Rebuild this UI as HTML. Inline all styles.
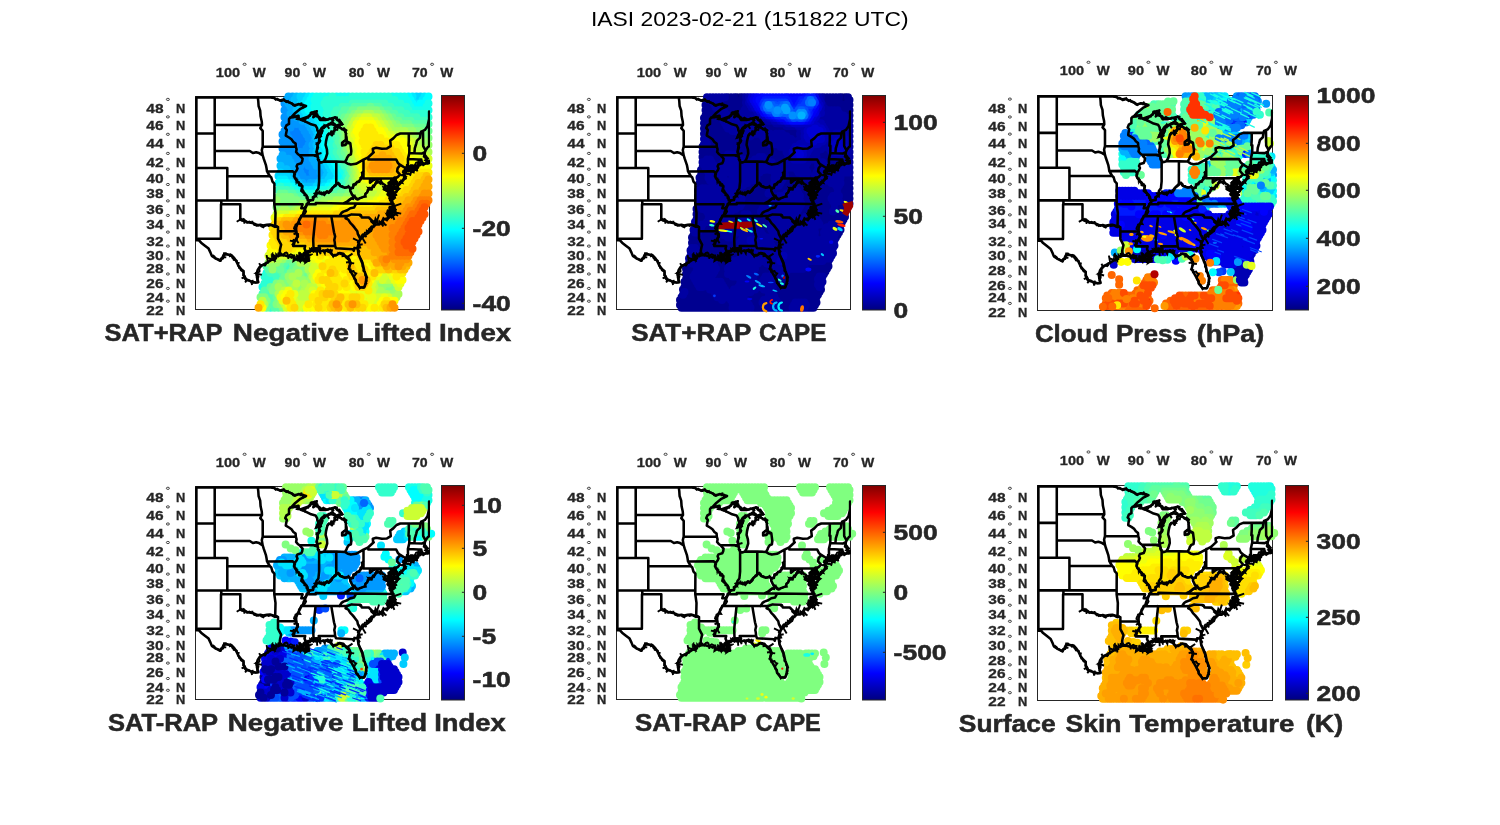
<!DOCTYPE html>
<html><head><meta charset="utf-8"><title>IASI 2023-02-21 (151822 UTC)</title>
<style>html,body{margin:0;padding:0;background:#fff;}body{width:1500px;height:825px;overflow:hidden;font-family:"Liberation Sans",sans-serif;}svg{display:block;}text{font-family:"Liberation Sans",sans-serif;filter:url(#ga);}.b{font-weight:bold;fill:#262626;stroke:#262626;stroke-width:0.3px;}.s6{stroke-width:0.55px;}.s5{stroke-width:0.5px;}</style></head><body>
<svg width="1500" height="825" viewBox="0 0 1500 825">
<defs>
<linearGradient id="jet" x1="0" y1="1" x2="0" y2="0">
<stop offset="0" stop-color="#000080"/>
<stop offset="0.125" stop-color="#0000ff"/>
<stop offset="0.375" stop-color="#00ffff"/>
<stop offset="0.625" stop-color="#ffff00"/>
<stop offset="0.875" stop-color="#ff0000"/>
<stop offset="1" stop-color="#800000"/>
</linearGradient>
<g id="states"><path d="M0.9 143.8L0.9 0.9L75.4 0.9M0.9 143.8L3.5 143.8M3.5 143.8L5.6 146.2L9.4 149.2L13.1 152.1L15.0 156.1L16.3 159.4L20.1 161.9L24.8 164.3L26.7 161.6L28.0 158.7L30.2 157.8L35.9 158.5L38.8 161.6L40.7 164.5L42.9 169.1L45.7 172.7L47.9 174.5L48.2 178.4L50.5 182.6L56.2 185.1L59.9 186.1L62.8 185.7M62.8 185.7L61.5 181.2L61.2 176.9L62.2 173.4L64.1 170.5L67.5 168.4L72.0 165.9L75.8 163.4L78.3 161.2L78.0 158.7L78.9 160.5L83.7 159.0M2.9 142.9L2.9 142.2L25.4 142.2L25.5 107.8M3.5 143.8L2.9 142.9M0.9 103.9L78.8 103.9M25.8 103.9L25.8 107.8L44.8 107.8L44.8 122.9M44.8 122.9L46.7 124.1L49.8 124.8L51.7 125.6L53.6 126.0L56.8 126.4L59.3 127.5L62.5 129.0L65.0 128.3L67.5 129.0L71.3 128.3L74.5 128.0L77.7 129.0L79.7 129.9L82.5 130.5M82.5 130.5L82.5 142.2L84.0 145.1L85.6 148.2L84.6 152.5L84.3 154.7L84.6 156.5L83.7 159.0M0.9 71.5L31.8 71.5L31.8 103.9M31.8 79.7L74.4 79.7M0.9 37.0L19.2 37.0M19.2 0.9L19.2 71.5M19.2 28.5L66.5 28.5M19.2 54.5L54.3 54.5L57.4 56.5L60.6 55.8L63.7 56.6L65.6 57.9L67.2 58.9M67.2 58.9L68.2 62.2L69.4 65.6L70.5 68.9L71.0 71.5L71.5 74.9L72.9 77.3L74.4 79.7L75.8 81.0L77.0 85.1L78.9 87.1L78.8 103.9L78.8 107.8M67.2 58.9L66.3 53.6L67.2 50.2L67.2 34.3L64.8 31.6L66.5 28.5M66.5 28.5L66.3 25.3L65.1 19.8L64.7 14.2L63.1 9.5L62.8 4.8L62.3 0.9M67.2 50.2L100.3 50.2M71.5 74.9L97.1 74.7L99.0 76.6M75.4 0.9L75.4 0.9M75.4 0.9L78.3 1.4L82.7 3.3L85.9 4.3L87.8 3.6L92.2 5.3L95.4 6.7L99.2 8.8L103.0 7.6L108.0 8.6L110.5 9.5L104.9 12.3L99.8 16.5L95.4 21.1L94.7 21.1M94.7 21.1L100.4 20.2L103.0 19.3L102.3 22.5L105.4 22.8M94.7 21.1L93.5 22.5L93.5 27.4L90.9 28.9L89.8 31.6L91.3 33.4L90.6 37.0L90.3 39.2L93.5 41.0L96.0 42.7L97.9 45.4L100.1 47.1L100.3 50.2M100.3 50.2L101.1 52.8L100.6 55.4L102.3 57.5L104.0 58.7L105.5 60.5L107.1 62.2L106.7 64.7L105.8 66.8L102.0 67.9L101.1 69.8L102.0 71.9L101.1 74.0L99.0 76.6L98.5 79.7L99.5 81.8L101.7 84.7L103.6 87.1L103.9 88.7L106.9 89.5L106.7 91.5L105.8 94.4L108.6 96.8L111.2 99.5L111.2 101.5L113.5 104.1M113.5 104.1L113.1 107.0L111.5 107.8L110.5 110.2L109.9 111.7L108.3 115.2L107.4 118.3L106.1 119.5L104.2 123.3L102.0 127.1L100.7 130.9L100.6 134.7L101.4 138.4L102.3 139.9L100.7 142.2L99.2 145.1L97.9 149.5L109.7 149.5L109.0 152.1L110.5 155.4M78.8 107.8L107.1 107.8L105.8 111.7L109.9 111.7M78.8 107.8L80.0 116.4L79.7 129.9M82.5 134.5L100.6 134.7M104.0 58.7L121.9 58.8M111.5 107.8L120.3 107.8L120.3 106.4L148.0 107.0L160.6 107.1L197.4 107.4M106.1 119.5L143.9 119.6L151.7 119.5M160.6 107.1L158.6 111.0L154.8 111.7L151.7 113.7L147.9 115.1L146.0 116.4L143.9 119.6M119.4 119.5L120.0 120.2L118.4 135.4L117.7 142.9L118.1 154.2M135.8 119.6L138.5 135.7L139.6 139.9L138.8 143.6L139.3 145.9L139.6 149.5M139.6 149.5L123.2 149.5L124.5 152.1L123.7 154.8M139.6 149.5L140.5 151.7L157.3 152.7L158.3 154.2L158.9 151.4L162.1 151.7M165.7 141.9L164.3 141.4L162.4 137.7L161.8 134.7L158.9 130.9L157.0 128.6L154.8 126.4L152.9 123.3L151.7 122.5L150.1 121.8L151.7 119.5M151.7 119.5L156.1 117.9L164.6 118.3L164.6 119.1L165.4 118.7L166.3 120.9L173.3 121.0L180.4 128.1M148.0 107.0L151.7 105.1L154.2 103.1L156.7 101.5L158.8 99.6L156.7 98.4L154.8 94.4L154.8 92.6M158.8 99.6L161.1 102.3L163.7 101.9L165.9 101.1L169.4 99.9L170.0 97.2L171.6 96.0L173.5 91.5L175.7 92.6L177.6 89.5L178.4 89.8L181.7 84.7L185.0 86.9L185.7 85.3M168.0 74.5L167.1 76.4L166.8 79.7L165.9 82.2L163.7 84.7L161.5 85.5L160.2 87.9L158.6 88.3L157.3 91.1L154.8 92.6L153.2 90.3L150.4 91.1L147.9 90.7L144.7 89.5L142.8 87.1L140.8 87.1L140.6 88.7L138.4 90.3L136.8 91.5L135.2 93.6L133.3 96.0L131.4 94.8L130.1 96.5L128.3 96.1L126.4 97.6L123.2 96.4L120.7 97.6L120.0 99.9L117.8 100.7L117.5 103.3L113.5 104.1M120.3 97.6L121.0 94.4L122.9 91.9L123.6 85.1L123.6 65.1M140.8 87.1L140.8 65.6M128.3 65.1L140.8 65.1L149.4 65.4M105.4 22.8L113.7 26.8L115.6 27.8L120.0 28.9L121.6 31.6L121.9 33.9L123.2 36.1M168.0 63.0L168.0 82.0L197.9 82.0M172.8 60.8L172.8 63.0L200.7 63.0L202.4 66.4L204.8 68.4L202.1 71.7L201.6 74.8L204.5 78.1L202.2 80.6L200.3 81.4M174.5 82.0L174.5 86.3L176.9 84.2L179.2 83.0L181.4 82.9L182.6 82.4L184.9 83.0L185.7 85.3L187.1 87.1L189.5 88.5L190.0 89.5L188.3 92.8L190.2 93.6L194.7 96.4M197.9 82.0L199.1 81.1L200.3 81.4M197.9 82.0L198.5 92.4L202.6 92.4M204.8 68.4L209.8 71.5L209.2 74.0M212.4 62.6L212.5 68.9L210.9 70.6L211.4 71.5M212.4 62.6L213.8 56.6L213.9 49.3L213.0 49.3L213.3 44.1L213.3 37.0M225.0 37.0L204.8 37.0L201.0 38.5L197.8 41.9L194.7 44.1L195.3 49.7L191.5 51.9L186.4 52.3L180.7 51.3L177.3 52.3L177.6 55.4L178.2 55.8L172.8 60.8L168.0 63.2L160.5 67.3L155.4 68.1L152.3 67.3L149.4 65.4M212.4 62.6L223.1 62.9L225.8 62.9L225.8 63.9L227.4 67.3M223.1 62.9L223.1 68.1L222.8 68.8M213.8 56.6L218.9 56.8L226.3 57.1L229.3 55.6M218.9 56.8L219.3 51.9L220.6 47.6L221.5 44.1L224.4 41.4L225.0 37.0L225.6 35.2L227.5 34.3L227.7 49.6L230.1 53.9M227.5 34.3L229.4 33.4L232.0 29.8L233.6 22.5M83.7 159.0L87.8 158.5L93.5 160.1L96.6 160.5L99.8 161.9L102.3 163.7L106.7 163.4L111.8 164.1L113.7 164.1L111.8 160.5L110.5 157.6L111.8 156.5L110.5 155.4L114.3 154.1L118.1 154.2L120.0 154.7L120.7 151.7L121.3 153.9L123.7 154.8L130.1 153.9L134.6 155.8L137.7 159.0L140.3 159.0L144.1 156.5L147.9 157.2L150.4 160.5L153.5 163.4L154.5 167.7L153.5 172.0L155.1 174.8L158.0 179.8L159.9 183.3L160.5 186.1L164.3 191.0L168.7 191.0L170.3 186.8L170.9 179.8L168.7 174.1L167.5 168.4L165.6 164.1L163.0 157.6L162.1 151.7L163.0 147.3L164.3 143.6L165.7 141.9L168.4 139.5L171.9 136.9L175.7 133.9L176.9 130.9L180.4 128.1L183.9 127.9L184.5 127.1L188.3 122.9L192.1 121.8L194.7 119.9L199.4 117.6L199.7 113.3L197.4 107.4L196.6 104.7L194.7 103.9L194.7 99.1L194.7 96.4L194.0 93.6L193.4 89.5L194.0 86.3L195.9 83.8L195.3 87.9L194.7 91.9L197.2 94.4L197.8 96.4L196.9 102.7L198.8 96.4L200.3 96.0L202.6 92.4L202.2 89.5L200.3 85.5L199.4 83.0L200.3 81.4M194.7 119.9L192.8 118.7L193.4 116.4L196.6 116.4L197.8 112.5L194.0 111.7L197.2 110.2L197.4 107.4M199.4 83.0L201.6 85.9L203.5 88.3L206.7 84.7L208.6 81.8L209.2 76.4L207.6 75.6L209.2 74.0M209.2 74.8L213.6 74.5L218.7 73.0L222.5 71.0L220.0 70.6L218.1 71.7L214.3 72.0L210.8 72.7L209.2 74.8M211.4 71.5L216.2 69.4L221.9 68.9L222.8 68.8L225.0 68.4L225.6 65.6L226.9 67.3L227.4 67.3L230.1 66.8M123.2 36.1L120.7 41.0L123.8 38.3L127.0 34.3L123.8 41.4L123.5 44.9L122.2 48.4L121.3 54.1L121.9 58.8L122.9 63.9L123.6 65.1L125.7 66.0L128.3 65.1L130.1 62.2L131.7 57.1L131.4 52.8L130.1 48.4L130.5 44.9L131.7 39.6L133.3 37.4L135.8 37.0L135.8 35.2L136.5 38.8L137.4 35.2L139.6 33.4L139.0 31.2L141.2 30.0L144.7 31.2L149.4 34.3L150.4 37.0L150.4 43.2L146.6 46.2L146.6 48.9L149.4 48.4L152.3 45.4L154.8 46.7L155.8 54.5L155.4 57.9L153.2 58.8L151.7 60.9L151.0 63.0L149.4 65.4M123.2 36.1L126.4 31.2L128.9 29.3L131.4 28.9L135.8 27.5L141.2 29.2L144.1 28.0L146.6 28.0L145.3 25.7L143.7 23.4L142.2 23.9L139.6 21.0L136.5 21.8L130.1 23.4L124.5 23.4L122.6 20.2L119.4 19.3L117.8 20.7L121.3 14.7L116.9 16.5L112.4 20.2L105.4 22.8M233.6 15.1L233.6 49.7L232.3 50.6L230.1 53.9M230.1 53.9L229.4 55.6L229.1 57.9L228.5 60.1L230.1 61.3L230.7 63.5L233.6 64.7M233.6 64.7L233.6 66.4L230.1 66.8" fill="none" stroke="#000" stroke-width="2.55" stroke-linejoin="round" stroke-linecap="round"/><path d="M62.6 185.7L62.5 184.6L61.6 183.6L62.2 182.2L62.7 181.1L63.0 179.7L60.9 178.4L60.6 176.8L66.3 178.3L60.6 176.8L62.5 176.0L64.0 175.2L64.1 174.7L63.9 173.2L64.0 171.9L64.2 170.7L65.3 170.0L63.7 166.7L65.3 170.0L66.0 168.5L67.4 168.2L69.4 169.1L70.3 168.1L70.7 166.2L72.2 166.2L72.1 164.0L71.6 161.2L71.1 158.6L71.6 161.2L73.4 161.9L75.1 162.6L77.4 163.5L79.2 163.9L77.0 158.3L79.2 163.9L80.3 161.0L77.7 160.0L76.8 159.3L79.6 162.8L80.7 162.0L80.7 157.9L82.7 160.0L83.7 159.0M83.6 158.4L82.4 156.0L83.6 158.4L84.7 156.5L84.4 153.4L84.7 156.5L86.3 157.6L87.9 158.0L89.6 156.3L87.3 159.6L89.6 156.3L90.9 156.1L91.9 156.9L92.5 159.1L92.9 162.4L92.5 159.1L93.6 158.9L95.3 157.9L97.4 158.9L95.3 162.1L97.4 158.9L98.6 158.9L98.2 162.6L97.9 164.6L101.6 162.1L102.2 162.7L103.4 163.0L104.7 165.0L105.5 162.1L103.5 159.3L105.5 162.1L107.0 161.6L108.2 162.0L109.6 161.4L110.7 162.6L111.8 161.5L112.5 158.2L111.8 161.5L110.1 166.0L113.7 163.5L110.1 166.0L108.8 165.1L108.4 163.8L112.4 160.2L112.6 158.4L111.5 158.7L112.4 161.3L111.5 158.7L112.4 155.8L110.3 157.0L112.4 155.8L111.3 157.5L112.1 155.8L112.7 158.3L112.1 155.8L113.4 155.4L114.3 155.9L115.6 154.8L116.4 150.8L115.6 154.8L116.9 152.8L118.0 154.6L120.4 151.1L118.0 154.6L121.1 154.9L116.5 154.7L121.1 154.9L122.3 153.6L119.8 152.0L120.8 152.9L123.2 150.7L120.8 152.9L121.4 153.5L121.7 159.3L121.4 153.5L122.7 154.0L123.7 154.8M123.7 154.6L125.2 157.7L123.7 154.6L125.1 155.2L126.3 154.7L127.5 153.8L129.3 157.0L129.6 155.2L131.9 152.9L133.0 153.4L133.9 154.4L135.5 152.5L133.9 154.4L136.4 154.0L135.9 156.1L136.0 157.6L136.8 158.4L137.7 160.2L139.0 158.2L139.7 158.2L141.0 158.1L142.2 157.8L142.7 156.5L144.0 156.9L145.2 157.5L146.4 157.9L146.9 158.0L147.0 159.6L149.8 159.2L150.9 159.9L152.8 159.9L157.0 157.1L152.8 159.9L153.3 161.5L154.3 163.2L154.3 164.3L155.0 165.3L150.5 166.0L155.0 165.3L155.1 166.4L158.7 166.9L155.1 166.4L155.1 167.8L154.0 169.1L153.9 170.6L153.0 172.3L155.1 173.0L154.8 175.0L158.0 174.5L158.6 175.5L159.3 176.4L160.7 176.9L159.1 179.2L158.4 181.1L158.8 182.4L160.3 183.2L160.8 184.6L160.5 186.1L161.3 187.1L162.6 187.6L163.0 188.9L163.5 190.0L164.3 191.9L165.4 190.9L166.5 190.8L167.6 191.2L168.7 191.0M168.3 190.8L169.0 189.9L169.5 188.9L169.4 187.7L170.8 186.9L170.1 185.6L171.2 184.5L171.0 183.3L171.0 182.1L171.6 181.0L170.5 180.0L169.7 179.0L169.7 177.6L169.6 176.4L169.2 175.2L167.8 174.3L168.0 173.1L168.0 171.9L167.4 170.8L166.9 169.7L166.9 168.6L168.4 168.3L166.9 168.6L167.1 167.3L167.2 166.0L166.8 164.8L166.2 163.9L165.7 162.8L165.1 161.8L164.4 160.8L164.0 159.7L163.2 158.8L163.0 157.6L162.9 156.4L164.0 155.0L163.3 153.9L162.5 152.8L162.1 151.7M162.1 151.7L164.7 151.1L164.1 149.8L163.1 148.5L167.2 147.7L163.1 148.5L163.9 147.6L162.3 145.7L164.1 147.6L162.3 145.7L162.8 144.5L157.5 141.9L162.8 144.5L164.6 143.9L164.8 142.6L165.0 141.1L163.4 138.6L165.0 141.1L166.9 141.5L170.2 147.1L166.9 141.5L166.3 139.0L167.1 137.8L168.7 137.6L170.9 140.7L168.7 137.6L169.4 136.1L171.2 136.0L171.3 134.2L173.4 135.0L173.4 132.9L175.1 133.7L174.4 131.6L176.0 129.8L178.0 130.5L178.1 128.8L178.6 127.7L175.0 124.5L178.6 127.7L180.0 122.2L181.4 124.8L183.6 118.0L181.4 124.8L182.7 126.7L179.7 121.8L182.7 126.7L182.7 126.9L176.1 124.0L182.7 126.9L184.4 127.0L184.5 125.5L187.9 129.9L184.5 125.5L187.1 126.4L191.0 129.0L187.1 126.4L187.6 125.3L190.0 128.6L187.6 125.3L187.1 123.4L187.9 121.5L189.7 123.0L191.4 124.0L192.6 122.4L193.7 121.2L194.7 119.9M193.1 116.7L195.3 118.2L197.2 119.2L198.9 123.3L197.2 119.2L198.6 118.9L199.9 117.6L202.6 119.2L199.9 117.6L201.2 116.3L205.7 117.1L201.2 116.3L199.0 114.7L200.2 113.1L198.5 112.4L199.0 110.9L199.8 109.2L205.8 107.1L199.8 109.2L197.7 108.7L198.1 107.2L195.3 106.6L197.4 104.8L195.3 106.6L197.1 103.4L200.0 100.5L197.1 103.4L194.7 103.9M194.2 120.6L192.7 120.9L191.4 118.4L196.9 121.7L191.4 118.4L191.7 117.2L193.4 115.3L195.0 116.2L194.9 115.8L195.3 114.6L194.5 112.9L198.1 111.1L197.2 109.3L195.5 110.8L193.2 110.1L194.7 110.5L196.7 111.9L198.7 110.3L194.4 110.3L198.7 110.3L197.8 108.8L197.4 107.4M198.8 103.3L197.8 101.8L193.4 102.2L197.8 101.8L199.7 101.3L199.3 100.0L199.7 98.9L201.7 98.4L199.4 98.9L199.6 95.5L201.5 95.0L202.1 93.7L204.0 92.2L201.3 91.1L200.9 90.1L198.0 90.3L194.2 91.5L198.0 90.3L199.2 88.5L197.2 90.0L199.2 88.5L200.3 86.7L201.2 85.1L200.1 84.2L200.2 82.4L199.8 84.3L201.7 80.1L199.8 84.3L197.6 87.5L200.5 86.8L201.7 87.7L202.7 87.6L203.9 87.1L204.1 85.6L206.9 86.5L205.7 84.0L207.9 84.1L208.4 83.1L210.5 82.0L210.4 80.7L209.5 79.2L204.9 78.5L209.5 79.2L207.9 77.6L209.4 76.1L208.3 76.2L207.9 74.3L209.2 74.0M209.3 77.1L210.4 76.5L211.8 73.1L210.4 76.5L211.6 77.6L212.7 77.1L214.8 78.4L216.3 73.0L214.8 78.4L215.3 75.5L216.6 75.1L218.2 75.9L218.8 73.3L220.6 73.6L220.3 69.8L221.8 75.0L221.2 71.0L219.4 69.6L218.0 71.1L216.3 68.3L218.0 71.1L216.8 71.6L215.3 69.1L214.0 70.5L213.0 71.5L213.8 68.9L213.0 71.5L211.8 71.7L210.8 72.7M211.2 71.1L211.4 67.6L211.2 71.1L213.1 72.0L214.5 72.0L215.8 71.7L216.1 69.0L217.3 69.3L218.5 69.6L219.5 68.4L220.5 66.2L221.3 66.0L222.3 66.1L223.9 68.6L222.8 67.9L225.3 67.0L225.2 65.9L226.9 67.9L227.7 68.8L228.9 68.0L230.1 67.3L231.3 66.9L230.0 65.0L231.3 66.9L232.4 66.5L233.4 66.4L233.8 64.3L231.8 64.9L232.4 68.1L231.8 64.9L229.7 63.8L232.5 61.8L231.0 60.2L230.6 60.7L230.7 59.6L229.1 57.9M44.6 123.2L41.2 125.2L44.6 123.2L46.4 122.4L46.9 123.2L48.6 123.1L48.9 127.2L48.6 123.1L50.1 124.1L51.6 126.3L53.7 125.1L55.3 125.7L56.9 126.1L56.8 124.3L56.9 126.1L58.0 127.0L58.8 128.6L60.1 128.5L61.3 128.8L60.0 129.8L61.3 128.8L62.2 128.2L63.6 128.2L64.8 128.8L65.9 130.0L67.9 130.9L68.9 129.5L70.2 129.4L71.4 128.7L73.0 129.5L74.2 129.0L75.4 128.8L76.5 128.9L77.4 129.7L79.5 130.6L81.2 129.5L82.5 130.5M113.5 104.1L113.0 105.5L112.5 106.0L110.8 107.6L111.2 109.1L109.7 109.9L108.8 111.2L109.9 113.1L110.6 114.9L110.2 115.8L109.3 117.2L108.3 119.3L105.6 119.2L105.0 120.5L104.3 121.8L103.4 122.9L103.3 124.1L103.5 125.5L104.6 127.4L102.3 127.2L100.1 127.9L99.6 129.1L98.8 130.8L98.5 132.1L100.3 133.4L100.5 134.7L101.0 135.9L98.1 138.1L101.0 135.9L100.9 137.2L102.6 137.6L102.6 140.1L101.2 140.8L101.5 142.6L101.2 143.7L103.1 146.7L101.2 143.7L99.8 144.2L97.2 143.1L99.8 144.2L97.8 144.7L94.4 144.1L97.8 144.7L97.8 145.9L97.7 147.1L96.9 148.1L97.9 149.5M99.9 76.8L99.5 78.3L99.0 79.5L99.4 80.6L99.4 81.8L101.0 82.1L100.9 83.7L101.0 85.2L102.3 82.7L101.0 85.2L103.3 85.4L104.5 86.9L104.1 88.1L105.8 87.7L106.5 89.5L106.2 91.4L106.3 93.0L106.9 93.0L107.8 93.9L108.3 95.3L109.1 96.3L109.8 97.4L108.4 99.6L109.8 97.4L110.8 98.2L111.2 99.5L112.3 100.5L112.5 101.8L112.0 103.9L113.5 104.1M140.4 87.1L140.2 88.2L139.0 88.8L138.1 90.0L137.0 91.7L136.6 93.0L135.9 94.1L134.3 93.8L135.9 94.1L134.9 95.3L133.0 96.5L132.1 95.9L132.0 95.2L130.1 96.7L128.4 99.6L130.1 96.7L128.5 96.5L128.3 98.1L126.3 97.6L125.8 96.0L124.3 96.6L123.7 94.0L124.3 96.6L123.4 96.7L121.6 96.2L120.2 97.4L120.5 98.8L118.2 96.3L120.5 98.8L119.7 99.1L118.7 99.6L117.1 100.7L118.0 102.1L117.6 103.7L116.2 103.5L114.9 104.3L113.5 104.1M168.4 74.6L166.2 76.3L166.9 77.5L166.6 78.6L166.5 79.6L165.5 80.6L164.8 81.2L164.8 82.7L164.1 83.6L163.9 85.4L163.7 83.9L163.9 85.4L162.8 85.7L161.9 85.7L160.2 86.4L160.0 87.0L157.6 87.9L157.5 89.5L157.6 91.5L155.6 91.1L154.7 92.7L154.2 91.3L153.0 89.5L151.9 90.9L150.4 91.0L149.1 91.4L148.0 90.5L147.0 89.7L145.8 89.7L144.9 89.4L144.5 87.7L142.8 86.1L140.8 87.1M147.9 106.8L149.2 106.5L150.4 105.7L151.6 105.0L153.2 104.4L154.3 103.3L155.2 102.0L157.6 102.5L157.5 100.3L159.0 99.4L159.0 101.0L159.8 101.9L161.2 103.0L162.5 103.0L162.1 101.7L162.5 103.0L163.8 102.2L164.8 101.6L166.0 101.4L167.0 100.5L168.2 100.2L170.3 100.1L169.7 98.6L170.0 97.2L171.4 95.9L172.1 94.9L172.1 93.6L174.0 93.1L173.2 92.0L174.4 92.5L176.3 93.0L176.6 91.7L174.5 91.3L176.6 91.7L177.3 90.8L177.7 89.3L178.6 89.9L177.0 88.6L178.6 89.9L178.8 88.6L179.7 87.7L180.0 86.4L182.5 86.4L180.0 86.4L180.5 85.3L181.8 84.4L182.7 85.5L184.2 85.6L185.2 86.9L185.7 85.3M17.0 158.3L17.7 159.3L18.8 159.8L19.4 160.9L20.0 162.1L21.5 162.2L22.6 162.8L24.0 163.1L24.2 163.9L26.0 164.6L24.2 163.9L25.1 163.1L25.5 162.0L27.6 162.0L28.4 160.6L30.8 160.9L28.4 160.6L28.1 158.8L28.5 156.6L30.4 156.6L31.4 157.4L32.5 158.3L33.6 158.8L34.8 158.1L35.4 159.0L33.6 160.2L35.4 159.0L36.3 160.1L36.9 161.4L37.8 162.2L38.2 163.3L39.9 163.6L41.3 164.2L41.3 165.6L42.5 166.4L44.1 166.4L42.5 166.4L42.6 167.8L42.7 169.2L43.3 170.3L43.6 171.5L44.7 172.0L45.2 173.4L46.1 174.4L47.1 174.5L48.9 175.0L47.1 174.5L48.2 175.7L48.0 177.1L47.6 178.7L48.3 179.7L49.2 180.5L46.1 181.9L49.2 180.5L49.0 182.0L50.2 183.3L51.4 183.6L49.6 185.9L51.4 183.6L52.7 183.6L52.1 185.0L52.7 183.6L53.9 184.1L54.9 184.9L55.9 185.9L56.6 188.4L55.9 185.9L57.2 186.1L56.9 183.4L57.2 186.1L58.6 185.9L59.9 186.1L61.4 186.1L62.8 185.7M122.5 35.7L122.3 36.9L122.2 38.1L121.3 38.8L121.4 40.1L120.7 41.1L122.1 40.6L123.3 39.9L123.5 38.1L124.6 37.3L126.1 36.8L126.0 35.2L125.7 33.7L126.4 35.3L126.2 36.4L124.4 36.8L124.9 38.2L125.7 39.8L124.6 40.6L123.1 41.3L123.7 42.6L124.9 43.9L124.5 45.3L123.7 46.3L121.1 46.7L121.7 48.3L120.2 47.1L121.7 48.3L122.3 49.6L122.7 50.8L122.3 51.9L121.9 53.0L121.3 54.1L120.7 55.4L121.0 56.5L121.9 57.6L126.0 56.5L121.9 57.6L121.0 59.0L121.7 60.1L118.4 59.3L121.7 60.1L122.8 61.3L122.2 62.7L123.7 63.4L123.6 65.1M131.4 39.4L132.0 38.2L133.2 36.8L134.6 37.1L135.9 37.0L136.1 35.1L137.6 36.1L138.2 37.2L134.7 38.3L136.5 37.5L137.3 36.4L137.8 35.7L138.5 34.3L139.0 36.2L138.5 34.3L140.5 33.2L139.3 32.3L139.2 31.6L139.8 33.0L139.2 31.6L140.1 30.6L141.1 30.2L142.4 30.3L141.6 34.3L142.4 30.3L143.9 29.7L144.8 31.0L145.7 31.7L146.3 32.8L148.5 31.7L149.3 32.5L151.0 33.8L149.9 35.6L150.9 37.0L150.3 38.2L150.9 39.5L151.3 40.7L151.4 41.9L151.6 44.7L150.2 44.9L148.5 44.7L147.6 45.5L146.9 46.2L147.3 47.6L146.4 47.7L148.0 48.3L149.8 48.7L150.9 47.9L151.1 46.2L152.2 45.5L153.1 46.9L154.8 46.7M123.7 36.4L123.8 35.1L126.2 36.8L123.8 35.1L126.1 35.1L126.1 33.8L126.0 32.3L127.2 32.3L128.6 31.7L128.9 29.3L130.4 31.3L128.9 29.3L130.1 28.9L131.4 28.9L133.8 32.3L131.4 28.9L132.3 27.9L133.3 27.1L134.4 26.9L136.5 25.5L138.5 23.1L136.5 25.5L137.5 26.0L138.4 26.8L139.4 27.3L140.0 29.2L141.3 29.3L142.5 28.3L144.1 27.9L145.3 28.2L147.1 27.7L146.3 26.7L145.3 25.7L143.5 25.3L143.8 23.5L143.1 23.1L141.3 22.9L141.5 21.0L139.6 20.6L138.2 21.7L137.0 23.8L135.4 22.7L133.8 21.9L132.8 23.1L131.5 23.3L130.1 22.4L129.0 21.8L127.9 21.2L126.7 22.1L125.6 21.8L125.4 22.9L125.1 21.6L124.4 20.6L122.8 19.5L121.3 18.6L122.6 17.1L121.3 18.6L118.9 18.8L117.8 20.6L118.6 19.8L119.2 18.8L119.7 17.7L121.4 17.4L120.9 15.8L121.7 15.6L120.4 15.6L118.9 15.1L117.8 15.5L116.2 15.7L118.2 19.0L116.2 15.7L115.1 16.2L114.9 17.8L114.7 19.3L113.6 19.8L112.8 21.2L111.4 21.2L110.5 22.2L109.1 22.1L109.9 26.0L109.1 22.1L108.0 22.7L107.2 24.1L105.3 23.7L103.9 22.0L102.9 22.6L100.1 22.6L102.9 22.6L103.5 21.1L103.0 19.5L101.5 19.3L100.4 19.8L99.2 19.6L98.2 20.8L97.0 20.9L95.9 20.9L94.7 21.1M75.4 1.2L77.0 0.7L78.5 0.9L79.3 2.2L80.1 3.3L81.9 2.2L82.8 3.0L83.7 3.7L84.7 4.5L85.6 3.4L88.1 2.7L89.1 1.9L88.1 2.7L89.0 3.6L89.8 4.9L90.8 5.6L92.5 4.6L93.2 5.9L94.4 5.9L95.6 6.3L96.9 6.9L97.6 8.7L99.4 9.5L100.6 8.9L101.8 8.3L102.9 7.8L104.2 7.9L105.4 8.5L106.0 5.9L105.4 8.5L106.8 8.3L107.7 9.4L106.9 12.0L107.7 9.4L109.0 9.8L110.5 9.5" fill="none" stroke="#000" stroke-width="1.9" stroke-linejoin="miter" stroke-linecap="butt"/><path d="M193.1 85.2L195.2 85.1L197.3 83.3L195.6 85.2L197.8 86.3L198.1 88.0L196.1 89.1L201.7 91.3L197.5 91.8L197.6 93.2L197.2 94.8L198.7 96.0L199.3 97.8L196.8 99.0L198.5 100.9L197.4 102.4L196.2 104.4L195.9 103.7L193.2 102.6L193.3 101.3L193.4 100.0L191.7 99.2L191.1 97.7L193.0 94.3L190.0 94.5L188.5 93.0L186.6 89.4L191.2 91.5L190.5 89.1L192.9 88.2L192.0 86.3ZM191.2 115.2L191.7 113.2L194.0 113.2L194.8 112.9L196.5 111.7L196.9 111.3L199.1 112.4L199.7 113.9L200.3 116.4L197.7 116.5L197.2 118.3L195.8 118.3L194.5 118.5L192.1 120.6L192.6 117.3L190.9 116.4ZM100.5 160.0L101.0 158.0L103.2 159.1L103.1 155.8L104.8 155.7L106.6 157.8L107.8 155.8L109.8 154.7L110.8 156.5L111.9 157.7L117.4 157.6L113.6 160.2L114.6 161.4L113.9 162.5L112.7 165.3L110.5 163.0L109.1 159.8L107.6 162.8L105.8 164.9L104.7 163.2L102.9 164.2L102.3 162.3L101.2 161.3L99.8 160.3ZM113.8 151.2L116.1 152.7L118.6 154.6L118.6 150.3L120.3 152.4L121.8 151.2L122.7 152.2L124.0 152.7L123.6 153.6L125.1 154.9L123.5 152.5L122.3 155.5L120.8 154.9L119.6 154.3L117.7 156.3L116.9 152.3L114.9 154.7ZM210.9 71.0L212.5 70.9L214.0 70.7L214.7 68.4L216.3 68.5L218.0 68.9L219.4 68.7L221.3 71.1L222.1 67.4L223.4 66.6L225.2 67.7L224.3 68.3L223.5 70.6L221.9 71.8L220.3 70.7L219.0 71.8L217.4 71.1L216.6 76.6L214.7 73.0L213.2 72.0L211.0 73.1ZM75.8 157.7L77.3 155.9L77.7 158.3L80.3 159.9L79.0 161.8L76.9 159.4L74.6 162.6L76.2 161.0L75.8 159.7Z" fill="#000" stroke="#000" stroke-width="0.8" stroke-linejoin="miter"/></g>
<clipPath id="mapclip"><rect x="-0.4" y="-0.6" width="234.8" height="214"/></clipPath>
<filter id="ga" x="-5%" y="-20%" width="110%" height="140%"><feOffset dx="0" dy="0"/></filter>
</defs>
<rect width="1500" height="825" fill="#fff"/>
<text x="591" y="26.4" font-size="20.6" fill="#000" textLength="317.5" lengthAdjust="spacingAndGlyphs">IASI 2023-02-21 (151822 UTC)</text>
<rect x="195.5" y="96.5" width="234.0" height="213.0" fill="#fff" stroke="#262626" stroke-width="1"/>
<g transform="translate(195.5 96.5) scale(1.00000 1.00000)">
<g fill="none" stroke-width="8" stroke-linecap="round"><path d="M99 31.1h0M103 31.1h0M93 34.6h0M97 34.6h0M101 34.6h0M105 34.6h0M95 38h0M99 38h0M103 38h0M107 38h0M97 41.5h0M101 41.5h0M105 41.5h0M109 41.5h0M99 45h0M103 45h0M107 45h0M111 45h0M101 48.4h0M105 48.4h0M109 48.4h0M103 51.9h0M107 51.9h0M109 69.2h0M107 72.7h0M111 72.7h0M115 72.7h0M109 76.1h0M113 76.1h0M111 79.6h0M115 79.6h0" stroke="#0080ff"/><path d="M89 6.9h0M91 10.3h0M89 13.8h0M93 13.8h0M91 17.2h0M89 20.7h0M93 20.7h0M97 20.7h0M91 24.2h0M95 24.2h0M99 24.2h0M103 24.2h0M89 27.6h0M93 27.6h0M97 27.6h0M101 27.6h0M105 27.6h0M109 27.6h0M91 31.1h0M95 31.1h0M107 31.1h0M111 31.1h0M89 34.6h0M109 34.6h0M113 34.6h0M87 38h0M91 38h0M111 38h0M115 38h0M89 41.5h0M93 41.5h0M113 41.5h0M117 41.5h0M87 45h0M91 45h0M95 45h0M115 45h0M89 48.4h0M93 48.4h0M97 48.4h0M113 48.4h0M87 51.9h0M91 51.9h0M95 51.9h0M99 51.9h0M111 51.9h0M115 51.9h0M89 55.4h0M93 55.4h0M97 55.4h0M101 55.4h0M105 55.4h0M109 55.4h0M113 55.4h0M91 58.8h0M95 58.8h0M99 58.8h0M103 58.8h0M107 58.8h0M111 58.8h0M115 58.8h0M97 62.3h0M101 62.3h0M105 62.3h0M109 62.3h0M113 62.3h0M99 65.7h0M103 65.7h0M107 65.7h0M111 65.7h0M115 65.7h0M101 69.2h0M105 69.2h0M113 69.2h0M117 69.2h0M99 72.7h0M103 72.7h0M119 72.7h0M123 72.7h0M101 76.1h0M105 76.1h0M117 76.1h0M121 76.1h0M103 79.6h0M107 79.6h0M119 79.6h0M123 79.6h0M105 83.1h0M109 83.1h0M113 83.1h0M117 83.1h0M121 83.1h0M111 86.5h0" stroke="#0095ff"/><path d="M93 -0.1h0M97 -0.1h0M91 3.4h0M95 3.4h0M93 6.9h0M97 6.9h0M95 10.3h0M99 10.3h0M97 13.8h0M95 17.2h0M99 17.2h0M101 20.7h0M105 20.7h0M107 24.2h0M111 24.2h0M113 27.6h0M115 31.1h0M117 34.6h0M119 38h0M119 45h0M117 48.4h0M119 51.9h0M117 55.4h0M87 58.8h0M119 58.8h0M85 62.3h0M89 62.3h0M93 62.3h0M117 62.3h0M121 62.3h0M87 65.7h0M91 65.7h0M95 65.7h0M119 65.7h0M123 65.7h0M89 69.2h0M93 69.2h0M97 69.2h0M121 69.2h0M125 69.2h0M95 72.7h0M127 72.7h0M97 76.1h0M125 76.1h0M129 76.1h0M99 79.6h0M127 79.6h0M101 83.1h0M125 83.1h0M107 86.5h0M115 86.5h0M119 86.5h0" stroke="#00aaff"/><path d="M101 -0.1h0M99 3.4h0M103 3.4h0M101 6.9h0M103 10.3h0M101 13.8h0M103 17.2h0M109 20.7h0M115 24.2h0M117 27.6h0M119 31.1h0M121 34.6h0M121 41.5h0M123 45h0M121 48.4h0M121 55.4h0M123 58.8h0M125 62.3h0M127 65.7h0M85 69.2h0M129 69.2h0M87 72.7h0M91 72.7h0M131 72.7h0M89 76.1h0M93 76.1h0M133 76.1h0M95 79.6h0M131 79.6h0M97 83.1h0M129 83.1h0M103 86.5h0M123 86.5h0M109 90h0M113 90h0M117 90h0" stroke="#00bfff"/><path d="M105 -0.1h0M109 -0.1h0M221 -0.1h0M225 -0.1h0M107 3.4h0M219 3.4h0M223 3.4h0M105 6.9h0M107 10.3h0M105 13.8h0M107 17.2h0M113 20.7h0M117 20.7h0M119 24.2h0M121 27.6h0M123 31.1h0M123 38h0M125 41.5h0M125 48.4h0M123 51.9h0M125 55.4h0M127 58.8h0M131 65.7h0M133 69.2h0M135 72.7h0M85 76.1h0M137 76.1h0M83 79.6h0M87 79.6h0M91 79.6h0M135 79.6h0M139 79.6h0M93 83.1h0M133 83.1h0M137 83.1h0M99 86.5h0M127 86.5h0M131 86.5h0M105 90h0M121 90h0M125 90h0" stroke="#00d4ff"/><path d="M113 -0.1h0M217 -0.1h0M229 -0.1h0M111 3.4h0M227 3.4h0M109 6.9h0M221 6.9h0M111 10.3h0M109 13.8h0M111 17.2h0M115 17.2h0M121 20.7h0M123 24.2h0M125 27.6h0M125 34.6h0M127 38h0M127 45h0M127 51.9h0M129 55.4h0M129 62.3h0M135 65.7h0M137 69.2h0M139 72.7h0M141 76.1h0M143 79.6h0M85 83.1h0M89 83.1h0M141 83.1h0M95 86.5h0M135 86.5h0M101 90h0M129 90h0M107 93.5h0M111 93.5h0M115 93.5h0M119 93.5h0" stroke="#00eaff"/><path d="M117 -0.1h0M213 -0.1h0M233 -0.1h0M115 3.4h0M215 3.4h0M231 3.4h0M113 6.9h0M117 6.9h0M217 6.9h0M225 6.9h0M229 6.9h0M115 10.3h0M219 10.3h0M223 10.3h0M227 10.3h0M113 13.8h0M117 13.8h0M121 13.8h0M119 17.2h0M123 17.2h0M125 20.7h0M127 24.2h0M129 27.6h0M127 31.1h0M129 34.6h0M131 38h0M129 41.5h0M131 45h0M129 48.4h0M131 51.9h0M133 55.4h0M131 58.8h0M133 62.3h0M139 65.7h0M141 69.2h0M143 72.7h0M145 76.1h0M147 79.6h0M145 83.1h0M83 86.5h0M87 86.5h0M91 86.5h0M139 86.5h0M97 90h0M133 90h0M103 93.5h0M123 93.5h0" stroke="#00ffff"/><path d="M121 -0.1h0M125 -0.1h0M129 -0.1h0M133 -0.1h0M141 -0.1h0M145 -0.1h0M149 -0.1h0M153 -0.1h0M197 -0.1h0M201 -0.1h0M205 -0.1h0M209 -0.1h0M119 3.4h0M123 3.4h0M127 3.4h0M203 3.4h0M207 3.4h0M211 3.4h0M121 6.9h0M125 6.9h0M209 6.9h0M213 6.9h0M233 6.9h0M119 10.3h0M123 10.3h0M127 10.3h0M215 10.3h0M231 10.3h0M125 13.8h0M129 13.8h0M217 13.8h0M221 13.8h0M225 13.8h0M229 13.8h0M233 13.8h0M127 17.2h0M129 20.7h0M131 24.2h0M133 27.6h0M131 31.1h0M133 34.6h0M135 38h0M133 41.5h0M135 45h0M133 48.4h0M135 51.9h0M135 58.8h0M137 62.3h0M143 65.7h0M145 69.2h0M147 72.7h0M149 76.1h0M149 83.1h0M143 86.5h0M89 90h0M93 90h0M137 90h0M141 90h0M99 93.5h0M127 93.5h0M131 93.5h0M113 96.9h0M117 96.9h0M71 176.6h0M71 183.5h0M75 183.5h0M79 183.5h0M67 190.4h0" stroke="#15ffea"/><path d="M137 -0.1h0M157 -0.1h0M161 -0.1h0M165 -0.1h0M169 -0.1h0M173 -0.1h0M177 -0.1h0M181 -0.1h0M185 -0.1h0M189 -0.1h0M193 -0.1h0M131 3.4h0M135 3.4h0M139 3.4h0M143 3.4h0M147 3.4h0M151 3.4h0M155 3.4h0M159 3.4h0M163 3.4h0M167 3.4h0M171 3.4h0M175 3.4h0M179 3.4h0M183 3.4h0M187 3.4h0M191 3.4h0M195 3.4h0M199 3.4h0M129 6.9h0M133 6.9h0M137 6.9h0M141 6.9h0M145 6.9h0M149 6.9h0M153 6.9h0M193 6.9h0M197 6.9h0M201 6.9h0M205 6.9h0M131 10.3h0M135 10.3h0M139 10.3h0M143 10.3h0M199 10.3h0M203 10.3h0M207 10.3h0M211 10.3h0M133 13.8h0M137 13.8h0M209 13.8h0M213 13.8h0M131 17.2h0M135 17.2h0M215 17.2h0M219 17.2h0M223 17.2h0M227 17.2h0M231 17.2h0M133 20.7h0M137 20.7h0M225 20.7h0M229 20.7h0M233 20.7h0M135 24.2h0M137 27.6h0M135 31.1h0M137 34.6h0M137 41.5h0M139 45h0M137 48.4h0M139 51.9h0M137 55.4h0M139 58.8h0M141 62.3h0M151 72.7h0M151 79.6h0M147 86.5h0M85 90h0M145 90h0M95 93.5h0M135 93.5h0M139 93.5h0M105 96.9h0M109 96.9h0M121 96.9h0M95 169.7h0M93 173.1h0M69 180.1h0M73 180.1h0M77 180.1h0M69 187h0M73 187h0M77 187h0M71 190.4h0M75 211.2h0" stroke="#2bffd4"/><path d="M157 6.9h0M161 6.9h0M165 6.9h0M169 6.9h0M173 6.9h0M177 6.9h0M181 6.9h0M185 6.9h0M189 6.9h0M147 10.3h0M151 10.3h0M155 10.3h0M187 10.3h0M191 10.3h0M195 10.3h0M141 13.8h0M145 13.8h0M197 13.8h0M201 13.8h0M205 13.8h0M139 17.2h0M143 17.2h0M203 17.2h0M207 17.2h0M211 17.2h0M141 20.7h0M209 20.7h0M213 20.7h0M217 20.7h0M221 20.7h0M139 24.2h0M219 24.2h0M223 24.2h0M227 24.2h0M231 24.2h0M141 27.6h0M139 31.1h0M141 34.6h0M139 38h0M141 41.5h0M141 48.4h0M143 51.9h0M141 55.4h0M143 58.8h0M145 62.3h0M147 65.7h0M149 69.2h0M153 76.1h0M151 86.5h0M149 90h0M83 93.5h0M87 93.5h0M91 93.5h0M143 93.5h0M101 96.9h0M125 96.9h0M129 96.9h0M107 100.4h0M111 100.4h0M115 100.4h0M119 100.4h0M93 166.2h0M91 169.7h0M89 173.1h0M75 176.6h0M79 176.6h0M83 176.6h0M81 180.1h0M85 180.1h0M83 183.5h0M73 193.9h0M67 197.4h0M71 197.4h0M75 197.4h0M79 197.4h0M75 204.3h0M77 207.8h0" stroke="#40ffbf"/><path d="M159 10.3h0M163 10.3h0M167 10.3h0M171 10.3h0M179 10.3h0M183 10.3h0M149 13.8h0M153 13.8h0M189 13.8h0M193 13.8h0M147 17.2h0M151 17.2h0M195 17.2h0M199 17.2h0M145 20.7h0M201 20.7h0M205 20.7h0M143 24.2h0M207 24.2h0M211 24.2h0M215 24.2h0M145 27.6h0M217 27.6h0M221 27.6h0M225 27.6h0M229 27.6h0M233 27.6h0M143 31.1h0M231 31.1h0M143 38h0M145 41.5h0M143 45h0M145 48.4h0M147 51.9h0M145 55.4h0M147 58.8h0M149 62.3h0M151 65.7h0M153 69.2h0M155 79.6h0M153 83.1h0M147 93.5h0M93 96.9h0M97 96.9h0M133 96.9h0M137 96.9h0M141 96.9h0M103 100.4h0M123 100.4h0M89 166.2h0M71 169.7h0M79 169.7h0M87 169.7h0M73 173.1h0M81 173.1h0M87 176.6h0M91 176.6h0M107 176.6h0M109 180.1h0M195 190.4h0M69 193.9h0M199 197.4h0M73 200.8h0M77 200.8h0M79 204.3h0M73 207.8h0M79 211.2h0M83 211.2h0" stroke="#55ffaa"/><path d="M175 10.3h0M157 13.8h0M161 13.8h0M185 13.8h0M155 17.2h0M191 17.2h0M149 20.7h0M197 20.7h0M147 24.2h0M199 24.2h0M203 24.2h0M205 27.6h0M209 27.6h0M213 27.6h0M147 31.1h0M219 31.1h0M223 31.1h0M227 31.1h0M145 34.6h0M229 34.6h0M233 34.6h0M147 38h0M147 45h0M149 48.4h0M149 55.4h0M151 58.8h0M155 72.7h0M155 86.5h0M153 90h0M151 93.5h0M85 96.9h0M89 96.9h0M145 96.9h0M149 96.9h0M99 100.4h0M127 100.4h0M131 100.4h0M105 103.8h0M109 103.8h0M113 103.8h0M117 103.8h0M91 162.7h0M95 162.7h0M85 166.2h0M97 166.2h0M101 166.2h0M75 169.7h0M83 169.7h0M99 169.7h0M85 173.1h0M97 173.1h0M99 176.6h0M111 176.6h0M89 180.1h0M113 180.1h0M87 183.5h0M91 183.5h0M75 190.4h0M91 190.4h0M107 190.4h0M191 190.4h0M101 193.9h0M105 193.9h0M81 200.8h0M71 211.2h0" stroke="#6aff95"/><path d="M165 13.8h0M169 13.8h0M173 13.8h0M177 13.8h0M181 13.8h0M159 17.2h0M187 17.2h0M153 20.7h0M193 20.7h0M151 24.2h0M195 24.2h0M149 27.6h0M201 27.6h0M207 31.1h0M211 31.1h0M215 31.1h0M149 34.6h0M221 34.6h0M225 34.6h0M223 38h0M227 38h0M231 38h0M149 41.5h0M229 41.5h0M233 41.5h0M151 51.9h0M153 55.4h0M153 62.3h0M155 65.7h0M157 69.2h0M157 76.1h0M157 83.1h0M157 90h0M155 93.5h0M153 96.9h0M83 100.4h0M87 100.4h0M91 100.4h0M95 100.4h0M135 100.4h0M139 100.4h0M143 100.4h0M147 100.4h0M85 103.8h0M89 103.8h0M93 103.8h0M97 103.8h0M101 103.8h0M121 103.8h0M125 103.8h0M83 107.3h0M87 107.3h0M91 107.3h0M95 107.3h0M99 107.3h0M103 107.3h0M81 110.8h0M85 110.8h0M93 110.8h0M97 110.8h0M99 162.7h0M103 162.7h0M103 169.7h0M107 169.7h0M111 169.7h0M101 173.1h0M105 173.1h0M109 173.1h0M95 176.6h0M105 180.1h0M111 183.5h0M81 187h0M89 187h0M93 187h0M181 187h0M189 187h0M197 187h0M79 190.4h0M95 190.4h0M183 190.4h0M199 190.4h0M77 193.9h0M81 193.9h0M189 193.9h0M193 193.9h0M197 193.9h0M183 197.4h0M65 200.8h0M69 200.8h0M71 204.3h0M83 204.3h0M81 207.8h0M87 211.2h0" stroke="#80ff80"/><path d="M163 17.2h0M167 17.2h0M179 17.2h0M183 17.2h0M157 20.7h0M189 20.7h0M155 24.2h0M191 24.2h0M153 27.6h0M197 27.6h0M151 31.1h0M199 31.1h0M203 31.1h0M213 34.6h0M217 34.6h0M151 38h0M219 38h0M221 41.5h0M225 41.5h0M151 45h0M227 45h0M231 45h0M153 48.4h0M229 48.4h0M233 48.4h0M155 58.8h0M159 72.7h0M159 79.6h0M159 86.5h0M159 93.5h0M157 96.9h0M161 96.9h0M151 100.4h0M155 100.4h0M81 103.8h0M129 103.8h0M133 103.8h0M137 103.8h0M107 107.3h0M111 107.3h0M115 107.3h0M119 107.3h0M123 107.3h0M89 110.8h0M101 110.8h0M83 114.2h0M95 114.2h0M87 162.7h0M73 166.2h0M77 166.2h0M81 166.2h0M115 169.7h0M77 173.1h0M115 176.6h0M93 180.1h0M101 180.1h0M95 183.5h0M99 183.5h0M103 183.5h0M107 183.5h0M115 183.5h0M85 187h0M97 187h0M105 187h0M113 187h0M117 187h0M185 187h0M193 187h0M87 190.4h0M103 190.4h0M187 190.4h0M181 193.9h0M201 193.9h0M187 197.4h0M195 197.4h0M85 207.8h0" stroke="#95ff6a"/><path d="M171 17.2h0M175 17.2h0M161 20.7h0M185 20.7h0M187 24.2h0M193 27.6h0M195 31.1h0M153 34.6h0M197 34.6h0M201 34.6h0M205 34.6h0M209 34.6h0M215 38h0M153 41.5h0M217 41.5h0M155 45h0M223 45h0M221 48.4h0M225 48.4h0M155 51.9h0M227 51.9h0M231 51.9h0M157 55.4h0M229 55.4h0M233 55.4h0M157 62.3h0M159 65.7h0M161 76.1h0M161 83.1h0M161 90h0M163 93.5h0M165 96.9h0M169 96.9h0M159 100.4h0M163 100.4h0M167 100.4h0M141 103.8h0M145 103.8h0M127 107.3h0M131 107.3h0M105 110.8h0M109 110.8h0M87 114.2h0M91 114.2h0M99 114.2h0M101 159.3h0M79 162.7h0M83 162.7h0M107 162.7h0M105 166.2h0M109 166.2h0M113 166.2h0M113 173.1h0M103 176.6h0M97 180.1h0M183 183.5h0M109 187h0M83 190.4h0M99 190.4h0M111 190.4h0M85 193.9h0M97 193.9h0M109 193.9h0M185 193.9h0M83 197.4h0M103 197.4h0M111 197.4h0M179 197.4h0M191 197.4h0M203 197.4h0M101 200.8h0M197 200.8h0M201 200.8h0M69 207.8h0M107 211.2h0" stroke="#aaff55"/><path d="M165 20.7h0M177 20.7h0M181 20.7h0M159 24.2h0M183 24.2h0M157 27.6h0M189 27.6h0M155 31.1h0M191 31.1h0M193 34.6h0M155 38h0M199 38h0M203 38h0M207 38h0M211 38h0M213 41.5h0M219 45h0M157 48.4h0M217 48.4h0M219 51.9h0M223 51.9h0M221 55.4h0M225 55.4h0M159 58.8h0M227 58.8h0M231 58.8h0M161 62.3h0M161 69.2h0M163 72.7h0M163 79.6h0M163 86.5h0M191 86.5h0M165 90h0M167 93.5h0M171 93.5h0M175 93.5h0M179 93.5h0M183 93.5h0M173 96.9h0M177 96.9h0M181 96.9h0M171 100.4h0M175 100.4h0M179 100.4h0M149 103.8h0M153 103.8h0M157 103.8h0M161 103.8h0M165 103.8h0M135 107.3h0M139 107.3h0M143 107.3h0M113 110.8h0M117 110.8h0M121 110.8h0M103 114.2h0M81 117.7h0M93 159.3h0M97 159.3h0M105 159.3h0M109 159.3h0M75 162.7h0M111 162.7h0M117 166.2h0M117 180.1h0M185 180.1h0M193 180.1h0M179 183.5h0M191 183.5h0M195 183.5h0M101 187h0M121 187h0M115 190.4h0M119 190.4h0M123 190.4h0M179 190.4h0M89 193.9h0M113 193.9h0M121 193.9h0M107 197.4h0M115 197.4h0M167 197.4h0M105 200.8h0M109 200.8h0M113 200.8h0M173 200.8h0M67 204.3h0M103 204.3h0M107 204.3h0M111 204.3h0M115 204.3h0M179 204.3h0M89 207.8h0" stroke="#bfff40"/><path d="M169 20.7h0M173 20.7h0M163 24.2h0M179 24.2h0M185 27.6h0M159 31.1h0M187 31.1h0M157 34.6h0M195 38h0M157 41.5h0M209 41.5h0M159 45h0M215 45h0M159 51.9h0M215 51.9h0M161 55.4h0M217 55.4h0M219 58.8h0M223 58.8h0M225 62.3h0M229 62.3h0M233 62.3h0M163 65.7h0M231 65.7h0M165 76.1h0M165 83.1h0M167 86.5h0M171 86.5h0M183 86.5h0M187 86.5h0M169 90h0M173 90h0M177 90h0M181 90h0M185 90h0M189 90h0M193 90h0M187 93.5h0M191 93.5h0M185 96.9h0M183 100.4h0M169 103.8h0M173 103.8h0M177 103.8h0M147 107.3h0M151 107.3h0M155 107.3h0M159 107.3h0M125 110.8h0M129 110.8h0M133 110.8h0M137 110.8h0M107 114.2h0M111 114.2h0M115 114.2h0M85 117.7h0M89 117.7h0M93 117.7h0M107 155.8h0M73 159.3h0M77 159.3h0M81 159.3h0M85 159.3h0M89 159.3h0M115 162.7h0M121 166.2h0M119 169.7h0M123 169.7h0M135 169.7h0M117 173.1h0M121 173.1h0M125 173.1h0M119 176.6h0M127 176.6h0M143 176.6h0M187 176.6h0M191 176.6h0M203 176.6h0M189 180.1h0M119 183.5h0M187 183.5h0M177 187h0M201 187h0M127 190.4h0M175 190.4h0M203 190.4h0M117 193.9h0M149 193.9h0M161 193.9h0M177 193.9h0M159 197.4h0M163 197.4h0M175 197.4h0M169 200.8h0M181 200.8h0M185 200.8h0M193 200.8h0M99 204.3h0M171 204.3h0M183 204.3h0M101 207.8h0M105 207.8h0M109 207.8h0M177 207.8h0M181 207.8h0M91 211.2h0M103 211.2h0" stroke="#d5ff2a"/><path d="M167 24.2h0M171 24.2h0M175 24.2h0M161 27.6h0M181 27.6h0M183 31.1h0M189 34.6h0M159 38h0M191 38h0M161 41.5h0M193 41.5h0M197 41.5h0M201 41.5h0M205 41.5h0M211 45h0M161 48.4h0M213 48.4h0M163 51.9h0M211 51.9h0M213 55.4h0M163 58.8h0M215 58.8h0M165 62.3h0M217 62.3h0M221 62.3h0M219 65.7h0M223 65.7h0M227 65.7h0M165 69.2h0M225 69.2h0M229 69.2h0M233 69.2h0M167 79.6h0M169 83.1h0M185 83.1h0M189 83.1h0M193 83.1h0M175 86.5h0M179 86.5h0M195 86.5h0M197 90h0M195 93.5h0M189 96.9h0M193 96.9h0M187 100.4h0M191 100.4h0M181 103.8h0M163 107.3h0M167 107.3h0M171 107.3h0M141 110.8h0M119 114.2h0M123 114.2h0M127 114.2h0M131 114.2h0M135 114.2h0M97 117.7h0M101 117.7h0M79 121.2h0M83 121.2h0M75 155.8h0M79 155.8h0M83 155.8h0M87 155.8h0M95 155.8h0M99 155.8h0M103 155.8h0M111 155.8h0M113 159.3h0M119 162.7h0M127 162.7h0M131 162.7h0M125 166.2h0M129 166.2h0M153 166.2h0M169 166.2h0M173 166.2h0M131 169.7h0M195 176.6h0M145 180.1h0M149 180.1h0M153 180.1h0M181 180.1h0M197 180.1h0M155 183.5h0M199 183.5h0M125 187h0M205 187h0M131 190.4h0M155 190.4h0M93 193.9h0M129 193.9h0M141 193.9h0M145 193.9h0M153 193.9h0M157 193.9h0M165 193.9h0M169 193.9h0M87 197.4h0M99 197.4h0M155 197.4h0M171 197.4h0M85 200.8h0M97 200.8h0M137 200.8h0M177 200.8h0M189 200.8h0M87 204.3h0M167 204.3h0M175 204.3h0M117 207.8h0M149 207.8h0M173 207.8h0M115 211.2h0M171 211.2h0M183 211.2h0" stroke="#eaff15"/><path d="M165 27.6h0M169 27.6h0M173 27.6h0M177 27.6h0M163 31.1h0M167 31.1h0M179 31.1h0M161 34.6h0M165 34.6h0M181 34.6h0M185 34.6h0M163 38h0M183 38h0M187 38h0M165 41.5h0M189 41.5h0M163 45h0M195 45h0M199 45h0M203 45h0M207 45h0M165 48.4h0M205 48.4h0M209 48.4h0M167 51.9h0M207 51.9h0M165 55.4h0M209 55.4h0M167 58.8h0M211 58.8h0M213 62.3h0M167 65.7h0M211 65.7h0M215 65.7h0M213 69.2h0M217 69.2h0M221 69.2h0M167 72.7h0M215 72.7h0M219 72.7h0M223 72.7h0M227 72.7h0M231 72.7h0M169 76.1h0M171 79.6h0M173 83.1h0M177 83.1h0M181 83.1h0M197 83.1h0M199 86.5h0M203 86.5h0M201 90h0M199 93.5h0M197 96.9h0M195 100.4h0M185 103.8h0M189 103.8h0M175 107.3h0M179 107.3h0M183 107.3h0M145 110.8h0M149 110.8h0M153 110.8h0M157 110.8h0M161 110.8h0M139 114.2h0M143 114.2h0M105 117.7h0M87 121.2h0M75 148.9h0M77 152.3h0M81 152.3h0M101 152.3h0M105 152.3h0M109 152.3h0M91 155.8h0M115 155.8h0M117 159.3h0M121 159.3h0M129 159.3h0M133 159.3h0M157 159.3h0M161 159.3h0M123 162.7h0M135 162.7h0M143 162.7h0M151 162.7h0M155 162.7h0M159 162.7h0M163 162.7h0M167 162.7h0M145 166.2h0M149 166.2h0M157 166.2h0M165 166.2h0M163 169.7h0M171 169.7h0M175 169.7h0M145 173.1h0M153 173.1h0M173 173.1h0M177 173.1h0M123 176.6h0M131 176.6h0M147 176.6h0M151 176.6h0M183 176.6h0M199 176.6h0M121 180.1h0M129 180.1h0M133 180.1h0M205 180.1h0M139 183.5h0M147 183.5h0M159 183.5h0M175 183.5h0M203 183.5h0M207 183.5h0M129 187h0M153 187h0M157 187h0M147 190.4h0M159 190.4h0M91 197.4h0M119 197.4h0M143 197.4h0M147 197.4h0M151 197.4h0M89 200.8h0M119 204.3h0M127 204.3h0M151 204.3h0M155 204.3h0M163 204.3h0M187 204.3h0M195 204.3h0M199 204.3h0M93 207.8h0M129 207.8h0M185 207.8h0M67 211.2h0M111 211.2h0M119 211.2h0M131 211.2h0M147 211.2h0M175 211.2h0" stroke="#ffff00"/><path d="M171 31.1h0M175 31.1h0M169 34.6h0M173 34.6h0M177 34.6h0M167 38h0M171 38h0M175 38h0M179 38h0M169 41.5h0M173 41.5h0M177 41.5h0M181 41.5h0M185 41.5h0M167 45h0M171 45h0M175 45h0M179 45h0M183 45h0M187 45h0M191 45h0M169 48.4h0M173 48.4h0M177 48.4h0M189 48.4h0M193 48.4h0M197 48.4h0M201 48.4h0M171 51.9h0M175 51.9h0M199 51.9h0M203 51.9h0M169 55.4h0M173 55.4h0M205 55.4h0M171 58.8h0M207 58.8h0M169 62.3h0M209 62.3h0M207 65.7h0M169 69.2h0M209 69.2h0M207 72.7h0M211 72.7h0M209 76.1h0M213 76.1h0M217 76.1h0M221 76.1h0M225 76.1h0M229 76.1h0M233 76.1h0M175 79.6h0M179 79.6h0M183 79.6h0M187 79.6h0M191 79.6h0M195 79.6h0M203 79.6h0M207 79.6h0M211 79.6h0M215 79.6h0M219 79.6h0M201 83.1h0M205 83.1h0M209 83.1h0M213 83.1h0M217 83.1h0M207 86.5h0M211 86.5h0M215 86.5h0M205 90h0M209 90h0M213 90h0M203 93.5h0M207 93.5h0M201 96.9h0M205 96.9h0M199 100.4h0M193 103.8h0M197 103.8h0M187 107.3h0M191 107.3h0M165 110.8h0M169 110.8h0M173 110.8h0M177 110.8h0M147 114.2h0M151 114.2h0M155 114.2h0M159 114.2h0M109 117.7h0M113 117.7h0M117 117.7h0M121 117.7h0M125 117.7h0M129 117.7h0M133 117.7h0M137 117.7h0M91 121.2h0M95 121.2h0M99 121.2h0M81 124.6h0M77 131.6h0M77 138.5h0M79 142h0M77 145.4h0M81 145.4h0M79 148.9h0M83 148.9h0M99 148.9h0M103 148.9h0M107 148.9h0M111 148.9h0M85 152.3h0M97 152.3h0M113 152.3h0M119 155.8h0M123 155.8h0M147 155.8h0M151 155.8h0M155 155.8h0M125 159.3h0M137 159.3h0M141 159.3h0M145 159.3h0M149 159.3h0M153 159.3h0M139 162.7h0M147 162.7h0M171 162.7h0M175 162.7h0M133 166.2h0M137 166.2h0M141 166.2h0M161 166.2h0M177 166.2h0M139 169.7h0M143 169.7h0M147 169.7h0M151 169.7h0M159 169.7h0M167 169.7h0M179 169.7h0M129 173.1h0M133 173.1h0M141 173.1h0M149 173.1h0M161 173.1h0M165 173.1h0M181 173.1h0M163 176.6h0M167 176.6h0M171 176.6h0M175 176.6h0M207 176.6h0M125 180.1h0M137 180.1h0M141 180.1h0M169 180.1h0M173 180.1h0M177 180.1h0M201 180.1h0M123 183.5h0M135 183.5h0M143 183.5h0M151 183.5h0M137 187h0M141 187h0M145 187h0M161 187h0M173 187h0M135 190.4h0M143 190.4h0M151 190.4h0M171 190.4h0M125 193.9h0M173 193.9h0M95 197.4h0M123 197.4h0M93 200.8h0M117 200.8h0M121 200.8h0M125 200.8h0M133 200.8h0M141 200.8h0M149 200.8h0M153 200.8h0M165 200.8h0M95 204.3h0M131 204.3h0M135 204.3h0M147 204.3h0M159 204.3h0M191 204.3h0M65 207.8h0M97 207.8h0M113 207.8h0M121 207.8h0M125 207.8h0M133 207.8h0M145 207.8h0M165 207.8h0M169 207.8h0M95 211.2h0M127 211.2h0M151 211.2h0M159 211.2h0M179 211.2h0M187 211.2h0" stroke="#ffea00"/><path d="M181 48.4h0M185 48.4h0M179 51.9h0M183 51.9h0M187 51.9h0M191 51.9h0M195 51.9h0M177 55.4h0M181 55.4h0M197 55.4h0M201 55.4h0M175 58.8h0M199 58.8h0M203 58.8h0M173 62.3h0M201 62.3h0M205 62.3h0M171 65.7h0M203 65.7h0M205 69.2h0M171 72.7h0M203 72.7h0M173 76.1h0M205 76.1h0M199 79.6h0M223 79.6h0M227 79.6h0M221 83.1h0M225 83.1h0M219 86.5h0M217 90h0M211 93.5h0M215 93.5h0M209 96.9h0M213 96.9h0M203 100.4h0M207 100.4h0M201 103.8h0M195 107.3h0M199 107.3h0M181 110.8h0M185 110.8h0M189 110.8h0M193 110.8h0M163 114.2h0M167 114.2h0M171 114.2h0M175 114.2h0M179 114.2h0M141 117.7h0M145 117.7h0M103 121.2h0M85 124.6h0M79 128.1h0M81 131.6h0M79 135h0M83 135h0M81 138.5h0M85 138.5h0M83 142h0M87 142h0M91 142h0M85 145.4h0M89 145.4h0M93 145.4h0M97 145.4h0M101 145.4h0M105 145.4h0M109 145.4h0M87 148.9h0M91 148.9h0M95 148.9h0M115 148.9h0M89 152.3h0M93 152.3h0M117 152.3h0M121 152.3h0M125 152.3h0M153 152.3h0M161 152.3h0M127 155.8h0M131 155.8h0M135 155.8h0M139 155.8h0M159 155.8h0M163 155.8h0M171 155.8h0M165 159.3h0M183 162.7h0M197 166.2h0M127 169.7h0M183 169.7h0M187 169.7h0M137 173.1h0M157 173.1h0M169 173.1h0M185 173.1h0M189 173.1h0M197 173.1h0M201 173.1h0M139 176.6h0M155 176.6h0M159 176.6h0M157 180.1h0M127 183.5h0M131 183.5h0M133 187h0M149 187h0M139 190.4h0M163 190.4h0M167 190.4h0M133 193.9h0M137 193.9h0M127 197.4h0M139 197.4h0M129 200.8h0M157 200.8h0M161 200.8h0M123 204.3h0M139 204.3h0M189 207.8h0M193 207.8h0M99 211.2h0M123 211.2h0M135 211.2h0M163 211.2h0M167 211.2h0" stroke="#ffd500"/><path d="M185 55.4h0M189 55.4h0M193 55.4h0M179 58.8h0M183 58.8h0M191 58.8h0M195 58.8h0M177 62.3h0M197 62.3h0M175 65.7h0M199 65.7h0M173 69.2h0M201 69.2h0M199 72.7h0M177 76.1h0M181 76.1h0M185 76.1h0M189 76.1h0M193 76.1h0M197 76.1h0M201 76.1h0M231 79.6h0M229 83.1h0M223 86.5h0M227 86.5h0M221 90h0M225 90h0M219 93.5h0M223 93.5h0M217 96.9h0M211 100.4h0M215 100.4h0M205 103.8h0M209 103.8h0M203 107.3h0M207 107.3h0M197 110.8h0M201 110.8h0M183 114.2h0M187 114.2h0M191 114.2h0M195 114.2h0M149 117.7h0M153 117.7h0M157 117.7h0M161 117.7h0M165 117.7h0M169 117.7h0M173 117.7h0M177 117.7h0M181 117.7h0M107 121.2h0M111 121.2h0M115 121.2h0M119 121.2h0M123 121.2h0M127 121.2h0M131 121.2h0M135 121.2h0M139 121.2h0M143 121.2h0M147 121.2h0M155 121.2h0M159 121.2h0M163 121.2h0M167 121.2h0M89 124.6h0M93 124.6h0M97 124.6h0M83 128.1h0M85 131.6h0M87 135h0M89 138.5h0M93 138.5h0M95 142h0M99 142h0M103 142h0M107 142h0M111 142h0M113 145.4h0M117 145.4h0M165 145.4h0M119 148.9h0M123 148.9h0M127 148.9h0M131 148.9h0M135 148.9h0M139 148.9h0M143 148.9h0M147 148.9h0M151 148.9h0M155 148.9h0M159 148.9h0M163 148.9h0M167 148.9h0M171 148.9h0M129 152.3h0M133 152.3h0M137 152.3h0M141 152.3h0M145 152.3h0M149 152.3h0M157 152.3h0M165 152.3h0M169 152.3h0M173 152.3h0M177 152.3h0M143 155.8h0M167 155.8h0M175 155.8h0M169 159.3h0M173 159.3h0M177 159.3h0M181 159.3h0M179 162.7h0M185 166.2h0M155 169.7h0M195 169.7h0M211 169.7h0M193 173.1h0M205 173.1h0M209 173.1h0M135 176.6h0M179 176.6h0M161 180.1h0M165 180.1h0M163 183.5h0M171 183.5h0M165 187h0M131 197.4h0M135 197.4h0M145 200.8h0M91 204.3h0M143 204.3h0M137 207.8h0M153 207.8h0M161 207.8h0M139 211.2h0M155 211.2h0M191 211.2h0" stroke="#ffbf00"/><path d="M187 58.8h0M181 62.3h0M185 62.3h0M189 62.3h0M193 62.3h0M179 65.7h0M195 65.7h0M197 69.2h0M175 72.7h0M195 72.7h0M233 83.1h0M231 86.5h0M229 90h0M233 90h0M227 93.5h0M231 93.5h0M221 96.9h0M225 96.9h0M219 100.4h0M223 100.4h0M213 103.8h0M217 103.8h0M211 107.3h0M215 107.3h0M205 110.8h0M209 110.8h0M199 114.2h0M203 114.2h0M207 114.2h0M185 117.7h0M189 117.7h0M193 117.7h0M197 117.7h0M201 117.7h0M151 121.2h0M171 121.2h0M175 121.2h0M179 121.2h0M183 121.2h0M187 121.2h0M191 121.2h0M195 121.2h0M101 124.6h0M133 124.6h0M137 124.6h0M141 124.6h0M145 124.6h0M153 124.6h0M157 124.6h0M161 124.6h0M165 124.6h0M169 124.6h0M173 124.6h0M177 124.6h0M181 124.6h0M185 124.6h0M87 128.1h0M95 128.1h0M159 128.1h0M163 128.1h0M167 128.1h0M171 128.1h0M175 128.1h0M179 128.1h0M89 131.6h0M161 131.6h0M165 131.6h0M169 131.6h0M173 131.6h0M177 131.6h0M91 135h0M95 135h0M99 135h0M163 135h0M167 135h0M171 135h0M175 135h0M179 135h0M97 138.5h0M101 138.5h0M105 138.5h0M109 138.5h0M161 138.5h0M165 138.5h0M169 138.5h0M173 138.5h0M177 138.5h0M115 142h0M119 142h0M155 142h0M159 142h0M163 142h0M167 142h0M171 142h0M175 142h0M179 142h0M121 145.4h0M125 145.4h0M129 145.4h0M133 145.4h0M137 145.4h0M141 145.4h0M145 145.4h0M149 145.4h0M153 145.4h0M157 145.4h0M161 145.4h0M169 145.4h0M173 145.4h0M177 145.4h0M181 145.4h0M175 148.9h0M179 148.9h0M183 148.9h0M181 152.3h0M185 152.3h0M179 155.8h0M183 155.8h0M187 155.8h0M191 155.8h0M185 159.3h0M189 159.3h0M193 159.3h0M195 162.7h0M203 162.7h0M207 162.7h0M181 166.2h0M193 166.2h0M201 166.2h0M209 166.2h0M213 166.2h0M191 169.7h0M199 169.7h0M207 169.7h0M169 187h0M63 211.2h0M143 211.2h0M195 211.2h0" stroke="#ffaa00"/><path d="M183 65.7h0M187 65.7h0M191 65.7h0M177 69.2h0M181 69.2h0M185 69.2h0M189 69.2h0M193 69.2h0M179 72.7h0M183 72.7h0M187 72.7h0M191 72.7h0M229 96.9h0M233 96.9h0M227 100.4h0M231 100.4h0M221 103.8h0M219 107.3h0M213 110.8h0M217 110.8h0M211 114.2h0M205 117.7h0M209 117.7h0M199 121.2h0M203 121.2h0M207 121.2h0M105 124.6h0M109 124.6h0M113 124.6h0M117 124.6h0M121 124.6h0M125 124.6h0M129 124.6h0M149 124.6h0M189 124.6h0M193 124.6h0M197 124.6h0M201 124.6h0M91 128.1h0M99 128.1h0M103 128.1h0M131 128.1h0M135 128.1h0M139 128.1h0M143 128.1h0M147 128.1h0M151 128.1h0M155 128.1h0M183 128.1h0M187 128.1h0M191 128.1h0M195 128.1h0M199 128.1h0M93 131.6h0M97 131.6h0M101 131.6h0M137 131.6h0M141 131.6h0M145 131.6h0M149 131.6h0M153 131.6h0M157 131.6h0M181 131.6h0M185 131.6h0M189 131.6h0M193 131.6h0M103 135h0M107 135h0M139 135h0M143 135h0M147 135h0M151 135h0M155 135h0M159 135h0M183 135h0M187 135h0M191 135h0M195 135h0M113 138.5h0M117 138.5h0M121 138.5h0M133 138.5h0M137 138.5h0M141 138.5h0M145 138.5h0M149 138.5h0M153 138.5h0M157 138.5h0M181 138.5h0M185 138.5h0M189 138.5h0M193 138.5h0M123 142h0M127 142h0M131 142h0M135 142h0M139 142h0M143 142h0M147 142h0M151 142h0M183 142h0M187 142h0M191 142h0M195 142h0M185 145.4h0M189 145.4h0M193 145.4h0M187 148.9h0M191 148.9h0M195 148.9h0M189 152.3h0M193 152.3h0M195 155.8h0M187 162.7h0M199 162.7h0M211 162.7h0M189 166.2h0M205 166.2h0M203 169.7h0M167 183.5h0M141 207.8h0M157 207.8h0M197 207.8h0M199 211.2h0" stroke="#ff9500"/><path d="M225 103.8h0M229 103.8h0M233 103.8h0M223 107.3h0M221 110.8h0M215 114.2h0M219 114.2h0M213 117.7h0M211 121.2h0M205 124.6h0M209 124.6h0M107 128.1h0M115 128.1h0M119 128.1h0M123 128.1h0M127 128.1h0M203 128.1h0M207 128.1h0M105 131.6h0M109 131.6h0M113 131.6h0M117 131.6h0M121 131.6h0M125 131.6h0M129 131.6h0M133 131.6h0M197 131.6h0M201 131.6h0M205 131.6h0M111 135h0M115 135h0M119 135h0M123 135h0M127 135h0M131 135h0M135 135h0M199 135h0M203 135h0M125 138.5h0M129 138.5h0M197 138.5h0M201 138.5h0M199 142h0M197 145.4h0M201 145.4h0M199 148.9h0M197 152.3h0M201 152.3h0M199 155.8h0M197 159.3h0M201 159.3h0M205 159.3h0M209 159.3h0M213 159.3h0M191 162.7h0" stroke="#ff8000"/><path d="M227 107.3h0M231 107.3h0M225 110.8h0M223 114.2h0M217 117.7h0M221 117.7h0M215 121.2h0M219 121.2h0M213 124.6h0M111 128.1h0M211 128.1h0M209 131.6h0M207 135h0M211 135h0M205 138.5h0M209 138.5h0M203 142h0M207 142h0M205 145.4h0M203 148.9h0M207 148.9h0M205 152.3h0M209 152.3h0M213 152.3h0M203 155.8h0M207 155.8h0M211 155.8h0M215 155.8h0" stroke="#ff6a00"/><path d="M229 110.8h0M227 114.2h0M225 117.7h0M229 117.7h0M223 121.2h0M227 121.2h0M217 124.6h0M221 124.6h0M225 124.6h0M215 128.1h0M219 128.1h0M223 128.1h0M213 131.6h0M217 131.6h0M221 131.6h0M215 135h0M219 135h0M223 135h0M213 138.5h0M217 138.5h0M221 138.5h0M211 142h0M215 142h0M219 142h0M209 145.4h0M213 145.4h0M217 145.4h0M211 148.9h0M215 148.9h0M217 152.3h0" stroke="#ff5500"/></g>
<g clip-path="url(#mapclip)"><use href="#states"/></g>
</g>
<rect x="441.5" y="95.5" width="23.0" height="214.5" fill="url(#jet)" stroke="#262626" stroke-width="1"/>
<path d="M464.5 153.3h-2.6" stroke="#262626" stroke-width="1" fill="none"/>
<text class="b s6" x="472.6" y="160.9" font-size="22.2" textLength="14.7" lengthAdjust="spacingAndGlyphs">0</text>
<path d="M464.5 228.3h-2.6" stroke="#262626" stroke-width="1" fill="none"/>
<text class="b s6" x="472.6" y="235.9" font-size="22.2" textLength="38.2" lengthAdjust="spacingAndGlyphs">-20</text>
<path d="M464.5 303.3h-2.6" stroke="#262626" stroke-width="1" fill="none"/>
<text class="b s6" x="472.6" y="310.9" font-size="22.2" textLength="38.2" lengthAdjust="spacingAndGlyphs">-40</text>
<text class="b" x="146.3" y="112.9" font-size="12.2" textLength="17.2" lengthAdjust="spacingAndGlyphs">48</text>
<ellipse cx="167.9" cy="99.4" rx="1.55" ry="1.1" fill="none" stroke="#262626" stroke-width="0.85"/>
<text class="b" x="176.0" y="112.9" font-size="12.2" textLength="9.3" lengthAdjust="spacingAndGlyphs">N</text>
<text class="b" x="146.3" y="130.4" font-size="12.2" textLength="17.2" lengthAdjust="spacingAndGlyphs">46</text>
<ellipse cx="167.9" cy="116.9" rx="1.55" ry="1.1" fill="none" stroke="#262626" stroke-width="0.85"/>
<text class="b" x="176.0" y="130.4" font-size="12.2" textLength="9.3" lengthAdjust="spacingAndGlyphs">N</text>
<text class="b" x="146.3" y="147.8" font-size="12.2" textLength="17.2" lengthAdjust="spacingAndGlyphs">44</text>
<ellipse cx="167.9" cy="134.3" rx="1.55" ry="1.1" fill="none" stroke="#262626" stroke-width="0.85"/>
<text class="b" x="176.0" y="147.8" font-size="12.2" textLength="9.3" lengthAdjust="spacingAndGlyphs">N</text>
<text class="b" x="146.3" y="166.9" font-size="12.2" textLength="17.2" lengthAdjust="spacingAndGlyphs">42</text>
<ellipse cx="167.9" cy="153.4" rx="1.55" ry="1.1" fill="none" stroke="#262626" stroke-width="0.85"/>
<text class="b" x="176.0" y="166.9" font-size="12.2" textLength="9.3" lengthAdjust="spacingAndGlyphs">N</text>
<text class="b" x="146.3" y="182.7" font-size="12.2" textLength="17.2" lengthAdjust="spacingAndGlyphs">40</text>
<ellipse cx="167.9" cy="169.2" rx="1.55" ry="1.1" fill="none" stroke="#262626" stroke-width="0.85"/>
<text class="b" x="176.0" y="182.7" font-size="12.2" textLength="9.3" lengthAdjust="spacingAndGlyphs">N</text>
<text class="b" x="146.3" y="198.0" font-size="12.2" textLength="17.2" lengthAdjust="spacingAndGlyphs">38</text>
<ellipse cx="167.9" cy="184.5" rx="1.55" ry="1.1" fill="none" stroke="#262626" stroke-width="0.85"/>
<text class="b" x="176.0" y="198.0" font-size="12.2" textLength="9.3" lengthAdjust="spacingAndGlyphs">N</text>
<text class="b" x="146.3" y="214.4" font-size="12.2" textLength="17.2" lengthAdjust="spacingAndGlyphs">36</text>
<ellipse cx="167.9" cy="200.9" rx="1.55" ry="1.1" fill="none" stroke="#262626" stroke-width="0.85"/>
<text class="b" x="176.0" y="214.4" font-size="12.2" textLength="9.3" lengthAdjust="spacingAndGlyphs">N</text>
<text class="b" x="146.3" y="228.9" font-size="12.2" textLength="17.2" lengthAdjust="spacingAndGlyphs">34</text>
<ellipse cx="167.9" cy="215.4" rx="1.55" ry="1.1" fill="none" stroke="#262626" stroke-width="0.85"/>
<text class="b" x="176.0" y="228.9" font-size="12.2" textLength="9.3" lengthAdjust="spacingAndGlyphs">N</text>
<text class="b" x="146.3" y="245.6" font-size="12.2" textLength="17.2" lengthAdjust="spacingAndGlyphs">32</text>
<ellipse cx="167.9" cy="232.1" rx="1.55" ry="1.1" fill="none" stroke="#262626" stroke-width="0.85"/>
<text class="b" x="176.0" y="245.6" font-size="12.2" textLength="9.3" lengthAdjust="spacingAndGlyphs">N</text>
<text class="b" x="146.3" y="259.6" font-size="12.2" textLength="17.2" lengthAdjust="spacingAndGlyphs">30</text>
<ellipse cx="167.9" cy="246.1" rx="1.55" ry="1.1" fill="none" stroke="#262626" stroke-width="0.85"/>
<text class="b" x="176.0" y="259.6" font-size="12.2" textLength="9.3" lengthAdjust="spacingAndGlyphs">N</text>
<text class="b" x="146.3" y="272.6" font-size="12.2" textLength="17.2" lengthAdjust="spacingAndGlyphs">28</text>
<ellipse cx="167.9" cy="259.1" rx="1.55" ry="1.1" fill="none" stroke="#262626" stroke-width="0.85"/>
<text class="b" x="176.0" y="272.6" font-size="12.2" textLength="9.3" lengthAdjust="spacingAndGlyphs">N</text>
<text class="b" x="146.3" y="287.5" font-size="12.2" textLength="17.2" lengthAdjust="spacingAndGlyphs">26</text>
<ellipse cx="167.9" cy="274.0" rx="1.55" ry="1.1" fill="none" stroke="#262626" stroke-width="0.85"/>
<text class="b" x="176.0" y="287.5" font-size="12.2" textLength="9.3" lengthAdjust="spacingAndGlyphs">N</text>
<text class="b" x="146.3" y="301.9" font-size="12.2" textLength="17.2" lengthAdjust="spacingAndGlyphs">24</text>
<ellipse cx="167.9" cy="288.4" rx="1.55" ry="1.1" fill="none" stroke="#262626" stroke-width="0.85"/>
<text class="b" x="176.0" y="301.9" font-size="12.2" textLength="9.3" lengthAdjust="spacingAndGlyphs">N</text>
<text class="b" x="146.3" y="314.7" font-size="12.2" textLength="17.2" lengthAdjust="spacingAndGlyphs">22</text>
<ellipse cx="167.9" cy="301.2" rx="1.55" ry="1.1" fill="none" stroke="#262626" stroke-width="0.85"/>
<text class="b" x="176.0" y="314.7" font-size="12.2" textLength="9.3" lengthAdjust="spacingAndGlyphs">N</text>
<text class="b" x="215.8" y="76.9" font-size="12.2" textLength="24.4" lengthAdjust="spacingAndGlyphs">100</text>
<ellipse cx="244.6" cy="64.3" rx="1.55" ry="1.1" fill="none" stroke="#262626" stroke-width="0.85"/>
<text class="b" x="252.8" y="76.9" font-size="12.2" textLength="13" lengthAdjust="spacingAndGlyphs">W</text>
<text class="b" x="284.6" y="76.9" font-size="12.2" textLength="15.7" lengthAdjust="spacingAndGlyphs">90</text>
<ellipse cx="304.7" cy="64.3" rx="1.55" ry="1.1" fill="none" stroke="#262626" stroke-width="0.85"/>
<text class="b" x="312.9" y="76.9" font-size="12.2" textLength="13" lengthAdjust="spacingAndGlyphs">W</text>
<text class="b" x="348.7" y="76.9" font-size="12.2" textLength="15.7" lengthAdjust="spacingAndGlyphs">80</text>
<ellipse cx="368.8" cy="64.3" rx="1.55" ry="1.1" fill="none" stroke="#262626" stroke-width="0.85"/>
<text class="b" x="377.0" y="76.9" font-size="12.2" textLength="13" lengthAdjust="spacingAndGlyphs">W</text>
<text class="b" x="412.0" y="76.9" font-size="12.2" textLength="15.7" lengthAdjust="spacingAndGlyphs">70</text>
<ellipse cx="432.1" cy="64.3" rx="1.55" ry="1.1" fill="none" stroke="#262626" stroke-width="0.85"/>
<text class="b" x="440.3" y="76.9" font-size="12.2" textLength="13" lengthAdjust="spacingAndGlyphs">W</text>
<rect x="616.5" y="96.5" width="234.0" height="213.0" fill="#fff" stroke="#262626" stroke-width="1"/>
<g transform="translate(616.5 96.5) scale(1.00000 1.00000)">
<g fill="none" stroke-width="8" stroke-linecap="round"><path d="M120.5 0.8h0M123.5 0.8h0M225.5 0.8h0M228.5 0.8h0M119 3.4h0M122 3.4h0M224 3.4h0M227 3.4h0M230 3.4h0M117.5 6h0M120.5 6h0M225.5 6h0M228.5 6h0" stroke="#000080"/><path d="M111.5 0.8h0M114.5 0.8h0M117.5 0.8h0M126.5 0.8h0M207.5 0.8h0M210.5 0.8h0M213.5 0.8h0M216.5 0.8h0M219.5 0.8h0M222.5 0.8h0M231.5 0.8h0M107 3.4h0M110 3.4h0M113 3.4h0M116 3.4h0M125 3.4h0M128 3.4h0M206 3.4h0M209 3.4h0M212 3.4h0M215 3.4h0M218 3.4h0M221 3.4h0M233 3.4h0M90.5 6h0M93.5 6h0M105.5 6h0M108.5 6h0M111.5 6h0M114.5 6h0M123.5 6h0M126.5 6h0M207.5 6h0M210.5 6h0M213.5 6h0M216.5 6h0M219.5 6h0M222.5 6h0M231.5 6h0M89 8.6h0M92 8.6h0M95 8.6h0M107 8.6h0M110 8.6h0M113 8.6h0M116 8.6h0M119 8.6h0M122 8.6h0M125 8.6h0M128 8.6h0M209 8.6h0M212 8.6h0M215 8.6h0M218 8.6h0M221 8.6h0M224 8.6h0M227 8.6h0M230 8.6h0M233 8.6h0M90.5 11.2h0M93.5 11.2h0M96.5 11.2h0M105.5 11.2h0M108.5 11.2h0M111.5 11.2h0M114.5 11.2h0M117.5 11.2h0M120.5 11.2h0M123.5 11.2h0M126.5 11.2h0M210.5 11.2h0M213.5 11.2h0M216.5 11.2h0M219.5 11.2h0M222.5 11.2h0M225.5 11.2h0M228.5 11.2h0M231.5 11.2h0M89 13.8h0M92 13.8h0M95 13.8h0M98 13.8h0M101 13.8h0M107 13.8h0M110 13.8h0M113 13.8h0M116 13.8h0M119 13.8h0M122 13.8h0M125 13.8h0M224 13.8h0M227 13.8h0M230 13.8h0M233 13.8h0M90.5 16.4h0M93.5 16.4h0M96.5 16.4h0M99.5 16.4h0M102.5 16.4h0M111.5 16.4h0M114.5 16.4h0M117.5 16.4h0M120.5 16.4h0M123.5 16.4h0M225.5 16.4h0M228.5 16.4h0M231.5 16.4h0M89 19h0M92 19h0M95 19h0M98 19h0M101 19h0M104 19h0M230 19h0M233 19h0M87.5 21.6h0M90.5 21.6h0M93.5 21.6h0M96.5 21.6h0M99.5 21.6h0M102.5 21.6h0M89 24.2h0M92 24.2h0M95 24.2h0M98 24.2h0M101 24.2h0M104 24.2h0M146 24.2h0M149 24.2h0M87.5 26.8h0M90.5 26.8h0M93.5 26.8h0M96.5 26.8h0M99.5 26.8h0M102.5 26.8h0M105.5 26.8h0M144.5 26.8h0M147.5 26.8h0M150.5 26.8h0M153.5 26.8h0M156.5 26.8h0M89 29.4h0M92 29.4h0M95 29.4h0M98 29.4h0M101 29.4h0M104 29.4h0M107 29.4h0M146 29.4h0M149 29.4h0M152 29.4h0M155 29.4h0M158 29.4h0M161 29.4h0M164 29.4h0M167 29.4h0M87.5 32h0M90.5 32h0M93.5 32h0M96.5 32h0M99.5 32h0M102.5 32h0M105.5 32h0M108.5 32h0M147.5 32h0M150.5 32h0M153.5 32h0M156.5 32h0M159.5 32h0M162.5 32h0M165.5 32h0M168.5 32h0M171.5 32h0M174.5 32h0M177.5 32h0M180.5 32h0M89 34.6h0M92 34.6h0M95 34.6h0M98 34.6h0M101 34.6h0M104 34.6h0M107 34.6h0M110 34.6h0M113 34.6h0M152 34.6h0M155 34.6h0M158 34.6h0M161 34.6h0M164 34.6h0M167 34.6h0M170 34.6h0M173 34.6h0M176 34.6h0M179 34.6h0M182 34.6h0M87.5 37.2h0M90.5 37.2h0M93.5 37.2h0M96.5 37.2h0M99.5 37.2h0M102.5 37.2h0M105.5 37.2h0M108.5 37.2h0M111.5 37.2h0M114.5 37.2h0M117.5 37.2h0M120.5 37.2h0M156.5 37.2h0M168.5 37.2h0M171.5 37.2h0M174.5 37.2h0M177.5 37.2h0M180.5 37.2h0M89 39.8h0M92 39.8h0M95 39.8h0M98 39.8h0M101 39.8h0M104 39.8h0M107 39.8h0M110 39.8h0M113 39.8h0M116 39.8h0M119 39.8h0M122 39.8h0M125 39.8h0M137 39.8h0M140 39.8h0M143 39.8h0M173 39.8h0M176 39.8h0M179 39.8h0M182 39.8h0M90.5 42.4h0M93.5 42.4h0M96.5 42.4h0M99.5 42.4h0M102.5 42.4h0M105.5 42.4h0M108.5 42.4h0M111.5 42.4h0M114.5 42.4h0M117.5 42.4h0M120.5 42.4h0M123.5 42.4h0M126.5 42.4h0M129.5 42.4h0M132.5 42.4h0M135.5 42.4h0M138.5 42.4h0M141.5 42.4h0M144.5 42.4h0M177.5 42.4h0M180.5 42.4h0M92 45h0M95 45h0M98 45h0M101 45h0M104 45h0M107 45h0M110 45h0M113 45h0M116 45h0M119 45h0M122 45h0M125 45h0M128 45h0M131 45h0M134 45h0M137 45h0M140 45h0M143 45h0M146 45h0M93.5 47.6h0M96.5 47.6h0M99.5 47.6h0M102.5 47.6h0M105.5 47.6h0M108.5 47.6h0M111.5 47.6h0M114.5 47.6h0M117.5 47.6h0M120.5 47.6h0M123.5 47.6h0M126.5 47.6h0M129.5 47.6h0M132.5 47.6h0M135.5 47.6h0M138.5 47.6h0M141.5 47.6h0M144.5 47.6h0M147.5 47.6h0M150.5 47.6h0M86 50.2h0M89 50.2h0M92 50.2h0M95 50.2h0M98 50.2h0M101 50.2h0M104 50.2h0M107 50.2h0M110 50.2h0M113 50.2h0M116 50.2h0M119 50.2h0M122 50.2h0M125 50.2h0M128 50.2h0M131 50.2h0M134 50.2h0M137 50.2h0M140 50.2h0M143 50.2h0M146 50.2h0M149 50.2h0M152 50.2h0M155 50.2h0M158 50.2h0M161 50.2h0M87.5 52.8h0M90.5 52.8h0M93.5 52.8h0M96.5 52.8h0M99.5 52.8h0M102.5 52.8h0M105.5 52.8h0M108.5 52.8h0M111.5 52.8h0M114.5 52.8h0M117.5 52.8h0M120.5 52.8h0M123.5 52.8h0M126.5 52.8h0M129.5 52.8h0M132.5 52.8h0M135.5 52.8h0M138.5 52.8h0M141.5 52.8h0M144.5 52.8h0M147.5 52.8h0M150.5 52.8h0M153.5 52.8h0M156.5 52.8h0M159.5 52.8h0M162.5 52.8h0M165.5 52.8h0M168.5 52.8h0M207.5 52.8h0M210.5 52.8h0M86 55.4h0M89 55.4h0M92 55.4h0M95 55.4h0M98 55.4h0M101 55.4h0M104 55.4h0M107 55.4h0M110 55.4h0M113 55.4h0M116 55.4h0M119 55.4h0M122 55.4h0M125 55.4h0M128 55.4h0M131 55.4h0M134 55.4h0M137 55.4h0M140 55.4h0M143 55.4h0M146 55.4h0M149 55.4h0M152 55.4h0M155 55.4h0M158 55.4h0M161 55.4h0M164 55.4h0M167 55.4h0M203 55.4h0M206 55.4h0M209 55.4h0M212 55.4h0M87.5 57.9h0M90.5 57.9h0M93.5 57.9h0M96.5 57.9h0M99.5 57.9h0M102.5 57.9h0M105.5 57.9h0M108.5 57.9h0M123.5 57.9h0M126.5 57.9h0M129.5 57.9h0M132.5 57.9h0M135.5 57.9h0M138.5 57.9h0M141.5 57.9h0M144.5 57.9h0M147.5 57.9h0M150.5 57.9h0M153.5 57.9h0M156.5 57.9h0M159.5 57.9h0M162.5 57.9h0M165.5 57.9h0M168.5 57.9h0M201.5 57.9h0M204.5 57.9h0M207.5 57.9h0M210.5 57.9h0M213.5 57.9h0M86 60.5h0M89 60.5h0M92 60.5h0M95 60.5h0M98 60.5h0M101 60.5h0M104 60.5h0M107 60.5h0M125 60.5h0M128 60.5h0M131 60.5h0M134 60.5h0M137 60.5h0M140 60.5h0M149 60.5h0M152 60.5h0M155 60.5h0M158 60.5h0M161 60.5h0M164 60.5h0M167 60.5h0M170 60.5h0M203 60.5h0M206 60.5h0M209 60.5h0M212 60.5h0M215 60.5h0M218 60.5h0M221 60.5h0M87.5 63.1h0M96.5 63.1h0M99.5 63.1h0M102.5 63.1h0M105.5 63.1h0M129.5 63.1h0M132.5 63.1h0M135.5 63.1h0M153.5 63.1h0M156.5 63.1h0M159.5 63.1h0M162.5 63.1h0M165.5 63.1h0M168.5 63.1h0M201.5 63.1h0M204.5 63.1h0M207.5 63.1h0M210.5 63.1h0M213.5 63.1h0M216.5 63.1h0M219.5 63.1h0M222.5 63.1h0M225.5 63.1h0M98 65.7h0M101 65.7h0M104 65.7h0M158 65.7h0M161 65.7h0M164 65.7h0M167 65.7h0M194 65.7h0M197 65.7h0M200 65.7h0M209 65.7h0M212 65.7h0M215 65.7h0M218 65.7h0M221 65.7h0M224 65.7h0M227 65.7h0M99.5 68.3h0M102.5 68.3h0M159.5 68.3h0M162.5 68.3h0M165.5 68.3h0M168.5 68.3h0M192.5 68.3h0M195.5 68.3h0M198.5 68.3h0M210.5 68.3h0M213.5 68.3h0M216.5 68.3h0M219.5 68.3h0M222.5 68.3h0M225.5 68.3h0M228.5 68.3h0M86 70.9h0M161 70.9h0M164 70.9h0M191 70.9h0M194 70.9h0M197 70.9h0M200 70.9h0M212 70.9h0M215 70.9h0M218 70.9h0M221 70.9h0M224 70.9h0M227 70.9h0M84.5 73.5h0M87.5 73.5h0M150.5 73.5h0M171.5 73.5h0M174.5 73.5h0M177.5 73.5h0M192.5 73.5h0M195.5 73.5h0M198.5 73.5h0M213.5 73.5h0M216.5 73.5h0M219.5 73.5h0M222.5 73.5h0M86 76.1h0M89 76.1h0M110 76.1h0M146 76.1h0M149 76.1h0M152 76.1h0M155 76.1h0M170 76.1h0M173 76.1h0M176 76.1h0M179 76.1h0M194 76.1h0M197 76.1h0M212 76.1h0M215 76.1h0M218 76.1h0M221 76.1h0M224 76.1h0M84.5 78.7h0M87.5 78.7h0M90.5 78.7h0M108.5 78.7h0M111.5 78.7h0M114.5 78.7h0M141.5 78.7h0M144.5 78.7h0M147.5 78.7h0M150.5 78.7h0M153.5 78.7h0M156.5 78.7h0M171.5 78.7h0M174.5 78.7h0M177.5 78.7h0M180.5 78.7h0M183.5 78.7h0M192.5 78.7h0M195.5 78.7h0M225.5 78.7h0M228.5 78.7h0M231.5 78.7h0M83 81.3h0M86 81.3h0M89 81.3h0M110 81.3h0M113 81.3h0M143 81.3h0M146 81.3h0M149 81.3h0M152 81.3h0M155 81.3h0M170 81.3h0M173 81.3h0M176 81.3h0M179 81.3h0M182 81.3h0M185 81.3h0M188 81.3h0M191 81.3h0M194 81.3h0M197 81.3h0M200 81.3h0M203 81.3h0M227 81.3h0M230 81.3h0M233 81.3h0M84.5 83.9h0M87.5 83.9h0M90.5 83.9h0M111.5 83.9h0M138.5 83.9h0M141.5 83.9h0M144.5 83.9h0M147.5 83.9h0M150.5 83.9h0M153.5 83.9h0M156.5 83.9h0M168.5 83.9h0M171.5 83.9h0M174.5 83.9h0M177.5 83.9h0M180.5 83.9h0M183.5 83.9h0M186.5 83.9h0M189.5 83.9h0M192.5 83.9h0M195.5 83.9h0M198.5 83.9h0M201.5 83.9h0M204.5 83.9h0M207.5 83.9h0M225.5 83.9h0M228.5 83.9h0M231.5 83.9h0M83 86.5h0M86 86.5h0M89 86.5h0M92 86.5h0M95 86.5h0M134 86.5h0M137 86.5h0M140 86.5h0M143 86.5h0M146 86.5h0M149 86.5h0M152 86.5h0M155 86.5h0M167 86.5h0M170 86.5h0M173 86.5h0M176 86.5h0M179 86.5h0M182 86.5h0M185 86.5h0M188 86.5h0M191 86.5h0M194 86.5h0M197 86.5h0M200 86.5h0M203 86.5h0M206 86.5h0M209 86.5h0M212 86.5h0M227 86.5h0M230 86.5h0M233 86.5h0M84.5 89.1h0M87.5 89.1h0M90.5 89.1h0M93.5 89.1h0M96.5 89.1h0M129.5 89.1h0M132.5 89.1h0M135.5 89.1h0M138.5 89.1h0M141.5 89.1h0M144.5 89.1h0M147.5 89.1h0M150.5 89.1h0M153.5 89.1h0M156.5 89.1h0M165.5 89.1h0M168.5 89.1h0M171.5 89.1h0M174.5 89.1h0M177.5 89.1h0M180.5 89.1h0M183.5 89.1h0M186.5 89.1h0M189.5 89.1h0M192.5 89.1h0M195.5 89.1h0M198.5 89.1h0M201.5 89.1h0M204.5 89.1h0M207.5 89.1h0M210.5 89.1h0M213.5 89.1h0M216.5 89.1h0M225.5 89.1h0M228.5 89.1h0M231.5 89.1h0M83 91.7h0M95 91.7h0M98 91.7h0M125 91.7h0M128 91.7h0M131 91.7h0M134 91.7h0M137 91.7h0M140 91.7h0M143 91.7h0M146 91.7h0M149 91.7h0M152 91.7h0M155 91.7h0M158 91.7h0M161 91.7h0M164 91.7h0M167 91.7h0M170 91.7h0M173 91.7h0M176 91.7h0M179 91.7h0M182 91.7h0M185 91.7h0M188 91.7h0M191 91.7h0M194 91.7h0M197 91.7h0M200 91.7h0M203 91.7h0M206 91.7h0M209 91.7h0M212 91.7h0M215 91.7h0M218 91.7h0M224 91.7h0M227 91.7h0M230 91.7h0M233 91.7h0M123.5 94.3h0M126.5 94.3h0M129.5 94.3h0M132.5 94.3h0M135.5 94.3h0M138.5 94.3h0M141.5 94.3h0M144.5 94.3h0M147.5 94.3h0M150.5 94.3h0M156.5 94.3h0M159.5 94.3h0M162.5 94.3h0M165.5 94.3h0M168.5 94.3h0M171.5 94.3h0M174.5 94.3h0M183.5 94.3h0M186.5 94.3h0M189.5 94.3h0M192.5 94.3h0M195.5 94.3h0M198.5 94.3h0M201.5 94.3h0M204.5 94.3h0M207.5 94.3h0M210.5 94.3h0M213.5 94.3h0M216.5 94.3h0M219.5 94.3h0M222.5 94.3h0M225.5 94.3h0M228.5 94.3h0M231.5 94.3h0M125 96.9h0M128 96.9h0M131 96.9h0M134 96.9h0M137 96.9h0M140 96.9h0M143 96.9h0M146 96.9h0M149 96.9h0M155 96.9h0M158 96.9h0M161 96.9h0M164 96.9h0M167 96.9h0M185 96.9h0M188 96.9h0M191 96.9h0M194 96.9h0M197 96.9h0M200 96.9h0M203 96.9h0M206 96.9h0M209 96.9h0M212 96.9h0M215 96.9h0M218 96.9h0M224 96.9h0M227 96.9h0M230 96.9h0M233 96.9h0M126.5 99.5h0M129.5 99.5h0M132.5 99.5h0M135.5 99.5h0M138.5 99.5h0M141.5 99.5h0M144.5 99.5h0M147.5 99.5h0M150.5 99.5h0M153.5 99.5h0M156.5 99.5h0M159.5 99.5h0M186.5 99.5h0M189.5 99.5h0M192.5 99.5h0M195.5 99.5h0M198.5 99.5h0M201.5 99.5h0M204.5 99.5h0M207.5 99.5h0M210.5 99.5h0M213.5 99.5h0M225.5 99.5h0M228.5 99.5h0M231.5 99.5h0M128 102.1h0M131 102.1h0M134 102.1h0M137 102.1h0M140 102.1h0M143 102.1h0M146 102.1h0M149 102.1h0M152 102.1h0M155 102.1h0M158 102.1h0M185 102.1h0M188 102.1h0M191 102.1h0M194 102.1h0M197 102.1h0M200 102.1h0M203 102.1h0M206 102.1h0M209 102.1h0M212 102.1h0M224 102.1h0M227 102.1h0M230 102.1h0M233 102.1h0M126.5 104.7h0M129.5 104.7h0M132.5 104.7h0M135.5 104.7h0M138.5 104.7h0M141.5 104.7h0M144.5 104.7h0M147.5 104.7h0M150.5 104.7h0M153.5 104.7h0M186.5 104.7h0M189.5 104.7h0M192.5 104.7h0M195.5 104.7h0M198.5 104.7h0M201.5 104.7h0M204.5 104.7h0M207.5 104.7h0M210.5 104.7h0M213.5 104.7h0M225.5 104.7h0M228.5 104.7h0M231.5 104.7h0M128 107.3h0M131 107.3h0M134 107.3h0M137 107.3h0M140 107.3h0M143 107.3h0M146 107.3h0M149 107.3h0M152 107.3h0M188 107.3h0M191 107.3h0M194 107.3h0M197 107.3h0M200 107.3h0M203 107.3h0M206 107.3h0M209 107.3h0M212 107.3h0M215 107.3h0M221 107.3h0M224 107.3h0M227 107.3h0M230 107.3h0M233 107.3h0M126.5 109.9h0M129.5 109.9h0M132.5 109.9h0M135.5 109.9h0M138.5 109.9h0M141.5 109.9h0M144.5 109.9h0M186.5 109.9h0M189.5 109.9h0M192.5 109.9h0M195.5 109.9h0M198.5 109.9h0M201.5 109.9h0M204.5 109.9h0M207.5 109.9h0M210.5 109.9h0M213.5 109.9h0M216.5 109.9h0M219.5 109.9h0M222.5 109.9h0M225.5 109.9h0M228.5 109.9h0M231.5 109.9h0M80 112.5h0M83 112.5h0M122 112.5h0M125 112.5h0M128 112.5h0M131 112.5h0M134 112.5h0M137 112.5h0M140 112.5h0M143 112.5h0M185 112.5h0M188 112.5h0M191 112.5h0M194 112.5h0M197 112.5h0M200 112.5h0M203 112.5h0M206 112.5h0M209 112.5h0M212 112.5h0M215 112.5h0M221 112.5h0M224 112.5h0M227 112.5h0M230 112.5h0M81.5 115.1h0M84.5 115.1h0M87.5 115.1h0M117.5 115.1h0M120.5 115.1h0M123.5 115.1h0M126.5 115.1h0M129.5 115.1h0M132.5 115.1h0M135.5 115.1h0M138.5 115.1h0M141.5 115.1h0M183.5 115.1h0M186.5 115.1h0M189.5 115.1h0M192.5 115.1h0M195.5 115.1h0M198.5 115.1h0M201.5 115.1h0M204.5 115.1h0M207.5 115.1h0M210.5 115.1h0M213.5 115.1h0M219.5 115.1h0M222.5 115.1h0M225.5 115.1h0M228.5 115.1h0M80 117.7h0M83 117.7h0M86 117.7h0M89 117.7h0M113 117.7h0M116 117.7h0M119 117.7h0M122 117.7h0M125 117.7h0M134 117.7h0M137 117.7h0M140 117.7h0M143 117.7h0M146 117.7h0M152 117.7h0M179 117.7h0M182 117.7h0M185 117.7h0M188 117.7h0M191 117.7h0M197 117.7h0M200 117.7h0M203 117.7h0M206 117.7h0M209 117.7h0M212 117.7h0M215 117.7h0M218 117.7h0M221 117.7h0M224 117.7h0M227 117.7h0M81.5 120.3h0M84.5 120.3h0M87.5 120.3h0M90.5 120.3h0M111.5 120.3h0M114.5 120.3h0M117.5 120.3h0M120.5 120.3h0M123.5 120.3h0M126.5 120.3h0M135.5 120.3h0M138.5 120.3h0M141.5 120.3h0M144.5 120.3h0M147.5 120.3h0M150.5 120.3h0M153.5 120.3h0M180.5 120.3h0M183.5 120.3h0M186.5 120.3h0M201.5 120.3h0M204.5 120.3h0M207.5 120.3h0M210.5 120.3h0M213.5 120.3h0M216.5 120.3h0M219.5 120.3h0M222.5 120.3h0M225.5 120.3h0M228.5 120.3h0M80 122.9h0M83 122.9h0M86 122.9h0M89 122.9h0M113 122.9h0M116 122.9h0M119 122.9h0M122 122.9h0M125 122.9h0M134 122.9h0M137 122.9h0M140 122.9h0M143 122.9h0M146 122.9h0M149 122.9h0M152 122.9h0M155 122.9h0M185 122.9h0M203 122.9h0M206 122.9h0M209 122.9h0M212 122.9h0M215 122.9h0M218 122.9h0M221 122.9h0M224 122.9h0M227 122.9h0M81.5 125.5h0M84.5 125.5h0M87.5 125.5h0M111.5 125.5h0M114.5 125.5h0M117.5 125.5h0M120.5 125.5h0M123.5 125.5h0M126.5 125.5h0M132.5 125.5h0M135.5 125.5h0M138.5 125.5h0M141.5 125.5h0M144.5 125.5h0M147.5 125.5h0M150.5 125.5h0M153.5 125.5h0M204.5 125.5h0M207.5 125.5h0M210.5 125.5h0M213.5 125.5h0M216.5 125.5h0M219.5 125.5h0M222.5 125.5h0M225.5 125.5h0M89 128.1h0M92 128.1h0M95 128.1h0M98 128.1h0M101 128.1h0M131 128.1h0M134 128.1h0M137 128.1h0M140 128.1h0M143 128.1h0M146 128.1h0M149 128.1h0M152 128.1h0M206 128.1h0M209 128.1h0M212 128.1h0M224 128.1h0M87.5 130.7h0M90.5 130.7h0M93.5 130.7h0M96.5 130.7h0M99.5 130.7h0M102.5 130.7h0M135.5 130.7h0M138.5 130.7h0M141.5 130.7h0M144.5 130.7h0M147.5 130.7h0M150.5 130.7h0M201.5 130.7h0M204.5 130.7h0M207.5 130.7h0M86 133.3h0M89 133.3h0M92 133.3h0M95 133.3h0M98 133.3h0M101 133.3h0M104 133.3h0M140 133.3h0M143 133.3h0M146 133.3h0M149 133.3h0M152 133.3h0M200 133.3h0M203 133.3h0M206 133.3h0M224 133.3h0M84.5 135.9h0M87.5 135.9h0M90.5 135.9h0M93.5 135.9h0M96.5 135.9h0M99.5 135.9h0M102.5 135.9h0M105.5 135.9h0M123.5 135.9h0M147.5 135.9h0M150.5 135.9h0M153.5 135.9h0M201.5 135.9h0M204.5 135.9h0M222.5 135.9h0M77 138.5h0M80 138.5h0M83 138.5h0M86 138.5h0M89 138.5h0M92 138.5h0M95 138.5h0M98 138.5h0M101 138.5h0M104 138.5h0M119 138.5h0M122 138.5h0M125 138.5h0M149 138.5h0M152 138.5h0M155 138.5h0M179 138.5h0M200 138.5h0M203 138.5h0M206 138.5h0M221 138.5h0M75.5 141.1h0M78.5 141.1h0M81.5 141.1h0M84.5 141.1h0M87.5 141.1h0M90.5 141.1h0M93.5 141.1h0M96.5 141.1h0M99.5 141.1h0M102.5 141.1h0M105.5 141.1h0M108.5 141.1h0M117.5 141.1h0M120.5 141.1h0M123.5 141.1h0M153.5 141.1h0M156.5 141.1h0M201.5 141.1h0M204.5 141.1h0M219.5 141.1h0M77 143.7h0M80 143.7h0M83 143.7h0M86 143.7h0M89 143.7h0M92 143.7h0M95 143.7h0M98 143.7h0M101 143.7h0M104 143.7h0M107 143.7h0M110 143.7h0M113 143.7h0M116 143.7h0M119 143.7h0M122 143.7h0M155 143.7h0M158 143.7h0M161 143.7h0M75.5 146.3h0M78.5 146.3h0M81.5 146.3h0M84.5 146.3h0M87.5 146.3h0M90.5 146.3h0M93.5 146.3h0M96.5 146.3h0M99.5 146.3h0M102.5 146.3h0M105.5 146.3h0M108.5 146.3h0M111.5 146.3h0M114.5 146.3h0M117.5 146.3h0M120.5 146.3h0M156.5 146.3h0M159.5 146.3h0M162.5 146.3h0M77 148.9h0M80 148.9h0M83 148.9h0M86 148.9h0M89 148.9h0M92 148.9h0M95 148.9h0M98 148.9h0M101 148.9h0M104 148.9h0M107 148.9h0M110 148.9h0M113 148.9h0M116 148.9h0M119 148.9h0M122 148.9h0M158 148.9h0M161 148.9h0M164 148.9h0M81.5 151.5h0M84.5 151.5h0M87.5 151.5h0M90.5 151.5h0M93.5 151.5h0M96.5 151.5h0M99.5 151.5h0M102.5 151.5h0M105.5 151.5h0M108.5 151.5h0M111.5 151.5h0M114.5 151.5h0M117.5 151.5h0M120.5 151.5h0M123.5 151.5h0M159.5 151.5h0M162.5 151.5h0M83 154.1h0M86 154.1h0M89 154.1h0M92 154.1h0M95 154.1h0M98 154.1h0M101 154.1h0M104 154.1h0M107 154.1h0M110 154.1h0M113 154.1h0M116 154.1h0M119 154.1h0M122 154.1h0M125 154.1h0M140 154.1h0M143 154.1h0M146 154.1h0M84.5 156.7h0M87.5 156.7h0M90.5 156.7h0M93.5 156.7h0M96.5 156.7h0M99.5 156.7h0M102.5 156.7h0M105.5 156.7h0M108.5 156.7h0M111.5 156.7h0M114.5 156.7h0M117.5 156.7h0M120.5 156.7h0M123.5 156.7h0M126.5 156.7h0M138.5 156.7h0M141.5 156.7h0M144.5 156.7h0M86 159.3h0M89 159.3h0M92 159.3h0M95 159.3h0M98 159.3h0M101 159.3h0M104 159.3h0M107 159.3h0M110 159.3h0M113 159.3h0M116 159.3h0M119 159.3h0M122 159.3h0M125 159.3h0M140 159.3h0M143 159.3h0M146 159.3h0M87.5 161.9h0M90.5 161.9h0M93.5 161.9h0M96.5 161.9h0M99.5 161.9h0M102.5 161.9h0M105.5 161.9h0M108.5 161.9h0M111.5 161.9h0M114.5 161.9h0M117.5 161.9h0M120.5 161.9h0M141.5 161.9h0M144.5 161.9h0M98 164.5h0M101 164.5h0M104 164.5h0M107 164.5h0M110 164.5h0M113 164.5h0M209 164.5h0M212 164.5h0M72.5 167.1h0M99.5 167.1h0M102.5 167.1h0M105.5 167.1h0M108.5 167.1h0M111.5 167.1h0M144.5 167.1h0M147.5 167.1h0M189.5 167.1h0M192.5 167.1h0M195.5 167.1h0M198.5 167.1h0M201.5 167.1h0M204.5 167.1h0M207.5 167.1h0M210.5 167.1h0M71 169.7h0M74 169.7h0M77 169.7h0M101 169.7h0M104 169.7h0M107 169.7h0M110 169.7h0M140 169.7h0M143 169.7h0M146 169.7h0M149 169.7h0M152 169.7h0M191 169.7h0M194 169.7h0M197 169.7h0M200 169.7h0M203 169.7h0M206 169.7h0M209 169.7h0M212 169.7h0M69.5 172.3h0M72.5 172.3h0M75.5 172.3h0M78.5 172.3h0M102.5 172.3h0M105.5 172.3h0M108.5 172.3h0M141.5 172.3h0M144.5 172.3h0M147.5 172.3h0M150.5 172.3h0M153.5 172.3h0M189.5 172.3h0M192.5 172.3h0M195.5 172.3h0M198.5 172.3h0M201.5 172.3h0M204.5 172.3h0M207.5 172.3h0M210.5 172.3h0M71 174.9h0M74 174.9h0M77 174.9h0M101 174.9h0M104 174.9h0M107 174.9h0M110 174.9h0M140 174.9h0M143 174.9h0M146 174.9h0M149 174.9h0M152 174.9h0M155 174.9h0M173 174.9h0M176 174.9h0M179 174.9h0M182 174.9h0M185 174.9h0M188 174.9h0M191 174.9h0M194 174.9h0M197 174.9h0M200 174.9h0M203 174.9h0M206 174.9h0M209 174.9h0M69.5 177.5h0M72.5 177.5h0M75.5 177.5h0M99.5 177.5h0M102.5 177.5h0M105.5 177.5h0M108.5 177.5h0M138.5 177.5h0M141.5 177.5h0M144.5 177.5h0M147.5 177.5h0M150.5 177.5h0M153.5 177.5h0M168.5 177.5h0M171.5 177.5h0M174.5 177.5h0M177.5 177.5h0M180.5 177.5h0M183.5 177.5h0M186.5 177.5h0M189.5 177.5h0M192.5 177.5h0M195.5 177.5h0M198.5 177.5h0M201.5 177.5h0M204.5 177.5h0M207.5 177.5h0M71 180.1h0M74 180.1h0M98 180.1h0M101 180.1h0M104 180.1h0M107 180.1h0M110 180.1h0M113 180.1h0M140 180.1h0M143 180.1h0M146 180.1h0M164 180.1h0M167 180.1h0M170 180.1h0M173 180.1h0M176 180.1h0M179 180.1h0M182 180.1h0M185 180.1h0M188 180.1h0M191 180.1h0M194 180.1h0M197 180.1h0M200 180.1h0M69.5 182.7h0M72.5 182.7h0M75.5 182.7h0M93.5 182.7h0M96.5 182.7h0M99.5 182.7h0M102.5 182.7h0M105.5 182.7h0M108.5 182.7h0M111.5 182.7h0M114.5 182.7h0M117.5 182.7h0M120.5 182.7h0M138.5 182.7h0M141.5 182.7h0M144.5 182.7h0M162.5 182.7h0M165.5 182.7h0M168.5 182.7h0M171.5 182.7h0M174.5 182.7h0M177.5 182.7h0M180.5 182.7h0M183.5 182.7h0M186.5 182.7h0M189.5 182.7h0M192.5 182.7h0M195.5 182.7h0M198.5 182.7h0M68 185.3h0M71 185.3h0M74 185.3h0M77 185.3h0M92 185.3h0M107 185.3h0M110 185.3h0M113 185.3h0M116 185.3h0M119 185.3h0M122 185.3h0M140 185.3h0M143 185.3h0M161 185.3h0M164 185.3h0M167 185.3h0M170 185.3h0M173 185.3h0M176 185.3h0M179 185.3h0M182 185.3h0M185 185.3h0M188 185.3h0M191 185.3h0M194 185.3h0M197 185.3h0M200 185.3h0M69.5 187.9h0M72.5 187.9h0M75.5 187.9h0M78.5 187.9h0M90.5 187.9h0M108.5 187.9h0M111.5 187.9h0M114.5 187.9h0M117.5 187.9h0M120.5 187.9h0M159.5 187.9h0M162.5 187.9h0M165.5 187.9h0M168.5 187.9h0M171.5 187.9h0M174.5 187.9h0M177.5 187.9h0M180.5 187.9h0M183.5 187.9h0M186.5 187.9h0M189.5 187.9h0M192.5 187.9h0M195.5 187.9h0M198.5 187.9h0M68 190.4h0M71 190.4h0M74 190.4h0M77 190.4h0M80 190.4h0M89 190.4h0M110 190.4h0M113 190.4h0M116 190.4h0M119 190.4h0M158 190.4h0M161 190.4h0M164 190.4h0M167 190.4h0M170 190.4h0M173 190.4h0M176 190.4h0M179 190.4h0M182 190.4h0M185 190.4h0M188 190.4h0M191 190.4h0M194 190.4h0M197 190.4h0M200 190.4h0M66.5 193h0M69.5 193h0M72.5 193h0M75.5 193h0M78.5 193h0M81.5 193h0M84.5 193h0M87.5 193h0M90.5 193h0M111.5 193h0M114.5 193h0M141.5 193h0M144.5 193h0M159.5 193h0M162.5 193h0M165.5 193h0M168.5 193h0M171.5 193h0M174.5 193h0M177.5 193h0M180.5 193h0M183.5 193h0M186.5 193h0M189.5 193h0M192.5 193h0M195.5 193h0M198.5 193h0M201.5 193h0M204.5 193h0M71 195.6h0M74 195.6h0M77 195.6h0M80 195.6h0M83 195.6h0M86 195.6h0M89 195.6h0M92 195.6h0M95 195.6h0M113 195.6h0M137 195.6h0M140 195.6h0M143 195.6h0M146 195.6h0M149 195.6h0M158 195.6h0M161 195.6h0M164 195.6h0M167 195.6h0M170 195.6h0M173 195.6h0M176 195.6h0M179 195.6h0M182 195.6h0M185 195.6h0M188 195.6h0M191 195.6h0M194 195.6h0M197 195.6h0M200 195.6h0M203 195.6h0M69.5 198.2h0M72.5 198.2h0M75.5 198.2h0M78.5 198.2h0M81.5 198.2h0M84.5 198.2h0M87.5 198.2h0M90.5 198.2h0M93.5 198.2h0M96.5 198.2h0M129.5 198.2h0M132.5 198.2h0M135.5 198.2h0M138.5 198.2h0M141.5 198.2h0M144.5 198.2h0M147.5 198.2h0M150.5 198.2h0M159.5 198.2h0M162.5 198.2h0M165.5 198.2h0M168.5 198.2h0M171.5 198.2h0M174.5 198.2h0M177.5 198.2h0M180.5 198.2h0M183.5 198.2h0M186.5 198.2h0M189.5 198.2h0M192.5 198.2h0M195.5 198.2h0M198.5 198.2h0M201.5 198.2h0M65 200.8h0M68 200.8h0M71 200.8h0M74 200.8h0M77 200.8h0M80 200.8h0M83 200.8h0M86 200.8h0M89 200.8h0M92 200.8h0M95 200.8h0M98 200.8h0M125 200.8h0M128 200.8h0M131 200.8h0M134 200.8h0M137 200.8h0M140 200.8h0M143 200.8h0M146 200.8h0M149 200.8h0M161 200.8h0M164 200.8h0M167 200.8h0M170 200.8h0M173 200.8h0M176 200.8h0M179 200.8h0M182 200.8h0M185 200.8h0M188 200.8h0M191 200.8h0M194 200.8h0M197 200.8h0M200 200.8h0M63.5 203.4h0M66.5 203.4h0M69.5 203.4h0M72.5 203.4h0M75.5 203.4h0M78.5 203.4h0M81.5 203.4h0M84.5 203.4h0M87.5 203.4h0M90.5 203.4h0M93.5 203.4h0M96.5 203.4h0M99.5 203.4h0M102.5 203.4h0M108.5 203.4h0M111.5 203.4h0M132.5 203.4h0M135.5 203.4h0M138.5 203.4h0M141.5 203.4h0M144.5 203.4h0M162.5 203.4h0M165.5 203.4h0M168.5 203.4h0M171.5 203.4h0M174.5 203.4h0M177.5 203.4h0M180.5 203.4h0M183.5 203.4h0M186.5 203.4h0M189.5 203.4h0M192.5 203.4h0M195.5 203.4h0M198.5 203.4h0M65 206h0M68 206h0M71 206h0M74 206h0M77 206h0M80 206h0M83 206h0M86 206h0M89 206h0M92 206h0M95 206h0M98 206h0M101 206h0M104 206h0M107 206h0M110 206h0M113 206h0M134 206h0M137 206h0M140 206h0M143 206h0M164 206h0M167 206h0M170 206h0M173 206h0M176 206h0M191 206h0M194 206h0M197 206h0M200 206h0M63.5 208.6h0M66.5 208.6h0M69.5 208.6h0M72.5 208.6h0M75.5 208.6h0M78.5 208.6h0M81.5 208.6h0M84.5 208.6h0M87.5 208.6h0M90.5 208.6h0M93.5 208.6h0M96.5 208.6h0M99.5 208.6h0M102.5 208.6h0M105.5 208.6h0M108.5 208.6h0M111.5 208.6h0M114.5 208.6h0M135.5 208.6h0M138.5 208.6h0M141.5 208.6h0M144.5 208.6h0M162.5 208.6h0M165.5 208.6h0M168.5 208.6h0M171.5 208.6h0M174.5 208.6h0M192.5 208.6h0M195.5 208.6h0M198.5 208.6h0M65 211.2h0M68 211.2h0M71 211.2h0M74 211.2h0M77 211.2h0M80 211.2h0M83 211.2h0M86 211.2h0M89 211.2h0M92 211.2h0M95 211.2h0M98 211.2h0M101 211.2h0M104 211.2h0M107 211.2h0M110 211.2h0M113 211.2h0M137 211.2h0M140 211.2h0M143 211.2h0M146 211.2h0M149 211.2h0M164 211.2h0M167 211.2h0M170 211.2h0M173 211.2h0M191 211.2h0M194 211.2h0M197 211.2h0" stroke="#000090"/><path d="M90.5 0.8h0M93.5 0.8h0M96.5 0.8h0M99.5 0.8h0M102.5 0.8h0M105.5 0.8h0M108.5 0.8h0M129.5 0.8h0M204.5 0.8h0M92 3.4h0M95 3.4h0M98 3.4h0M101 3.4h0M104 3.4h0M131 3.4h0M96.5 6h0M99.5 6h0M102.5 6h0M129.5 6h0M98 8.6h0M101 8.6h0M104 8.6h0M131 8.6h0M206 8.6h0M99.5 11.2h0M102.5 11.2h0M129.5 11.2h0M132.5 11.2h0M207.5 11.2h0M104 13.8h0M128 13.8h0M131 13.8h0M134 13.8h0M137 13.8h0M206 13.8h0M209 13.8h0M212 13.8h0M215 13.8h0M218 13.8h0M221 13.8h0M105.5 16.4h0M108.5 16.4h0M126.5 16.4h0M129.5 16.4h0M132.5 16.4h0M135.5 16.4h0M138.5 16.4h0M207.5 16.4h0M210.5 16.4h0M213.5 16.4h0M216.5 16.4h0M219.5 16.4h0M222.5 16.4h0M107 19h0M110 19h0M113 19h0M116 19h0M119 19h0M122 19h0M125 19h0M128 19h0M131 19h0M134 19h0M137 19h0M140 19h0M203 19h0M206 19h0M209 19h0M212 19h0M215 19h0M218 19h0M221 19h0M224 19h0M227 19h0M105.5 21.6h0M108.5 21.6h0M111.5 21.6h0M114.5 21.6h0M117.5 21.6h0M120.5 21.6h0M123.5 21.6h0M126.5 21.6h0M129.5 21.6h0M132.5 21.6h0M135.5 21.6h0M138.5 21.6h0M141.5 21.6h0M144.5 21.6h0M147.5 21.6h0M150.5 21.6h0M201.5 21.6h0M204.5 21.6h0M207.5 21.6h0M210.5 21.6h0M213.5 21.6h0M216.5 21.6h0M219.5 21.6h0M222.5 21.6h0M225.5 21.6h0M228.5 21.6h0M231.5 21.6h0M107 24.2h0M110 24.2h0M113 24.2h0M116 24.2h0M119 24.2h0M122 24.2h0M125 24.2h0M128 24.2h0M131 24.2h0M134 24.2h0M137 24.2h0M140 24.2h0M143 24.2h0M152 24.2h0M155 24.2h0M203 24.2h0M206 24.2h0M209 24.2h0M212 24.2h0M215 24.2h0M218 24.2h0M221 24.2h0M224 24.2h0M227 24.2h0M230 24.2h0M233 24.2h0M108.5 26.8h0M111.5 26.8h0M114.5 26.8h0M117.5 26.8h0M120.5 26.8h0M123.5 26.8h0M126.5 26.8h0M129.5 26.8h0M132.5 26.8h0M135.5 26.8h0M138.5 26.8h0M141.5 26.8h0M159.5 26.8h0M162.5 26.8h0M165.5 26.8h0M168.5 26.8h0M207.5 26.8h0M210.5 26.8h0M213.5 26.8h0M216.5 26.8h0M219.5 26.8h0M222.5 26.8h0M225.5 26.8h0M228.5 26.8h0M231.5 26.8h0M110 29.4h0M113 29.4h0M116 29.4h0M119 29.4h0M122 29.4h0M125 29.4h0M128 29.4h0M131 29.4h0M134 29.4h0M137 29.4h0M140 29.4h0M143 29.4h0M170 29.4h0M173 29.4h0M176 29.4h0M179 29.4h0M209 29.4h0M212 29.4h0M215 29.4h0M218 29.4h0M221 29.4h0M224 29.4h0M227 29.4h0M230 29.4h0M233 29.4h0M111.5 32h0M114.5 32h0M117.5 32h0M120.5 32h0M123.5 32h0M126.5 32h0M129.5 32h0M132.5 32h0M135.5 32h0M138.5 32h0M141.5 32h0M144.5 32h0M183.5 32h0M186.5 32h0M210.5 32h0M213.5 32h0M216.5 32h0M219.5 32h0M222.5 32h0M225.5 32h0M228.5 32h0M231.5 32h0M116 34.6h0M119 34.6h0M122 34.6h0M125 34.6h0M128 34.6h0M131 34.6h0M134 34.6h0M137 34.6h0M140 34.6h0M143 34.6h0M146 34.6h0M149 34.6h0M185 34.6h0M212 34.6h0M215 34.6h0M218 34.6h0M221 34.6h0M224 34.6h0M227 34.6h0M230 34.6h0M233 34.6h0M123.5 37.2h0M126.5 37.2h0M129.5 37.2h0M132.5 37.2h0M135.5 37.2h0M138.5 37.2h0M141.5 37.2h0M144.5 37.2h0M147.5 37.2h0M150.5 37.2h0M153.5 37.2h0M159.5 37.2h0M162.5 37.2h0M165.5 37.2h0M183.5 37.2h0M186.5 37.2h0M213.5 37.2h0M216.5 37.2h0M228.5 37.2h0M231.5 37.2h0M128 39.8h0M131 39.8h0M134 39.8h0M146 39.8h0M149 39.8h0M152 39.8h0M155 39.8h0M158 39.8h0M161 39.8h0M164 39.8h0M167 39.8h0M170 39.8h0M185 39.8h0M212 39.8h0M215 39.8h0M230 39.8h0M233 39.8h0M87.5 42.4h0M147.5 42.4h0M150.5 42.4h0M153.5 42.4h0M156.5 42.4h0M159.5 42.4h0M162.5 42.4h0M165.5 42.4h0M168.5 42.4h0M171.5 42.4h0M174.5 42.4h0M183.5 42.4h0M186.5 42.4h0M210.5 42.4h0M213.5 42.4h0M231.5 42.4h0M89 45h0M149 45h0M152 45h0M155 45h0M158 45h0M161 45h0M164 45h0M167 45h0M170 45h0M173 45h0M176 45h0M179 45h0M182 45h0M185 45h0M209 45h0M212 45h0M233 45h0M87.5 47.6h0M90.5 47.6h0M153.5 47.6h0M156.5 47.6h0M159.5 47.6h0M162.5 47.6h0M165.5 47.6h0M168.5 47.6h0M171.5 47.6h0M174.5 47.6h0M177.5 47.6h0M180.5 47.6h0M204.5 47.6h0M207.5 47.6h0M210.5 47.6h0M213.5 47.6h0M231.5 47.6h0M164 50.2h0M167 50.2h0M170 50.2h0M173 50.2h0M176 50.2h0M197 50.2h0M200 50.2h0M203 50.2h0M206 50.2h0M209 50.2h0M212 50.2h0M233 50.2h0M171.5 52.8h0M174.5 52.8h0M195.5 52.8h0M198.5 52.8h0M201.5 52.8h0M204.5 52.8h0M213.5 52.8h0M216.5 52.8h0M231.5 52.8h0M170 55.4h0M173 55.4h0M194 55.4h0M197 55.4h0M200 55.4h0M215 55.4h0M230 55.4h0M233 55.4h0M111.5 57.9h0M114.5 57.9h0M117.5 57.9h0M120.5 57.9h0M171.5 57.9h0M174.5 57.9h0M192.5 57.9h0M195.5 57.9h0M198.5 57.9h0M216.5 57.9h0M219.5 57.9h0M222.5 57.9h0M225.5 57.9h0M228.5 57.9h0M231.5 57.9h0M110 60.5h0M113 60.5h0M116 60.5h0M119 60.5h0M122 60.5h0M143 60.5h0M146 60.5h0M173 60.5h0M191 60.5h0M194 60.5h0M197 60.5h0M200 60.5h0M224 60.5h0M227 60.5h0M230 60.5h0M233 60.5h0M90.5 63.1h0M93.5 63.1h0M108.5 63.1h0M111.5 63.1h0M114.5 63.1h0M117.5 63.1h0M120.5 63.1h0M123.5 63.1h0M126.5 63.1h0M138.5 63.1h0M141.5 63.1h0M144.5 63.1h0M147.5 63.1h0M150.5 63.1h0M171.5 63.1h0M174.5 63.1h0M189.5 63.1h0M192.5 63.1h0M195.5 63.1h0M198.5 63.1h0M228.5 63.1h0M231.5 63.1h0M86 65.7h0M89 65.7h0M92 65.7h0M95 65.7h0M107 65.7h0M110 65.7h0M113 65.7h0M116 65.7h0M119 65.7h0M122 65.7h0M125 65.7h0M128 65.7h0M131 65.7h0M134 65.7h0M137 65.7h0M140 65.7h0M143 65.7h0M146 65.7h0M149 65.7h0M152 65.7h0M155 65.7h0M170 65.7h0M173 65.7h0M176 65.7h0M179 65.7h0M182 65.7h0M185 65.7h0M188 65.7h0M191 65.7h0M203 65.7h0M206 65.7h0M230 65.7h0M233 65.7h0M87.5 68.3h0M90.5 68.3h0M93.5 68.3h0M96.5 68.3h0M105.5 68.3h0M108.5 68.3h0M111.5 68.3h0M114.5 68.3h0M117.5 68.3h0M120.5 68.3h0M123.5 68.3h0M126.5 68.3h0M129.5 68.3h0M132.5 68.3h0M135.5 68.3h0M138.5 68.3h0M141.5 68.3h0M144.5 68.3h0M147.5 68.3h0M150.5 68.3h0M153.5 68.3h0M156.5 68.3h0M171.5 68.3h0M174.5 68.3h0M177.5 68.3h0M180.5 68.3h0M183.5 68.3h0M186.5 68.3h0M189.5 68.3h0M201.5 68.3h0M204.5 68.3h0M207.5 68.3h0M231.5 68.3h0M89 70.9h0M92 70.9h0M95 70.9h0M98 70.9h0M101 70.9h0M104 70.9h0M107 70.9h0M110 70.9h0M113 70.9h0M116 70.9h0M119 70.9h0M122 70.9h0M125 70.9h0M128 70.9h0M131 70.9h0M134 70.9h0M137 70.9h0M140 70.9h0M143 70.9h0M146 70.9h0M149 70.9h0M152 70.9h0M155 70.9h0M158 70.9h0M167 70.9h0M170 70.9h0M173 70.9h0M176 70.9h0M179 70.9h0M182 70.9h0M185 70.9h0M188 70.9h0M203 70.9h0M206 70.9h0M209 70.9h0M230 70.9h0M233 70.9h0M90.5 73.5h0M93.5 73.5h0M96.5 73.5h0M99.5 73.5h0M102.5 73.5h0M105.5 73.5h0M108.5 73.5h0M111.5 73.5h0M114.5 73.5h0M117.5 73.5h0M120.5 73.5h0M123.5 73.5h0M126.5 73.5h0M129.5 73.5h0M132.5 73.5h0M135.5 73.5h0M138.5 73.5h0M141.5 73.5h0M144.5 73.5h0M147.5 73.5h0M153.5 73.5h0M156.5 73.5h0M159.5 73.5h0M162.5 73.5h0M165.5 73.5h0M168.5 73.5h0M180.5 73.5h0M183.5 73.5h0M186.5 73.5h0M189.5 73.5h0M201.5 73.5h0M204.5 73.5h0M207.5 73.5h0M210.5 73.5h0M225.5 73.5h0M228.5 73.5h0M231.5 73.5h0M92 76.1h0M95 76.1h0M98 76.1h0M101 76.1h0M104 76.1h0M107 76.1h0M113 76.1h0M116 76.1h0M119 76.1h0M122 76.1h0M125 76.1h0M128 76.1h0M131 76.1h0M134 76.1h0M137 76.1h0M140 76.1h0M143 76.1h0M158 76.1h0M161 76.1h0M164 76.1h0M167 76.1h0M182 76.1h0M185 76.1h0M188 76.1h0M191 76.1h0M200 76.1h0M203 76.1h0M206 76.1h0M209 76.1h0M227 76.1h0M230 76.1h0M233 76.1h0M93.5 78.7h0M96.5 78.7h0M99.5 78.7h0M102.5 78.7h0M105.5 78.7h0M117.5 78.7h0M120.5 78.7h0M123.5 78.7h0M126.5 78.7h0M129.5 78.7h0M132.5 78.7h0M135.5 78.7h0M138.5 78.7h0M159.5 78.7h0M162.5 78.7h0M165.5 78.7h0M168.5 78.7h0M186.5 78.7h0M189.5 78.7h0M198.5 78.7h0M201.5 78.7h0M204.5 78.7h0M207.5 78.7h0M210.5 78.7h0M213.5 78.7h0M216.5 78.7h0M219.5 78.7h0M222.5 78.7h0M92 81.3h0M95 81.3h0M98 81.3h0M101 81.3h0M104 81.3h0M107 81.3h0M116 81.3h0M119 81.3h0M122 81.3h0M125 81.3h0M128 81.3h0M131 81.3h0M134 81.3h0M137 81.3h0M140 81.3h0M158 81.3h0M161 81.3h0M164 81.3h0M167 81.3h0M206 81.3h0M209 81.3h0M212 81.3h0M215 81.3h0M218 81.3h0M221 81.3h0M224 81.3h0M93.5 83.9h0M96.5 83.9h0M99.5 83.9h0M102.5 83.9h0M105.5 83.9h0M108.5 83.9h0M114.5 83.9h0M117.5 83.9h0M120.5 83.9h0M123.5 83.9h0M126.5 83.9h0M129.5 83.9h0M132.5 83.9h0M135.5 83.9h0M159.5 83.9h0M162.5 83.9h0M165.5 83.9h0M210.5 83.9h0M213.5 83.9h0M216.5 83.9h0M219.5 83.9h0M222.5 83.9h0M98 86.5h0M101 86.5h0M104 86.5h0M107 86.5h0M110 86.5h0M113 86.5h0M116 86.5h0M119 86.5h0M122 86.5h0M125 86.5h0M128 86.5h0M131 86.5h0M158 86.5h0M161 86.5h0M164 86.5h0M215 86.5h0M218 86.5h0M221 86.5h0M224 86.5h0M99.5 89.1h0M102.5 89.1h0M105.5 89.1h0M108.5 89.1h0M111.5 89.1h0M114.5 89.1h0M117.5 89.1h0M120.5 89.1h0M123.5 89.1h0M126.5 89.1h0M159.5 89.1h0M162.5 89.1h0M219.5 89.1h0M222.5 89.1h0M86 91.7h0M89 91.7h0M92 91.7h0M101 91.7h0M104 91.7h0M107 91.7h0M110 91.7h0M113 91.7h0M116 91.7h0M119 91.7h0M122 91.7h0M221 91.7h0M81.5 94.3h0M84.5 94.3h0M87.5 94.3h0M90.5 94.3h0M93.5 94.3h0M96.5 94.3h0M99.5 94.3h0M102.5 94.3h0M105.5 94.3h0M108.5 94.3h0M111.5 94.3h0M114.5 94.3h0M117.5 94.3h0M120.5 94.3h0M153.5 94.3h0M177.5 94.3h0M180.5 94.3h0M83 96.9h0M86 96.9h0M89 96.9h0M92 96.9h0M95 96.9h0M98 96.9h0M101 96.9h0M104 96.9h0M107 96.9h0M110 96.9h0M113 96.9h0M116 96.9h0M119 96.9h0M122 96.9h0M152 96.9h0M170 96.9h0M173 96.9h0M176 96.9h0M179 96.9h0M182 96.9h0M221 96.9h0M81.5 99.5h0M84.5 99.5h0M87.5 99.5h0M90.5 99.5h0M93.5 99.5h0M96.5 99.5h0M99.5 99.5h0M102.5 99.5h0M105.5 99.5h0M108.5 99.5h0M111.5 99.5h0M114.5 99.5h0M117.5 99.5h0M120.5 99.5h0M123.5 99.5h0M162.5 99.5h0M165.5 99.5h0M168.5 99.5h0M171.5 99.5h0M174.5 99.5h0M177.5 99.5h0M180.5 99.5h0M183.5 99.5h0M216.5 99.5h0M219.5 99.5h0M222.5 99.5h0M83 102.1h0M86 102.1h0M89 102.1h0M92 102.1h0M95 102.1h0M98 102.1h0M101 102.1h0M104 102.1h0M107 102.1h0M110 102.1h0M113 102.1h0M116 102.1h0M119 102.1h0M122 102.1h0M125 102.1h0M161 102.1h0M164 102.1h0M167 102.1h0M170 102.1h0M173 102.1h0M176 102.1h0M179 102.1h0M182 102.1h0M215 102.1h0M218 102.1h0M221 102.1h0M81.5 104.7h0M84.5 104.7h0M87.5 104.7h0M90.5 104.7h0M93.5 104.7h0M96.5 104.7h0M99.5 104.7h0M102.5 104.7h0M105.5 104.7h0M108.5 104.7h0M111.5 104.7h0M114.5 104.7h0M117.5 104.7h0M120.5 104.7h0M123.5 104.7h0M156.5 104.7h0M159.5 104.7h0M162.5 104.7h0M165.5 104.7h0M168.5 104.7h0M171.5 104.7h0M174.5 104.7h0M177.5 104.7h0M180.5 104.7h0M183.5 104.7h0M216.5 104.7h0M219.5 104.7h0M222.5 104.7h0M83 107.3h0M86 107.3h0M89 107.3h0M92 107.3h0M95 107.3h0M98 107.3h0M101 107.3h0M104 107.3h0M107 107.3h0M110 107.3h0M113 107.3h0M116 107.3h0M119 107.3h0M122 107.3h0M125 107.3h0M155 107.3h0M158 107.3h0M161 107.3h0M164 107.3h0M167 107.3h0M170 107.3h0M173 107.3h0M176 107.3h0M179 107.3h0M182 107.3h0M185 107.3h0M218 107.3h0M81.5 109.9h0M84.5 109.9h0M87.5 109.9h0M90.5 109.9h0M93.5 109.9h0M96.5 109.9h0M99.5 109.9h0M102.5 109.9h0M105.5 109.9h0M108.5 109.9h0M111.5 109.9h0M114.5 109.9h0M117.5 109.9h0M120.5 109.9h0M123.5 109.9h0M147.5 109.9h0M150.5 109.9h0M153.5 109.9h0M156.5 109.9h0M159.5 109.9h0M162.5 109.9h0M165.5 109.9h0M168.5 109.9h0M171.5 109.9h0M174.5 109.9h0M177.5 109.9h0M180.5 109.9h0M183.5 109.9h0M86 112.5h0M89 112.5h0M92 112.5h0M95 112.5h0M98 112.5h0M101 112.5h0M104 112.5h0M107 112.5h0M110 112.5h0M113 112.5h0M116 112.5h0M119 112.5h0M146 112.5h0M149 112.5h0M152 112.5h0M155 112.5h0M158 112.5h0M161 112.5h0M164 112.5h0M167 112.5h0M170 112.5h0M173 112.5h0M176 112.5h0M179 112.5h0M182 112.5h0M218 112.5h0M90.5 115.1h0M93.5 115.1h0M96.5 115.1h0M99.5 115.1h0M102.5 115.1h0M105.5 115.1h0M108.5 115.1h0M111.5 115.1h0M114.5 115.1h0M144.5 115.1h0M147.5 115.1h0M150.5 115.1h0M153.5 115.1h0M156.5 115.1h0M159.5 115.1h0M162.5 115.1h0M165.5 115.1h0M168.5 115.1h0M171.5 115.1h0M174.5 115.1h0M177.5 115.1h0M180.5 115.1h0M216.5 115.1h0M92 117.7h0M95 117.7h0M98 117.7h0M101 117.7h0M104 117.7h0M107 117.7h0M110 117.7h0M128 117.7h0M131 117.7h0M149 117.7h0M155 117.7h0M158 117.7h0M161 117.7h0M164 117.7h0M167 117.7h0M170 117.7h0M173 117.7h0M176 117.7h0M194 117.7h0M93.5 120.3h0M96.5 120.3h0M99.5 120.3h0M102.5 120.3h0M105.5 120.3h0M108.5 120.3h0M129.5 120.3h0M132.5 120.3h0M156.5 120.3h0M159.5 120.3h0M162.5 120.3h0M165.5 120.3h0M168.5 120.3h0M171.5 120.3h0M174.5 120.3h0M177.5 120.3h0M189.5 120.3h0M192.5 120.3h0M195.5 120.3h0M198.5 120.3h0M92 122.9h0M95 122.9h0M98 122.9h0M101 122.9h0M104 122.9h0M107 122.9h0M110 122.9h0M128 122.9h0M131 122.9h0M158 122.9h0M161 122.9h0M164 122.9h0M167 122.9h0M170 122.9h0M173 122.9h0M176 122.9h0M179 122.9h0M182 122.9h0M188 122.9h0M191 122.9h0M194 122.9h0M197 122.9h0M200 122.9h0M78.5 125.5h0M90.5 125.5h0M93.5 125.5h0M96.5 125.5h0M99.5 125.5h0M102.5 125.5h0M105.5 125.5h0M108.5 125.5h0M129.5 125.5h0M156.5 125.5h0M159.5 125.5h0M162.5 125.5h0M165.5 125.5h0M168.5 125.5h0M171.5 125.5h0M174.5 125.5h0M177.5 125.5h0M180.5 125.5h0M183.5 125.5h0M186.5 125.5h0M189.5 125.5h0M192.5 125.5h0M195.5 125.5h0M198.5 125.5h0M201.5 125.5h0M80 128.1h0M83 128.1h0M86 128.1h0M104 128.1h0M107 128.1h0M110 128.1h0M113 128.1h0M116 128.1h0M119 128.1h0M122 128.1h0M125 128.1h0M128 128.1h0M155 128.1h0M158 128.1h0M161 128.1h0M164 128.1h0M167 128.1h0M170 128.1h0M173 128.1h0M176 128.1h0M179 128.1h0M182 128.1h0M185 128.1h0M188 128.1h0M191 128.1h0M194 128.1h0M197 128.1h0M200 128.1h0M203 128.1h0M215 128.1h0M218 128.1h0M221 128.1h0M78.5 130.7h0M81.5 130.7h0M84.5 130.7h0M105.5 130.7h0M108.5 130.7h0M111.5 130.7h0M114.5 130.7h0M117.5 130.7h0M120.5 130.7h0M123.5 130.7h0M126.5 130.7h0M129.5 130.7h0M132.5 130.7h0M153.5 130.7h0M156.5 130.7h0M159.5 130.7h0M162.5 130.7h0M165.5 130.7h0M168.5 130.7h0M171.5 130.7h0M174.5 130.7h0M177.5 130.7h0M180.5 130.7h0M183.5 130.7h0M186.5 130.7h0M189.5 130.7h0M192.5 130.7h0M195.5 130.7h0M198.5 130.7h0M210.5 130.7h0M213.5 130.7h0M216.5 130.7h0M219.5 130.7h0M222.5 130.7h0M77 133.3h0M80 133.3h0M83 133.3h0M107 133.3h0M110 133.3h0M113 133.3h0M116 133.3h0M119 133.3h0M122 133.3h0M125 133.3h0M128 133.3h0M131 133.3h0M134 133.3h0M137 133.3h0M155 133.3h0M158 133.3h0M161 133.3h0M164 133.3h0M167 133.3h0M170 133.3h0M173 133.3h0M176 133.3h0M179 133.3h0M182 133.3h0M185 133.3h0M188 133.3h0M191 133.3h0M194 133.3h0M197 133.3h0M209 133.3h0M212 133.3h0M215 133.3h0M218 133.3h0M221 133.3h0M78.5 135.9h0M81.5 135.9h0M108.5 135.9h0M111.5 135.9h0M114.5 135.9h0M117.5 135.9h0M120.5 135.9h0M126.5 135.9h0M129.5 135.9h0M132.5 135.9h0M135.5 135.9h0M138.5 135.9h0M141.5 135.9h0M144.5 135.9h0M156.5 135.9h0M159.5 135.9h0M162.5 135.9h0M165.5 135.9h0M168.5 135.9h0M171.5 135.9h0M174.5 135.9h0M177.5 135.9h0M180.5 135.9h0M183.5 135.9h0M186.5 135.9h0M189.5 135.9h0M192.5 135.9h0M195.5 135.9h0M198.5 135.9h0M207.5 135.9h0M210.5 135.9h0M213.5 135.9h0M216.5 135.9h0M219.5 135.9h0M107 138.5h0M110 138.5h0M113 138.5h0M116 138.5h0M128 138.5h0M131 138.5h0M134 138.5h0M137 138.5h0M140 138.5h0M143 138.5h0M146 138.5h0M158 138.5h0M161 138.5h0M164 138.5h0M167 138.5h0M170 138.5h0M173 138.5h0M176 138.5h0M182 138.5h0M185 138.5h0M188 138.5h0M191 138.5h0M194 138.5h0M197 138.5h0M209 138.5h0M212 138.5h0M215 138.5h0M218 138.5h0M111.5 141.1h0M114.5 141.1h0M126.5 141.1h0M129.5 141.1h0M132.5 141.1h0M135.5 141.1h0M138.5 141.1h0M141.5 141.1h0M144.5 141.1h0M147.5 141.1h0M150.5 141.1h0M159.5 141.1h0M162.5 141.1h0M165.5 141.1h0M168.5 141.1h0M171.5 141.1h0M174.5 141.1h0M177.5 141.1h0M180.5 141.1h0M183.5 141.1h0M186.5 141.1h0M189.5 141.1h0M192.5 141.1h0M195.5 141.1h0M198.5 141.1h0M207.5 141.1h0M210.5 141.1h0M213.5 141.1h0M216.5 141.1h0M125 143.7h0M128 143.7h0M131 143.7h0M140 143.7h0M143 143.7h0M146 143.7h0M149 143.7h0M152 143.7h0M164 143.7h0M167 143.7h0M170 143.7h0M173 143.7h0M176 143.7h0M179 143.7h0M182 143.7h0M185 143.7h0M188 143.7h0M191 143.7h0M194 143.7h0M197 143.7h0M200 143.7h0M203 143.7h0M206 143.7h0M209 143.7h0M212 143.7h0M215 143.7h0M218 143.7h0M123.5 146.3h0M126.5 146.3h0M129.5 146.3h0M132.5 146.3h0M138.5 146.3h0M141.5 146.3h0M144.5 146.3h0M147.5 146.3h0M150.5 146.3h0M153.5 146.3h0M165.5 146.3h0M168.5 146.3h0M171.5 146.3h0M174.5 146.3h0M177.5 146.3h0M180.5 146.3h0M183.5 146.3h0M186.5 146.3h0M189.5 146.3h0M192.5 146.3h0M195.5 146.3h0M198.5 146.3h0M201.5 146.3h0M204.5 146.3h0M207.5 146.3h0M210.5 146.3h0M213.5 146.3h0M216.5 146.3h0M125 148.9h0M128 148.9h0M131 148.9h0M134 148.9h0M137 148.9h0M140 148.9h0M143 148.9h0M146 148.9h0M149 148.9h0M152 148.9h0M155 148.9h0M167 148.9h0M170 148.9h0M173 148.9h0M176 148.9h0M179 148.9h0M182 148.9h0M185 148.9h0M188 148.9h0M191 148.9h0M194 148.9h0M197 148.9h0M200 148.9h0M203 148.9h0M206 148.9h0M209 148.9h0M212 148.9h0M215 148.9h0M218 148.9h0M75.5 151.5h0M78.5 151.5h0M126.5 151.5h0M129.5 151.5h0M132.5 151.5h0M135.5 151.5h0M138.5 151.5h0M141.5 151.5h0M144.5 151.5h0M147.5 151.5h0M150.5 151.5h0M153.5 151.5h0M156.5 151.5h0M165.5 151.5h0M168.5 151.5h0M171.5 151.5h0M174.5 151.5h0M177.5 151.5h0M180.5 151.5h0M183.5 151.5h0M186.5 151.5h0M189.5 151.5h0M192.5 151.5h0M195.5 151.5h0M198.5 151.5h0M201.5 151.5h0M204.5 151.5h0M207.5 151.5h0M210.5 151.5h0M213.5 151.5h0M216.5 151.5h0M74 154.1h0M77 154.1h0M80 154.1h0M128 154.1h0M131 154.1h0M134 154.1h0M137 154.1h0M149 154.1h0M152 154.1h0M155 154.1h0M158 154.1h0M161 154.1h0M164 154.1h0M167 154.1h0M170 154.1h0M173 154.1h0M176 154.1h0M179 154.1h0M182 154.1h0M185 154.1h0M188 154.1h0M191 154.1h0M194 154.1h0M197 154.1h0M200 154.1h0M203 154.1h0M206 154.1h0M209 154.1h0M212 154.1h0M215 154.1h0M75.5 156.7h0M78.5 156.7h0M81.5 156.7h0M129.5 156.7h0M132.5 156.7h0M135.5 156.7h0M147.5 156.7h0M150.5 156.7h0M153.5 156.7h0M156.5 156.7h0M159.5 156.7h0M162.5 156.7h0M165.5 156.7h0M168.5 156.7h0M171.5 156.7h0M174.5 156.7h0M177.5 156.7h0M180.5 156.7h0M183.5 156.7h0M186.5 156.7h0M189.5 156.7h0M192.5 156.7h0M195.5 156.7h0M198.5 156.7h0M201.5 156.7h0M204.5 156.7h0M207.5 156.7h0M210.5 156.7h0M213.5 156.7h0M216.5 156.7h0M74 159.3h0M77 159.3h0M80 159.3h0M83 159.3h0M128 159.3h0M131 159.3h0M134 159.3h0M137 159.3h0M149 159.3h0M152 159.3h0M155 159.3h0M158 159.3h0M161 159.3h0M164 159.3h0M170 159.3h0M173 159.3h0M176 159.3h0M179 159.3h0M182 159.3h0M185 159.3h0M188 159.3h0M191 159.3h0M194 159.3h0M197 159.3h0M200 159.3h0M203 159.3h0M206 159.3h0M209 159.3h0M212 159.3h0M215 159.3h0M72.5 161.9h0M75.5 161.9h0M78.5 161.9h0M81.5 161.9h0M84.5 161.9h0M123.5 161.9h0M126.5 161.9h0M129.5 161.9h0M132.5 161.9h0M135.5 161.9h0M138.5 161.9h0M147.5 161.9h0M150.5 161.9h0M153.5 161.9h0M156.5 161.9h0M159.5 161.9h0M162.5 161.9h0M165.5 161.9h0M168.5 161.9h0M171.5 161.9h0M174.5 161.9h0M177.5 161.9h0M180.5 161.9h0M183.5 161.9h0M186.5 161.9h0M189.5 161.9h0M192.5 161.9h0M195.5 161.9h0M198.5 161.9h0M201.5 161.9h0M204.5 161.9h0M207.5 161.9h0M210.5 161.9h0M213.5 161.9h0M74 164.5h0M77 164.5h0M80 164.5h0M83 164.5h0M86 164.5h0M89 164.5h0M92 164.5h0M95 164.5h0M116 164.5h0M119 164.5h0M122 164.5h0M125 164.5h0M128 164.5h0M131 164.5h0M134 164.5h0M137 164.5h0M140 164.5h0M143 164.5h0M146 164.5h0M149 164.5h0M152 164.5h0M155 164.5h0M158 164.5h0M161 164.5h0M167 164.5h0M170 164.5h0M173 164.5h0M176 164.5h0M179 164.5h0M182 164.5h0M185 164.5h0M188 164.5h0M191 164.5h0M194 164.5h0M197 164.5h0M200 164.5h0M203 164.5h0M206 164.5h0M75.5 167.1h0M78.5 167.1h0M81.5 167.1h0M84.5 167.1h0M87.5 167.1h0M90.5 167.1h0M93.5 167.1h0M96.5 167.1h0M114.5 167.1h0M117.5 167.1h0M120.5 167.1h0M123.5 167.1h0M126.5 167.1h0M129.5 167.1h0M132.5 167.1h0M135.5 167.1h0M138.5 167.1h0M141.5 167.1h0M150.5 167.1h0M153.5 167.1h0M156.5 167.1h0M159.5 167.1h0M162.5 167.1h0M165.5 167.1h0M168.5 167.1h0M171.5 167.1h0M174.5 167.1h0M177.5 167.1h0M180.5 167.1h0M183.5 167.1h0M186.5 167.1h0M80 169.7h0M83 169.7h0M86 169.7h0M89 169.7h0M92 169.7h0M95 169.7h0M98 169.7h0M113 169.7h0M116 169.7h0M119 169.7h0M122 169.7h0M125 169.7h0M128 169.7h0M131 169.7h0M134 169.7h0M137 169.7h0M155 169.7h0M158 169.7h0M161 169.7h0M164 169.7h0M167 169.7h0M170 169.7h0M173 169.7h0M176 169.7h0M179 169.7h0M182 169.7h0M185 169.7h0M188 169.7h0M81.5 172.3h0M84.5 172.3h0M87.5 172.3h0M90.5 172.3h0M93.5 172.3h0M96.5 172.3h0M99.5 172.3h0M111.5 172.3h0M114.5 172.3h0M117.5 172.3h0M120.5 172.3h0M123.5 172.3h0M126.5 172.3h0M129.5 172.3h0M132.5 172.3h0M135.5 172.3h0M138.5 172.3h0M156.5 172.3h0M159.5 172.3h0M162.5 172.3h0M165.5 172.3h0M168.5 172.3h0M171.5 172.3h0M174.5 172.3h0M177.5 172.3h0M180.5 172.3h0M183.5 172.3h0M186.5 172.3h0M80 174.9h0M83 174.9h0M86 174.9h0M89 174.9h0M92 174.9h0M95 174.9h0M98 174.9h0M113 174.9h0M116 174.9h0M119 174.9h0M122 174.9h0M125 174.9h0M128 174.9h0M131 174.9h0M134 174.9h0M137 174.9h0M158 174.9h0M161 174.9h0M164 174.9h0M167 174.9h0M170 174.9h0M78.5 177.5h0M81.5 177.5h0M84.5 177.5h0M87.5 177.5h0M90.5 177.5h0M93.5 177.5h0M96.5 177.5h0M111.5 177.5h0M114.5 177.5h0M117.5 177.5h0M120.5 177.5h0M123.5 177.5h0M126.5 177.5h0M129.5 177.5h0M132.5 177.5h0M135.5 177.5h0M156.5 177.5h0M159.5 177.5h0M162.5 177.5h0M165.5 177.5h0M77 180.1h0M80 180.1h0M83 180.1h0M86 180.1h0M89 180.1h0M92 180.1h0M95 180.1h0M116 180.1h0M119 180.1h0M122 180.1h0M125 180.1h0M128 180.1h0M131 180.1h0M134 180.1h0M137 180.1h0M149 180.1h0M152 180.1h0M155 180.1h0M158 180.1h0M161 180.1h0M203 180.1h0M206 180.1h0M78.5 182.7h0M81.5 182.7h0M84.5 182.7h0M87.5 182.7h0M90.5 182.7h0M123.5 182.7h0M126.5 182.7h0M129.5 182.7h0M132.5 182.7h0M135.5 182.7h0M147.5 182.7h0M150.5 182.7h0M153.5 182.7h0M156.5 182.7h0M159.5 182.7h0M201.5 182.7h0M204.5 182.7h0M80 185.3h0M83 185.3h0M86 185.3h0M89 185.3h0M95 185.3h0M98 185.3h0M101 185.3h0M104 185.3h0M125 185.3h0M128 185.3h0M131 185.3h0M134 185.3h0M137 185.3h0M146 185.3h0M149 185.3h0M152 185.3h0M155 185.3h0M158 185.3h0M203 185.3h0M206 185.3h0M81.5 187.9h0M84.5 187.9h0M87.5 187.9h0M93.5 187.9h0M96.5 187.9h0M99.5 187.9h0M102.5 187.9h0M105.5 187.9h0M123.5 187.9h0M126.5 187.9h0M129.5 187.9h0M132.5 187.9h0M135.5 187.9h0M138.5 187.9h0M141.5 187.9h0M144.5 187.9h0M147.5 187.9h0M150.5 187.9h0M153.5 187.9h0M156.5 187.9h0M201.5 187.9h0M204.5 187.9h0M83 190.4h0M86 190.4h0M92 190.4h0M95 190.4h0M98 190.4h0M101 190.4h0M104 190.4h0M107 190.4h0M122 190.4h0M125 190.4h0M128 190.4h0M131 190.4h0M134 190.4h0M137 190.4h0M140 190.4h0M143 190.4h0M146 190.4h0M149 190.4h0M152 190.4h0M155 190.4h0M203 190.4h0M93.5 193h0M96.5 193h0M99.5 193h0M102.5 193h0M105.5 193h0M108.5 193h0M117.5 193h0M120.5 193h0M123.5 193h0M126.5 193h0M129.5 193h0M132.5 193h0M135.5 193h0M138.5 193h0M147.5 193h0M150.5 193h0M153.5 193h0M156.5 193h0M68 195.6h0M98 195.6h0M101 195.6h0M104 195.6h0M107 195.6h0M110 195.6h0M116 195.6h0M119 195.6h0M122 195.6h0M125 195.6h0M128 195.6h0M131 195.6h0M134 195.6h0M152 195.6h0M155 195.6h0M66.5 198.2h0M99.5 198.2h0M102.5 198.2h0M105.5 198.2h0M108.5 198.2h0M111.5 198.2h0M114.5 198.2h0M117.5 198.2h0M120.5 198.2h0M123.5 198.2h0M126.5 198.2h0M153.5 198.2h0M156.5 198.2h0M101 200.8h0M104 200.8h0M107 200.8h0M110 200.8h0M113 200.8h0M116 200.8h0M119 200.8h0M122 200.8h0M152 200.8h0M155 200.8h0M158 200.8h0M105.5 203.4h0M114.5 203.4h0M117.5 203.4h0M120.5 203.4h0M123.5 203.4h0M126.5 203.4h0M129.5 203.4h0M147.5 203.4h0M150.5 203.4h0M153.5 203.4h0M156.5 203.4h0M159.5 203.4h0M116 206h0M119 206h0M122 206h0M125 206h0M128 206h0M131 206h0M146 206h0M149 206h0M152 206h0M155 206h0M158 206h0M161 206h0M179 206h0M182 206h0M185 206h0M188 206h0M117.5 208.6h0M120.5 208.6h0M123.5 208.6h0M126.5 208.6h0M129.5 208.6h0M132.5 208.6h0M147.5 208.6h0M150.5 208.6h0M153.5 208.6h0M156.5 208.6h0M159.5 208.6h0M177.5 208.6h0M180.5 208.6h0M183.5 208.6h0M186.5 208.6h0M189.5 208.6h0M116 211.2h0M119 211.2h0M122 211.2h0M125 211.2h0M128 211.2h0M131 211.2h0M134 211.2h0M152 211.2h0M155 211.2h0M158 211.2h0M161 211.2h0M176 211.2h0M179 211.2h0M182 211.2h0M185 211.2h0M188 211.2h0" stroke="#0000a2"/><path d="M132.5 0.8h0M201.5 0.8h0M203 3.4h0M132.5 6h0M204.5 6h0M134 8.6h0M135.5 11.2h0M204.5 11.2h0M140 13.8h0M203 13.8h0M141.5 16.4h0M201.5 16.4h0M204.5 16.4h0M143 19h0M146 19h0M153.5 21.6h0M158 24.2h0M161 24.2h0M200 24.2h0M171.5 26.8h0M174.5 26.8h0M198.5 26.8h0M201.5 26.8h0M204.5 26.8h0M182 29.4h0M185 29.4h0M188 29.4h0M191 29.4h0M203 29.4h0M206 29.4h0M189.5 32h0M207.5 32h0M188 34.6h0M209 34.6h0M189.5 37.2h0M207.5 37.2h0M210.5 37.2h0M219.5 37.2h0M222.5 37.2h0M225.5 37.2h0M188 39.8h0M206 39.8h0M209 39.8h0M218 39.8h0M221 39.8h0M224 39.8h0M227 39.8h0M189.5 42.4h0M207.5 42.4h0M216.5 42.4h0M219.5 42.4h0M222.5 42.4h0M225.5 42.4h0M228.5 42.4h0M188 45h0M191 45h0M194 45h0M200 45h0M203 45h0M206 45h0M215 45h0M218 45h0M227 45h0M230 45h0M183.5 47.6h0M186.5 47.6h0M189.5 47.6h0M192.5 47.6h0M195.5 47.6h0M198.5 47.6h0M201.5 47.6h0M216.5 47.6h0M228.5 47.6h0M179 50.2h0M182 50.2h0M185 50.2h0M188 50.2h0M191 50.2h0M194 50.2h0M215 50.2h0M218 50.2h0M230 50.2h0M177.5 52.8h0M189.5 52.8h0M192.5 52.8h0M228.5 52.8h0M176 55.4h0M188 55.4h0M191 55.4h0M218 55.4h0M221 55.4h0M224 55.4h0M227 55.4h0M189.5 57.9h0M176 60.5h0M179 60.5h0M188 60.5h0M177.5 63.1h0M180.5 63.1h0M183.5 63.1h0M186.5 63.1h0M134 143.7h0M137 143.7h0M135.5 146.3h0M167 159.3h0M164 164.5h0" stroke="#0000b2"/><path d="M134 3.4h0M135.5 6h0M201.5 6h0M137 8.6h0M203 8.6h0M138.5 11.2h0M144.5 16.4h0M149 19h0M200 19h0M156.5 21.6h0M198.5 21.6h0M164 24.2h0M197 24.2h0M177.5 26.8h0M180.5 26.8h0M183.5 26.8h0M186.5 26.8h0M189.5 26.8h0M192.5 26.8h0M195.5 26.8h0M194 29.4h0M197 29.4h0M200 29.4h0M192.5 32h0M195.5 32h0M201.5 32h0M204.5 32h0M191 34.6h0M206 34.6h0M192.5 37.2h0M204.5 37.2h0M191 39.8h0M194 39.8h0M203 39.8h0M192.5 42.4h0M195.5 42.4h0M198.5 42.4h0M201.5 42.4h0M204.5 42.4h0M197 45h0M221 45h0M224 45h0M219.5 47.6h0M222.5 47.6h0M225.5 47.6h0M221 50.2h0M224 50.2h0M227 50.2h0M180.5 52.8h0M183.5 52.8h0M186.5 52.8h0M219.5 52.8h0M222.5 52.8h0M225.5 52.8h0M179 55.4h0M185 55.4h0M177.5 57.9h0M180.5 57.9h0M186.5 57.9h0M182 60.5h0M185 60.5h0" stroke="#0000c3"/><path d="M135.5 0.8h0M200 3.4h0M201.5 11.2h0M143 13.8h0M200 13.8h0M197 19h0M159.5 21.6h0M195.5 21.6h0M167 24.2h0M194 24.2h0M198.5 32h0M194 34.6h0M197 34.6h0M200 34.6h0M203 34.6h0M195.5 37.2h0M198.5 37.2h0M201.5 37.2h0M197 39.8h0M200 39.8h0M182 55.4h0M183.5 57.9h0" stroke="#0000d4"/><path d="M138.5 0.8h0M198.5 0.8h0M137 3.4h0M138.5 6h0M140 8.6h0M176 8.6h0M200 8.6h0M141.5 11.2h0M198.5 16.4h0M152 19h0M162.5 21.6h0M170 24.2h0M191 24.2h0" stroke="#0000e6"/><path d="M141.5 0.8h0M144.5 0.8h0M171.5 0.8h0M174.5 0.8h0M177.5 0.8h0M180.5 0.8h0M183.5 0.8h0M186.5 0.8h0M140 3.4h0M176 3.4h0M141.5 6h0M174.5 6h0M177.5 6h0M143 8.6h0M179 8.6h0M144.5 11.2h0M198.5 11.2h0M146 13.8h0M197 13.8h0M147.5 16.4h0M195.5 16.4h0M155 19h0M194 19h0M165.5 21.6h0M168.5 21.6h0M192.5 21.6h0M173 24.2h0M188 24.2h0" stroke="#0000f6"/><path d="M147.5 0.8h0M150.5 0.8h0M153.5 0.8h0M156.5 0.8h0M159.5 0.8h0M162.5 0.8h0M165.5 0.8h0M168.5 0.8h0M189.5 0.8h0M143 3.4h0M146 3.4h0M173 3.4h0M179 3.4h0M182 3.4h0M144.5 6h0M180.5 6h0M177.5 11.2h0M195.5 11.2h0M194 13.8h0M150.5 16.4h0M158 19h0M176 24.2h0M179 24.2h0M182 24.2h0M185 24.2h0" stroke="#0008ff"/><path d="M192.5 0.8h0M195.5 0.8h0M149 3.4h0M152 3.4h0M155 3.4h0M158 3.4h0M161 3.4h0M164 3.4h0M167 3.4h0M170 3.4h0M185 3.4h0M188 3.4h0M171.5 6h0M183.5 6h0M146 8.6h0M173 8.6h0M182 8.6h0M197 8.6h0M174.5 11.2h0M180.5 11.2h0M149 13.8h0M153.5 16.4h0M192.5 16.4h0M161 19h0M164 19h0M171.5 21.6h0M189.5 21.6h0" stroke="#0019ff"/><path d="M147.5 6h0M186.5 6h0M198.5 6h0M185 8.6h0M189.5 11.2h0M192.5 11.2h0M176 13.8h0M179 13.8h0M191 13.8h0M156.5 16.4h0M167 19h0M170 19h0M191 19h0M174.5 21.6h0M180.5 21.6h0" stroke="#002aff"/><path d="M191 3.4h0M197 3.4h0M150.5 6h0M153.5 6h0M156.5 6h0M159.5 6h0M162.5 6h0M165.5 6h0M168.5 6h0M189.5 6h0M161 8.6h0M188 8.6h0M191 8.6h0M194 8.6h0M147.5 11.2h0M183.5 11.2h0M186.5 11.2h0M189.5 16.4h0M186.5 21.6h0" stroke="#003bff"/><path d="M149 8.6h0M158 8.6h0M164 8.6h0M162.5 11.2h0M152 13.8h0M155 13.8h0M182 13.8h0M188 13.8h0M165.5 16.4h0M174.5 16.4h0M177.5 16.4h0M180.5 16.4h0M173 19h0M177.5 21.6h0M183.5 21.6h0" stroke="#004dff"/><path d="M155 8.6h0M167 8.6h0M156.5 11.2h0M159.5 11.2h0M171.5 11.2h0M164 13.8h0M173 13.8h0M185 13.8h0M168.5 16.4h0M171.5 16.4h0" stroke="#005eff"/><path d="M194 3.4h0M192.5 6h0M170 8.6h0M150.5 11.2h0M165.5 11.2h0M158 13.8h0M162.5 16.4h0M179 19h0M188 19h0" stroke="#006eff"/><path d="M195.5 6h0M153.5 11.2h0M167 13.8h0M159.5 16.4h0M182 19h0" stroke="#0080ff"/><path d="M152 8.6h0M161 13.8h0M183.5 16.4h0M186.5 16.4h0M176 19h0" stroke="#0090ff"/><path d="M168.5 11.2h0M170 13.8h0" stroke="#00a2ff"/><path d="M185 19h0" stroke="#00b2ff"/></g><g><polygon points="101.3,126.3 118.3,125.2 136.0,124.9 136.5,130.4 125.1,132.6 114.2,132.3 101.7,132.6" fill="#9e0000"/><polygon points="118.3,125.2 122.4,124.9 122.4,131.3 119.0,132.3" fill="#c70000"/><ellipse cx="95.9" cy="124.9" rx="3.0" ry="1.2" transform="rotate(10 95.9 124.9)" fill="#faff05"/><ellipse cx="95.2" cy="128.8" rx="2.7" ry="1.2" transform="rotate(10 95.2 128.8)" fill="#2effd1"/><ellipse cx="114.2" cy="125.2" rx="2.7" ry="0.8" transform="rotate(15 114.2 125.2)" fill="#faff05"/><ellipse cx="123.1" cy="124.1" rx="2.4" ry="1.0" transform="rotate(30 123.1 124.1)" fill="#05fffa"/><ellipse cx="132.2" cy="123.3" rx="2.2" ry="1.0" transform="rotate(30 132.2 123.3)" fill="#00f0ff"/><ellipse cx="139.3" cy="124.1" rx="2.4" ry="1.0" transform="rotate(35 139.3 124.1)" fill="#1affe5"/><ellipse cx="142.7" cy="128.6" rx="3.5" ry="1.1" transform="rotate(30 142.7 128.6)" fill="#faff05"/><ellipse cx="148.2" cy="129.3" rx="2.7" ry="1.0" transform="rotate(35 148.2 129.3)" fill="#4dffb2"/><ellipse cx="106.8" cy="134.2" rx="5.4" ry="1.1" transform="rotate(8 106.8 134.2)" fill="#faff05"/><ellipse cx="112.9" cy="135.0" rx="3.0" ry="0.8" transform="rotate(8 112.9 135.0)" fill="#1affe5"/><ellipse cx="127.8" cy="133.6" rx="4.1" ry="1.1" transform="rotate(25 127.8 133.6)" fill="#ffb300"/><ellipse cx="133.9" cy="134.5" rx="2.7" ry="1.1" transform="rotate(25 133.9 134.5)" fill="#1affe5"/><ellipse cx="130.5" cy="132.7" rx="1.9" ry="0.8" transform="rotate(25 130.5 132.7)" fill="#faff05"/><ellipse cx="125.1" cy="131.7" rx="1.9" ry="0.8" transform="rotate(30 125.1 131.7)" fill="#b3ff4c"/><ellipse cx="153.6" cy="109.2" rx="1.6" ry="0.8" transform="rotate(0 153.6 109.2)" fill="#00b2ff"/><ellipse cx="144.8" cy="142.2" rx="1.9" ry="0.8" transform="rotate(0 144.8 142.2)" fill="#000fff"/><ellipse cx="229.6" cy="105.9" rx="2.7" ry="1.2" transform="rotate(25 229.6 105.9)" fill="#faff05"/><ellipse cx="220.8" cy="114.6" rx="2.2" ry="1.4" transform="rotate(40 220.8 114.6)" fill="#4dffb2"/><ellipse cx="225.8" cy="114.1" rx="3.0" ry="1.1" transform="rotate(15 225.8 114.1)" fill="#ffdb00"/><ellipse cx="222.8" cy="125.2" rx="4.1" ry="1.4" transform="rotate(10 222.8 125.2)" fill="#ff6100"/><ellipse cx="224.9" cy="128.6" rx="4.3" ry="1.4" transform="rotate(15 224.9 128.6)" fill="#ff1a00"/><ellipse cx="218.5" cy="132.3" rx="2.7" ry="1.6" transform="rotate(30 218.5 132.3)" fill="#e5ff1a"/><ellipse cx="223.5" cy="132.7" rx="3.0" ry="1.6" transform="rotate(30 223.5 132.7)" fill="#00d1ff"/><ellipse cx="214.7" cy="145.6" rx="2.2" ry="1.9" transform="rotate(0 214.7 145.6)" fill="#0000e6"/><ellipse cx="193.2" cy="162.8" rx="2.4" ry="1.0" transform="rotate(25 193.2 162.8)" fill="#ffc700"/><ellipse cx="201.4" cy="159.8" rx="2.2" ry="1.4" transform="rotate(0 201.4 159.8)" fill="#0024ff"/><ellipse cx="205.9" cy="158.1" rx="1.9" ry="1.1" transform="rotate(40 205.9 158.1)" fill="#00c7ff"/><ellipse cx="191.9" cy="173.0" rx="3.0" ry="1.9" transform="rotate(0 191.9 173.0)" fill="#0005ff"/><ellipse cx="166.2" cy="179.5" rx="1.4" ry="1.6" transform="rotate(0 166.2 179.5)" fill="#0080ff"/><ellipse cx="163.1" cy="183.6" rx="2.4" ry="1.1" transform="rotate(30 163.1 183.6)" fill="#2effd1"/><ellipse cx="167.5" cy="181.2" rx="1.1" ry="1.4" transform="rotate(0 167.5 181.2)" fill="#b30000"/><ellipse cx="165.4" cy="187.1" rx="2.2" ry="1.1" transform="rotate(20 165.4 187.1)" fill="#1affe5"/><ellipse cx="154.3" cy="186.0" rx="3.0" ry="0.7" transform="rotate(0 154.3 186.0)" fill="#004dff"/><ellipse cx="132.2" cy="180.3" rx="3.0" ry="1.1" transform="rotate(30 132.2 180.3)" fill="#0080ff"/><ellipse cx="139.8" cy="177.6" rx="2.7" ry="1.1" transform="rotate(20 139.8 177.6)" fill="#0061ff"/><ellipse cx="141.4" cy="185.6" rx="3.5" ry="1.1" transform="rotate(30 141.4 185.6)" fill="#009eff"/><ellipse cx="145.2" cy="189.3" rx="3.5" ry="1.2" transform="rotate(15 145.2 189.3)" fill="#00b2ff"/><ellipse cx="138.0" cy="191.7" rx="2.2" ry="1.1" transform="rotate(-40 138.0 191.7)" fill="#1affe5"/><ellipse cx="158.4" cy="194.2" rx="2.7" ry="0.8" transform="rotate(15 158.4 194.2)" fill="#00c7ff"/><ellipse cx="97.9" cy="199.3" rx="1.4" ry="1.4" transform="rotate(0 97.9 199.3)" fill="#0038ff"/><ellipse cx="133.2" cy="202.6" rx="2.7" ry="1.1" transform="rotate(0 133.2 202.6)" fill="#0000e6"/><ellipse cx="130.5" cy="185.0" rx="2.4" ry="1.1" transform="rotate(0 130.5 185.0)" fill="#0000fa"/><polygon points="225.8,107.3 236.1,104.6 236.7,110.3 231.0,120.1 225.8,117.1 227.6,111.6" fill="#9e0000"/><path d="M149.8 206.7A4.1 4.1 0 0 0 149.8 214.8" fill="none" stroke="#ff9e00" stroke-width="2.2" stroke-linecap="round"/><path d="M160.0 206.0A4.1 4.1 0 0 0 160.0 214.1" fill="none" stroke="#00b2ff" stroke-width="2.2" stroke-linecap="round"/><path d="M165.4 206.0A4.1 4.1 0 0 0 165.4 214.1" fill="none" stroke="#00f0ff" stroke-width="2.2" stroke-linecap="round"/><path d="M155.7 203.4A1.9 1.9 0 0 0 155.7 207.2" fill="none" stroke="#ff1a00" stroke-width="1.6" stroke-linecap="round"/><ellipse cx="185.5" cy="212.1" rx="1.9" ry="3.3" transform="rotate(10 185.5 212.1)" fill="#ff7500"/></g>
<g clip-path="url(#mapclip)"><use href="#states"/></g>
</g>
<rect x="862.5" y="95.5" width="23.0" height="214.5" fill="url(#jet)" stroke="#262626" stroke-width="1"/>
<path d="M885.5 122.3h-2.6" stroke="#262626" stroke-width="1" fill="none"/>
<text class="b s6" x="893.6" y="129.9" font-size="22.2" textLength="44.1" lengthAdjust="spacingAndGlyphs">100</text>
<path d="M885.5 216.3h-2.6" stroke="#262626" stroke-width="1" fill="none"/>
<text class="b s6" x="893.6" y="223.9" font-size="22.2" textLength="29.4" lengthAdjust="spacingAndGlyphs">50</text>
<text class="b s6" x="893.6" y="317.9" font-size="22.2" textLength="14.7" lengthAdjust="spacingAndGlyphs">0</text>
<text class="b" x="567.3" y="112.9" font-size="12.2" textLength="17.2" lengthAdjust="spacingAndGlyphs">48</text>
<ellipse cx="588.9" cy="99.4" rx="1.55" ry="1.1" fill="none" stroke="#262626" stroke-width="0.85"/>
<text class="b" x="597.0" y="112.9" font-size="12.2" textLength="9.3" lengthAdjust="spacingAndGlyphs">N</text>
<text class="b" x="567.3" y="130.4" font-size="12.2" textLength="17.2" lengthAdjust="spacingAndGlyphs">46</text>
<ellipse cx="588.9" cy="116.9" rx="1.55" ry="1.1" fill="none" stroke="#262626" stroke-width="0.85"/>
<text class="b" x="597.0" y="130.4" font-size="12.2" textLength="9.3" lengthAdjust="spacingAndGlyphs">N</text>
<text class="b" x="567.3" y="147.8" font-size="12.2" textLength="17.2" lengthAdjust="spacingAndGlyphs">44</text>
<ellipse cx="588.9" cy="134.3" rx="1.55" ry="1.1" fill="none" stroke="#262626" stroke-width="0.85"/>
<text class="b" x="597.0" y="147.8" font-size="12.2" textLength="9.3" lengthAdjust="spacingAndGlyphs">N</text>
<text class="b" x="567.3" y="166.9" font-size="12.2" textLength="17.2" lengthAdjust="spacingAndGlyphs">42</text>
<ellipse cx="588.9" cy="153.4" rx="1.55" ry="1.1" fill="none" stroke="#262626" stroke-width="0.85"/>
<text class="b" x="597.0" y="166.9" font-size="12.2" textLength="9.3" lengthAdjust="spacingAndGlyphs">N</text>
<text class="b" x="567.3" y="182.7" font-size="12.2" textLength="17.2" lengthAdjust="spacingAndGlyphs">40</text>
<ellipse cx="588.9" cy="169.2" rx="1.55" ry="1.1" fill="none" stroke="#262626" stroke-width="0.85"/>
<text class="b" x="597.0" y="182.7" font-size="12.2" textLength="9.3" lengthAdjust="spacingAndGlyphs">N</text>
<text class="b" x="567.3" y="198.0" font-size="12.2" textLength="17.2" lengthAdjust="spacingAndGlyphs">38</text>
<ellipse cx="588.9" cy="184.5" rx="1.55" ry="1.1" fill="none" stroke="#262626" stroke-width="0.85"/>
<text class="b" x="597.0" y="198.0" font-size="12.2" textLength="9.3" lengthAdjust="spacingAndGlyphs">N</text>
<text class="b" x="567.3" y="214.4" font-size="12.2" textLength="17.2" lengthAdjust="spacingAndGlyphs">36</text>
<ellipse cx="588.9" cy="200.9" rx="1.55" ry="1.1" fill="none" stroke="#262626" stroke-width="0.85"/>
<text class="b" x="597.0" y="214.4" font-size="12.2" textLength="9.3" lengthAdjust="spacingAndGlyphs">N</text>
<text class="b" x="567.3" y="228.9" font-size="12.2" textLength="17.2" lengthAdjust="spacingAndGlyphs">34</text>
<ellipse cx="588.9" cy="215.4" rx="1.55" ry="1.1" fill="none" stroke="#262626" stroke-width="0.85"/>
<text class="b" x="597.0" y="228.9" font-size="12.2" textLength="9.3" lengthAdjust="spacingAndGlyphs">N</text>
<text class="b" x="567.3" y="245.6" font-size="12.2" textLength="17.2" lengthAdjust="spacingAndGlyphs">32</text>
<ellipse cx="588.9" cy="232.1" rx="1.55" ry="1.1" fill="none" stroke="#262626" stroke-width="0.85"/>
<text class="b" x="597.0" y="245.6" font-size="12.2" textLength="9.3" lengthAdjust="spacingAndGlyphs">N</text>
<text class="b" x="567.3" y="259.6" font-size="12.2" textLength="17.2" lengthAdjust="spacingAndGlyphs">30</text>
<ellipse cx="588.9" cy="246.1" rx="1.55" ry="1.1" fill="none" stroke="#262626" stroke-width="0.85"/>
<text class="b" x="597.0" y="259.6" font-size="12.2" textLength="9.3" lengthAdjust="spacingAndGlyphs">N</text>
<text class="b" x="567.3" y="272.6" font-size="12.2" textLength="17.2" lengthAdjust="spacingAndGlyphs">28</text>
<ellipse cx="588.9" cy="259.1" rx="1.55" ry="1.1" fill="none" stroke="#262626" stroke-width="0.85"/>
<text class="b" x="597.0" y="272.6" font-size="12.2" textLength="9.3" lengthAdjust="spacingAndGlyphs">N</text>
<text class="b" x="567.3" y="287.5" font-size="12.2" textLength="17.2" lengthAdjust="spacingAndGlyphs">26</text>
<ellipse cx="588.9" cy="274.0" rx="1.55" ry="1.1" fill="none" stroke="#262626" stroke-width="0.85"/>
<text class="b" x="597.0" y="287.5" font-size="12.2" textLength="9.3" lengthAdjust="spacingAndGlyphs">N</text>
<text class="b" x="567.3" y="301.9" font-size="12.2" textLength="17.2" lengthAdjust="spacingAndGlyphs">24</text>
<ellipse cx="588.9" cy="288.4" rx="1.55" ry="1.1" fill="none" stroke="#262626" stroke-width="0.85"/>
<text class="b" x="597.0" y="301.9" font-size="12.2" textLength="9.3" lengthAdjust="spacingAndGlyphs">N</text>
<text class="b" x="567.3" y="314.7" font-size="12.2" textLength="17.2" lengthAdjust="spacingAndGlyphs">22</text>
<ellipse cx="588.9" cy="301.2" rx="1.55" ry="1.1" fill="none" stroke="#262626" stroke-width="0.85"/>
<text class="b" x="597.0" y="314.7" font-size="12.2" textLength="9.3" lengthAdjust="spacingAndGlyphs">N</text>
<text class="b" x="636.8" y="76.9" font-size="12.2" textLength="24.4" lengthAdjust="spacingAndGlyphs">100</text>
<ellipse cx="665.6" cy="64.3" rx="1.55" ry="1.1" fill="none" stroke="#262626" stroke-width="0.85"/>
<text class="b" x="673.8" y="76.9" font-size="12.2" textLength="13" lengthAdjust="spacingAndGlyphs">W</text>
<text class="b" x="705.6" y="76.9" font-size="12.2" textLength="15.7" lengthAdjust="spacingAndGlyphs">90</text>
<ellipse cx="725.7" cy="64.3" rx="1.55" ry="1.1" fill="none" stroke="#262626" stroke-width="0.85"/>
<text class="b" x="733.9" y="76.9" font-size="12.2" textLength="13" lengthAdjust="spacingAndGlyphs">W</text>
<text class="b" x="769.7" y="76.9" font-size="12.2" textLength="15.7" lengthAdjust="spacingAndGlyphs">80</text>
<ellipse cx="789.8" cy="64.3" rx="1.55" ry="1.1" fill="none" stroke="#262626" stroke-width="0.85"/>
<text class="b" x="798.0" y="76.9" font-size="12.2" textLength="13" lengthAdjust="spacingAndGlyphs">W</text>
<text class="b" x="833.0" y="76.9" font-size="12.2" textLength="15.7" lengthAdjust="spacingAndGlyphs">70</text>
<ellipse cx="853.1" cy="64.3" rx="1.55" ry="1.1" fill="none" stroke="#262626" stroke-width="0.85"/>
<text class="b" x="861.3" y="76.9" font-size="12.2" textLength="13" lengthAdjust="spacingAndGlyphs">W</text>
<rect x="1037.5" y="95.5" width="235.0" height="215.0" fill="#fff" stroke="#262626" stroke-width="1"/>
<g transform="translate(1037.5 95.5) scale(1.00427 1.00939)">
<g fill="none" stroke-width="8" stroke-linecap="round"><path d="M159.5 26.8h0M171.5 26.8h0M129.5 32h0M144.5 32h0M168.5 32h0M129.5 42.4h0M132.5 42.4h0M150.5 42.4h0M129.5 47.6h0M153.5 57.9h0" stroke="#ffff00"/><path d="M150.5 26.8h0M107 29.4h0M170 29.4h0M165.5 32h0M129.5 37.2h0M132.5 37.2h0M113 39.8h0M126.5 42.4h0M159.5 42.4h0M155 45h0M176 45h0M230 45h0M156.5 47.6h0M171.5 47.6h0M174.5 47.6h0M231.5 47.6h0M152 50.2h0M131 55.4h0M189.5 57.9h0M161 60.5h0M191 60.5h0M215 76.1h0M174.5 89.1h0M177.5 89.1h0M161 96.9h0M162.5 104.7h0" stroke="#ccff33"/><path d="M147.5 0.8h0M150.5 0.8h0M153.5 0.8h0M177.5 0.8h0M198.5 0.8h0M149 3.4h0M200 3.4h0M203 3.4h0M207.5 6h0M219.5 6h0M215 8.6h0M201.5 11.2h0M204.5 11.2h0M216.5 11.2h0M182 13.8h0M185 13.8h0M197 13.8h0M203 13.8h0M206 13.8h0M212 13.8h0M174.5 16.4h0M192.5 16.4h0M210.5 16.4h0M207.5 21.6h0M210.5 21.6h0M179 24.2h0M206 24.2h0M207.5 26.8h0M93.5 37.2h0M195.5 37.2h0M191 39.8h0M90.5 42.4h0M192.5 42.4h0M104 45h0M185 45h0M209 45h0M84.5 52.8h0M87.5 52.8h0M90.5 52.8h0M99.5 52.8h0M192.5 52.8h0M89 55.4h0M92 55.4h0M93.5 57.9h0M95 60.5h0M98 60.5h0M206 70.9h0M234.5 78.7h0M227 91.7h0M225.5 94.3h0M228.5 94.3h0M158 107.3h0" stroke="#0099ff"/><path d="M141.5 32h0M134 34.6h0M137 34.6h0M155 34.6h0M140 39.8h0M135.5 42.4h0M138.5 42.4h0M132.5 47.6h0M141.5 47.6h0M131 50.2h0M134 50.2h0M140 50.2h0M167 50.2h0" stroke="#ffb300"/><path d="M150.5 37.2h0M147.5 52.8h0M113 180.1h0M108.5 182.7h0M114.5 182.7h0M183.5 182.7h0M189.5 182.7h0M107 185.3h0M110 185.3h0M185 185.3h0M188 185.3h0M191 185.3h0M194 185.3h0M197 185.3h0M189.5 187.9h0M192.5 187.9h0M195.5 187.9h0M107 190.4h0M182 190.4h0M185 190.4h0M188 190.4h0M191 190.4h0M194 190.4h0M99.5 193h0M102.5 193h0M105.5 193h0M108.5 193h0M174.5 193h0M180.5 193h0M183.5 193h0M74 195.6h0M83 195.6h0M98 195.6h0M107 195.6h0M176 195.6h0M179 195.6h0M185 195.6h0M188 195.6h0M194 195.6h0M197 195.6h0M69.5 198.2h0M72.5 198.2h0M84.5 198.2h0M87.5 198.2h0M90.5 198.2h0M93.5 198.2h0M96.5 198.2h0M99.5 198.2h0M144.5 198.2h0M147.5 198.2h0M150.5 198.2h0M162.5 198.2h0M168.5 198.2h0M171.5 198.2h0M174.5 198.2h0M177.5 198.2h0M180.5 198.2h0M189.5 198.2h0M192.5 198.2h0M68 200.8h0M86 200.8h0M89 200.8h0M92 200.8h0M101 200.8h0M110 200.8h0M146 200.8h0M149 200.8h0M155 200.8h0M167 200.8h0M176 200.8h0M182 200.8h0M185 200.8h0M197 200.8h0M69.5 203.4h0M72.5 203.4h0M81.5 203.4h0M84.5 203.4h0M87.5 203.4h0M90.5 203.4h0M93.5 203.4h0M99.5 203.4h0M102.5 203.4h0M111.5 203.4h0M132.5 203.4h0M150.5 203.4h0M153.5 203.4h0M156.5 203.4h0M159.5 203.4h0M162.5 203.4h0M165.5 203.4h0M168.5 203.4h0M174.5 203.4h0M189.5 203.4h0M192.5 203.4h0M195.5 203.4h0M68 206h0M77 206h0M89 206h0M92 206h0M101 206h0M107 206h0M128 206h0M131 206h0M134 206h0M143 206h0M155 206h0M158 206h0M170 206h0M197 206h0M200 206h0M72.5 208.6h0M75.5 208.6h0M87.5 208.6h0M90.5 208.6h0M93.5 208.6h0M96.5 208.6h0M99.5 208.6h0M102.5 208.6h0M105.5 208.6h0M129.5 208.6h0M132.5 208.6h0M135.5 208.6h0M141.5 208.6h0M144.5 208.6h0M147.5 208.6h0M150.5 208.6h0M159.5 208.6h0M162.5 208.6h0M165.5 208.6h0M168.5 208.6h0M174.5 208.6h0M183.5 208.6h0" stroke="#ff6600"/><path d="M167 8.6h0M111.5 11.2h0M123.5 11.2h0M128 13.8h0M113 19h0M99.5 21.6h0M102.5 21.6h0M165.5 21.6h0M171.5 21.6h0M98 24.2h0M101 24.2h0M104 24.2h0M122 24.2h0M158 24.2h0M167 24.2h0M170 24.2h0M173 24.2h0M105.5 26.8h0M108.5 26.8h0M117.5 26.8h0M120.5 26.8h0M98 29.4h0M101 29.4h0M104 29.4h0M137 29.4h0M149 29.4h0M155 29.4h0M158 29.4h0M96.5 32h0M99.5 32h0M102.5 32h0M105.5 32h0M153.5 32h0M98 34.6h0M170 34.6h0M168.5 37.2h0M189.5 37.2h0M101 39.8h0M155 39.8h0M161 39.8h0M164 39.8h0M114.5 42.4h0M120.5 42.4h0M123.5 42.4h0M165.5 42.4h0M168.5 42.4h0M171.5 42.4h0M204.5 42.4h0M128 45h0M170 45h0M125 50.2h0M128 50.2h0M155 50.2h0M159.5 52.8h0M171.5 52.8h0M164 55.4h0M167 55.4h0M173 55.4h0M206 55.4h0M177.5 68.3h0M186.5 68.3h0M189.5 68.3h0M170 70.9h0M194 70.9h0M197 70.9h0M168.5 73.5h0M171.5 73.5h0M186.5 73.5h0M192.5 73.5h0M219.5 73.5h0M225.5 73.5h0M219.5 78.7h0M173 91.7h0M162.5 94.3h0M167 96.9h0M162.5 99.5h0M164 107.3h0M168.5 109.9h0" stroke="#80ff80"/><path d="M110 13.8h0M113 13.8h0M99.5 26.8h0M147.5 26.8h0M153.5 26.8h0M156.5 26.8h0M165.5 26.8h0M168.5 26.8h0M122 29.4h0M156.5 32h0M113 34.6h0M173 34.6h0M116 39.8h0M125 39.8h0M152 39.8h0M167 39.8h0M173 45h0M153.5 47.6h0M161 55.4h0M159.5 57.9h0M180.5 68.3h0M183.5 68.3h0M192.5 68.3h0M180.5 73.5h0M201.5 73.5h0M182 76.1h0M194 76.1h0M212 76.1h0M171.5 89.1h0M206 96.9h0M159.5 104.7h0" stroke="#b3ff4c"/><path d="M165.5 0.8h0M183.5 0.8h0M186.5 0.8h0M179 3.4h0M182 3.4h0M185 3.4h0M168.5 6h0M174.5 6h0M177.5 6h0M179 13.8h0M161 24.2h0M176 24.2h0M138.5 26.8h0M182 34.6h0M185 34.6h0M200 39.8h0M203 39.8h0M99.5 42.4h0M177.5 42.4h0M206 45h0M111.5 47.6h0M189.5 47.6h0M195.5 47.6h0M198.5 47.6h0M182 50.2h0M185 50.2h0M188 50.2h0M191 50.2h0M194 50.2h0M203 50.2h0M186.5 52.8h0M179 55.4h0M191 55.4h0M209 55.4h0M87.5 57.9h0M177.5 57.9h0M201.5 57.9h0M204.5 57.9h0M197 60.5h0M233 60.5h0M219.5 68.3h0M222.5 68.3h0M173 70.9h0M233 70.9h0M231.5 73.5h0M230 81.3h0M231.5 83.9h0M215 86.5h0M218 86.5h0M210.5 89.1h0M213.5 89.1h0M216.5 89.1h0M209 91.7h0M221 91.7h0M221 96.9h0M234.5 99.5h0M185 107.3h0M165.5 109.9h0M167 112.5h0" stroke="#00e5ff"/><path d="M159.5 6h0M162.5 6h0M165.5 6h0M173 8.6h0M159.5 11.2h0M180.5 11.2h0M125 13.8h0M152 13.8h0M167 13.8h0M176 13.8h0M123.5 16.4h0M104 19h0M152 19h0M176 19h0M108.5 21.6h0M141.5 26.8h0M128 29.4h0M179 29.4h0M95 34.6h0M122 34.6h0M96.5 37.2h0M192.5 37.2h0M170 39.8h0M173 39.8h0M182 39.8h0M194 39.8h0M207.5 42.4h0M107 45h0M194 45h0M206 50.2h0M185 55.4h0M194 55.4h0M84.5 57.9h0M183.5 57.9h0M182 60.5h0M200 60.5h0M230 60.5h0M84.5 63.1h0M87.5 63.1h0M90.5 63.1h0M177.5 63.1h0M183.5 63.1h0M186.5 63.1h0M231.5 63.1h0M86 65.7h0M89 65.7h0M215 65.7h0M221 65.7h0M227 65.7h0M230 65.7h0M212 70.9h0M189.5 73.5h0M210.5 73.5h0M207.5 78.7h0M210.5 78.7h0M224 81.3h0M227 81.3h0M216.5 83.9h0M222.5 83.9h0M234.5 83.9h0M230 86.5h0M168.5 89.1h0M165.5 94.3h0M168.5 94.3h0M207.5 94.3h0M219.5 94.3h0M222.5 94.3h0M227 96.9h0M210.5 99.5h0M219.5 99.5h0M222.5 99.5h0M231.5 99.5h0M212 102.1h0M201.5 104.7h0M215 107.3h0M221 107.3h0M227 107.3h0M230 107.3h0" stroke="#1affe5"/><path d="M158 34.6h0M149 50.2h0M147.5 57.9h0M195.5 193h0M74 200.8h0M77 200.8h0M75.5 203.4h0M179 206h0M188 206h0M126.5 208.6h0M195.5 208.6h0M198.5 208.6h0" stroke="#ff9900"/><path d="M213.5 0.8h0M206 3.4h0M215 3.4h0M201.5 6h0M191 8.6h0M194 8.6h0M209 8.6h0M213.5 16.4h0M191 19h0M200 19h0M203 19h0M206 19h0M183.5 21.6h0M189.5 21.6h0M192.5 21.6h0M195.5 21.6h0M197 24.2h0M200 24.2h0M203 24.2h0M186.5 26.8h0M192.5 26.8h0M195.5 26.8h0M198.5 26.8h0M188 29.4h0M95 39.8h0M93.5 42.4h0M92 45h0M96.5 47.6h0M95 50.2h0M107 50.2h0M189.5 52.8h0M173 107.3h0M179 107.3h0M162.5 109.9h0" stroke="#004dff"/><path d="M198.5 198.2h0M104 200.8h0M108.5 203.4h0M144.5 203.4h0" stroke="#ff3300"/><path d="M147.5 47.6h0M153.5 52.8h0M110 180.1h0M111.5 182.7h0M186.5 182.7h0M192.5 182.7h0M113 185.3h0M116 185.3h0M104 190.4h0M177.5 193h0M186.5 193h0M189.5 193h0M192.5 193h0M77 195.6h0M80 195.6h0M101 195.6h0M104 195.6h0M173 195.6h0M182 195.6h0M75.5 198.2h0M78.5 198.2h0M81.5 198.2h0M105.5 198.2h0M108.5 198.2h0M159.5 198.2h0M183.5 198.2h0M186.5 198.2h0M71 200.8h0M80 200.8h0M83 200.8h0M95 200.8h0M98 200.8h0M158 200.8h0M161 200.8h0M164 200.8h0M179 200.8h0M78.5 203.4h0M171.5 203.4h0M177.5 203.4h0M180.5 203.4h0M183.5 203.4h0M186.5 203.4h0M104 206h0M173 206h0M176 206h0M182 206h0M185 206h0M191 206h0M194 206h0M81.5 208.6h0M84.5 208.6h0M177.5 208.6h0M180.5 208.6h0M186.5 208.6h0M189.5 208.6h0M192.5 208.6h0" stroke="#ff8000"/><path d="M158 3.4h0M167 3.4h0M153.5 6h0M156.5 6h0M171.5 6h0M180.5 6h0M183.5 6h0M186.5 6h0M155 8.6h0M158 8.6h0M170 8.6h0M179 8.6h0M182 8.6h0M153.5 11.2h0M156.5 11.2h0M171.5 11.2h0M155 13.8h0M158 13.8h0M153.5 16.4h0M156.5 16.4h0M159.5 16.4h0M162.5 16.4h0M171.5 16.4h0M155 19h0M158 19h0M170 19h0M153.5 21.6h0M156.5 21.6h0M177.5 21.6h0M188 34.6h0M191 34.6h0M186.5 37.2h0M176 39.8h0M179 39.8h0M201.5 42.4h0M182 45h0M188 45h0M191 45h0M192.5 47.6h0M179 50.2h0M197 50.2h0M200 50.2h0M176 55.4h0M182 55.4h0M188 55.4h0M195.5 57.9h0M198.5 57.9h0M86 60.5h0M89 60.5h0M185 60.5h0M93.5 63.1h0M96.5 63.1h0M218 65.7h0M216.5 68.3h0M207.5 73.5h0M188 76.1h0M209 76.1h0M230 76.1h0M225.5 78.7h0M231.5 78.7h0M233 81.3h0M213.5 83.9h0M212 86.5h0M224 86.5h0M233 86.5h0M165.5 89.1h0M207.5 89.1h0M225.5 89.1h0M228.5 89.1h0M164 91.7h0M210.5 94.3h0M234.5 94.3h0M224 96.9h0M230 96.9h0M233 96.9h0M164 102.1h0" stroke="#00ffff"/><path d="M149 55.4h0M105.5 187.9h0M108.5 187.9h0M111.5 187.9h0M114.5 187.9h0M183.5 187.9h0M186.5 187.9h0M110 190.4h0M113 190.4h0M86 195.6h0M110 195.6h0M191 195.6h0M102.5 198.2h0M141.5 198.2h0M153.5 198.2h0M156.5 198.2h0M165.5 198.2h0M195.5 198.2h0M107 200.8h0M137 200.8h0M140 200.8h0M143 200.8h0M152 200.8h0M170 200.8h0M173 200.8h0M188 200.8h0M191 200.8h0M194 200.8h0M200 200.8h0M96.5 203.4h0M105.5 203.4h0M135.5 203.4h0M138.5 203.4h0M141.5 203.4h0M147.5 203.4h0M198.5 203.4h0M71 206h0M74 206h0M80 206h0M83 206h0M86 206h0M95 206h0M98 206h0M110 206h0M137 206h0M140 206h0M146 206h0M149 206h0M152 206h0M161 206h0M164 206h0M167 206h0M66.5 208.6h0M69.5 208.6h0M78.5 208.6h0M108.5 208.6h0M138.5 208.6h0M153.5 208.6h0M156.5 208.6h0M171.5 208.6h0" stroke="#ff4c00"/><path d="M156.5 0.8h0M174.5 0.8h0M180.5 0.8h0M155 3.4h0M170 3.4h0M173 3.4h0M176 3.4h0M173 13.8h0M165.5 16.4h0M168.5 16.4h0M204.5 16.4h0M159.5 21.6h0M209 24.2h0M177.5 26.8h0M183.5 32h0M186.5 32h0M194 34.6h0M183.5 37.2h0M185 39.8h0M188 39.8h0M197 39.8h0M209 39.8h0M183.5 47.6h0M201.5 47.6h0M204.5 47.6h0M207.5 47.6h0M195.5 52.8h0M198.5 52.8h0M180.5 57.9h0M92 60.5h0M171.5 68.3h0M233 76.1h0M219.5 89.1h0M230 91.7h0M233 91.7h0M231.5 94.3h0M182 107.3h0" stroke="#00ccff"/><path d="M198.5 177.5h0" stroke="#000099"/><path d="M83 102.1h0M86 102.1h0M89 102.1h0M104 102.1h0M107 102.1h0M110 102.1h0M152 102.1h0M147.5 104.7h0M150.5 104.7h0M192.5 104.7h0M152 107.3h0M194 107.3h0M197 107.3h0M152 112.5h0M155 112.5h0M197 112.5h0M200 112.5h0M203 112.5h0M215 112.5h0M218 112.5h0M153.5 115.1h0M156.5 115.1h0M159.5 115.1h0M162.5 115.1h0M201.5 115.1h0M204.5 115.1h0M216.5 115.1h0M219.5 115.1h0M222.5 115.1h0M77 117.7h0M149 117.7h0M161 117.7h0M200 117.7h0M203 117.7h0M215 117.7h0M218 117.7h0M221 117.7h0M111.5 120.3h0M114.5 120.3h0M135.5 120.3h0M159.5 120.3h0M162.5 120.3h0M183.5 120.3h0M186.5 120.3h0M189.5 120.3h0M201.5 120.3h0M204.5 120.3h0M216.5 120.3h0M219.5 120.3h0M222.5 120.3h0M95 122.9h0M98 122.9h0M110 122.9h0M134 122.9h0M137 122.9h0M194 122.9h0M203 122.9h0M206 122.9h0M209 122.9h0M212 122.9h0M93.5 125.5h0M96.5 125.5h0M111.5 125.5h0M114.5 125.5h0M135.5 125.5h0M138.5 125.5h0M183.5 125.5h0M195.5 125.5h0M198.5 125.5h0M207.5 125.5h0M210.5 125.5h0M104 128.1h0M107 128.1h0M110 128.1h0M122 128.1h0M125 128.1h0M131 128.1h0M182 128.1h0M185 128.1h0M188 128.1h0M191 128.1h0M78.5 130.7h0M84.5 130.7h0M99.5 130.7h0M102.5 130.7h0M114.5 130.7h0M123.5 130.7h0M126.5 130.7h0M135.5 130.7h0M141.5 130.7h0M162.5 130.7h0M165.5 130.7h0M183.5 130.7h0M186.5 130.7h0M189.5 130.7h0M201.5 130.7h0M204.5 130.7h0M110 133.3h0M119 133.3h0M140 133.3h0M143 133.3h0M158 133.3h0M167 133.3h0M170 133.3h0M176 133.3h0M179 133.3h0M185 133.3h0M188 133.3h0M191 133.3h0M203 133.3h0M209 133.3h0M218 133.3h0M221 133.3h0M87.5 135.9h0M90.5 135.9h0M114.5 135.9h0M171.5 135.9h0M174.5 135.9h0M177.5 135.9h0M180.5 135.9h0M189.5 135.9h0M198.5 135.9h0M204.5 135.9h0M219.5 135.9h0M86 138.5h0M116 138.5h0M158 138.5h0M161 138.5h0M179 138.5h0M197 138.5h0M200 138.5h0M120.5 141.1h0M135.5 141.1h0M138.5 141.1h0M141.5 141.1h0M144.5 141.1h0M147.5 141.1h0M156.5 141.1h0M171.5 141.1h0M204.5 141.1h0M207.5 141.1h0M210.5 141.1h0M213.5 141.1h0M216.5 141.1h0M104 143.7h0M137 143.7h0M140 143.7h0M143 143.7h0M188 143.7h0M203 143.7h0M206 143.7h0M114.5 146.3h0M138.5 146.3h0M171.5 146.3h0M174.5 146.3h0M192.5 146.3h0M201.5 146.3h0M204.5 146.3h0M116 148.9h0M119 148.9h0M122 148.9h0M140 148.9h0M143 148.9h0M146 148.9h0M167 148.9h0M203 148.9h0M206 148.9h0M218 148.9h0M108.5 151.5h0M111.5 151.5h0M117.5 151.5h0M120.5 151.5h0M123.5 151.5h0M141.5 151.5h0M201.5 151.5h0M204.5 151.5h0M207.5 151.5h0M95 154.1h0M98 154.1h0M101 154.1h0M104 154.1h0M107 154.1h0M113 154.1h0M116 154.1h0M119 154.1h0M122 154.1h0M125 154.1h0M128 154.1h0M137 154.1h0M179 154.1h0M215 154.1h0M96.5 156.7h0M111.5 156.7h0M114.5 156.7h0M165.5 156.7h0M168.5 156.7h0M189.5 156.7h0M213.5 156.7h0M98 159.3h0M101 159.3h0M104 159.3h0M107 159.3h0M110 159.3h0M113 159.3h0M128 159.3h0M170 159.3h0M194 159.3h0M209 159.3h0M212 159.3h0M96.5 161.9h0M99.5 161.9h0M102.5 161.9h0M105.5 161.9h0M108.5 161.9h0M111.5 161.9h0M114.5 161.9h0M183.5 161.9h0M192.5 161.9h0M210.5 161.9h0M182 164.5h0M185 164.5h0M212 164.5h0M201.5 167.1h0M207.5 167.1h0M210.5 167.1h0M194 169.7h0M197 169.7h0M200 169.7h0M203 169.7h0M209 169.7h0M195.5 172.3h0M198.5 172.3h0M207.5 172.3h0M210.5 172.3h0M200 174.9h0M200 180.1h0M204.5 182.7h0" stroke="#0000cc"/><path d="M168.5 0.8h0M171.5 0.8h0M152 3.4h0M210.5 6h0M185 8.6h0M183.5 11.2h0M170 13.8h0M200 13.8h0M209 13.8h0M177.5 16.4h0M201.5 16.4h0M162.5 21.6h0M183.5 42.4h0M101 45h0M203 45h0M207.5 52.8h0M86 55.4h0M200 55.4h0M90.5 57.9h0M174.5 68.3h0M234.5 73.5h0M225.5 83.9h0M228.5 83.9h0M221 86.5h0M167 91.7h0M224 91.7h0M158 102.1h0M168.5 104.7h0M188 107.3h0" stroke="#00b2ff"/><path d="M206 8.6h0M185 19h0M188 19h0M209 19h0M212 19h0M194 24.2h0M189.5 26.8h0M194 29.4h0M197 29.4h0M92 39.8h0M198.5 42.4h0M197 45h0M99.5 47.6h0M137 96.9h0M156.5 104.7h0M183.5 104.7h0M84.5 109.9h0M99.5 109.9h0M144.5 109.9h0M159.5 109.9h0M104 112.5h0M113 112.5h0M102.5 115.1h0M105.5 115.1h0M108.5 115.1h0M111.5 115.1h0M114.5 115.1h0M117.5 115.1h0M165.5 115.1h0" stroke="#0033ff"/><path d="M159.5 0.8h0M162.5 0.8h0M161 3.4h0M164 3.4h0M131 8.6h0M152 8.6h0M176 8.6h0M162.5 11.2h0M165.5 11.2h0M174.5 11.2h0M161 13.8h0M126.5 16.4h0M129.5 16.4h0M132.5 16.4h0M101 19h0M107 19h0M164 19h0M167 19h0M173 19h0M105.5 21.6h0M111.5 21.6h0M135.5 21.6h0M140 24.2h0M164 24.2h0M125 29.4h0M143 29.4h0M174.5 32h0M177.5 32h0M180.5 32h0M119 34.6h0M99.5 37.2h0M117.5 37.2h0M120.5 37.2h0M98 39.8h0M107 39.8h0M116 45h0M179 45h0M114.5 47.6h0M180.5 47.6h0M162.5 52.8h0M183.5 52.8h0M197 55.4h0M194 60.5h0M215 60.5h0M218 60.5h0M221 60.5h0M224 60.5h0M227 60.5h0M216.5 63.1h0M219.5 63.1h0M222.5 63.1h0M225.5 63.1h0M228.5 63.1h0M92 65.7h0M95 65.7h0M98 65.7h0M224 65.7h0M84.5 68.3h0M87.5 68.3h0M90.5 68.3h0M93.5 68.3h0M96.5 68.3h0M228.5 68.3h0M231.5 68.3h0M86 70.9h0M89 70.9h0M92 70.9h0M95 70.9h0M158 70.9h0M161 70.9h0M164 70.9h0M176 70.9h0M185 70.9h0M188 70.9h0M209 70.9h0M215 70.9h0M87.5 73.5h0M90.5 73.5h0M93.5 73.5h0M96.5 73.5h0M153.5 73.5h0M156.5 73.5h0M159.5 73.5h0M162.5 73.5h0M165.5 73.5h0M204.5 73.5h0M216.5 73.5h0M228.5 73.5h0M86 76.1h0M89 76.1h0M92 76.1h0M95 76.1h0M155 76.1h0M158 76.1h0M161 76.1h0M164 76.1h0M221 76.1h0M224 76.1h0M153.5 78.7h0M156.5 78.7h0M159.5 78.7h0M162.5 78.7h0M222.5 78.7h0M228.5 78.7h0M155 81.3h0M158 81.3h0M161 81.3h0M209 81.3h0M212 81.3h0M153.5 83.9h0M156.5 83.9h0M159.5 83.9h0M207.5 83.9h0M210.5 83.9h0M219.5 83.9h0M158 86.5h0M167 86.5h0M209 86.5h0M234.5 89.1h0M170 91.7h0M213.5 94.3h0M218 96.9h0M165.5 99.5h0M207.5 99.5h0M213.5 99.5h0M206 102.1h0M209 102.1h0M215 102.1h0M218 102.1h0M227 102.1h0M230 102.1h0M233 102.1h0M204.5 104.7h0M207.5 104.7h0M210.5 104.7h0M213.5 104.7h0M216.5 104.7h0M219.5 104.7h0M222.5 104.7h0M225.5 104.7h0M231.5 104.7h0M234.5 104.7h0M167 107.3h0M203 107.3h0M206 107.3h0M209 107.3h0M212 107.3h0M218 107.3h0M224 107.3h0M233 107.3h0" stroke="#33ffcc"/><path d="M162.5 26.8h0M159.5 32h0M143 34.6h0M138.5 37.2h0M147.5 37.2h0M159.5 37.2h0M141.5 42.4h0M134 45h0M137 45h0M152 45h0M135.5 47.6h0M138.5 47.6h0M159.5 47.6h0M143 50.2h0M146 50.2h0M173 50.2h0M176 50.2h0M156.5 52.8h0M146 55.4h0M158 55.4h0M150.5 57.9h0M156.5 57.9h0" stroke="#ffcc00"/><path d="M147.5 6h0M150.5 6h0M116 8.6h0M119 8.6h0M128 8.6h0M134 8.6h0M146 8.6h0M149 8.6h0M161 8.6h0M117.5 11.2h0M129.5 11.2h0M132.5 11.2h0M147.5 11.2h0M150.5 11.2h0M168.5 11.2h0M177.5 11.2h0M119 13.8h0M122 13.8h0M146 13.8h0M149 13.8h0M117.5 16.4h0M147.5 16.4h0M150.5 16.4h0M110 19h0M125 19h0M128 19h0M131 19h0M134 19h0M146 19h0M149 19h0M161 19h0M114.5 21.6h0M120.5 21.6h0M144.5 21.6h0M150.5 21.6h0M174.5 21.6h0M113 24.2h0M116 24.2h0M143 24.2h0M146 24.2h0M149 24.2h0M152 24.2h0M96.5 26.8h0M144.5 26.8h0M95 29.4h0M146 29.4h0M147.5 32h0M104 34.6h0M116 34.6h0M125 34.6h0M152 34.6h0M179 34.6h0M102.5 37.2h0M105.5 37.2h0M123.5 37.2h0M153.5 37.2h0M171.5 37.2h0M122 39.8h0M102.5 42.4h0M108.5 42.4h0M111.5 42.4h0M156.5 42.4h0M113 45h0M119 45h0M122 45h0M125 45h0M186.5 47.6h0M158 50.2h0M126.5 52.8h0M180.5 52.8h0M125 55.4h0M128 55.4h0M126.5 57.9h0M129.5 57.9h0M165.5 57.9h0M168.5 57.9h0M186.5 57.9h0M192.5 57.9h0M180.5 63.1h0M189.5 63.1h0M192.5 63.1h0M195.5 63.1h0M198.5 63.1h0M213.5 68.3h0M225.5 68.3h0M167 70.9h0M218 70.9h0M221 70.9h0M224 70.9h0M230 70.9h0M167 76.1h0M176 76.1h0M218 76.1h0M227 76.1h0M215 81.3h0M218 81.3h0M221 81.3h0M161 86.5h0M164 86.5h0M159.5 89.1h0M162.5 89.1h0M231.5 89.1h0M161 91.7h0M218 91.7h0M212 96.9h0M215 96.9h0M216.5 99.5h0M161 102.1h0M221 102.1h0M224 102.1h0M228.5 104.7h0M161 107.3h0" stroke="#4dffb2"/><path d="M132.5 32h0M135.5 32h0M138.5 32h0M162.5 32h0M131 34.6h0M140 34.6h0M146 34.6h0M135.5 37.2h0M141.5 37.2h0M144.5 37.2h0M134 39.8h0M137 39.8h0M143 39.8h0M146 39.8h0M144.5 42.4h0M147.5 42.4h0M131 45h0M140 45h0M143 45h0M146 45h0M149 45h0M144.5 47.6h0M150.5 47.6h0M162.5 47.6h0M137 50.2h0M170 50.2h0M132.5 52.8h0M135.5 52.8h0M138.5 52.8h0M141.5 52.8h0M144.5 52.8h0M168.5 52.8h0M134 55.4h0M137 55.4h0M140 55.4h0M143 55.4h0M135.5 57.9h0M138.5 57.9h0M141.5 57.9h0M144.5 57.9h0M213.5 78.7h0" stroke="#ffe500"/><path d="M81.5 94.3h0M84.5 94.3h0M87.5 94.3h0M90.5 94.3h0M93.5 94.3h0M96.5 94.3h0M83 96.9h0M86 96.9h0M89 96.9h0M92 96.9h0M95 96.9h0M98 96.9h0M101 96.9h0M104 96.9h0M107 96.9h0M81.5 99.5h0M84.5 99.5h0M87.5 99.5h0M90.5 99.5h0M93.5 99.5h0M96.5 99.5h0M99.5 99.5h0M102.5 99.5h0M105.5 99.5h0M108.5 99.5h0M92 102.1h0M95 102.1h0M98 102.1h0M101 102.1h0M113 102.1h0M116 102.1h0M119 102.1h0M122 102.1h0M125 102.1h0M128 102.1h0M131 102.1h0M134 102.1h0M137 102.1h0M140 102.1h0M143 102.1h0M146 102.1h0M149 102.1h0M81.5 104.7h0M84.5 104.7h0M87.5 104.7h0M90.5 104.7h0M93.5 104.7h0M96.5 104.7h0M99.5 104.7h0M102.5 104.7h0M105.5 104.7h0M108.5 104.7h0M117.5 104.7h0M126.5 104.7h0M129.5 104.7h0M132.5 104.7h0M135.5 104.7h0M138.5 104.7h0M141.5 104.7h0M144.5 104.7h0M153.5 104.7h0M189.5 104.7h0M195.5 104.7h0M198.5 104.7h0M149 107.3h0M150.5 109.9h0M153.5 109.9h0M195.5 109.9h0M198.5 109.9h0M222.5 109.9h0M231.5 109.9h0M149 112.5h0M158 112.5h0M161 112.5h0M194 112.5h0M206 112.5h0M209 112.5h0M212 112.5h0M221 112.5h0M224 112.5h0M227 112.5h0M230 112.5h0M78.5 115.1h0M150.5 115.1h0M195.5 115.1h0M198.5 115.1h0M207.5 115.1h0M210.5 115.1h0M213.5 115.1h0M228.5 115.1h0M80 117.7h0M83 117.7h0M86 117.7h0M89 117.7h0M92 117.7h0M95 117.7h0M98 117.7h0M107 117.7h0M110 117.7h0M113 117.7h0M122 117.7h0M125 117.7h0M131 117.7h0M134 117.7h0M137 117.7h0M146 117.7h0M152 117.7h0M155 117.7h0M158 117.7h0M164 117.7h0M167 117.7h0M170 117.7h0M191 117.7h0M194 117.7h0M197 117.7h0M206 117.7h0M209 117.7h0M212 117.7h0M224 117.7h0M227 117.7h0M230 117.7h0M78.5 120.3h0M81.5 120.3h0M84.5 120.3h0M87.5 120.3h0M90.5 120.3h0M93.5 120.3h0M96.5 120.3h0M99.5 120.3h0M102.5 120.3h0M105.5 120.3h0M108.5 120.3h0M117.5 120.3h0M120.5 120.3h0M123.5 120.3h0M126.5 120.3h0M129.5 120.3h0M132.5 120.3h0M138.5 120.3h0M141.5 120.3h0M144.5 120.3h0M150.5 120.3h0M153.5 120.3h0M156.5 120.3h0M165.5 120.3h0M168.5 120.3h0M171.5 120.3h0M174.5 120.3h0M177.5 120.3h0M180.5 120.3h0M192.5 120.3h0M195.5 120.3h0M198.5 120.3h0M207.5 120.3h0M210.5 120.3h0M213.5 120.3h0M225.5 120.3h0M228.5 120.3h0M77 122.9h0M80 122.9h0M83 122.9h0M86 122.9h0M89 122.9h0M92 122.9h0M101 122.9h0M104 122.9h0M107 122.9h0M113 122.9h0M116 122.9h0M119 122.9h0M122 122.9h0M125 122.9h0M128 122.9h0M131 122.9h0M140 122.9h0M143 122.9h0M146 122.9h0M149 122.9h0M152 122.9h0M155 122.9h0M158 122.9h0M161 122.9h0M164 122.9h0M167 122.9h0M170 122.9h0M173 122.9h0M176 122.9h0M179 122.9h0M182 122.9h0M185 122.9h0M188 122.9h0M191 122.9h0M197 122.9h0M200 122.9h0M215 122.9h0M218 122.9h0M221 122.9h0M224 122.9h0M227 122.9h0M75.5 125.5h0M78.5 125.5h0M81.5 125.5h0M84.5 125.5h0M87.5 125.5h0M90.5 125.5h0M99.5 125.5h0M102.5 125.5h0M105.5 125.5h0M108.5 125.5h0M117.5 125.5h0M120.5 125.5h0M123.5 125.5h0M126.5 125.5h0M129.5 125.5h0M132.5 125.5h0M141.5 125.5h0M144.5 125.5h0M147.5 125.5h0M150.5 125.5h0M153.5 125.5h0M159.5 125.5h0M162.5 125.5h0M165.5 125.5h0M168.5 125.5h0M171.5 125.5h0M174.5 125.5h0M186.5 125.5h0M189.5 125.5h0M192.5 125.5h0M204.5 125.5h0M213.5 125.5h0M216.5 125.5h0M219.5 125.5h0M222.5 125.5h0M225.5 125.5h0M77 128.1h0M80 128.1h0M86 128.1h0M89 128.1h0M92 128.1h0M95 128.1h0M98 128.1h0M101 128.1h0M113 128.1h0M116 128.1h0M119 128.1h0M128 128.1h0M134 128.1h0M137 128.1h0M140 128.1h0M143 128.1h0M146 128.1h0M149 128.1h0M152 128.1h0M155 128.1h0M158 128.1h0M161 128.1h0M164 128.1h0M167 128.1h0M170 128.1h0M173 128.1h0M176 128.1h0M179 128.1h0M194 128.1h0M197 128.1h0M200 128.1h0M203 128.1h0M212 128.1h0M215 128.1h0M218 128.1h0M221 128.1h0M224 128.1h0M75.5 130.7h0M81.5 130.7h0M87.5 130.7h0M90.5 130.7h0M93.5 130.7h0M96.5 130.7h0M105.5 130.7h0M108.5 130.7h0M111.5 130.7h0M117.5 130.7h0M120.5 130.7h0M129.5 130.7h0M132.5 130.7h0M138.5 130.7h0M144.5 130.7h0M147.5 130.7h0M150.5 130.7h0M153.5 130.7h0M156.5 130.7h0M159.5 130.7h0M168.5 130.7h0M171.5 130.7h0M174.5 130.7h0M177.5 130.7h0M180.5 130.7h0M192.5 130.7h0M195.5 130.7h0M198.5 130.7h0M207.5 130.7h0M213.5 130.7h0M216.5 130.7h0M219.5 130.7h0M222.5 130.7h0M77 133.3h0M80 133.3h0M83 133.3h0M86 133.3h0M89 133.3h0M92 133.3h0M95 133.3h0M98 133.3h0M101 133.3h0M104 133.3h0M107 133.3h0M113 133.3h0M116 133.3h0M122 133.3h0M125 133.3h0M128 133.3h0M131 133.3h0M134 133.3h0M137 133.3h0M146 133.3h0M149 133.3h0M152 133.3h0M155 133.3h0M161 133.3h0M164 133.3h0M173 133.3h0M182 133.3h0M194 133.3h0M197 133.3h0M200 133.3h0M206 133.3h0M212 133.3h0M215 133.3h0M224 133.3h0M75.5 135.9h0M78.5 135.9h0M81.5 135.9h0M84.5 135.9h0M93.5 135.9h0M96.5 135.9h0M99.5 135.9h0M102.5 135.9h0M105.5 135.9h0M108.5 135.9h0M111.5 135.9h0M117.5 135.9h0M120.5 135.9h0M123.5 135.9h0M126.5 135.9h0M129.5 135.9h0M132.5 135.9h0M135.5 135.9h0M138.5 135.9h0M141.5 135.9h0M144.5 135.9h0M147.5 135.9h0M150.5 135.9h0M153.5 135.9h0M156.5 135.9h0M159.5 135.9h0M162.5 135.9h0M165.5 135.9h0M168.5 135.9h0M183.5 135.9h0M186.5 135.9h0M192.5 135.9h0M195.5 135.9h0M201.5 135.9h0M207.5 135.9h0M210.5 135.9h0M213.5 135.9h0M216.5 135.9h0M222.5 135.9h0M89 138.5h0M92 138.5h0M95 138.5h0M98 138.5h0M101 138.5h0M104 138.5h0M107 138.5h0M110 138.5h0M113 138.5h0M119 138.5h0M122 138.5h0M128 138.5h0M131 138.5h0M134 138.5h0M137 138.5h0M140 138.5h0M143 138.5h0M146 138.5h0M149 138.5h0M152 138.5h0M155 138.5h0M164 138.5h0M167 138.5h0M170 138.5h0M173 138.5h0M176 138.5h0M182 138.5h0M185 138.5h0M188 138.5h0M191 138.5h0M194 138.5h0M203 138.5h0M206 138.5h0M209 138.5h0M212 138.5h0M215 138.5h0M218 138.5h0M221 138.5h0M87.5 141.1h0M90.5 141.1h0M93.5 141.1h0M96.5 141.1h0M99.5 141.1h0M102.5 141.1h0M105.5 141.1h0M108.5 141.1h0M111.5 141.1h0M114.5 141.1h0M117.5 141.1h0M123.5 141.1h0M126.5 141.1h0M129.5 141.1h0M132.5 141.1h0M150.5 141.1h0M153.5 141.1h0M159.5 141.1h0M162.5 141.1h0M165.5 141.1h0M168.5 141.1h0M174.5 141.1h0M177.5 141.1h0M180.5 141.1h0M183.5 141.1h0M186.5 141.1h0M189.5 141.1h0M192.5 141.1h0M195.5 141.1h0M198.5 141.1h0M201.5 141.1h0M219.5 141.1h0M92 143.7h0M95 143.7h0M98 143.7h0M101 143.7h0M107 143.7h0M110 143.7h0M113 143.7h0M116 143.7h0M119 143.7h0M122 143.7h0M125 143.7h0M128 143.7h0M131 143.7h0M134 143.7h0M146 143.7h0M149 143.7h0M152 143.7h0M155 143.7h0M158 143.7h0M161 143.7h0M164 143.7h0M167 143.7h0M170 143.7h0M173 143.7h0M176 143.7h0M179 143.7h0M182 143.7h0M185 143.7h0M191 143.7h0M194 143.7h0M197 143.7h0M200 143.7h0M209 143.7h0M212 143.7h0M215 143.7h0M218 143.7h0M90.5 146.3h0M93.5 146.3h0M96.5 146.3h0M99.5 146.3h0M102.5 146.3h0M105.5 146.3h0M108.5 146.3h0M111.5 146.3h0M117.5 146.3h0M120.5 146.3h0M123.5 146.3h0M126.5 146.3h0M129.5 146.3h0M132.5 146.3h0M135.5 146.3h0M141.5 146.3h0M144.5 146.3h0M147.5 146.3h0M150.5 146.3h0M156.5 146.3h0M159.5 146.3h0M162.5 146.3h0M165.5 146.3h0M168.5 146.3h0M177.5 146.3h0M180.5 146.3h0M183.5 146.3h0M186.5 146.3h0M189.5 146.3h0M195.5 146.3h0M198.5 146.3h0M207.5 146.3h0M210.5 146.3h0M213.5 146.3h0M216.5 146.3h0M98 148.9h0M101 148.9h0M104 148.9h0M107 148.9h0M110 148.9h0M113 148.9h0M125 148.9h0M128 148.9h0M131 148.9h0M134 148.9h0M137 148.9h0M149 148.9h0M152 148.9h0M155 148.9h0M164 148.9h0M170 148.9h0M173 148.9h0M176 148.9h0M179 148.9h0M182 148.9h0M185 148.9h0M188 148.9h0M191 148.9h0M194 148.9h0M197 148.9h0M200 148.9h0M209 148.9h0M212 148.9h0M215 148.9h0M93.5 151.5h0M96.5 151.5h0M99.5 151.5h0M102.5 151.5h0M105.5 151.5h0M114.5 151.5h0M126.5 151.5h0M129.5 151.5h0M132.5 151.5h0M135.5 151.5h0M138.5 151.5h0M144.5 151.5h0M147.5 151.5h0M150.5 151.5h0M153.5 151.5h0M156.5 151.5h0M165.5 151.5h0M168.5 151.5h0M171.5 151.5h0M174.5 151.5h0M177.5 151.5h0M180.5 151.5h0M183.5 151.5h0M186.5 151.5h0M189.5 151.5h0M192.5 151.5h0M195.5 151.5h0M198.5 151.5h0M210.5 151.5h0M213.5 151.5h0M216.5 151.5h0M110 154.1h0M131 154.1h0M134 154.1h0M164 154.1h0M167 154.1h0M170 154.1h0M173 154.1h0M176 154.1h0M182 154.1h0M185 154.1h0M188 154.1h0M191 154.1h0M194 154.1h0M197 154.1h0M200 154.1h0M203 154.1h0M206 154.1h0M209 154.1h0M212 154.1h0M117.5 156.7h0M120.5 156.7h0M123.5 156.7h0M126.5 156.7h0M129.5 156.7h0M132.5 156.7h0M177.5 156.7h0M180.5 156.7h0M183.5 156.7h0M186.5 156.7h0M192.5 156.7h0M195.5 156.7h0M198.5 156.7h0M201.5 156.7h0M204.5 156.7h0M207.5 156.7h0M210.5 156.7h0M116 159.3h0M119 159.3h0M122 159.3h0M125 159.3h0M131 159.3h0M134 159.3h0M167 159.3h0M173 159.3h0M182 159.3h0M185 159.3h0M188 159.3h0M191 159.3h0M197 159.3h0M200 159.3h0M203 159.3h0M206 159.3h0M117.5 161.9h0M120.5 161.9h0M123.5 161.9h0M171.5 161.9h0M174.5 161.9h0M177.5 161.9h0M180.5 161.9h0M186.5 161.9h0M189.5 161.9h0M195.5 161.9h0M198.5 161.9h0M201.5 161.9h0M204.5 161.9h0M207.5 161.9h0M176 164.5h0M179 164.5h0M188 164.5h0M191 164.5h0M194 164.5h0M197 164.5h0M200 164.5h0M203 164.5h0M206 164.5h0M209 164.5h0M186.5 167.1h0M189.5 167.1h0M192.5 167.1h0M195.5 167.1h0M198.5 167.1h0M204.5 167.1h0M206 169.7h0" stroke="#0000e6"/><path d="M164 29.4h0M167 29.4h0M173 29.4h0M111.5 37.2h0M162.5 37.2h0M177.5 37.2h0M128 39.8h0M131 39.8h0M149 39.8h0M165.5 47.6h0M168.5 47.6h0M164 50.2h0M165.5 52.8h0M174.5 52.8h0M158 60.5h0M195.5 73.5h0M198.5 73.5h0M197 76.1h0M200 76.1h0M216.5 78.7h0M164 96.9h0" stroke="#e5ff1a"/><path d="M150.5 52.8h0M152 55.4h0M155 55.4h0" stroke="#ff1a00"/><path d="M131 13.8h0M111.5 16.4h0M114.5 16.4h0M168.5 21.6h0M107 24.2h0M174.5 26.8h0M110 29.4h0M119 29.4h0M134 29.4h0M140 29.4h0M176 29.4h0M108.5 32h0M111.5 32h0M126.5 32h0M150.5 32h0M171.5 32h0M110 34.6h0M128 34.6h0M149 34.6h0M161 34.6h0M164 34.6h0M167 34.6h0M176 34.6h0M114.5 37.2h0M156.5 37.2h0M165.5 37.2h0M180.5 37.2h0M119 39.8h0M158 39.8h0M117.5 42.4h0M153.5 42.4h0M162.5 42.4h0M174.5 42.4h0M110 45h0M158 45h0M164 45h0M167 45h0M177.5 47.6h0M161 50.2h0M129.5 52.8h0M204.5 52.8h0M170 55.4h0M203 55.4h0M132.5 57.9h0M162.5 57.9h0M188 60.5h0M176 65.7h0M179 65.7h0M182 65.7h0M185 65.7h0M188 65.7h0M179 70.9h0M182 70.9h0M177.5 73.5h0M183.5 73.5h0M213.5 73.5h0M222.5 73.5h0M185 76.1h0M203 76.1h0M198.5 182.7h0" stroke="#99ff66"/><path d="M201.5 26.8h0M204.5 26.8h0M191 29.4h0M207.5 57.9h0M128 96.9h0M131 96.9h0M134 96.9h0M153.5 99.5h0M171.5 104.7h0M174.5 104.7h0M177.5 104.7h0M180.5 104.7h0M186.5 104.7h0M83 107.3h0M95 107.3h0M98 107.3h0M101 107.3h0M104 107.3h0M107 107.3h0M110 107.3h0M113 107.3h0M116 107.3h0M119 107.3h0M125 107.3h0M128 107.3h0M134 107.3h0M137 107.3h0M140 107.3h0M191 107.3h0M200 107.3h0M81.5 109.9h0M87.5 109.9h0M90.5 109.9h0M96.5 109.9h0M102.5 109.9h0M105.5 109.9h0M108.5 109.9h0M111.5 109.9h0M114.5 109.9h0M117.5 109.9h0M120.5 109.9h0M123.5 109.9h0M126.5 109.9h0M129.5 109.9h0M132.5 109.9h0M138.5 109.9h0M141.5 109.9h0M192.5 109.9h0M201.5 109.9h0M80 112.5h0M83 112.5h0M86 112.5h0M89 112.5h0M92 112.5h0M95 112.5h0M98 112.5h0M101 112.5h0M107 112.5h0M110 112.5h0M116 112.5h0M119 112.5h0M122 112.5h0M125 112.5h0M128 112.5h0M131 112.5h0M134 112.5h0M137 112.5h0M140 112.5h0M143 112.5h0M146 112.5h0M164 112.5h0M81.5 115.1h0M84.5 115.1h0M87.5 115.1h0M90.5 115.1h0M93.5 115.1h0M96.5 115.1h0M99.5 115.1h0M120.5 115.1h0M123.5 115.1h0M126.5 115.1h0M129.5 115.1h0M132.5 115.1h0M135.5 115.1h0M138.5 115.1h0" stroke="#0019ff"/><path d="M110 96.9h0M111.5 99.5h0M114.5 99.5h0M117.5 99.5h0M120.5 99.5h0M123.5 99.5h0M126.5 99.5h0M129.5 99.5h0M132.5 99.5h0M135.5 99.5h0M138.5 99.5h0M141.5 99.5h0M144.5 99.5h0M147.5 99.5h0M150.5 99.5h0M155 102.1h0M111.5 104.7h0M114.5 104.7h0M120.5 104.7h0M123.5 104.7h0M80 107.3h0M86 107.3h0M89 107.3h0M92 107.3h0M122 107.3h0M131 107.3h0M143 107.3h0M146 107.3h0M155 107.3h0M93.5 109.9h0M135.5 109.9h0M147.5 109.9h0M156.5 109.9h0M204.5 109.9h0M207.5 109.9h0M210.5 109.9h0M213.5 109.9h0M216.5 109.9h0M219.5 109.9h0M225.5 109.9h0M228.5 109.9h0M141.5 115.1h0M144.5 115.1h0M147.5 115.1h0M225.5 115.1h0M101 117.7h0M104 117.7h0M116 117.7h0M119 117.7h0M128 117.7h0M140 117.7h0M143 117.7h0M147.5 120.3h0M156.5 125.5h0M177.5 125.5h0M180.5 125.5h0M201.5 125.5h0M83 128.1h0M206 128.1h0M209 128.1h0M210.5 130.7h0M125 138.5h0M153.5 146.3h0M92 148.9h0M95 148.9h0M158 148.9h0M161 148.9h0M159.5 151.5h0M162.5 151.5h0M171.5 156.7h0M174.5 156.7h0M176 159.3h0M179 159.3h0" stroke="#0000ff"/><path d="M122 8.6h0M125 8.6h0M164 8.6h0M114.5 11.2h0M120.5 11.2h0M126.5 11.2h0M116 13.8h0M134 13.8h0M164 13.8h0M105.5 16.4h0M108.5 16.4h0M120.5 16.4h0M116 19h0M119 19h0M122 19h0M117.5 21.6h0M147.5 21.6h0M110 24.2h0M119 24.2h0M155 24.2h0M102.5 26.8h0M111.5 26.8h0M114.5 26.8h0M113 29.4h0M116 29.4h0M131 29.4h0M152 29.4h0M161 29.4h0M114.5 32h0M117.5 32h0M120.5 32h0M123.5 32h0M101 34.6h0M107 34.6h0M108.5 37.2h0M126.5 37.2h0M174.5 37.2h0M104 39.8h0M110 39.8h0M105.5 42.4h0M161 45h0M123.5 47.6h0M126.5 47.6h0M209 50.2h0M177.5 52.8h0M201.5 52.8h0M179 60.5h0M191 65.7h0M194 65.7h0M197 65.7h0M195.5 68.3h0M198.5 68.3h0M210.5 68.3h0M191 70.9h0M227 70.9h0M174.5 73.5h0M170 76.1h0M173 76.1h0M179 76.1h0M191 76.1h0M206 76.1h0M170 86.5h0M227 86.5h0M212 91.7h0M215 91.7h0M159.5 94.3h0M216.5 94.3h0M209 96.9h0M159.5 99.5h0M225.5 99.5h0M228.5 99.5h0M165.5 104.7h0" stroke="#66ff99"/><path d="M201.5 0.8h0M210.5 0.8h0M216.5 0.8h0M209 3.4h0M212 3.4h0M218 3.4h0M192.5 6h0M197 8.6h0M203 8.6h0M192.5 11.2h0M198.5 11.2h0M207.5 11.2h0M210.5 11.2h0M218 13.8h0M180.5 16.4h0M183.5 16.4h0M198.5 16.4h0M216.5 16.4h0M179 19h0M215 19h0M186.5 21.6h0M198.5 21.6h0M201.5 21.6h0M185 24.2h0M188 24.2h0M191 24.2h0M185 29.4h0M200 29.4h0M203 29.4h0M192.5 32h0M96.5 42.4h0M93.5 47.6h0M102.5 47.6h0M108.5 47.6h0M92 50.2h0M104 50.2h0M110 50.2h0M113 50.2h0M156.5 99.5h0M167 102.1h0" stroke="#0066ff"/><path d="M204.5 0.8h0M207.5 0.8h0M197 3.4h0M195.5 6h0M198.5 6h0M204.5 6h0M213.5 6h0M216.5 6h0M188 8.6h0M200 8.6h0M212 8.6h0M218 8.6h0M186.5 11.2h0M189.5 11.2h0M195.5 11.2h0M213.5 11.2h0M188 13.8h0M191 13.8h0M194 13.8h0M215 13.8h0M186.5 16.4h0M189.5 16.4h0M195.5 16.4h0M207.5 16.4h0M182 19h0M194 19h0M197 19h0M180.5 21.6h0M204.5 21.6h0M182 24.2h0M180.5 26.8h0M183.5 26.8h0M182 29.4h0M189.5 32h0M195.5 32h0M198.5 32h0M87.5 37.2h0M86 39.8h0M89 39.8h0M206 39.8h0M87.5 42.4h0M180.5 42.4h0M186.5 42.4h0M189.5 42.4h0M195.5 42.4h0M86 45h0M89 45h0M95 45h0M98 45h0M200 45h0M84.5 47.6h0M87.5 47.6h0M90.5 47.6h0M105.5 47.6h0M86 50.2h0M89 50.2h0M98 50.2h0M101 50.2h0M93.5 52.8h0M96.5 52.8h0M102.5 52.8h0M105.5 52.8h0M108.5 52.8h0M111.5 52.8h0M114.5 52.8h0M95 55.4h0M98 55.4h0M101 55.4h0M104 55.4h0M107 55.4h0M110 55.4h0M113 55.4h0M116 55.4h0M96.5 57.9h0M99.5 57.9h0M210.5 57.9h0M111.5 63.1h0M114.5 63.1h0M117.5 63.1h0M120.5 63.1h0M113 65.7h0M116 65.7h0M119 65.7h0M114.5 68.3h0M117.5 68.3h0M120.5 68.3h0M222.5 89.1h0M147.5 94.3h0M150.5 94.3h0M140 96.9h0M143 96.9h0M146 96.9h0M149 96.9h0M152 96.9h0M170 107.3h0M176 107.3h0" stroke="#0080ff"/><path d="M99.5 156.7h0M102.5 156.7h0M105.5 156.7h0M108.5 156.7h0M201.5 172.3h0M204.5 172.3h0M197 174.9h0M203 174.9h0M206 174.9h0M209 174.9h0M201.5 177.5h0M204.5 177.5h0M207.5 177.5h0M203 180.1h0M206 180.1h0M201.5 182.7h0M203 185.3h0M206 185.3h0" stroke="#0000b2"/></g><g fill="none" stroke-width="8" stroke-linecap="round"><path d="M75.9 167.7h0" stroke="#0000cc"/><path d="M137.7 163.7h0" stroke="#0000ff"/><path d="M184.3 174.2h0" stroke="#0033ff"/><path d="M180.7 175.1h0" stroke="#004dff"/><path d="M227.7 8.1h0M199.6 165.0h0" stroke="#0099ff"/><path d="M77.0 155.6h0" stroke="#00b2ff"/><path d="M192.4 174.8h0" stroke="#00ccff"/><path d="M132.7 159.4h0M178.0 164.1h0" stroke="#00e5ff"/><path d="M99.1 152.4h0M174.6 175.1h0" stroke="#00ffff"/><path d="M151.9 158.0h0" stroke="#1affe5"/><path d="M218.2 16.1h0M221.5 19.1h0M129.3 162.7h0" stroke="#33ffcc"/><path d="M88.1 78.7h0M230.7 16.8h0M119.8 162.3h0M124.6 163.1h0M143.8 161.7h0" stroke="#4dffb2"/><path d="M102.9 78.7h0M130.0 6.1h0M135.4 5.7h0M180.0 192.6h0" stroke="#66ff99"/><path d="M82.9 153.7h0" stroke="#99ff66"/><path d="M147.5 159.4h0M208.4 167.7h0" stroke="#b3ff4c"/><path d="M88.1 148.4h0" stroke="#ccff33"/><path d="M213.1 168.8h0" stroke="#e5ff1a"/><path d="M83.3 164.8h0M89.7 164.8h0" stroke="#ffff00"/><path d="M98.9 183.2h0M79.3 207.8h0" stroke="#ffe500"/><path d="M91.0 154.3h0M157.3 161.7h0" stroke="#ff9900"/><path d="M171.9 165.7h0M161.7 178.9h0M163.8 183.6h0M88.7 201.7h0" stroke="#ff8000"/><path d="M73.9 177.8h0M81.3 182.2h0M81.3 187.4h0M70.5 200.7h0M65.1 209.4h0M74.5 209.1h0M116.7 210.8h0" stroke="#ff6600"/><path d="M116.5 177.1h0" stroke="#b30000"/></g><g><path d="M190.1 4.1l6.3 2.9M202.2 18.2l8.2 3.8M161.2 2.9l5.0 2.3M172.1 -1.5l7.1 3.3M183.9 13.0l8.3 3.9M175.7 -1.1l5.7 2.6M170.7 11.2l5.4 2.5M163.9 20.5l5.8 2.7M178.2 25.6l8.5 4.0M206.5 -3.1l8.0 3.7M185.1 30.0l7.0 3.3M187.6 14.4l6.9 3.2M207.8 10.6l5.9 2.8M187.2 32.8l5.0 2.3M213.2 -2.9l8.7 4.0M195.6 3.0l8.9 4.1M166.5 8.6l5.7 2.7M178.9 7.2l7.1 3.3M188.7 1.2l5.8 2.7M177.3 30.6l7.9 3.7M163.8 14.6l7.3 3.4M180.6 -2.1l9.7 4.5M210.6 17.9l9.7 4.5M218.5 19.1l4.9 2.3M176.4 18.1l9.9 4.6M157.9 22.5l9.6 4.5M188.7 0.4l8.4 3.9M205.6 14.9l5.3 2.5M207.3 1.5l8.5 4.0M178.0 3.5l9.0 4.2M216.3 8.6l6.6 3.1M182.1 5.8l6.9 3.2M163.5 12.8l6.4 3.0M208.7 11.9l5.5 2.6M207.3 27.4l8.5 4.0M186.2 29.0l4.6 2.2M205.3 9.3l7.7 3.6M208.7 -0.8l7.1 3.3M181.5 30.2l5.2 2.4M208.3 2.5l8.4 3.9M181.8 2.4l6.3 3.0M177.6 29.6l8.5 3.9M170.8 13.2l10.0 4.7M170.1 26.5l8.5 4.0M183.7 19.4l8.3 3.9M171.8 4.6l9.0 4.2M184.6 15.1l6.7 3.1M184.4 30.2l5.1 2.4M170.7 28.1l6.6 3.1M163.4 22.0l4.5 2.1M205.9 2.3l6.6 3.1M169.7 4.8l8.3 3.9M193.0 4.8l9.5 4.4M215.5 5.4l9.5 4.4M193.0 12.9l9.5 4.4M184.2 14.6l4.5 2.1M183.3 7.9l8.6 4.0M212.0 4.7l6.2 2.9M209.4 7.4l10.1 4.7M186.7 12.7l7.4 3.4" fill="none" stroke="#1affe5" stroke-width="1.3" stroke-linecap="round"/><path d="M172.8 45.5l8.8 4.1M177.3 44.9l8.6 4.0M200.8 51.2l8.7 4.1M178.8 48.8l8.2 3.8M190.7 37.3l5.6 2.6M178.3 60.0l6.3 2.9M178.1 50.8l8.2 3.8M190.2 46.3l7.4 3.4M173.1 50.8l7.1 3.3M186.0 42.2l4.1 1.9M176.2 44.3l7.8 3.7M183.7 55.4l5.6 2.6M171.3 62.1l7.9 3.7M179.4 61.3l3.9 1.8M182.7 42.2l5.5 2.6M188.3 47.8l5.9 2.8M175.2 61.3l5.0 2.3M204.1 56.9l6.8 3.2M177.8 41.5l7.5 3.5M188.9 58.1l8.7 4.1M196.0 51.6l6.9 3.2M181.4 43.3l4.4 2.0M197.3 41.6l4.3 2.0M188.5 39.2l4.0 1.9M188.8 54.4l7.8 3.6M188.8 46.5l4.3 2.0M193.9 60.8l4.5 2.1M183.0 37.0l6.6 3.1M182.1 61.2l5.4 2.5M189.2 44.9l8.7 4.1" fill="none" stroke="#b3ff4c" stroke-width="1.3" stroke-linecap="round"/><path d="M194.9 138.1l7.6 2.8M209.6 123.1l8.0 2.9M198.9 139.1l9.5 3.4M186.6 135.8l8.6 3.1M179.5 153.1l5.7 2.1M202.7 126.7l10.7 3.9M174.4 142.6l8.8 3.2M211.9 150.8l10.9 4.0M212.3 153.0l7.1 2.6M193.3 133.0l6.2 2.3M203.8 133.4l10.6 3.9M196.3 159.4l11.5 4.2M196.9 113.7l10.7 3.9M204.9 142.6l11.2 4.1M200.7 120.1l5.3 1.9M190.8 118.5l7.1 2.6M176.8 155.3l5.3 1.9M202.7 123.3l9.4 3.4M178.2 136.9l11.0 4.0M185.7 132.1l7.9 2.9M170.7 146.6l9.1 3.3M192.7 115.3l5.2 1.9M204.1 112.9l8.8 3.2M198.5 121.7l7.1 2.6M210.8 140.6l7.4 2.7" fill="none" stroke="#0042ff" stroke-width="1.2" stroke-linecap="round"/><ellipse cx="93.5" cy="137.6" rx="2.2" ry="1.6" transform="rotate(0 93.5 137.6)" fill="#ff9e00"/><ellipse cx="109.0" cy="141.5" rx="6.2" ry="3.3" transform="rotate(5 109.0 141.5)" fill="#ff9400"/><ellipse cx="113.7" cy="139.2" rx="2.7" ry="1.6" transform="rotate(10 113.7 139.2)" fill="#ffb300"/><ellipse cx="106.3" cy="139.9" rx="2.2" ry="1.1" transform="rotate(10 106.3 139.9)" fill="#faff05"/><ellipse cx="92.8" cy="146.9" rx="2.4" ry="1.5" transform="rotate(0 92.8 146.9)" fill="#ff9e00"/><ellipse cx="124.6" cy="136.8" rx="4.6" ry="1.2" transform="rotate(18 124.6 136.8)" fill="#ff9e00"/><ellipse cx="133.3" cy="135.2" rx="4.1" ry="1.2" transform="rotate(18 133.3 135.2)" fill="#ffb300"/><ellipse cx="136.7" cy="134.1" rx="1.6" ry="1.1" transform="rotate(18 136.7 134.1)" fill="#d1ff2e"/><ellipse cx="113.1" cy="129.4" rx="1.9" ry="1.0" transform="rotate(22 113.1 129.4)" fill="#ff9e00"/><ellipse cx="121.9" cy="130.1" rx="1.6" ry="0.8" transform="rotate(22 121.9 130.1)" fill="#ff9e00"/><ellipse cx="144.2" cy="133.2" rx="4.1" ry="1.5" transform="rotate(32 144.2 133.2)" fill="#d1ff2e"/><ellipse cx="148.9" cy="144.3" rx="7.9" ry="1.8" transform="rotate(30 148.9 144.3)" fill="#ff9400"/><ellipse cx="142.1" cy="141.9" rx="2.4" ry="1.2" transform="rotate(30 142.1 141.9)" fill="#ff9e00"/><ellipse cx="151.9" cy="133.3" rx="1.4" ry="0.8" transform="rotate(30 151.9 133.3)" fill="#ff9e00"/><ellipse cx="155.7" cy="147.9" rx="1.9" ry="1.1" transform="rotate(30 155.7 147.9)" fill="#ffb300"/><ellipse cx="165.8" cy="131.9" rx="3.3" ry="1.2" transform="rotate(20 165.8 131.9)" fill="#ff9e00"/><ellipse cx="170.0" cy="133.8" rx="1.4" ry="1.1" transform="rotate(0 170.0 133.8)" fill="#4dffb2"/><ellipse cx="155.0" cy="122.7" rx="1.4" ry="0.8" transform="rotate(30 155.0 122.7)" fill="#2effd1"/><ellipse cx="157.3" cy="126.0" rx="1.4" ry="0.8" transform="rotate(30 157.3 126.0)" fill="#ffb300"/><ellipse cx="132.7" cy="115.7" rx="1.6" ry="0.7" transform="rotate(30 132.7 115.7)" fill="#1affe5"/><ellipse cx="122.5" cy="147.0" rx="2.7" ry="1.1" transform="rotate(10 122.5 147.0)" fill="#ff9e00"/><ellipse cx="104.0" cy="135.2" rx="1.9" ry="1.0" transform="rotate(22 104.0 135.2)" fill="#ffb300"/><ellipse cx="117.8" cy="143.2" rx="1.9" ry="1.0" transform="rotate(20 117.8 143.2)" fill="#05fffa"/><ellipse cx="138.1" cy="138.5" rx="1.9" ry="1.0" transform="rotate(20 138.1 138.5)" fill="#faff05"/><ellipse cx="130.0" cy="115.0" rx="1.4" ry="0.5" transform="rotate(30 130.0 115.0)" fill="#00d1ff"/><ellipse cx="176.6" cy="145.9" rx="2.2" ry="1.1" transform="rotate(0 176.6 145.9)" fill="#0061ff"/><ellipse cx="184.0" cy="137.9" rx="2.4" ry="0.8" transform="rotate(20 184.0 137.9)" fill="#004dff"/><ellipse cx="200.3" cy="128.4" rx="3.0" ry="0.8" transform="rotate(20 200.3 128.4)" fill="#004dff"/></g><g fill="none" stroke-width="8" stroke-linecap="round"><path d="M138.5 52.8h0" stroke="#ccff33"/><path d="M137 50.2h0M146 50.2h0M135.5 52.8h0M137 55.4h0M140 55.4h0" stroke="#e5ff1a"/><path d="M138.5 37.2h0M134 39.8h0M138.5 47.6h0M143 50.2h0M149 55.4h0M138.5 57.9h0M153.5 57.9h0" stroke="#ffff00"/><path d="M140 34.6h0M167 34.6h0M135.5 37.2h0M147.5 42.4h0M149 45h0M135.5 47.6h0M150.5 47.6h0M140 50.2h0M149 50.2h0M141.5 52.8h0M156.5 57.9h0" stroke="#ffe500"/><path d="M141.5 37.2h0M137 39.8h0M140 39.8h0M143 39.8h0M140 45h0M141.5 47.6h0M147.5 47.6h0M152 55.4h0" stroke="#ffcc00"/><path d="M156.5 32h0M137 34.6h0M143 34.6h0M135.5 42.4h0M144.5 47.6h0M144.5 52.8h0M146 55.4h0M144.5 57.9h0M147.5 57.9h0M150.5 57.9h0M158 60.5h0" stroke="#ffb300"/><path d="M144.5 42.4h0M137 45h0M146 45h0M143 55.4h0" stroke="#ff9900"/><path d="M144.5 37.2h0M146 39.8h0M138.5 42.4h0M161 45h0M162.5 47.6h0M171.5 47.6h0M147.5 52.8h0M150.5 52.8h0M141.5 57.9h0M156.5 73.5h0M155 76.1h0M158 76.1h0M156.5 78.7h0" stroke="#ff8000"/><path d="M129.5 16.4h0M143 45h0" stroke="#ff6600"/><path d="M141.5 42.4h0" stroke="#ff4c00"/><path d="M156.5 0.8h0M155 3.4h0M156.5 6h0M155 8.6h0M158 8.6h0M153.5 11.2h0M156.5 11.2h0M152 13.8h0M155 13.8h0M158 13.8h0M161 13.8h0M153.5 16.4h0M156.5 16.4h0M159.5 16.4h0M162.5 16.4h0M155 19h0M158 19h0M161 19h0M164 19h0M167 19h0M171.5 21.6h0" stroke="#ff3300"/></g>
<g clip-path="url(#mapclip)"><use href="#states"/></g>
</g>
<rect x="1285.5" y="95.5" width="23.0" height="214.5" fill="url(#jet)" stroke="#262626" stroke-width="1"/>
<text class="b s6" x="1316.6" y="102.9" font-size="22.2" textLength="58.8" lengthAdjust="spacingAndGlyphs">1000</text>
<path d="M1308.5 143.3h-2.6" stroke="#262626" stroke-width="1" fill="none"/>
<text class="b s6" x="1316.6" y="150.9" font-size="22.2" textLength="44.1" lengthAdjust="spacingAndGlyphs">800</text>
<path d="M1308.5 190.3h-2.6" stroke="#262626" stroke-width="1" fill="none"/>
<text class="b s6" x="1316.6" y="197.9" font-size="22.2" textLength="44.1" lengthAdjust="spacingAndGlyphs">600</text>
<path d="M1308.5 238.3h-2.6" stroke="#262626" stroke-width="1" fill="none"/>
<text class="b s6" x="1316.6" y="245.9" font-size="22.2" textLength="44.1" lengthAdjust="spacingAndGlyphs">400</text>
<path d="M1308.5 286.3h-2.6" stroke="#262626" stroke-width="1" fill="none"/>
<text class="b s6" x="1316.6" y="293.9" font-size="22.2" textLength="44.1" lengthAdjust="spacingAndGlyphs">200</text>
<text class="b" x="988.3" y="112.6" font-size="12.2" textLength="17.2" lengthAdjust="spacingAndGlyphs">48</text>
<ellipse cx="1009.9" cy="99.1" rx="1.55" ry="1.1" fill="none" stroke="#262626" stroke-width="0.85"/>
<text class="b" x="1018.0" y="112.6" font-size="12.2" textLength="9.3" lengthAdjust="spacingAndGlyphs">N</text>
<text class="b" x="988.3" y="130.5" font-size="12.2" textLength="17.2" lengthAdjust="spacingAndGlyphs">46</text>
<ellipse cx="1009.9" cy="117.0" rx="1.55" ry="1.1" fill="none" stroke="#262626" stroke-width="0.85"/>
<text class="b" x="1018.0" y="130.5" font-size="12.2" textLength="9.3" lengthAdjust="spacingAndGlyphs">N</text>
<text class="b" x="988.3" y="147.6" font-size="12.2" textLength="17.2" lengthAdjust="spacingAndGlyphs">44</text>
<ellipse cx="1009.9" cy="134.1" rx="1.55" ry="1.1" fill="none" stroke="#262626" stroke-width="0.85"/>
<text class="b" x="1018.0" y="147.6" font-size="12.2" textLength="9.3" lengthAdjust="spacingAndGlyphs">N</text>
<text class="b" x="988.3" y="166.7" font-size="12.2" textLength="17.2" lengthAdjust="spacingAndGlyphs">42</text>
<ellipse cx="1009.9" cy="153.2" rx="1.55" ry="1.1" fill="none" stroke="#262626" stroke-width="0.85"/>
<text class="b" x="1018.0" y="166.7" font-size="12.2" textLength="9.3" lengthAdjust="spacingAndGlyphs">N</text>
<text class="b" x="988.3" y="182.8" font-size="12.2" textLength="17.2" lengthAdjust="spacingAndGlyphs">40</text>
<ellipse cx="1009.9" cy="169.3" rx="1.55" ry="1.1" fill="none" stroke="#262626" stroke-width="0.85"/>
<text class="b" x="1018.0" y="182.8" font-size="12.2" textLength="9.3" lengthAdjust="spacingAndGlyphs">N</text>
<text class="b" x="988.3" y="197.7" font-size="12.2" textLength="17.2" lengthAdjust="spacingAndGlyphs">38</text>
<ellipse cx="1009.9" cy="184.2" rx="1.55" ry="1.1" fill="none" stroke="#262626" stroke-width="0.85"/>
<text class="b" x="1018.0" y="197.7" font-size="12.2" textLength="9.3" lengthAdjust="spacingAndGlyphs">N</text>
<text class="b" x="988.3" y="214.5" font-size="12.2" textLength="17.2" lengthAdjust="spacingAndGlyphs">36</text>
<ellipse cx="1009.9" cy="201.0" rx="1.55" ry="1.1" fill="none" stroke="#262626" stroke-width="0.85"/>
<text class="b" x="1018.0" y="214.5" font-size="12.2" textLength="9.3" lengthAdjust="spacingAndGlyphs">N</text>
<text class="b" x="988.3" y="228.4" font-size="12.2" textLength="17.2" lengthAdjust="spacingAndGlyphs">34</text>
<ellipse cx="1009.9" cy="214.9" rx="1.55" ry="1.1" fill="none" stroke="#262626" stroke-width="0.85"/>
<text class="b" x="1018.0" y="228.4" font-size="12.2" textLength="9.3" lengthAdjust="spacingAndGlyphs">N</text>
<text class="b" x="988.3" y="245.7" font-size="12.2" textLength="17.2" lengthAdjust="spacingAndGlyphs">32</text>
<ellipse cx="1009.9" cy="232.2" rx="1.55" ry="1.1" fill="none" stroke="#262626" stroke-width="0.85"/>
<text class="b" x="1018.0" y="245.7" font-size="12.2" textLength="9.3" lengthAdjust="spacingAndGlyphs">N</text>
<text class="b" x="988.3" y="259.8" font-size="12.2" textLength="17.2" lengthAdjust="spacingAndGlyphs">30</text>
<ellipse cx="1009.9" cy="246.3" rx="1.55" ry="1.1" fill="none" stroke="#262626" stroke-width="0.85"/>
<text class="b" x="1018.0" y="259.8" font-size="12.2" textLength="9.3" lengthAdjust="spacingAndGlyphs">N</text>
<text class="b" x="988.3" y="274.5" font-size="12.2" textLength="17.2" lengthAdjust="spacingAndGlyphs">28</text>
<ellipse cx="1009.9" cy="261.0" rx="1.55" ry="1.1" fill="none" stroke="#262626" stroke-width="0.85"/>
<text class="b" x="1018.0" y="274.5" font-size="12.2" textLength="9.3" lengthAdjust="spacingAndGlyphs">N</text>
<text class="b" x="988.3" y="289.7" font-size="12.2" textLength="17.2" lengthAdjust="spacingAndGlyphs">26</text>
<ellipse cx="1009.9" cy="276.2" rx="1.55" ry="1.1" fill="none" stroke="#262626" stroke-width="0.85"/>
<text class="b" x="1018.0" y="289.7" font-size="12.2" textLength="9.3" lengthAdjust="spacingAndGlyphs">N</text>
<text class="b" x="988.3" y="302.0" font-size="12.2" textLength="17.2" lengthAdjust="spacingAndGlyphs">24</text>
<ellipse cx="1009.9" cy="288.5" rx="1.55" ry="1.1" fill="none" stroke="#262626" stroke-width="0.85"/>
<text class="b" x="1018.0" y="302.0" font-size="12.2" textLength="9.3" lengthAdjust="spacingAndGlyphs">N</text>
<text class="b" x="988.3" y="316.9" font-size="12.2" textLength="17.2" lengthAdjust="spacingAndGlyphs">22</text>
<ellipse cx="1009.9" cy="303.4" rx="1.55" ry="1.1" fill="none" stroke="#262626" stroke-width="0.85"/>
<text class="b" x="1018.0" y="316.9" font-size="12.2" textLength="9.3" lengthAdjust="spacingAndGlyphs">N</text>
<text class="b" x="1059.8" y="74.9" font-size="12.2" textLength="24.3" lengthAdjust="spacingAndGlyphs">100</text>
<ellipse cx="1088.5" cy="62.3" rx="1.55" ry="1.1" fill="none" stroke="#262626" stroke-width="0.85"/>
<text class="b" x="1096.7" y="74.9" font-size="12.2" textLength="13" lengthAdjust="spacingAndGlyphs">W</text>
<text class="b" x="1127.8" y="74.9" font-size="12.2" textLength="16.2" lengthAdjust="spacingAndGlyphs">90</text>
<ellipse cx="1148.4" cy="62.3" rx="1.55" ry="1.1" fill="none" stroke="#262626" stroke-width="0.85"/>
<text class="b" x="1156.6" y="74.9" font-size="12.2" textLength="13" lengthAdjust="spacingAndGlyphs">W</text>
<text class="b" x="1190.8" y="74.9" font-size="12.2" textLength="16.2" lengthAdjust="spacingAndGlyphs">80</text>
<ellipse cx="1211.4" cy="62.3" rx="1.55" ry="1.1" fill="none" stroke="#262626" stroke-width="0.85"/>
<text class="b" x="1219.6" y="74.9" font-size="12.2" textLength="13" lengthAdjust="spacingAndGlyphs">W</text>
<text class="b" x="1256.0" y="74.9" font-size="12.2" textLength="15.5" lengthAdjust="spacingAndGlyphs">70</text>
<ellipse cx="1275.9" cy="62.3" rx="1.55" ry="1.1" fill="none" stroke="#262626" stroke-width="0.85"/>
<text class="b" x="1284.1" y="74.9" font-size="12.2" textLength="13" lengthAdjust="spacingAndGlyphs">W</text>
<rect x="195.5" y="486.5" width="234.0" height="213.0" fill="#fff" stroke="#262626" stroke-width="1"/>
<g transform="translate(195.5 486.5) scale(1.00000 1.00000)">
<g fill="none" stroke-width="8" stroke-linecap="round"><path d="M90.5 0.8h0M93.5 0.8h0M96.5 0.8h0M99.5 0.8h0M102.5 0.8h0M105.5 0.8h0M108.5 0.8h0M111.5 0.8h0M92 3.4h0M95 3.4h0M98 3.4h0M101 3.4h0M104 3.4h0M107 3.4h0M119 3.4h0M90.5 6h0M93.5 6h0M96.5 6h0M99.5 6h0M102.5 6h0M105.5 6h0M135.5 6h0M138.5 6h0M141.5 6h0M144.5 6h0M92 8.6h0M95 8.6h0M98 8.6h0M101 8.6h0M104 8.6h0M107 8.6h0M146 8.6h0M90.5 11.2h0M93.5 11.2h0M96.5 11.2h0M99.5 11.2h0M102.5 11.2h0M105.5 11.2h0M108.5 11.2h0M135.5 11.2h0M138.5 11.2h0M144.5 11.2h0M89 13.8h0M92 13.8h0M95 13.8h0M98 13.8h0M110 13.8h0M113 13.8h0M87.5 16.4h0M90.5 16.4h0M93.5 16.4h0M96.5 16.4h0M89 19h0M92 19h0M95 19h0M87.5 32h0M90.5 32h0M159.5 42.4h0M162.5 42.4h0M161 45h0M125 55.4h0M209 96.9h0M207.5 99.5h0M177.5 167.1h0M180.5 167.1h0M179 169.7h0M182 169.7h0M158 174.9h0M165.5 177.5h0M147.5 208.6h0" stroke="#99ff66"/><path d="M129.5 11.2h0M159.5 16.4h0M162.5 16.4h0M168.5 21.6h0M155 24.2h0M161 24.2h0M164 24.2h0M167 24.2h0M167 34.6h0M209 45h0M153.5 47.6h0M204.5 47.6h0M207.5 47.6h0M210.5 47.6h0M203 50.2h0M206 50.2h0M209 50.2h0M153.5 52.8h0M201.5 52.8h0M204.5 52.8h0M207.5 52.8h0M152 55.4h0M111.5 68.3h0M123.5 68.3h0M126.5 68.3h0M129.5 68.3h0M132.5 68.3h0M92 70.9h0M104 70.9h0M107 70.9h0M119 70.9h0M122 70.9h0M128 70.9h0M131 70.9h0M102.5 73.5h0M108.5 73.5h0M123.5 73.5h0M129.5 73.5h0M132.5 73.5h0M83 76.1h0M89 76.1h0M95 76.1h0M98 76.1h0M110 76.1h0M122 76.1h0M125 76.1h0M128 76.1h0M131 76.1h0M134 76.1h0M137 76.1h0M87.5 78.7h0M96.5 78.7h0M99.5 78.7h0M83 81.3h0M86 81.3h0M95 81.3h0M101 81.3h0M125 81.3h0M128 81.3h0M143 81.3h0M218 81.3h0M84.5 83.9h0M87.5 83.9h0M90.5 83.9h0M93.5 83.9h0M96.5 83.9h0M99.5 83.9h0M102.5 83.9h0M120.5 83.9h0M129.5 83.9h0M138.5 83.9h0M147.5 83.9h0M83 86.5h0M101 86.5h0M137 86.5h0M143 86.5h0M146 86.5h0M84.5 89.1h0M87.5 89.1h0M90.5 89.1h0M102.5 89.1h0M105.5 89.1h0M111.5 89.1h0M92 91.7h0M95 91.7h0M110 91.7h0M113 91.7h0M119 91.7h0M122 91.7h0M146 91.7h0M149 91.7h0M120.5 94.3h0M129.5 94.3h0M132.5 94.3h0M144.5 94.3h0M147.5 94.3h0M104 96.9h0M107 96.9h0M128 96.9h0M134 96.9h0M140 96.9h0M143 96.9h0M146 96.9h0M149 96.9h0M108.5 99.5h0M120.5 99.5h0M126.5 99.5h0M132.5 99.5h0M135.5 99.5h0M138.5 99.5h0M141.5 99.5h0M147.5 99.5h0M150.5 99.5h0M213.5 99.5h0M216.5 99.5h0M107 102.1h0M110 102.1h0M113 102.1h0M116 102.1h0M122 102.1h0M131 102.1h0M146 102.1h0M152 102.1h0M159.5 104.7h0M162.5 104.7h0M165.5 104.7h0M168.5 104.7h0M171.5 104.7h0M174.5 104.7h0M177.5 104.7h0M180.5 104.7h0M183.5 104.7h0M186.5 104.7h0M207.5 104.7h0M210.5 104.7h0M93.5 146.3h0M96.5 167.1h0M117.5 167.1h0M135.5 167.1h0M128 169.7h0M152 169.7h0M150.5 172.3h0M98 174.9h0M113 174.9h0M122 174.9h0M128 174.9h0M131 174.9h0M140 174.9h0M146 174.9h0M123.5 177.5h0M135.5 177.5h0M150.5 177.5h0M174.5 177.5h0M116 180.1h0M119 180.1h0M122 180.1h0M143 180.1h0M152 180.1h0M176 180.1h0M179 180.1h0M182 180.1h0M126.5 182.7h0M141.5 182.7h0M147.5 182.7h0M131 185.3h0M152 185.3h0M120.5 187.9h0M123.5 187.9h0M141.5 187.9h0M147.5 187.9h0M159.5 187.9h0M183.5 187.9h0M119 190.4h0M146 190.4h0M152 190.4h0M164 190.4h0M138.5 193h0M183.5 193h0M122 195.6h0M125 195.6h0M176 195.6h0M185 195.6h0M119 200.8h0M125 200.8h0M134 200.8h0M170 200.8h0M123.5 203.4h0M126.5 203.4h0M135.5 203.4h0M138.5 203.4h0M144.5 203.4h0M104 206h0M119 206h0M131 206h0M119 211.2h0M164 211.2h0M170 211.2h0" stroke="#00ccff"/><path d="M213.5 0.8h0M216.5 0.8h0M219.5 0.8h0M222.5 0.8h0M131 3.4h0M134 3.4h0M215 3.4h0M224 3.4h0M126.5 6h0M225.5 6h0M228.5 6h0M131 8.6h0M227 8.6h0M230 8.6h0M233 8.6h0M132.5 11.2h0M225.5 11.2h0M228.5 11.2h0M231.5 11.2h0M146 13.8h0M152 13.8h0M221 13.8h0M224 13.8h0M227 13.8h0M230 13.8h0M233 13.8h0M153.5 16.4h0M156.5 16.4h0M219.5 16.4h0M222.5 16.4h0M225.5 16.4h0M228.5 16.4h0M231.5 16.4h0M152 19h0M150.5 21.6h0M153.5 21.6h0M171.5 26.8h0M155 29.4h0M158 29.4h0M161 29.4h0M126.5 32h0M162.5 32h0M168.5 32h0M155 34.6h0M158 34.6h0M164 34.6h0M168.5 37.2h0M218 50.2h0M227 50.2h0M119 65.7h0M197 81.3h0M200 81.3h0M201.5 83.9h0M213.5 83.9h0M216.5 83.9h0M212 86.5h0M221 86.5h0M207.5 89.1h0M210.5 89.1h0M213.5 89.1h0M203 91.7h0M212 91.7h0M215 91.7h0M213.5 94.3h0M161 107.3h0M164 107.3h0M167 107.3h0M170 107.3h0M173 107.3h0M176 107.3h0M179 107.3h0M182 107.3h0M185 107.3h0M188 107.3h0M81.5 141.1h0M83 143.7h0M81.5 146.3h0M83 148.9h0M81.5 151.5h0M75.5 156.7h0M141.5 161.9h0M144.5 161.9h0M146 164.5h0M155 164.5h0M119 169.7h0M158 169.7h0M153.5 172.3h0M152 174.9h0M176 174.9h0M149 180.1h0M161 180.1h0M164 185.3h0M114.5 187.9h0M123.5 193h0M158 195.6h0M162.5 198.2h0M149 200.8h0M155 200.8h0M158 206h0M164 206h0M170 206h0M141.5 208.6h0M159.5 208.6h0M162.5 208.6h0M158 211.2h0" stroke="#1affe5"/><path d="M120.5 0.8h0M147.5 6h0M149 8.6h0M147.5 11.2h0M144.5 16.4h0M224 19h0M227 19h0M210.5 26.8h0M162.5 37.2h0M218 39.8h0M221 39.8h0M224 39.8h0M227 39.8h0M230 39.8h0M216.5 42.4h0M219.5 42.4h0M222.5 42.4h0M225.5 42.4h0M228.5 42.4h0M231.5 42.4h0M158 45h0M230 45h0M123.5 47.6h0M231.5 47.6h0M125 50.2h0M233 50.2h0M126.5 52.8h0M203 96.9h0M204.5 99.5h0M158 164.5h0M162.5 167.1h0M183.5 167.1h0M161 169.7h0M173 169.7h0M176 169.7h0M177.5 172.3h0M180.5 172.3h0M164 174.9h0M162.5 177.5h0M143 206h0" stroke="#80ff80"/><path d="M164 13.8h0M167 13.8h0M173 19h0M168.5 42.4h0M153.5 68.3h0M158 70.9h0M159.5 94.3h0M162.5 94.3h0M165.5 94.3h0M161 96.9h0M87.5 161.9h0M90.5 161.9h0M101 164.5h0M131 164.5h0M93.5 167.1h0M102.5 167.1h0M129.5 167.1h0M141.5 167.1h0M101 169.7h0M116 169.7h0M125 169.7h0M99.5 172.3h0M105.5 172.3h0M114.5 172.3h0M120.5 172.3h0M101 174.9h0M137 174.9h0M99.5 177.5h0M113 180.1h0M131 180.1h0M102.5 182.7h0M114.5 182.7h0M98 185.3h0M101 185.3h0M149 185.3h0M185 185.3h0M135.5 187.9h0M138.5 187.9h0M131 190.4h0M185 190.4h0M96.5 193h0M102.5 193h0M117.5 193h0M120.5 193h0M135.5 193h0M144.5 193h0M153.5 193h0M107 195.6h0M110 195.6h0M134 195.6h0M137 195.6h0M108.5 198.2h0M111.5 198.2h0M114.5 198.2h0M138.5 198.2h0M177.5 198.2h0M180.5 198.2h0M183.5 198.2h0M101 200.8h0M140 200.8h0M129.5 203.4h0M111.5 208.6h0M128 211.2h0M137 211.2h0" stroke="#0080ff"/><path d="M114.5 0.8h0M117.5 0.8h0M110 3.4h0M108.5 6h0M110 8.6h0M116 8.6h0M143 8.6h0M111.5 11.2h0M114.5 11.2h0M141.5 11.2h0M101 13.8h0M107 13.8h0M99.5 16.4h0M87.5 21.6h0M90.5 21.6h0M93.5 21.6h0M216.5 21.6h0M228.5 21.6h0M89 24.2h0M92 24.2h0M87.5 26.8h0M90.5 26.8h0M89 29.4h0M92 29.4h0M158 39.8h0M126.5 47.6h0M206 96.9h0M161 174.9h0M165.5 182.7h0M167 185.3h0M149 211.2h0" stroke="#b3ff4c"/><path d="M158 13.8h0M161 13.8h0M170 13.8h0M165.5 16.4h0M171.5 16.4h0M161 19h0M164 19h0M162.5 21.6h0M165.5 42.4h0M105.5 68.3h0M108.5 68.3h0M159.5 68.3h0M89 70.9h0M95 70.9h0M98 70.9h0M101 70.9h0M137 70.9h0M90.5 73.5h0M93.5 73.5h0M96.5 73.5h0M99.5 73.5h0M111.5 73.5h0M114.5 73.5h0M117.5 73.5h0M120.5 73.5h0M135.5 73.5h0M138.5 73.5h0M141.5 73.5h0M144.5 73.5h0M150.5 73.5h0M153.5 73.5h0M156.5 73.5h0M159.5 73.5h0M92 76.1h0M113 76.1h0M116 76.1h0M119 76.1h0M155 76.1h0M158 76.1h0M81.5 78.7h0M84.5 78.7h0M105.5 78.7h0M108.5 78.7h0M111.5 78.7h0M114.5 78.7h0M117.5 78.7h0M120.5 78.7h0M123.5 78.7h0M126.5 78.7h0M129.5 78.7h0M132.5 78.7h0M135.5 78.7h0M138.5 78.7h0M141.5 78.7h0M144.5 78.7h0M219.5 78.7h0M89 81.3h0M92 81.3h0M98 81.3h0M104 81.3h0M107 81.3h0M131 81.3h0M137 81.3h0M140 81.3h0M146 81.3h0M149 81.3h0M221 81.3h0M105.5 83.9h0M108.5 83.9h0M111.5 83.9h0M114.5 83.9h0M117.5 83.9h0M123.5 83.9h0M126.5 83.9h0M144.5 83.9h0M150.5 83.9h0M86 86.5h0M89 86.5h0M92 86.5h0M98 86.5h0M110 86.5h0M119 86.5h0M122 86.5h0M125 86.5h0M128 86.5h0M131 86.5h0M134 86.5h0M93.5 89.1h0M96.5 89.1h0M99.5 89.1h0M114.5 89.1h0M117.5 89.1h0M120.5 89.1h0M123.5 89.1h0M126.5 89.1h0M132.5 89.1h0M135.5 89.1h0M138.5 89.1h0M147.5 89.1h0M89 91.7h0M98 91.7h0M101 91.7h0M104 91.7h0M107 91.7h0M116 91.7h0M125 91.7h0M128 91.7h0M131 91.7h0M134 91.7h0M137 91.7h0M140 91.7h0M102.5 94.3h0M105.5 94.3h0M108.5 94.3h0M117.5 94.3h0M123.5 94.3h0M135.5 94.3h0M138.5 94.3h0M141.5 94.3h0M110 96.9h0M113 96.9h0M119 96.9h0M122 96.9h0M125 96.9h0M137 96.9h0M105.5 99.5h0M111.5 99.5h0M114.5 99.5h0M117.5 99.5h0M129.5 99.5h0M144.5 99.5h0M159.5 99.5h0M168.5 99.5h0M119 102.1h0M134 102.1h0M137 102.1h0M140 102.1h0M143 102.1h0M149 102.1h0M161 102.1h0M170 102.1h0M173 102.1h0M176 102.1h0M179 102.1h0M182 102.1h0M185 102.1h0M215 102.1h0M114.5 104.7h0M117.5 104.7h0M120.5 104.7h0M123.5 104.7h0M126.5 104.7h0M129.5 104.7h0M132.5 104.7h0M135.5 104.7h0M138.5 104.7h0M141.5 104.7h0M144.5 104.7h0M147.5 104.7h0M150.5 104.7h0M95 143.7h0M80 159.3h0M132.5 161.9h0M92 164.5h0M122 164.5h0M134 164.5h0M99.5 167.1h0M111.5 167.1h0M126.5 167.1h0M132.5 167.1h0M189.5 167.1h0M192.5 167.1h0M195.5 167.1h0M198.5 167.1h0M146 169.7h0M191 169.7h0M194 169.7h0M197 169.7h0M123.5 172.3h0M147.5 172.3h0M189.5 172.3h0M192.5 172.3h0M116 174.9h0M119 174.9h0M125 174.9h0M134 174.9h0M179 174.9h0M138.5 177.5h0M144.5 177.5h0M153.5 177.5h0M128 180.1h0M158 180.1h0M111.5 182.7h0M129.5 182.7h0M132.5 182.7h0M144.5 182.7h0M104 185.3h0M107 185.3h0M113 185.3h0M140 185.3h0M146 185.3h0M158 185.3h0M126.5 187.9h0M129.5 187.9h0M144.5 187.9h0M165.5 187.9h0M174.5 187.9h0M116 190.4h0M128 190.4h0M129.5 193h0M147.5 193h0M150.5 193h0M162.5 193h0M116 195.6h0M140 195.6h0M143 195.6h0M146 195.6h0M161 195.6h0M120.5 198.2h0M132.5 198.2h0M141.5 198.2h0M116 200.8h0M137 200.8h0M143 200.8h0M146 200.8h0M99.5 203.4h0M132.5 203.4h0M171.5 203.4h0M128 206h0M134 206h0M126.5 208.6h0M129.5 208.6h0M132.5 208.6h0M122 211.2h0M134 211.2h0M140 211.2h0M167 211.2h0" stroke="#00b2ff"/><path d="M74 164.5h0M75.5 167.1h0M78.5 167.1h0M81.5 167.1h0M84.5 167.1h0M86 169.7h0M87.5 172.3h0M74 174.9h0M83 174.9h0M78.5 177.5h0M84.5 177.5h0M71 180.1h0M72.5 182.7h0M78.5 182.7h0M84.5 182.7h0M87.5 182.7h0M90.5 182.7h0M92 185.3h0M69.5 187.9h0M86 190.4h0M92 190.4h0M95 190.4h0M90.5 193h0M66.5 198.2h0M68 200.8h0M89 200.8h0M173 200.8h0M84.5 203.4h0M74 206h0M86 206h0" stroke="#0000b2"/><path d="M218 3.4h0M221 3.4h0M132.5 6h0M216.5 6h0M219.5 6h0M222.5 6h0M218 8.6h0M221 8.6h0M224 8.6h0M219.5 11.2h0M222.5 11.2h0M131 13.8h0M155 13.8h0M155 19h0M158 19h0M156.5 21.6h0M152 24.2h0M158 24.2h0M153.5 26.8h0M156.5 26.8h0M159.5 26.8h0M162.5 26.8h0M168.5 26.8h0M164 29.4h0M167 29.4h0M170 29.4h0M171.5 37.2h0M164 39.8h0M170 45h0M156.5 47.6h0M165.5 47.6h0M168.5 47.6h0M219.5 47.6h0M222.5 47.6h0M225.5 47.6h0M152 50.2h0M164 50.2h0M221 50.2h0M224 50.2h0M107 65.7h0M117.5 68.3h0M212 81.3h0M207.5 83.9h0M210.5 83.9h0M219.5 83.9h0M140 86.5h0M206 86.5h0M209 86.5h0M204.5 89.1h0M215 96.9h0M204.5 104.7h0M84.5 141.1h0M86 143.7h0M89 143.7h0M146 143.7h0M149 143.7h0M84.5 146.3h0M78.5 156.7h0M77 159.3h0M137 164.5h0M149 164.5h0M147.5 167.1h0M156.5 167.1h0M134 169.7h0M140 169.7h0M132.5 172.3h0M135.5 172.3h0M138.5 172.3h0M141.5 172.3h0M144.5 172.3h0M156.5 172.3h0M174.5 172.3h0M143 174.9h0M146 180.1h0M135.5 182.7h0M150.5 182.7h0M153.5 182.7h0M155 185.3h0M176 185.3h0M156.5 187.9h0M122 190.4h0M164 195.6h0M144.5 198.2h0M150.5 198.2h0M165.5 198.2h0M168.5 198.2h0M147.5 203.4h0M159.5 203.4h0M125 206h0M155 206h0M165.5 208.6h0M168.5 208.6h0" stroke="#00ffff"/><path d="M123.5 0.8h0M138.5 0.8h0M147.5 0.8h0M140 3.4h0M143 3.4h0M150.5 11.2h0M140 13.8h0M143 13.8h0M147.5 16.4h0M221 19h0M161 39.8h0M215 45h0M170 50.2h0M215 50.2h0M230 50.2h0M110 65.7h0M207.5 94.3h0M161 164.5h0M185 169.7h0M162.5 172.3h0M183.5 172.3h0M159.5 177.5h0M162.5 182.7h0M153.5 203.4h0M146 206h0M144.5 208.6h0M153.5 208.6h0M156.5 208.6h0M152 211.2h0" stroke="#66ff99"/><path d="M77 169.7h0M92 169.7h0M78.5 172.3h0M71 174.9h0M92 174.9h0M107 174.9h0M191 174.9h0M92 180.1h0M110 180.1h0M185 180.1h0M105.5 182.7h0M108.5 182.7h0M96.5 187.9h0M105.5 193h0M74 195.6h0M77 195.6h0M98 195.6h0M75.5 198.2h0M81.5 198.2h0M99.5 198.2h0M171.5 198.2h0M83 200.8h0M107 200.8h0M66.5 203.4h0M96.5 203.4h0M77 206h0M98 206h0M113 206h0M90.5 208.6h0M93.5 208.6h0M108.5 208.6h0M98 211.2h0M173 211.2h0" stroke="#0019ff"/><path d="M167 19h0M170 19h0M165.5 21.6h0M174.5 21.6h0M135.5 68.3h0M138.5 68.3h0M141.5 68.3h0M144.5 68.3h0M147.5 68.3h0M150.5 68.3h0M156.5 68.3h0M110 70.9h0M113 70.9h0M116 70.9h0M140 70.9h0M143 70.9h0M146 70.9h0M149 70.9h0M152 70.9h0M155 70.9h0M161 70.9h0M84.5 73.5h0M87.5 73.5h0M147.5 73.5h0M140 76.1h0M143 76.1h0M146 76.1h0M149 76.1h0M152 76.1h0M161 76.1h0M147.5 78.7h0M150.5 78.7h0M153.5 78.7h0M156.5 78.7h0M159.5 78.7h0M110 81.3h0M113 81.3h0M116 81.3h0M119 81.3h0M122 81.3h0M134 81.3h0M152 81.3h0M155 81.3h0M158 81.3h0M141.5 83.9h0M153.5 83.9h0M95 86.5h0M113 86.5h0M116 86.5h0M149 86.5h0M152 86.5h0M129.5 89.1h0M150.5 89.1h0M165.5 89.1h0M168.5 89.1h0M171.5 89.1h0M174.5 89.1h0M177.5 89.1h0M180.5 89.1h0M183.5 89.1h0M186.5 89.1h0M143 91.7h0M161 91.7h0M167 91.7h0M170 91.7h0M173 91.7h0M176 91.7h0M179 91.7h0M182 91.7h0M185 91.7h0M111.5 94.3h0M114.5 94.3h0M126.5 94.3h0M168.5 94.3h0M171.5 94.3h0M174.5 94.3h0M177.5 94.3h0M180.5 94.3h0M183.5 94.3h0M186.5 94.3h0M116 96.9h0M164 96.9h0M167 96.9h0M170 96.9h0M173 96.9h0M176 96.9h0M179 96.9h0M182 96.9h0M185 96.9h0M162.5 99.5h0M165.5 99.5h0M171.5 99.5h0M174.5 99.5h0M177.5 99.5h0M180.5 99.5h0M183.5 99.5h0M186.5 99.5h0M164 102.1h0M167 102.1h0M98 143.7h0M101 143.7h0M104 143.7h0M107 143.7h0M110 143.7h0M113 143.7h0M116 143.7h0M96.5 146.3h0M129.5 161.9h0M89 164.5h0M125 164.5h0M128 164.5h0M120.5 167.1h0M123.5 167.1h0M144.5 167.1h0M98 169.7h0M149 169.7h0M117.5 172.3h0M126.5 172.3h0M93.5 177.5h0M96.5 177.5h0M102.5 177.5h0M117.5 177.5h0M120.5 177.5h0M137 180.1h0M140 180.1h0M155 180.1h0M183.5 182.7h0M95 185.3h0M128 185.3h0M134 185.3h0M161 185.3h0M111.5 187.9h0M162.5 187.9h0M134 190.4h0M137 190.4h0M132.5 193h0M159.5 193h0M174.5 193h0M128 195.6h0M149 195.6h0M152 195.6h0M117.5 198.2h0M123.5 198.2h0M126.5 198.2h0M129.5 198.2h0M135.5 198.2h0M113 200.8h0M128 200.8h0M102.5 203.4h0M117.5 203.4h0M141.5 203.4h0M107 206h0M137 206h0M114.5 208.6h0M117.5 208.6h0M120.5 208.6h0M123.5 208.6h0M138.5 208.6h0M171.5 208.6h0" stroke="#0099ff"/><path d="M83 164.5h0M83 169.7h0M86 180.1h0M77 185.3h0M89 185.3h0M68 190.4h0M71 190.4h0M74 190.4h0M77 190.4h0M81.5 193h0M84.5 193h0M87.5 193h0M68 195.6h0M71 195.6h0M89 195.6h0M69.5 198.2h0M72.5 198.2h0M71 200.8h0M74 200.8h0M77 200.8h0M83 206h0M92 206h0M66.5 208.6h0" stroke="#000080"/><path d="M129.5 6h0M128 8.6h0M134 13.8h0M159.5 21.6h0M171.5 21.6h0M170 24.2h0M173 24.2h0M165.5 26.8h0M165.5 32h0M170 34.6h0M167 39.8h0M170 39.8h0M167 45h0M212 45h0M155 50.2h0M212 50.2h0M114.5 68.3h0M120.5 68.3h0M125 70.9h0M134 70.9h0M105.5 73.5h0M126.5 73.5h0M86 76.1h0M101 76.1h0M104 76.1h0M107 76.1h0M90.5 78.7h0M93.5 78.7h0M102.5 78.7h0M215 81.3h0M132.5 83.9h0M135.5 83.9h0M222.5 83.9h0M104 86.5h0M107 86.5h0M108.5 89.1h0M141.5 89.1h0M144.5 89.1h0M131 96.9h0M123.5 99.5h0M125 102.1h0M128 102.1h0M212 102.1h0M92 143.7h0M138.5 167.1h0M153.5 167.1h0M122 169.7h0M137 169.7h0M143 169.7h0M155 169.7h0M188 169.7h0M129.5 172.3h0M149 174.9h0M173 174.9h0M126.5 177.5h0M147.5 177.5h0M156.5 177.5h0M125 180.1h0M138.5 182.7h0M156.5 182.7h0M177.5 182.7h0M180.5 182.7h0M116 185.3h0M137 185.3h0M143 185.3h0M179 185.3h0M182 185.3h0M117.5 187.9h0M150.5 187.9h0M153.5 187.9h0M177.5 187.9h0M180.5 187.9h0M125 190.4h0M149 190.4h0M155 190.4h0M158 190.4h0M161 190.4h0M176 190.4h0M179 190.4h0M182 190.4h0M141.5 193h0M177.5 193h0M180.5 193h0M119 195.6h0M131 195.6h0M179 195.6h0M182 195.6h0M147.5 198.2h0M164 200.8h0M150.5 203.4h0M165.5 203.4h0M168.5 203.4h0M140 206h0M131 211.2h0" stroke="#00e5ff"/><path d="M126.5 0.8h0M132.5 0.8h0M141.5 0.8h0M183.5 0.8h0M186.5 0.8h0M189.5 0.8h0M192.5 0.8h0M195.5 0.8h0M198.5 0.8h0M225.5 0.8h0M128 3.4h0M137 3.4h0M185 3.4h0M188 3.4h0M191 3.4h0M194 3.4h0M197 3.4h0M227 3.4h0M186.5 6h0M189.5 6h0M192.5 6h0M195.5 6h0M231.5 6h0M137 13.8h0M149 13.8h0M150.5 16.4h0M149 19h0M174.5 26.8h0M207.5 26.8h0M128 29.4h0M173 29.4h0M153.5 32h0M159.5 32h0M171.5 32h0M125 34.6h0M128 34.6h0M161 34.6h0M123.5 37.2h0M156.5 37.2h0M165.5 37.2h0M123.5 42.4h0M164 45h0M218 45h0M221 45h0M224 45h0M227 45h0M162.5 47.6h0M228.5 47.6h0M158 50.2h0M161 50.2h0M167 50.2h0M165.5 52.8h0M215 86.5h0M216.5 89.1h0M219.5 89.1h0M206 91.7h0M209 91.7h0M212 96.9h0M203 102.1h0M209 102.1h0M78.5 135.9h0M74 138.5h0M77 138.5h0M80 138.5h0M75.5 141.1h0M78.5 141.1h0M74 143.7h0M77 143.7h0M80 143.7h0M75.5 146.3h0M78.5 146.3h0M74 148.9h0M77 148.9h0M80 148.9h0M72.5 151.5h0M75.5 151.5h0M78.5 151.5h0M71 154.1h0M74 154.1h0M77 154.1h0M80 154.1h0M147.5 161.9h0M140 164.5h0M174.5 167.1h0M159.5 172.3h0M171.5 172.3h0M159.5 182.7h0M126.5 193h0M155 195.6h0M153.5 198.2h0M152 200.8h0M161 200.8h0M167 200.8h0M156.5 203.4h0M162.5 203.4h0M122 206h0M143 211.2h0M155 211.2h0" stroke="#33ffcc"/><path d="M86 164.5h0M93.5 172.3h0M108.5 172.3h0M86 174.9h0M104 174.9h0M110 174.9h0M188 174.9h0M95 180.1h0M98 180.1h0M93.5 182.7h0M117.5 182.7h0M120.5 182.7h0M122 185.3h0M186.5 187.9h0M98 190.4h0M113 190.4h0M140 190.4h0M108.5 193h0M111.5 193h0M114.5 193h0M101 195.6h0M113 195.6h0M78.5 198.2h0M173 206h0M81.5 208.6h0M87.5 208.6h0M96.5 208.6h0M102.5 208.6h0M74 211.2h0M86 211.2h0M101 211.2h0M125 211.2h0" stroke="#0033ff"/><path d="M116 3.4h0M113 8.6h0M137 8.6h0" stroke="#e5ff1a"/><path d="M111.5 6h0M114.5 6h0" stroke="#ffe500"/><path d="M75.5 161.9h0M90.5 167.1h0M89 169.7h0M69.5 172.3h0M87.5 177.5h0M180.5 177.5h0M81.5 182.7h0M186.5 182.7h0M68 185.3h0M86 185.3h0M72.5 187.9h0M75.5 187.9h0M78.5 187.9h0M84.5 187.9h0M108.5 187.9h0M110 190.4h0M69.5 193h0M96.5 198.2h0M102.5 198.2h0M174.5 198.2h0M92 200.8h0M69.5 203.4h0M72.5 203.4h0M87.5 203.4h0M108.5 203.4h0M174.5 203.4h0M78.5 208.6h0M84.5 208.6h0M105.5 208.6h0M174.5 208.6h0M104 211.2h0M107 211.2h0" stroke="#0000ff"/><path d="M78.5 161.9h0M77 164.5h0M72.5 167.1h0M87.5 167.1h0M71 169.7h0M74 169.7h0M80 169.7h0M104 169.7h0M107 169.7h0M72.5 172.3h0M81.5 172.3h0M90.5 172.3h0M72.5 177.5h0M108.5 177.5h0M183.5 177.5h0M74 180.1h0M81.5 187.9h0M93.5 187.9h0M89 190.4h0M104 190.4h0M107 190.4h0M80 195.6h0M173 195.6h0M188 195.6h0M84.5 198.2h0M65 200.8h0M86 200.8h0M95 200.8h0M80 206h0M92 211.2h0" stroke="#0000e6"/><path d="M129.5 0.8h0M135.5 0.8h0M144.5 0.8h0M228.5 0.8h0M231.5 0.8h0M125 3.4h0M146 3.4h0M230 3.4h0M233 3.4h0M134 8.6h0M230 19h0M125 29.4h0M152 29.4h0M129.5 32h0M156.5 32h0M194 34.6h0M197 34.6h0M126.5 37.2h0M159.5 37.2h0M192.5 37.2h0M195.5 37.2h0M125 39.8h0M126.5 42.4h0M213.5 42.4h0M125 45h0M159.5 47.6h0M213.5 47.6h0M216.5 47.6h0M162.5 52.8h0M168.5 52.8h0M164 55.4h0M117.5 63.1h0M113 65.7h0M116 65.7h0M218 86.5h0M204.5 94.3h0M210.5 94.3h0M201.5 99.5h0M210.5 99.5h0M206 102.1h0M201.5 104.7h0M203 107.3h0M159.5 109.9h0M162.5 109.9h0M165.5 109.9h0M168.5 109.9h0M171.5 109.9h0M174.5 109.9h0M177.5 109.9h0M180.5 109.9h0M183.5 109.9h0M186.5 109.9h0M155 112.5h0M158 112.5h0M161 112.5h0M164 112.5h0M167 112.5h0M170 112.5h0M173 112.5h0M176 112.5h0M179 112.5h0M182 112.5h0M185 112.5h0M188 112.5h0M177.5 115.1h0M180.5 115.1h0M183.5 115.1h0M186.5 115.1h0M135.5 161.9h0M138.5 161.9h0M143 164.5h0M114.5 167.1h0M150.5 167.1h0M159.5 167.1h0M171.5 167.1h0M131 169.7h0M186.5 172.3h0M155 174.9h0M164 180.1h0M156.5 198.2h0M159.5 198.2h0M158 200.8h0M149 206h0M152 206h0M161 206h0M167 206h0M161 211.2h0" stroke="#4dffb2"/><path d="M113 3.4h0M117.5 6h0M140 8.6h0M104 13.8h0M102.5 16.4h0M219.5 21.6h0M222.5 21.6h0M225.5 21.6h0M212 24.2h0M215 24.2h0M218 24.2h0M221 24.2h0M224 24.2h0M227 24.2h0M213.5 26.8h0M216.5 26.8h0M219.5 26.8h0M222.5 26.8h0M225.5 26.8h0M212 29.4h0M215 29.4h0M218 29.4h0M221 29.4h0M126.5 57.9h0M143 159.3h0M150.5 208.6h0M146 211.2h0" stroke="#ccff33"/><path d="M168.5 16.4h0M164 91.7h0M98 164.5h0M95 169.7h0M110 169.7h0M113 169.7h0M96.5 172.3h0M111.5 172.3h0M89 174.9h0M95 174.9h0M90.5 177.5h0M111.5 177.5h0M114.5 177.5h0M129.5 177.5h0M132.5 177.5h0M141.5 177.5h0M134 180.1h0M96.5 182.7h0M99.5 182.7h0M123.5 182.7h0M125 185.3h0M105.5 187.9h0M132.5 187.9h0M101 190.4h0M143 190.4h0M156.5 193h0M104 195.6h0M105.5 198.2h0M98 200.8h0M122 200.8h0M131 200.8h0M120.5 203.4h0M110 206h0M116 206h0M135.5 208.6h0M83 211.2h0" stroke="#0066ff"/><path d="M95 164.5h0M105.5 167.1h0M108.5 167.1h0M102.5 172.3h0M182 174.9h0M185 174.9h0M105.5 177.5h0M177.5 177.5h0M101 180.1h0M104 180.1h0M107 180.1h0M110 185.3h0M119 185.3h0M99.5 187.9h0M102.5 187.9h0M93.5 193h0M99.5 193h0M186.5 193h0M186.5 198.2h0M104 200.8h0M110 200.8h0M105.5 203.4h0M111.5 203.4h0M114.5 203.4h0M101 206h0M99.5 208.6h0M77 211.2h0M80 211.2h0M95 211.2h0M113 211.2h0M116 211.2h0" stroke="#004dff"/><path d="M84.5 161.9h0M80 164.5h0M75.5 172.3h0M84.5 172.3h0M77 174.9h0M69.5 177.5h0M75.5 177.5h0M81.5 177.5h0M186.5 177.5h0M189.5 177.5h0M192.5 177.5h0M77 180.1h0M80 180.1h0M188 180.1h0M191 180.1h0M194 180.1h0M189.5 182.7h0M192.5 182.7h0M195.5 182.7h0M198.5 182.7h0M71 185.3h0M80 185.3h0M83 185.3h0M188 185.3h0M191 185.3h0M194 185.3h0M197 185.3h0M200 185.3h0M87.5 187.9h0M90.5 187.9h0M189.5 187.9h0M192.5 187.9h0M195.5 187.9h0M198.5 187.9h0M201.5 187.9h0M188 190.4h0M191 190.4h0M194 190.4h0M197 190.4h0M200 190.4h0M203 190.4h0M189.5 193h0M192.5 193h0M195.5 193h0M198.5 193h0M201.5 193h0M83 195.6h0M86 195.6h0M95 195.6h0M191 195.6h0M194 195.6h0M197 195.6h0M200 195.6h0M203 195.6h0M87.5 198.2h0M189.5 198.2h0M192.5 198.2h0M195.5 198.2h0M198.5 198.2h0M201.5 198.2h0M176 200.8h0M179 200.8h0M182 200.8h0M185 200.8h0M188 200.8h0M191 200.8h0M194 200.8h0M197 200.8h0M200 200.8h0M75.5 203.4h0M90.5 203.4h0M93.5 203.4h0M177.5 203.4h0M180.5 203.4h0M183.5 203.4h0M186.5 203.4h0M189.5 203.4h0M192.5 203.4h0M195.5 203.4h0M198.5 203.4h0M68 206h0M71 206h0M95 206h0M176 206h0M179 206h0M182 206h0M185 206h0M188 206h0M69.5 208.6h0M72.5 208.6h0M177.5 208.6h0M180.5 208.6h0M183.5 208.6h0M65 211.2h0M71 211.2h0M89 211.2h0M110 211.2h0M176 211.2h0M179 211.2h0M182 211.2h0" stroke="#0000cc"/><path d="M81.5 161.9h0M80 174.9h0M83 180.1h0M89 180.1h0M69.5 182.7h0M75.5 182.7h0M74 185.3h0M80 190.4h0M83 190.4h0M72.5 193h0M75.5 193h0M78.5 193h0M92 195.6h0M90.5 198.2h0M93.5 198.2h0M80 200.8h0M78.5 203.4h0M81.5 203.4h0M65 206h0M89 206h0M63.5 208.6h0M75.5 208.6h0M68 211.2h0" stroke="#000099"/></g><g fill="none" stroke-width="8" stroke-linecap="round"><path d="M207.2 165.9h0M179.4 206.7h0" stroke="#0000cc"/><path d="M90.1 154.0h0M95.2 155.1h0" stroke="#0000ff"/><path d="M145.5 108.9h0M99.3 155.8h0" stroke="#0019ff"/><path d="M123.7 123.5h0" stroke="#0033ff"/><path d="M155.0 109.2h0M129.8 122.1h0" stroke="#004dff"/><path d="M203.8 73.0h0" stroke="#0099ff"/><path d="M118.3 134.0h0M145.7 146.7h0M191.6 167.3h0" stroke="#00b2ff"/><path d="M127.8 109.6h0M209.3 171.0h0M207.9 177.5h0" stroke="#00ccff"/><path d="M185.5 59.1h0" stroke="#00e5ff"/><path d="M188.9 70.2h0M193.0 73.0h0M190.3 67.5h0M235.7 47.2h0" stroke="#00ffff"/><path d="M115.9 54.2h0M157.7 121.8h0" stroke="#1affe5"/><path d="M154.3 119.8h0" stroke="#33ffcc"/><path d="M184.8 212.1h0" stroke="#4dffb2"/><path d="M196.4 75.9h0" stroke="#66ff99"/><path d="M90.1 58.0h0M95.2 62.1h0M100.0 63.7h0" stroke="#80ff80"/><path d="M114.2 46.5h0M110.8 45.1h0" stroke="#99ff66"/></g><g><path d="M101.9 204.9l8.3 3.0M139.3 194.8l10.6 3.9M153.9 186.6l8.4 3.0M161.3 206.9l5.8 2.1M160.1 207.9l9.3 3.4M118.1 183.2l9.4 3.4M143.2 192.0l11.2 4.1M119.3 177.2l7.5 2.7M149.8 171.3l10.5 3.8M142.5 191.4l7.5 2.7M138.9 198.1l7.5 2.7M140.4 201.3l9.0 3.3M117.9 202.3l5.8 2.1M128.5 164.5l5.8 2.1M153.6 206.9l11.6 4.2M153.7 182.5l10.9 4.0M121.1 207.5l10.8 3.9M96.8 192.7l10.5 3.8M91.1 178.4l7.9 2.9M129.5 164.5l5.4 2.0M106.4 207.6l9.8 3.6M95.3 191.3l11.3 4.1M126.8 207.1l11.2 4.1M148.3 194.3l8.6 3.1M102.0 180.6l11.6 4.2M108.8 167.0l9.9 3.6M144.5 181.0l11.7 4.2M91.9 162.1l6.7 2.4M96.8 183.5l10.6 3.8M148.0 189.1l10.6 3.8M144.7 195.6l6.7 2.4M90.1 163.7l6.2 2.3M112.3 209.0l10.6 3.8M128.2 176.6l5.5 2.0M146.3 192.4l7.1 2.6M142.2 202.4l11.7 4.3M92.5 191.7l8.3 3.0M118.9 175.4l5.3 1.9M150.9 207.4l11.1 4.0M121.8 202.3l9.4 3.4M143.3 186.3l10.4 3.8M126.2 200.1l9.2 3.3M102.3 203.3l11.8 4.3M116.3 172.9l7.9 2.9M120.4 165.8l8.3 3.0M91.3 166.0l6.0 2.2M152.1 178.3l7.2 2.6M131.7 162.4l11.8 4.3M133.0 164.9l9.4 3.4M98.1 174.7l9.1 3.3M103.4 164.4l10.3 3.8M115.7 179.1l6.7 2.5M103.6 205.1l5.2 1.9M96.9 167.3l7.0 2.5M122.5 186.3l10.3 3.8M112.2 163.5l11.1 4.0M116.8 173.5l9.4 3.4M131.3 212.1l9.4 3.4M118.0 195.8l6.3 2.3M118.1 166.7l11.2 4.1M120.8 201.1l6.0 2.2M150.3 192.9l6.1 2.2M105.8 190.8l10.8 3.9M147.3 173.0l9.0 3.3M103.6 202.4l11.6 4.2M136.1 174.0l7.4 2.7M121.8 166.3l10.5 3.8M132.1 168.7l8.0 2.9M135.0 207.3l10.8 3.9M126.2 160.7l10.8 3.9" fill="none" stroke="#00b2ff" stroke-width="1.3" stroke-linecap="round"/><path d="M138.6 204.2l11.4 4.2M159.8 202.3l7.8 2.8M87.1 165.0l7.8 2.8M96.9 191.7l7.6 2.8M93.9 171.4l7.8 2.8M116.7 212.2l7.0 2.5M132.1 165.9l7.3 2.7M114.2 212.3l7.3 2.7M129.4 173.8l11.1 4.0M115.5 197.3l6.3 2.3M130.8 181.4l7.8 2.8M99.3 199.9l9.7 3.5M118.5 208.9l5.5 2.0M157.2 211.3l7.8 2.8M151.6 187.1l6.2 2.2M141.3 161.1l5.4 1.9M152.1 199.1l8.5 3.1M129.2 208.6l10.8 3.9M139.8 201.1l5.9 2.1M119.8 196.8l8.4 3.1M112.1 190.6l10.9 4.0M114.0 180.9l7.6 2.8M117.6 163.2l5.9 2.2M137.0 194.9l10.3 3.8M138.4 175.9l9.2 3.3M142.1 177.0l9.6 3.5M134.4 204.2l10.2 3.7M154.7 185.6l10.6 3.9M127.7 182.4l8.9 3.2M114.0 199.7l9.0 3.3M140.0 197.2l5.3 1.9M92.7 176.4l5.2 1.9M112.9 180.6l6.3 2.3M137.4 184.1l7.8 2.8M152.5 183.2l6.8 2.5M160.3 200.7l9.3 3.4M105.7 208.4l6.6 2.4M110.1 185.6l11.7 4.3M165.0 209.3l5.2 1.9M130.4 194.1l6.0 2.2M105.8 181.2l10.3 3.7M115.9 196.9l6.8 2.5M147.5 193.3l11.5 4.2M156.5 186.9l5.4 2.0M106.9 210.2l11.6 4.2M144.1 200.2l5.5 2.0M129.1 193.0l6.9 2.5M129.1 210.5l10.8 3.9M97.3 189.2l11.2 4.1M163.1 208.3l5.2 1.9M118.5 176.5l5.2 1.9M123.3 166.7l5.9 2.1M93.0 164.7l8.2 3.0M103.3 207.6l11.4 4.1M154.0 202.9l9.4 3.4M124.6 181.8l10.4 3.8M125.6 175.1l6.3 2.3M114.2 162.1l10.8 3.9M126.8 177.9l11.2 4.1M116.4 191.8l5.3 1.9" fill="none" stroke="#002eff" stroke-width="1.3" stroke-linecap="round"/><path d="M117.0 164.3l10.3 3.7M118.0 187.4l5.0 1.8M108.8 173.3l6.2 2.3M155.5 194.5l7.0 2.6M109.0 166.3l6.6 2.4M156.5 179.8l8.3 3.0M141.2 195.2l6.9 2.5M120.1 190.1l9.2 3.4M150.2 167.8l7.5 2.7M124.4 169.3l8.4 3.1M142.8 180.7l5.4 2.0M125.6 203.0l8.5 3.1M136.7 184.9l4.7 1.7M156.2 191.2l6.9 2.5M123.3 201.7l6.9 2.5M150.5 169.8l6.1 2.2M142.5 184.5l7.3 2.6M152.4 208.5l7.5 2.7M147.2 189.3l6.1 2.2M121.8 185.9l6.8 2.5M127.4 165.5l6.9 2.5M144.3 177.0l8.4 3.0M141.3 167.4l7.4 2.7M118.4 168.6l4.8 1.7M154.6 207.9l5.6 2.0M136.9 192.3l5.8 2.1M153.2 177.3l8.0 2.9M155.4 185.3l8.0 2.9M115.5 186.6l7.8 2.8M133.2 180.7l8.6 3.1M107.6 167.1l7.8 2.8M131.5 197.9l6.1 2.2M151.5 211.4l8.3 3.0M153.4 200.3l10.3 3.7M122.5 190.1l6.9 2.5M145.1 176.8l8.8 3.2M159.0 194.2l7.7 2.8M130.8 209.2l9.7 3.5M121.5 191.7l7.6 2.8M138.3 188.6l7.9 2.9" fill="none" stroke="#1affe5" stroke-width="1.2" stroke-linecap="round"/><ellipse cx="166.1" cy="182.5" rx="1.4" ry="1.2" transform="rotate(0 166.1 182.5)" fill="#ff4c00"/></g>
<g clip-path="url(#mapclip)"><use href="#states"/></g>
</g>
<rect x="441.5" y="485.5" width="23.0" height="214.5" fill="url(#jet)" stroke="#262626" stroke-width="1"/>
<path d="M464.5 505.3h-2.6" stroke="#262626" stroke-width="1" fill="none"/>
<text class="b s6" x="472.6" y="512.9" font-size="22.2" textLength="29.4" lengthAdjust="spacingAndGlyphs">10</text>
<path d="M464.5 548.3h-2.6" stroke="#262626" stroke-width="1" fill="none"/>
<text class="b s6" x="472.6" y="555.9" font-size="22.2" textLength="14.7" lengthAdjust="spacingAndGlyphs">5</text>
<path d="M464.5 592.3h-2.6" stroke="#262626" stroke-width="1" fill="none"/>
<text class="b s6" x="472.6" y="599.9" font-size="22.2" textLength="14.7" lengthAdjust="spacingAndGlyphs">0</text>
<path d="M464.5 636.3h-2.6" stroke="#262626" stroke-width="1" fill="none"/>
<text class="b s6" x="472.6" y="643.9" font-size="22.2" textLength="23.5" lengthAdjust="spacingAndGlyphs">-5</text>
<path d="M464.5 679.3h-2.6" stroke="#262626" stroke-width="1" fill="none"/>
<text class="b s6" x="472.6" y="686.9" font-size="22.2" textLength="38.2" lengthAdjust="spacingAndGlyphs">-10</text>
<text class="b" x="146.3" y="501.8" font-size="12.2" textLength="17.2" lengthAdjust="spacingAndGlyphs">48</text>
<ellipse cx="167.9" cy="488.3" rx="1.55" ry="1.1" fill="none" stroke="#262626" stroke-width="0.85"/>
<text class="b" x="176.0" y="501.8" font-size="12.2" textLength="9.3" lengthAdjust="spacingAndGlyphs">N</text>
<text class="b" x="146.3" y="520.4" font-size="12.2" textLength="17.2" lengthAdjust="spacingAndGlyphs">46</text>
<ellipse cx="167.9" cy="506.9" rx="1.55" ry="1.1" fill="none" stroke="#262626" stroke-width="0.85"/>
<text class="b" x="176.0" y="520.4" font-size="12.2" textLength="9.3" lengthAdjust="spacingAndGlyphs">N</text>
<text class="b" x="146.3" y="537.5" font-size="12.2" textLength="17.2" lengthAdjust="spacingAndGlyphs">44</text>
<ellipse cx="167.9" cy="524.0" rx="1.55" ry="1.1" fill="none" stroke="#262626" stroke-width="0.85"/>
<text class="b" x="176.0" y="537.5" font-size="12.2" textLength="9.3" lengthAdjust="spacingAndGlyphs">N</text>
<text class="b" x="146.3" y="556.0" font-size="12.2" textLength="17.2" lengthAdjust="spacingAndGlyphs">42</text>
<ellipse cx="167.9" cy="542.5" rx="1.55" ry="1.1" fill="none" stroke="#262626" stroke-width="0.85"/>
<text class="b" x="176.0" y="556.0" font-size="12.2" textLength="9.3" lengthAdjust="spacingAndGlyphs">N</text>
<text class="b" x="146.3" y="572.7" font-size="12.2" textLength="17.2" lengthAdjust="spacingAndGlyphs">40</text>
<ellipse cx="167.9" cy="559.2" rx="1.55" ry="1.1" fill="none" stroke="#262626" stroke-width="0.85"/>
<text class="b" x="176.0" y="572.7" font-size="12.2" textLength="9.3" lengthAdjust="spacingAndGlyphs">N</text>
<text class="b" x="146.3" y="587.6" font-size="12.2" textLength="17.2" lengthAdjust="spacingAndGlyphs">38</text>
<ellipse cx="167.9" cy="574.1" rx="1.55" ry="1.1" fill="none" stroke="#262626" stroke-width="0.85"/>
<text class="b" x="176.0" y="587.6" font-size="12.2" textLength="9.3" lengthAdjust="spacingAndGlyphs">N</text>
<text class="b" x="146.3" y="603.7" font-size="12.2" textLength="17.2" lengthAdjust="spacingAndGlyphs">36</text>
<ellipse cx="167.9" cy="590.2" rx="1.55" ry="1.1" fill="none" stroke="#262626" stroke-width="0.85"/>
<text class="b" x="176.0" y="603.7" font-size="12.2" textLength="9.3" lengthAdjust="spacingAndGlyphs">N</text>
<text class="b" x="146.3" y="618.7" font-size="12.2" textLength="17.2" lengthAdjust="spacingAndGlyphs">34</text>
<ellipse cx="167.9" cy="605.2" rx="1.55" ry="1.1" fill="none" stroke="#262626" stroke-width="0.85"/>
<text class="b" x="176.0" y="618.7" font-size="12.2" textLength="9.3" lengthAdjust="spacingAndGlyphs">N</text>
<text class="b" x="146.3" y="634.8" font-size="12.2" textLength="17.2" lengthAdjust="spacingAndGlyphs">32</text>
<ellipse cx="167.9" cy="621.3" rx="1.55" ry="1.1" fill="none" stroke="#262626" stroke-width="0.85"/>
<text class="b" x="176.0" y="634.8" font-size="12.2" textLength="9.3" lengthAdjust="spacingAndGlyphs">N</text>
<text class="b" x="146.3" y="649.8" font-size="12.2" textLength="17.2" lengthAdjust="spacingAndGlyphs">30</text>
<ellipse cx="167.9" cy="636.3" rx="1.55" ry="1.1" fill="none" stroke="#262626" stroke-width="0.85"/>
<text class="b" x="176.0" y="649.8" font-size="12.2" textLength="9.3" lengthAdjust="spacingAndGlyphs">N</text>
<text class="b" x="146.3" y="662.4" font-size="12.2" textLength="17.2" lengthAdjust="spacingAndGlyphs">28</text>
<ellipse cx="167.9" cy="648.9" rx="1.55" ry="1.1" fill="none" stroke="#262626" stroke-width="0.85"/>
<text class="b" x="176.0" y="662.4" font-size="12.2" textLength="9.3" lengthAdjust="spacingAndGlyphs">N</text>
<text class="b" x="146.3" y="676.6" font-size="12.2" textLength="17.2" lengthAdjust="spacingAndGlyphs">26</text>
<ellipse cx="167.9" cy="663.1" rx="1.55" ry="1.1" fill="none" stroke="#262626" stroke-width="0.85"/>
<text class="b" x="176.0" y="676.6" font-size="12.2" textLength="9.3" lengthAdjust="spacingAndGlyphs">N</text>
<text class="b" x="146.3" y="692.0" font-size="12.2" textLength="17.2" lengthAdjust="spacingAndGlyphs">24</text>
<ellipse cx="167.9" cy="678.5" rx="1.55" ry="1.1" fill="none" stroke="#262626" stroke-width="0.85"/>
<text class="b" x="176.0" y="692.0" font-size="12.2" textLength="9.3" lengthAdjust="spacingAndGlyphs">N</text>
<text class="b" x="146.3" y="703.8" font-size="12.2" textLength="17.2" lengthAdjust="spacingAndGlyphs">22</text>
<ellipse cx="167.9" cy="690.3" rx="1.55" ry="1.1" fill="none" stroke="#262626" stroke-width="0.85"/>
<text class="b" x="176.0" y="703.8" font-size="12.2" textLength="9.3" lengthAdjust="spacingAndGlyphs">N</text>
<text class="b" x="215.8" y="466.9" font-size="12.2" textLength="24.4" lengthAdjust="spacingAndGlyphs">100</text>
<ellipse cx="244.6" cy="454.3" rx="1.55" ry="1.1" fill="none" stroke="#262626" stroke-width="0.85"/>
<text class="b" x="252.8" y="466.9" font-size="12.2" textLength="13" lengthAdjust="spacingAndGlyphs">W</text>
<text class="b" x="284.6" y="466.9" font-size="12.2" textLength="15.7" lengthAdjust="spacingAndGlyphs">90</text>
<ellipse cx="304.7" cy="454.3" rx="1.55" ry="1.1" fill="none" stroke="#262626" stroke-width="0.85"/>
<text class="b" x="312.9" y="466.9" font-size="12.2" textLength="13" lengthAdjust="spacingAndGlyphs">W</text>
<text class="b" x="348.7" y="466.9" font-size="12.2" textLength="15.7" lengthAdjust="spacingAndGlyphs">80</text>
<ellipse cx="368.8" cy="454.3" rx="1.55" ry="1.1" fill="none" stroke="#262626" stroke-width="0.85"/>
<text class="b" x="377.0" y="466.9" font-size="12.2" textLength="13" lengthAdjust="spacingAndGlyphs">W</text>
<text class="b" x="412.0" y="466.9" font-size="12.2" textLength="15.7" lengthAdjust="spacingAndGlyphs">70</text>
<ellipse cx="432.1" cy="454.3" rx="1.55" ry="1.1" fill="none" stroke="#262626" stroke-width="0.85"/>
<text class="b" x="440.3" y="466.9" font-size="12.2" textLength="13" lengthAdjust="spacingAndGlyphs">W</text>
<rect x="616.5" y="486.5" width="234.0" height="213.0" fill="#fff" stroke="#262626" stroke-width="1"/>
<g transform="translate(616.5 486.5) scale(1.00000 1.00000)">
<g fill="none" stroke-width="8" stroke-linecap="round"><path d="M90.5 0.8h0M93.5 0.8h0M96.5 0.8h0M99.5 0.8h0M102.5 0.8h0M105.5 0.8h0M108.5 0.8h0M111.5 0.8h0M114.5 0.8h0M117.5 0.8h0M120.5 0.8h0M123.5 0.8h0M126.5 0.8h0M129.5 0.8h0M132.5 0.8h0M135.5 0.8h0M138.5 0.8h0M141.5 0.8h0M144.5 0.8h0M147.5 0.8h0M183.5 0.8h0M186.5 0.8h0M189.5 0.8h0M192.5 0.8h0M195.5 0.8h0M198.5 0.8h0M213.5 0.8h0M216.5 0.8h0M219.5 0.8h0M222.5 0.8h0M225.5 0.8h0M228.5 0.8h0M231.5 0.8h0M92 3.4h0M95 3.4h0M98 3.4h0M101 3.4h0M104 3.4h0M107 3.4h0M110 3.4h0M113 3.4h0M116 3.4h0M119 3.4h0M125 3.4h0M128 3.4h0M131 3.4h0M134 3.4h0M137 3.4h0M140 3.4h0M143 3.4h0M146 3.4h0M185 3.4h0M188 3.4h0M191 3.4h0M194 3.4h0M197 3.4h0M215 3.4h0M218 3.4h0M221 3.4h0M224 3.4h0M227 3.4h0M230 3.4h0M233 3.4h0M90.5 6h0M93.5 6h0M96.5 6h0M99.5 6h0M102.5 6h0M105.5 6h0M108.5 6h0M111.5 6h0M114.5 6h0M117.5 6h0M126.5 6h0M129.5 6h0M132.5 6h0M135.5 6h0M138.5 6h0M141.5 6h0M144.5 6h0M147.5 6h0M186.5 6h0M189.5 6h0M192.5 6h0M195.5 6h0M216.5 6h0M219.5 6h0M222.5 6h0M225.5 6h0M228.5 6h0M231.5 6h0M92 8.6h0M95 8.6h0M98 8.6h0M101 8.6h0M104 8.6h0M107 8.6h0M110 8.6h0M113 8.6h0M116 8.6h0M128 8.6h0M131 8.6h0M134 8.6h0M137 8.6h0M140 8.6h0M143 8.6h0M146 8.6h0M149 8.6h0M218 8.6h0M221 8.6h0M224 8.6h0M227 8.6h0M230 8.6h0M233 8.6h0M90.5 11.2h0M93.5 11.2h0M96.5 11.2h0M99.5 11.2h0M102.5 11.2h0M105.5 11.2h0M108.5 11.2h0M111.5 11.2h0M114.5 11.2h0M129.5 11.2h0M132.5 11.2h0M135.5 11.2h0M138.5 11.2h0M141.5 11.2h0M144.5 11.2h0M147.5 11.2h0M150.5 11.2h0M219.5 11.2h0M222.5 11.2h0M225.5 11.2h0M228.5 11.2h0M231.5 11.2h0M89 13.8h0M92 13.8h0M95 13.8h0M98 13.8h0M101 13.8h0M104 13.8h0M107 13.8h0M110 13.8h0M113 13.8h0M131 13.8h0M134 13.8h0M137 13.8h0M140 13.8h0M143 13.8h0M146 13.8h0M149 13.8h0M152 13.8h0M155 13.8h0M158 13.8h0M161 13.8h0M164 13.8h0M167 13.8h0M170 13.8h0M221 13.8h0M224 13.8h0M227 13.8h0M230 13.8h0M233 13.8h0M87.5 16.4h0M90.5 16.4h0M93.5 16.4h0M96.5 16.4h0M99.5 16.4h0M102.5 16.4h0M144.5 16.4h0M147.5 16.4h0M150.5 16.4h0M153.5 16.4h0M156.5 16.4h0M159.5 16.4h0M162.5 16.4h0M165.5 16.4h0M168.5 16.4h0M171.5 16.4h0M219.5 16.4h0M222.5 16.4h0M225.5 16.4h0M228.5 16.4h0M231.5 16.4h0M89 19h0M92 19h0M95 19h0M149 19h0M152 19h0M155 19h0M158 19h0M161 19h0M164 19h0M167 19h0M170 19h0M173 19h0M221 19h0M224 19h0M227 19h0M230 19h0M87.5 21.6h0M90.5 21.6h0M93.5 21.6h0M150.5 21.6h0M153.5 21.6h0M156.5 21.6h0M159.5 21.6h0M162.5 21.6h0M165.5 21.6h0M168.5 21.6h0M171.5 21.6h0M174.5 21.6h0M216.5 21.6h0M219.5 21.6h0M222.5 21.6h0M225.5 21.6h0M228.5 21.6h0M89 24.2h0M92 24.2h0M152 24.2h0M155 24.2h0M158 24.2h0M161 24.2h0M164 24.2h0M167 24.2h0M170 24.2h0M173 24.2h0M212 24.2h0M215 24.2h0M218 24.2h0M221 24.2h0M224 24.2h0M227 24.2h0M87.5 26.8h0M90.5 26.8h0M153.5 26.8h0M156.5 26.8h0M159.5 26.8h0M162.5 26.8h0M165.5 26.8h0M168.5 26.8h0M171.5 26.8h0M174.5 26.8h0M207.5 26.8h0M210.5 26.8h0M213.5 26.8h0M216.5 26.8h0M219.5 26.8h0M222.5 26.8h0M225.5 26.8h0M89 29.4h0M92 29.4h0M125 29.4h0M128 29.4h0M152 29.4h0M155 29.4h0M158 29.4h0M161 29.4h0M164 29.4h0M167 29.4h0M170 29.4h0M173 29.4h0M212 29.4h0M215 29.4h0M218 29.4h0M221 29.4h0M87.5 32h0M90.5 32h0M126.5 32h0M129.5 32h0M153.5 32h0M156.5 32h0M159.5 32h0M162.5 32h0M165.5 32h0M168.5 32h0M171.5 32h0M125 34.6h0M128 34.6h0M155 34.6h0M158 34.6h0M161 34.6h0M164 34.6h0M167 34.6h0M170 34.6h0M194 34.6h0M197 34.6h0M123.5 37.2h0M126.5 37.2h0M156.5 37.2h0M159.5 37.2h0M162.5 37.2h0M165.5 37.2h0M168.5 37.2h0M171.5 37.2h0M192.5 37.2h0M195.5 37.2h0M125 39.8h0M158 39.8h0M161 39.8h0M164 39.8h0M167 39.8h0M170 39.8h0M218 39.8h0M221 39.8h0M224 39.8h0M227 39.8h0M230 39.8h0M123.5 42.4h0M126.5 42.4h0M159.5 42.4h0M162.5 42.4h0M165.5 42.4h0M168.5 42.4h0M213.5 42.4h0M216.5 42.4h0M219.5 42.4h0M222.5 42.4h0M225.5 42.4h0M228.5 42.4h0M231.5 42.4h0M125 45h0M158 45h0M161 45h0M164 45h0M167 45h0M170 45h0M209 45h0M212 45h0M215 45h0M218 45h0M221 45h0M224 45h0M227 45h0M230 45h0M123.5 47.6h0M126.5 47.6h0M153.5 47.6h0M156.5 47.6h0M159.5 47.6h0M162.5 47.6h0M165.5 47.6h0M168.5 47.6h0M204.5 47.6h0M207.5 47.6h0M210.5 47.6h0M213.5 47.6h0M216.5 47.6h0M219.5 47.6h0M222.5 47.6h0M225.5 47.6h0M228.5 47.6h0M231.5 47.6h0M125 50.2h0M152 50.2h0M155 50.2h0M158 50.2h0M161 50.2h0M164 50.2h0M167 50.2h0M170 50.2h0M203 50.2h0M206 50.2h0M209 50.2h0M212 50.2h0M215 50.2h0M218 50.2h0M221 50.2h0M224 50.2h0M227 50.2h0M230 50.2h0M233 50.2h0M126.5 52.8h0M153.5 52.8h0M162.5 52.8h0M165.5 52.8h0M168.5 52.8h0M201.5 52.8h0M204.5 52.8h0M207.5 52.8h0M125 55.4h0M152 55.4h0M164 55.4h0M126.5 57.9h0M117.5 63.1h0M107 65.7h0M110 65.7h0M113 65.7h0M116 65.7h0M119 65.7h0M105.5 68.3h0M108.5 68.3h0M111.5 68.3h0M114.5 68.3h0M117.5 68.3h0M120.5 68.3h0M123.5 68.3h0M126.5 68.3h0M129.5 68.3h0M132.5 68.3h0M135.5 68.3h0M138.5 68.3h0M141.5 68.3h0M144.5 68.3h0M147.5 68.3h0M150.5 68.3h0M153.5 68.3h0M156.5 68.3h0M159.5 68.3h0M89 70.9h0M92 70.9h0M95 70.9h0M98 70.9h0M101 70.9h0M104 70.9h0M107 70.9h0M110 70.9h0M113 70.9h0M116 70.9h0M119 70.9h0M122 70.9h0M125 70.9h0M128 70.9h0M131 70.9h0M134 70.9h0M137 70.9h0M140 70.9h0M143 70.9h0M146 70.9h0M149 70.9h0M152 70.9h0M155 70.9h0M158 70.9h0M161 70.9h0M84.5 73.5h0M87.5 73.5h0M90.5 73.5h0M93.5 73.5h0M96.5 73.5h0M99.5 73.5h0M102.5 73.5h0M105.5 73.5h0M108.5 73.5h0M111.5 73.5h0M114.5 73.5h0M117.5 73.5h0M120.5 73.5h0M123.5 73.5h0M126.5 73.5h0M129.5 73.5h0M132.5 73.5h0M135.5 73.5h0M138.5 73.5h0M141.5 73.5h0M144.5 73.5h0M147.5 73.5h0M150.5 73.5h0M153.5 73.5h0M156.5 73.5h0M159.5 73.5h0M83 76.1h0M86 76.1h0M89 76.1h0M92 76.1h0M95 76.1h0M98 76.1h0M101 76.1h0M104 76.1h0M107 76.1h0M110 76.1h0M113 76.1h0M116 76.1h0M119 76.1h0M122 76.1h0M125 76.1h0M128 76.1h0M131 76.1h0M134 76.1h0M137 76.1h0M140 76.1h0M143 76.1h0M146 76.1h0M149 76.1h0M152 76.1h0M155 76.1h0M158 76.1h0M161 76.1h0M81.5 78.7h0M84.5 78.7h0M87.5 78.7h0M90.5 78.7h0M93.5 78.7h0M96.5 78.7h0M99.5 78.7h0M102.5 78.7h0M105.5 78.7h0M108.5 78.7h0M111.5 78.7h0M114.5 78.7h0M117.5 78.7h0M120.5 78.7h0M123.5 78.7h0M126.5 78.7h0M129.5 78.7h0M132.5 78.7h0M135.5 78.7h0M138.5 78.7h0M141.5 78.7h0M144.5 78.7h0M147.5 78.7h0M150.5 78.7h0M153.5 78.7h0M156.5 78.7h0M159.5 78.7h0M219.5 78.7h0M83 81.3h0M86 81.3h0M89 81.3h0M92 81.3h0M95 81.3h0M98 81.3h0M101 81.3h0M104 81.3h0M107 81.3h0M110 81.3h0M113 81.3h0M116 81.3h0M119 81.3h0M122 81.3h0M125 81.3h0M128 81.3h0M131 81.3h0M134 81.3h0M137 81.3h0M140 81.3h0M143 81.3h0M146 81.3h0M149 81.3h0M152 81.3h0M155 81.3h0M158 81.3h0M197 81.3h0M200 81.3h0M212 81.3h0M215 81.3h0M218 81.3h0M221 81.3h0M84.5 83.9h0M87.5 83.9h0M90.5 83.9h0M93.5 83.9h0M96.5 83.9h0M99.5 83.9h0M102.5 83.9h0M105.5 83.9h0M108.5 83.9h0M111.5 83.9h0M114.5 83.9h0M117.5 83.9h0M120.5 83.9h0M123.5 83.9h0M126.5 83.9h0M129.5 83.9h0M132.5 83.9h0M135.5 83.9h0M138.5 83.9h0M141.5 83.9h0M144.5 83.9h0M147.5 83.9h0M150.5 83.9h0M153.5 83.9h0M201.5 83.9h0M207.5 83.9h0M210.5 83.9h0M213.5 83.9h0M216.5 83.9h0M219.5 83.9h0M222.5 83.9h0M83 86.5h0M86 86.5h0M89 86.5h0M92 86.5h0M95 86.5h0M98 86.5h0M101 86.5h0M104 86.5h0M107 86.5h0M110 86.5h0M113 86.5h0M116 86.5h0M119 86.5h0M122 86.5h0M125 86.5h0M128 86.5h0M131 86.5h0M134 86.5h0M137 86.5h0M140 86.5h0M143 86.5h0M146 86.5h0M149 86.5h0M152 86.5h0M206 86.5h0M209 86.5h0M212 86.5h0M215 86.5h0M218 86.5h0M221 86.5h0M84.5 89.1h0M87.5 89.1h0M90.5 89.1h0M93.5 89.1h0M96.5 89.1h0M99.5 89.1h0M102.5 89.1h0M105.5 89.1h0M108.5 89.1h0M111.5 89.1h0M114.5 89.1h0M117.5 89.1h0M120.5 89.1h0M123.5 89.1h0M126.5 89.1h0M129.5 89.1h0M132.5 89.1h0M135.5 89.1h0M138.5 89.1h0M141.5 89.1h0M144.5 89.1h0M147.5 89.1h0M150.5 89.1h0M165.5 89.1h0M168.5 89.1h0M171.5 89.1h0M174.5 89.1h0M177.5 89.1h0M180.5 89.1h0M183.5 89.1h0M186.5 89.1h0M204.5 89.1h0M207.5 89.1h0M210.5 89.1h0M213.5 89.1h0M216.5 89.1h0M219.5 89.1h0M89 91.7h0M92 91.7h0M95 91.7h0M98 91.7h0M101 91.7h0M104 91.7h0M107 91.7h0M110 91.7h0M113 91.7h0M116 91.7h0M119 91.7h0M122 91.7h0M125 91.7h0M128 91.7h0M131 91.7h0M134 91.7h0M137 91.7h0M140 91.7h0M143 91.7h0M146 91.7h0M149 91.7h0M161 91.7h0M164 91.7h0M167 91.7h0M170 91.7h0M173 91.7h0M176 91.7h0M179 91.7h0M182 91.7h0M185 91.7h0M203 91.7h0M206 91.7h0M209 91.7h0M212 91.7h0M215 91.7h0M102.5 94.3h0M105.5 94.3h0M108.5 94.3h0M111.5 94.3h0M114.5 94.3h0M117.5 94.3h0M120.5 94.3h0M123.5 94.3h0M126.5 94.3h0M129.5 94.3h0M132.5 94.3h0M135.5 94.3h0M138.5 94.3h0M141.5 94.3h0M144.5 94.3h0M147.5 94.3h0M159.5 94.3h0M162.5 94.3h0M165.5 94.3h0M168.5 94.3h0M171.5 94.3h0M174.5 94.3h0M177.5 94.3h0M180.5 94.3h0M183.5 94.3h0M186.5 94.3h0M204.5 94.3h0M207.5 94.3h0M210.5 94.3h0M213.5 94.3h0M104 96.9h0M107 96.9h0M110 96.9h0M113 96.9h0M116 96.9h0M119 96.9h0M122 96.9h0M125 96.9h0M128 96.9h0M131 96.9h0M134 96.9h0M137 96.9h0M140 96.9h0M143 96.9h0M146 96.9h0M149 96.9h0M161 96.9h0M164 96.9h0M167 96.9h0M170 96.9h0M173 96.9h0M176 96.9h0M179 96.9h0M182 96.9h0M185 96.9h0M203 96.9h0M206 96.9h0M209 96.9h0M212 96.9h0M215 96.9h0M105.5 99.5h0M108.5 99.5h0M111.5 99.5h0M114.5 99.5h0M117.5 99.5h0M120.5 99.5h0M123.5 99.5h0M126.5 99.5h0M129.5 99.5h0M132.5 99.5h0M135.5 99.5h0M138.5 99.5h0M141.5 99.5h0M144.5 99.5h0M147.5 99.5h0M150.5 99.5h0M159.5 99.5h0M162.5 99.5h0M165.5 99.5h0M168.5 99.5h0M171.5 99.5h0M174.5 99.5h0M177.5 99.5h0M180.5 99.5h0M183.5 99.5h0M186.5 99.5h0M201.5 99.5h0M204.5 99.5h0M207.5 99.5h0M210.5 99.5h0M213.5 99.5h0M216.5 99.5h0M107 102.1h0M110 102.1h0M113 102.1h0M116 102.1h0M119 102.1h0M122 102.1h0M125 102.1h0M128 102.1h0M131 102.1h0M134 102.1h0M137 102.1h0M140 102.1h0M143 102.1h0M146 102.1h0M149 102.1h0M152 102.1h0M161 102.1h0M164 102.1h0M167 102.1h0M170 102.1h0M173 102.1h0M176 102.1h0M179 102.1h0M182 102.1h0M185 102.1h0M203 102.1h0M206 102.1h0M209 102.1h0M212 102.1h0M215 102.1h0M114.5 104.7h0M117.5 104.7h0M120.5 104.7h0M123.5 104.7h0M126.5 104.7h0M129.5 104.7h0M132.5 104.7h0M135.5 104.7h0M138.5 104.7h0M141.5 104.7h0M144.5 104.7h0M147.5 104.7h0M150.5 104.7h0M159.5 104.7h0M162.5 104.7h0M165.5 104.7h0M168.5 104.7h0M171.5 104.7h0M174.5 104.7h0M177.5 104.7h0M180.5 104.7h0M183.5 104.7h0M186.5 104.7h0M201.5 104.7h0M204.5 104.7h0M207.5 104.7h0M210.5 104.7h0M161 107.3h0M164 107.3h0M167 107.3h0M170 107.3h0M173 107.3h0M176 107.3h0M179 107.3h0M182 107.3h0M185 107.3h0M188 107.3h0M203 107.3h0M159.5 109.9h0M162.5 109.9h0M165.5 109.9h0M168.5 109.9h0M171.5 109.9h0M174.5 109.9h0M177.5 109.9h0M180.5 109.9h0M183.5 109.9h0M186.5 109.9h0M155 112.5h0M158 112.5h0M161 112.5h0M164 112.5h0M167 112.5h0M170 112.5h0M173 112.5h0M176 112.5h0M179 112.5h0M182 112.5h0M185 112.5h0M188 112.5h0M177.5 115.1h0M180.5 115.1h0M183.5 115.1h0M186.5 115.1h0M78.5 135.9h0M74 138.5h0M77 138.5h0M80 138.5h0M75.5 141.1h0M78.5 141.1h0M81.5 141.1h0M84.5 141.1h0M74 143.7h0M77 143.7h0M80 143.7h0M83 143.7h0M86 143.7h0M89 143.7h0M92 143.7h0M95 143.7h0M98 143.7h0M101 143.7h0M104 143.7h0M107 143.7h0M110 143.7h0M113 143.7h0M116 143.7h0M146 143.7h0M149 143.7h0M75.5 146.3h0M78.5 146.3h0M81.5 146.3h0M84.5 146.3h0M93.5 146.3h0M96.5 146.3h0M74 148.9h0M77 148.9h0M80 148.9h0M83 148.9h0M72.5 151.5h0M75.5 151.5h0M78.5 151.5h0M81.5 151.5h0M71 154.1h0M74 154.1h0M77 154.1h0M80 154.1h0M75.5 156.7h0M78.5 156.7h0M77 159.3h0M80 159.3h0M143 159.3h0M75.5 161.9h0M78.5 161.9h0M81.5 161.9h0M84.5 161.9h0M87.5 161.9h0M90.5 161.9h0M129.5 161.9h0M132.5 161.9h0M135.5 161.9h0M138.5 161.9h0M141.5 161.9h0M144.5 161.9h0M147.5 161.9h0M74 164.5h0M77 164.5h0M80 164.5h0M83 164.5h0M86 164.5h0M89 164.5h0M92 164.5h0M95 164.5h0M98 164.5h0M101 164.5h0M122 164.5h0M125 164.5h0M128 164.5h0M131 164.5h0M134 164.5h0M137 164.5h0M140 164.5h0M143 164.5h0M146 164.5h0M149 164.5h0M155 164.5h0M158 164.5h0M161 164.5h0M72.5 167.1h0M75.5 167.1h0M78.5 167.1h0M81.5 167.1h0M84.5 167.1h0M87.5 167.1h0M90.5 167.1h0M93.5 167.1h0M96.5 167.1h0M99.5 167.1h0M102.5 167.1h0M105.5 167.1h0M108.5 167.1h0M111.5 167.1h0M114.5 167.1h0M117.5 167.1h0M120.5 167.1h0M123.5 167.1h0M126.5 167.1h0M129.5 167.1h0M132.5 167.1h0M135.5 167.1h0M138.5 167.1h0M141.5 167.1h0M144.5 167.1h0M147.5 167.1h0M150.5 167.1h0M153.5 167.1h0M156.5 167.1h0M159.5 167.1h0M162.5 167.1h0M171.5 167.1h0M174.5 167.1h0M177.5 167.1h0M180.5 167.1h0M183.5 167.1h0M189.5 167.1h0M192.5 167.1h0M195.5 167.1h0M198.5 167.1h0M71 169.7h0M74 169.7h0M77 169.7h0M80 169.7h0M83 169.7h0M86 169.7h0M89 169.7h0M92 169.7h0M95 169.7h0M98 169.7h0M101 169.7h0M104 169.7h0M107 169.7h0M110 169.7h0M113 169.7h0M116 169.7h0M119 169.7h0M122 169.7h0M125 169.7h0M128 169.7h0M131 169.7h0M134 169.7h0M137 169.7h0M140 169.7h0M143 169.7h0M146 169.7h0M149 169.7h0M152 169.7h0M155 169.7h0M158 169.7h0M161 169.7h0M173 169.7h0M176 169.7h0M179 169.7h0M182 169.7h0M185 169.7h0M188 169.7h0M191 169.7h0M194 169.7h0M197 169.7h0M69.5 172.3h0M72.5 172.3h0M75.5 172.3h0M78.5 172.3h0M81.5 172.3h0M84.5 172.3h0M87.5 172.3h0M90.5 172.3h0M93.5 172.3h0M96.5 172.3h0M99.5 172.3h0M102.5 172.3h0M105.5 172.3h0M108.5 172.3h0M111.5 172.3h0M114.5 172.3h0M117.5 172.3h0M120.5 172.3h0M123.5 172.3h0M126.5 172.3h0M129.5 172.3h0M132.5 172.3h0M135.5 172.3h0M138.5 172.3h0M141.5 172.3h0M144.5 172.3h0M147.5 172.3h0M150.5 172.3h0M153.5 172.3h0M156.5 172.3h0M159.5 172.3h0M162.5 172.3h0M171.5 172.3h0M174.5 172.3h0M177.5 172.3h0M180.5 172.3h0M183.5 172.3h0M186.5 172.3h0M189.5 172.3h0M192.5 172.3h0M71 174.9h0M74 174.9h0M77 174.9h0M80 174.9h0M83 174.9h0M86 174.9h0M89 174.9h0M92 174.9h0M95 174.9h0M98 174.9h0M101 174.9h0M104 174.9h0M107 174.9h0M110 174.9h0M113 174.9h0M116 174.9h0M119 174.9h0M122 174.9h0M125 174.9h0M128 174.9h0M131 174.9h0M134 174.9h0M137 174.9h0M140 174.9h0M143 174.9h0M146 174.9h0M149 174.9h0M152 174.9h0M155 174.9h0M158 174.9h0M161 174.9h0M164 174.9h0M173 174.9h0M176 174.9h0M179 174.9h0M182 174.9h0M185 174.9h0M188 174.9h0M191 174.9h0M69.5 177.5h0M72.5 177.5h0M75.5 177.5h0M78.5 177.5h0M81.5 177.5h0M84.5 177.5h0M87.5 177.5h0M90.5 177.5h0M93.5 177.5h0M96.5 177.5h0M99.5 177.5h0M102.5 177.5h0M105.5 177.5h0M108.5 177.5h0M111.5 177.5h0M114.5 177.5h0M117.5 177.5h0M120.5 177.5h0M123.5 177.5h0M126.5 177.5h0M129.5 177.5h0M132.5 177.5h0M135.5 177.5h0M138.5 177.5h0M141.5 177.5h0M144.5 177.5h0M147.5 177.5h0M150.5 177.5h0M153.5 177.5h0M156.5 177.5h0M159.5 177.5h0M162.5 177.5h0M165.5 177.5h0M174.5 177.5h0M177.5 177.5h0M180.5 177.5h0M183.5 177.5h0M186.5 177.5h0M189.5 177.5h0M192.5 177.5h0M71 180.1h0M74 180.1h0M77 180.1h0M80 180.1h0M83 180.1h0M86 180.1h0M89 180.1h0M92 180.1h0M95 180.1h0M98 180.1h0M101 180.1h0M104 180.1h0M107 180.1h0M110 180.1h0M113 180.1h0M116 180.1h0M119 180.1h0M122 180.1h0M125 180.1h0M128 180.1h0M131 180.1h0M134 180.1h0M137 180.1h0M140 180.1h0M143 180.1h0M146 180.1h0M149 180.1h0M152 180.1h0M155 180.1h0M158 180.1h0M161 180.1h0M164 180.1h0M176 180.1h0M179 180.1h0M182 180.1h0M185 180.1h0M188 180.1h0M191 180.1h0M194 180.1h0M69.5 182.7h0M72.5 182.7h0M75.5 182.7h0M78.5 182.7h0M81.5 182.7h0M84.5 182.7h0M87.5 182.7h0M90.5 182.7h0M93.5 182.7h0M96.5 182.7h0M99.5 182.7h0M102.5 182.7h0M105.5 182.7h0M108.5 182.7h0M111.5 182.7h0M114.5 182.7h0M117.5 182.7h0M120.5 182.7h0M123.5 182.7h0M126.5 182.7h0M129.5 182.7h0M132.5 182.7h0M135.5 182.7h0M138.5 182.7h0M141.5 182.7h0M144.5 182.7h0M147.5 182.7h0M150.5 182.7h0M153.5 182.7h0M156.5 182.7h0M159.5 182.7h0M162.5 182.7h0M165.5 182.7h0M177.5 182.7h0M180.5 182.7h0M183.5 182.7h0M186.5 182.7h0M189.5 182.7h0M192.5 182.7h0M195.5 182.7h0M198.5 182.7h0M68 185.3h0M71 185.3h0M74 185.3h0M77 185.3h0M80 185.3h0M83 185.3h0M86 185.3h0M89 185.3h0M92 185.3h0M95 185.3h0M98 185.3h0M101 185.3h0M104 185.3h0M107 185.3h0M110 185.3h0M113 185.3h0M116 185.3h0M119 185.3h0M122 185.3h0M125 185.3h0M128 185.3h0M131 185.3h0M134 185.3h0M137 185.3h0M140 185.3h0M143 185.3h0M146 185.3h0M149 185.3h0M152 185.3h0M155 185.3h0M158 185.3h0M161 185.3h0M164 185.3h0M167 185.3h0M176 185.3h0M179 185.3h0M182 185.3h0M185 185.3h0M188 185.3h0M191 185.3h0M194 185.3h0M197 185.3h0M200 185.3h0M69.5 187.9h0M72.5 187.9h0M75.5 187.9h0M78.5 187.9h0M81.5 187.9h0M84.5 187.9h0M87.5 187.9h0M90.5 187.9h0M93.5 187.9h0M96.5 187.9h0M99.5 187.9h0M102.5 187.9h0M105.5 187.9h0M108.5 187.9h0M111.5 187.9h0M114.5 187.9h0M117.5 187.9h0M120.5 187.9h0M123.5 187.9h0M126.5 187.9h0M129.5 187.9h0M132.5 187.9h0M135.5 187.9h0M138.5 187.9h0M141.5 187.9h0M144.5 187.9h0M147.5 187.9h0M150.5 187.9h0M153.5 187.9h0M156.5 187.9h0M159.5 187.9h0M162.5 187.9h0M165.5 187.9h0M174.5 187.9h0M177.5 187.9h0M180.5 187.9h0M183.5 187.9h0M186.5 187.9h0M189.5 187.9h0M192.5 187.9h0M195.5 187.9h0M198.5 187.9h0M201.5 187.9h0M68 190.4h0M71 190.4h0M74 190.4h0M77 190.4h0M80 190.4h0M83 190.4h0M86 190.4h0M89 190.4h0M92 190.4h0M95 190.4h0M98 190.4h0M101 190.4h0M104 190.4h0M107 190.4h0M110 190.4h0M113 190.4h0M116 190.4h0M119 190.4h0M122 190.4h0M125 190.4h0M128 190.4h0M131 190.4h0M134 190.4h0M137 190.4h0M140 190.4h0M143 190.4h0M146 190.4h0M149 190.4h0M152 190.4h0M155 190.4h0M158 190.4h0M161 190.4h0M164 190.4h0M176 190.4h0M179 190.4h0M182 190.4h0M185 190.4h0M188 190.4h0M191 190.4h0M194 190.4h0M197 190.4h0M200 190.4h0M203 190.4h0M69.5 193h0M72.5 193h0M75.5 193h0M78.5 193h0M81.5 193h0M84.5 193h0M87.5 193h0M90.5 193h0M93.5 193h0M96.5 193h0M99.5 193h0M102.5 193h0M105.5 193h0M108.5 193h0M111.5 193h0M114.5 193h0M117.5 193h0M120.5 193h0M123.5 193h0M126.5 193h0M129.5 193h0M132.5 193h0M135.5 193h0M138.5 193h0M141.5 193h0M144.5 193h0M147.5 193h0M150.5 193h0M153.5 193h0M156.5 193h0M159.5 193h0M162.5 193h0M174.5 193h0M177.5 193h0M180.5 193h0M183.5 193h0M186.5 193h0M189.5 193h0M192.5 193h0M195.5 193h0M198.5 193h0M201.5 193h0M68 195.6h0M71 195.6h0M74 195.6h0M77 195.6h0M80 195.6h0M83 195.6h0M86 195.6h0M89 195.6h0M92 195.6h0M95 195.6h0M98 195.6h0M101 195.6h0M104 195.6h0M107 195.6h0M110 195.6h0M113 195.6h0M116 195.6h0M119 195.6h0M122 195.6h0M125 195.6h0M128 195.6h0M131 195.6h0M134 195.6h0M137 195.6h0M140 195.6h0M143 195.6h0M146 195.6h0M149 195.6h0M152 195.6h0M155 195.6h0M158 195.6h0M161 195.6h0M164 195.6h0M173 195.6h0M176 195.6h0M179 195.6h0M182 195.6h0M185 195.6h0M188 195.6h0M191 195.6h0M194 195.6h0M197 195.6h0M200 195.6h0M203 195.6h0M66.5 198.2h0M69.5 198.2h0M72.5 198.2h0M75.5 198.2h0M78.5 198.2h0M81.5 198.2h0M84.5 198.2h0M87.5 198.2h0M90.5 198.2h0M93.5 198.2h0M96.5 198.2h0M99.5 198.2h0M102.5 198.2h0M105.5 198.2h0M108.5 198.2h0M111.5 198.2h0M114.5 198.2h0M117.5 198.2h0M120.5 198.2h0M123.5 198.2h0M126.5 198.2h0M129.5 198.2h0M132.5 198.2h0M135.5 198.2h0M138.5 198.2h0M141.5 198.2h0M144.5 198.2h0M147.5 198.2h0M150.5 198.2h0M153.5 198.2h0M156.5 198.2h0M159.5 198.2h0M162.5 198.2h0M165.5 198.2h0M168.5 198.2h0M171.5 198.2h0M174.5 198.2h0M177.5 198.2h0M180.5 198.2h0M183.5 198.2h0M186.5 198.2h0M189.5 198.2h0M192.5 198.2h0M195.5 198.2h0M198.5 198.2h0M201.5 198.2h0M65 200.8h0M68 200.8h0M71 200.8h0M74 200.8h0M77 200.8h0M80 200.8h0M83 200.8h0M86 200.8h0M89 200.8h0M92 200.8h0M95 200.8h0M98 200.8h0M101 200.8h0M104 200.8h0M107 200.8h0M110 200.8h0M113 200.8h0M116 200.8h0M119 200.8h0M122 200.8h0M125 200.8h0M128 200.8h0M131 200.8h0M134 200.8h0M137 200.8h0M140 200.8h0M143 200.8h0M146 200.8h0M149 200.8h0M152 200.8h0M155 200.8h0M158 200.8h0M161 200.8h0M164 200.8h0M167 200.8h0M170 200.8h0M173 200.8h0M176 200.8h0M179 200.8h0M182 200.8h0M185 200.8h0M188 200.8h0M191 200.8h0M194 200.8h0M197 200.8h0M200 200.8h0M66.5 203.4h0M69.5 203.4h0M72.5 203.4h0M75.5 203.4h0M78.5 203.4h0M81.5 203.4h0M84.5 203.4h0M87.5 203.4h0M90.5 203.4h0M93.5 203.4h0M96.5 203.4h0M99.5 203.4h0M102.5 203.4h0M105.5 203.4h0M108.5 203.4h0M111.5 203.4h0M114.5 203.4h0M117.5 203.4h0M120.5 203.4h0M123.5 203.4h0M126.5 203.4h0M129.5 203.4h0M132.5 203.4h0M135.5 203.4h0M138.5 203.4h0M141.5 203.4h0M144.5 203.4h0M147.5 203.4h0M150.5 203.4h0M153.5 203.4h0M156.5 203.4h0M159.5 203.4h0M162.5 203.4h0M165.5 203.4h0M168.5 203.4h0M171.5 203.4h0M174.5 203.4h0M177.5 203.4h0M180.5 203.4h0M183.5 203.4h0M186.5 203.4h0M189.5 203.4h0M192.5 203.4h0M195.5 203.4h0M198.5 203.4h0M65 206h0M68 206h0M71 206h0M74 206h0M77 206h0M80 206h0M83 206h0M86 206h0M89 206h0M92 206h0M95 206h0M98 206h0M101 206h0M104 206h0M107 206h0M110 206h0M113 206h0M116 206h0M119 206h0M122 206h0M125 206h0M128 206h0M131 206h0M134 206h0M137 206h0M140 206h0M143 206h0M146 206h0M149 206h0M152 206h0M155 206h0M158 206h0M161 206h0M164 206h0M167 206h0M170 206h0M173 206h0M176 206h0M179 206h0M182 206h0M185 206h0M188 206h0M63.5 208.6h0M66.5 208.6h0M69.5 208.6h0M72.5 208.6h0M75.5 208.6h0M78.5 208.6h0M81.5 208.6h0M84.5 208.6h0M87.5 208.6h0M90.5 208.6h0M93.5 208.6h0M96.5 208.6h0M99.5 208.6h0M102.5 208.6h0M105.5 208.6h0M108.5 208.6h0M111.5 208.6h0M114.5 208.6h0M117.5 208.6h0M120.5 208.6h0M123.5 208.6h0M126.5 208.6h0M129.5 208.6h0M132.5 208.6h0M135.5 208.6h0M138.5 208.6h0M141.5 208.6h0M144.5 208.6h0M147.5 208.6h0M150.5 208.6h0M153.5 208.6h0M156.5 208.6h0M159.5 208.6h0M162.5 208.6h0M165.5 208.6h0M168.5 208.6h0M171.5 208.6h0M174.5 208.6h0M177.5 208.6h0M180.5 208.6h0M183.5 208.6h0M65 211.2h0M68 211.2h0M71 211.2h0M74 211.2h0M77 211.2h0M80 211.2h0M83 211.2h0M86 211.2h0M89 211.2h0M92 211.2h0M95 211.2h0M98 211.2h0M101 211.2h0M104 211.2h0M107 211.2h0M110 211.2h0M113 211.2h0M116 211.2h0M119 211.2h0M122 211.2h0M125 211.2h0M128 211.2h0M131 211.2h0M134 211.2h0M137 211.2h0M140 211.2h0M143 211.2h0M146 211.2h0M149 211.2h0M152 211.2h0M155 211.2h0M158 211.2h0M161 211.2h0M164 211.2h0M167 211.2h0M170 211.2h0M173 211.2h0M176 211.2h0M179 211.2h0M182 211.2h0" stroke="#80ff80"/></g><g fill="none" stroke-width="8" stroke-linecap="round"><path d="M114.2 46.5h0M115.9 54.2h0M90.1 58.0h0M95.2 62.1h0M100.0 63.7h0M110.8 45.1h0M185.5 59.1h0M188.9 70.2h0M193.0 73.0h0M196.4 75.9h0M203.8 73.0h0M190.3 67.5h0M235.7 47.2h0M127.8 109.6h0M145.5 108.9h0M155.0 109.2h0M123.7 123.5h0M129.8 122.1h0M118.3 134.0h0M157.7 121.8h0M154.3 119.8h0M145.7 146.7h0M90.1 154.0h0M95.2 155.1h0M99.3 155.8h0M207.2 165.9h0M209.3 171.0h0M207.9 177.5h0M191.6 167.3h0M184.8 212.1h0M179.4 206.7h0" stroke="#80ff80"/></g><g><ellipse cx="141.4" cy="154.4" rx="3.0" ry="1.4" transform="rotate(20 141.4 154.4)" fill="#fff000"/><ellipse cx="116.9" cy="135.4" rx="1.6" ry="1.1" transform="rotate(0 116.9 135.4)" fill="#1affe5"/><ellipse cx="190.3" cy="168.4" rx="3.5" ry="1.9" transform="rotate(0 190.3 168.4)" fill="#1affe5"/><ellipse cx="195.7" cy="167.3" rx="1.9" ry="1.4" transform="rotate(0 195.7 167.3)" fill="#00f0ff"/><ellipse cx="165.8" cy="182.2" rx="1.1" ry="1.1" transform="rotate(0 165.8 182.2)" fill="#ff1a00"/><ellipse cx="145.5" cy="208.0" rx="1.6" ry="1.4" transform="rotate(0 145.5 208.0)" fill="#e5ff1a"/><ellipse cx="149.5" cy="210.7" rx="1.6" ry="1.4" transform="rotate(0 149.5 210.7)" fill="#faff05"/><ellipse cx="141.4" cy="212.1" rx="1.9" ry="1.4" transform="rotate(0 141.4 212.1)" fill="#d1ff2e"/><ellipse cx="176.7" cy="212.1" rx="1.6" ry="1.4" transform="rotate(0 176.7 212.1)" fill="#d1ff2e"/><ellipse cx="130.5" cy="212.1" rx="1.4" ry="1.1" transform="rotate(0 130.5 212.1)" fill="#d1ff2e"/><ellipse cx="138.7" cy="157.1" rx="2.2" ry="1.0" transform="rotate(20 138.7 157.1)" fill="#e5ff1a"/></g>
<g clip-path="url(#mapclip)"><use href="#states"/></g>
</g>
<rect x="862.5" y="485.5" width="23.0" height="214.5" fill="url(#jet)" stroke="#262626" stroke-width="1"/>
<path d="M885.5 532.3h-2.6" stroke="#262626" stroke-width="1" fill="none"/>
<text class="b s6" x="893.6" y="539.9" font-size="22.2" textLength="44.1" lengthAdjust="spacingAndGlyphs">500</text>
<path d="M885.5 592.3h-2.6" stroke="#262626" stroke-width="1" fill="none"/>
<text class="b s6" x="893.6" y="599.9" font-size="22.2" textLength="14.7" lengthAdjust="spacingAndGlyphs">0</text>
<path d="M885.5 652.3h-2.6" stroke="#262626" stroke-width="1" fill="none"/>
<text class="b s6" x="893.6" y="659.9" font-size="22.2" textLength="53.0" lengthAdjust="spacingAndGlyphs">-500</text>
<text class="b" x="567.3" y="501.8" font-size="12.2" textLength="17.2" lengthAdjust="spacingAndGlyphs">48</text>
<ellipse cx="588.9" cy="488.3" rx="1.55" ry="1.1" fill="none" stroke="#262626" stroke-width="0.85"/>
<text class="b" x="597.0" y="501.8" font-size="12.2" textLength="9.3" lengthAdjust="spacingAndGlyphs">N</text>
<text class="b" x="567.3" y="520.4" font-size="12.2" textLength="17.2" lengthAdjust="spacingAndGlyphs">46</text>
<ellipse cx="588.9" cy="506.9" rx="1.55" ry="1.1" fill="none" stroke="#262626" stroke-width="0.85"/>
<text class="b" x="597.0" y="520.4" font-size="12.2" textLength="9.3" lengthAdjust="spacingAndGlyphs">N</text>
<text class="b" x="567.3" y="537.5" font-size="12.2" textLength="17.2" lengthAdjust="spacingAndGlyphs">44</text>
<ellipse cx="588.9" cy="524.0" rx="1.55" ry="1.1" fill="none" stroke="#262626" stroke-width="0.85"/>
<text class="b" x="597.0" y="537.5" font-size="12.2" textLength="9.3" lengthAdjust="spacingAndGlyphs">N</text>
<text class="b" x="567.3" y="556.0" font-size="12.2" textLength="17.2" lengthAdjust="spacingAndGlyphs">42</text>
<ellipse cx="588.9" cy="542.5" rx="1.55" ry="1.1" fill="none" stroke="#262626" stroke-width="0.85"/>
<text class="b" x="597.0" y="556.0" font-size="12.2" textLength="9.3" lengthAdjust="spacingAndGlyphs">N</text>
<text class="b" x="567.3" y="572.7" font-size="12.2" textLength="17.2" lengthAdjust="spacingAndGlyphs">40</text>
<ellipse cx="588.9" cy="559.2" rx="1.55" ry="1.1" fill="none" stroke="#262626" stroke-width="0.85"/>
<text class="b" x="597.0" y="572.7" font-size="12.2" textLength="9.3" lengthAdjust="spacingAndGlyphs">N</text>
<text class="b" x="567.3" y="587.6" font-size="12.2" textLength="17.2" lengthAdjust="spacingAndGlyphs">38</text>
<ellipse cx="588.9" cy="574.1" rx="1.55" ry="1.1" fill="none" stroke="#262626" stroke-width="0.85"/>
<text class="b" x="597.0" y="587.6" font-size="12.2" textLength="9.3" lengthAdjust="spacingAndGlyphs">N</text>
<text class="b" x="567.3" y="603.7" font-size="12.2" textLength="17.2" lengthAdjust="spacingAndGlyphs">36</text>
<ellipse cx="588.9" cy="590.2" rx="1.55" ry="1.1" fill="none" stroke="#262626" stroke-width="0.85"/>
<text class="b" x="597.0" y="603.7" font-size="12.2" textLength="9.3" lengthAdjust="spacingAndGlyphs">N</text>
<text class="b" x="567.3" y="618.7" font-size="12.2" textLength="17.2" lengthAdjust="spacingAndGlyphs">34</text>
<ellipse cx="588.9" cy="605.2" rx="1.55" ry="1.1" fill="none" stroke="#262626" stroke-width="0.85"/>
<text class="b" x="597.0" y="618.7" font-size="12.2" textLength="9.3" lengthAdjust="spacingAndGlyphs">N</text>
<text class="b" x="567.3" y="634.8" font-size="12.2" textLength="17.2" lengthAdjust="spacingAndGlyphs">32</text>
<ellipse cx="588.9" cy="621.3" rx="1.55" ry="1.1" fill="none" stroke="#262626" stroke-width="0.85"/>
<text class="b" x="597.0" y="634.8" font-size="12.2" textLength="9.3" lengthAdjust="spacingAndGlyphs">N</text>
<text class="b" x="567.3" y="649.8" font-size="12.2" textLength="17.2" lengthAdjust="spacingAndGlyphs">30</text>
<ellipse cx="588.9" cy="636.3" rx="1.55" ry="1.1" fill="none" stroke="#262626" stroke-width="0.85"/>
<text class="b" x="597.0" y="649.8" font-size="12.2" textLength="9.3" lengthAdjust="spacingAndGlyphs">N</text>
<text class="b" x="567.3" y="662.4" font-size="12.2" textLength="17.2" lengthAdjust="spacingAndGlyphs">28</text>
<ellipse cx="588.9" cy="648.9" rx="1.55" ry="1.1" fill="none" stroke="#262626" stroke-width="0.85"/>
<text class="b" x="597.0" y="662.4" font-size="12.2" textLength="9.3" lengthAdjust="spacingAndGlyphs">N</text>
<text class="b" x="567.3" y="676.6" font-size="12.2" textLength="17.2" lengthAdjust="spacingAndGlyphs">26</text>
<ellipse cx="588.9" cy="663.1" rx="1.55" ry="1.1" fill="none" stroke="#262626" stroke-width="0.85"/>
<text class="b" x="597.0" y="676.6" font-size="12.2" textLength="9.3" lengthAdjust="spacingAndGlyphs">N</text>
<text class="b" x="567.3" y="692.0" font-size="12.2" textLength="17.2" lengthAdjust="spacingAndGlyphs">24</text>
<ellipse cx="588.9" cy="678.5" rx="1.55" ry="1.1" fill="none" stroke="#262626" stroke-width="0.85"/>
<text class="b" x="597.0" y="692.0" font-size="12.2" textLength="9.3" lengthAdjust="spacingAndGlyphs">N</text>
<text class="b" x="567.3" y="703.8" font-size="12.2" textLength="17.2" lengthAdjust="spacingAndGlyphs">22</text>
<ellipse cx="588.9" cy="690.3" rx="1.55" ry="1.1" fill="none" stroke="#262626" stroke-width="0.85"/>
<text class="b" x="597.0" y="703.8" font-size="12.2" textLength="9.3" lengthAdjust="spacingAndGlyphs">N</text>
<text class="b" x="636.8" y="466.9" font-size="12.2" textLength="24.4" lengthAdjust="spacingAndGlyphs">100</text>
<ellipse cx="665.6" cy="454.3" rx="1.55" ry="1.1" fill="none" stroke="#262626" stroke-width="0.85"/>
<text class="b" x="673.8" y="466.9" font-size="12.2" textLength="13" lengthAdjust="spacingAndGlyphs">W</text>
<text class="b" x="705.6" y="466.9" font-size="12.2" textLength="15.7" lengthAdjust="spacingAndGlyphs">90</text>
<ellipse cx="725.7" cy="454.3" rx="1.55" ry="1.1" fill="none" stroke="#262626" stroke-width="0.85"/>
<text class="b" x="733.9" y="466.9" font-size="12.2" textLength="13" lengthAdjust="spacingAndGlyphs">W</text>
<text class="b" x="769.7" y="466.9" font-size="12.2" textLength="15.7" lengthAdjust="spacingAndGlyphs">80</text>
<ellipse cx="789.8" cy="454.3" rx="1.55" ry="1.1" fill="none" stroke="#262626" stroke-width="0.85"/>
<text class="b" x="798.0" y="466.9" font-size="12.2" textLength="13" lengthAdjust="spacingAndGlyphs">W</text>
<text class="b" x="833.0" y="466.9" font-size="12.2" textLength="15.7" lengthAdjust="spacingAndGlyphs">70</text>
<ellipse cx="853.1" cy="454.3" rx="1.55" ry="1.1" fill="none" stroke="#262626" stroke-width="0.85"/>
<text class="b" x="861.3" y="466.9" font-size="12.2" textLength="13" lengthAdjust="spacingAndGlyphs">W</text>
<rect x="1037.5" y="485.5" width="235.0" height="215.0" fill="#fff" stroke="#262626" stroke-width="1"/>
<g transform="translate(1037.5 485.5) scale(1.00427 1.00939)">
<g fill="none" stroke-width="8" stroke-linecap="round"><path d="M192.5 0.8h0M231.5 0.8h0M215 3.4h0M216.5 6h0M219.5 6h0" stroke="#10ffef"/><path d="M189.5 0.8h0M195.5 0.8h0M198.5 0.8h0M213.5 0.8h0M216.5 0.8h0M219.5 0.8h0M222.5 0.8h0M225.5 0.8h0M228.5 0.8h0M188 3.4h0M191 3.4h0M194 3.4h0M218 3.4h0M221 3.4h0M224 3.4h0M227 3.4h0M230 3.4h0M233 3.4h0M189.5 6h0M192.5 6h0M222.5 6h0M225.5 6h0M228.5 6h0M231.5 6h0M218 8.6h0M221 8.6h0M224 8.6h0M227 8.6h0M230 8.6h0M219.5 11.2h0M222.5 11.2h0M225.5 11.2h0M228.5 11.2h0M89 19h0" stroke="#20ffdf"/><path d="M90.5 0.8h0M93.5 0.8h0M96.5 0.8h0M99.5 0.8h0M102.5 0.8h0M183.5 0.8h0M186.5 0.8h0M92 3.4h0M95 3.4h0M98 3.4h0M101 3.4h0M185 3.4h0M197 3.4h0M90.5 6h0M93.5 6h0M96.5 6h0M99.5 6h0M102.5 6h0M186.5 6h0M195.5 6h0M233 8.6h0M231.5 11.2h0M89 13.8h0M92 13.8h0M221 13.8h0M224 13.8h0M227 13.8h0M230 13.8h0M233 13.8h0M87.5 16.4h0M90.5 16.4h0M219.5 16.4h0M222.5 16.4h0M225.5 16.4h0M228.5 16.4h0M231.5 16.4h0M92 19h0M221 19h0M224 19h0M227 19h0M230 19h0M87.5 21.6h0M90.5 21.6h0M216.5 21.6h0M219.5 21.6h0M222.5 21.6h0M89 24.2h0M212 24.2h0M215 24.2h0M218 24.2h0M221 24.2h0M87.5 26.8h0M90.5 26.8h0M87.5 32h0" stroke="#30ffcf"/><path d="M105.5 0.8h0M108.5 0.8h0M104 3.4h0M107 3.4h0M105.5 6h0M108.5 6h0M92 8.6h0M95 8.6h0M98 8.6h0M101 8.6h0M104 8.6h0M107 8.6h0M90.5 11.2h0M93.5 11.2h0M96.5 11.2h0M99.5 11.2h0M102.5 11.2h0M105.5 11.2h0M108.5 11.2h0M95 13.8h0M98 13.8h0M101 13.8h0M93.5 16.4h0M96.5 16.4h0M95 19h0M93.5 21.6h0M225.5 21.6h0M228.5 21.6h0M92 24.2h0M224 24.2h0M227 24.2h0M207.5 26.8h0M210.5 26.8h0M213.5 26.8h0M216.5 26.8h0M219.5 26.8h0M222.5 26.8h0M89 29.4h0M92 29.4h0M212 29.4h0M215 29.4h0M218 29.4h0M90.5 32h0" stroke="#40ffbf"/><path d="M111.5 0.8h0M114.5 0.8h0M117.5 0.8h0M120.5 0.8h0M123.5 0.8h0M126.5 0.8h0M129.5 0.8h0M132.5 0.8h0M135.5 0.8h0M141.5 0.8h0M144.5 0.8h0M147.5 0.8h0M110 3.4h0M113 3.4h0M111.5 6h0M110 8.6h0M113 8.6h0M111.5 11.2h0M104 13.8h0M107 13.8h0M110 13.8h0M99.5 16.4h0M102.5 16.4h0M225.5 26.8h0M221 29.4h0" stroke="#50ffaf"/><path d="M138.5 0.8h0M116 3.4h0M119 3.4h0M125 3.4h0M128 3.4h0M131 3.4h0M134 3.4h0M137 3.4h0M140 3.4h0M143 3.4h0M146 3.4h0M114.5 6h0M117.5 6h0M147.5 6h0M149 8.6h0M114.5 11.2h0M113 13.8h0M164 13.8h0M167 13.8h0M170 13.8h0M165.5 16.4h0M194 34.6h0M197 34.6h0M195.5 37.2h0" stroke="#60ff9f"/><path d="M126.5 6h0M129.5 6h0M132.5 6h0M135.5 6h0M138.5 6h0M141.5 6h0M144.5 6h0M116 8.6h0M140 8.6h0M146 8.6h0M147.5 11.2h0M150.5 11.2h0M158 13.8h0M161 13.8h0M159.5 16.4h0M162.5 16.4h0M168.5 16.4h0M171.5 16.4h0M158 19h0M161 19h0M164 19h0M167 19h0M170 19h0M173 19h0M159.5 21.6h0M165.5 21.6h0M168.5 21.6h0M171.5 21.6h0M174.5 21.6h0M167 24.2h0M173 24.2h0M174.5 26.8h0M192.5 37.2h0M218 39.8h0M221 39.8h0M224 39.8h0M227 39.8h0M230 39.8h0M213.5 42.4h0M216.5 42.4h0M219.5 42.4h0M222.5 42.4h0M209 45h0M212 45h0" stroke="#70ff8f"/><path d="M128 8.6h0M131 8.6h0M134 8.6h0M137 8.6h0M143 8.6h0M129.5 11.2h0M135.5 11.2h0M138.5 11.2h0M141.5 11.2h0M144.5 11.2h0M143 13.8h0M146 13.8h0M149 13.8h0M152 13.8h0M155 13.8h0M144.5 16.4h0M147.5 16.4h0M156.5 16.4h0M149 19h0M155 19h0M156.5 21.6h0M162.5 21.6h0M158 24.2h0M161 24.2h0M164 24.2h0M170 24.2h0M165.5 26.8h0M168.5 26.8h0M171.5 26.8h0M125 29.4h0M128 29.4h0M164 29.4h0M167 29.4h0M170 29.4h0M173 29.4h0M162.5 32h0M225.5 42.4h0M228.5 42.4h0M215 45h0M218 45h0M221 45h0M224 45h0M204.5 47.6h0M207.5 47.6h0M210.5 47.6h0M203 50.2h0M206 50.2h0M209 50.2h0M212 50.2h0" stroke="#80ff80"/><path d="M132.5 11.2h0M131 13.8h0M134 13.8h0M137 13.8h0M140 13.8h0M150.5 16.4h0M153.5 16.4h0M152 19h0M150.5 21.6h0M153.5 21.6h0M155 24.2h0M153.5 26.8h0M156.5 26.8h0M159.5 26.8h0M162.5 26.8h0M152 29.4h0M155 29.4h0M158 29.4h0M161 29.4h0M126.5 32h0M129.5 32h0M153.5 32h0M156.5 32h0M159.5 32h0M165.5 32h0M168.5 32h0M171.5 32h0M125 34.6h0M128 34.6h0M161 34.6h0M164 34.6h0M170 34.6h0M123.5 37.2h0M126.5 37.2h0M125 39.8h0M123.5 42.4h0M126.5 42.4h0M231.5 42.4h0M125 45h0M227 45h0M213.5 47.6h0M216.5 47.6h0M219.5 47.6h0M222.5 47.6h0M215 50.2h0M218 50.2h0M221 50.2h0M224 50.2h0M233 50.2h0M201.5 52.8h0M204.5 52.8h0M207.5 52.8h0" stroke="#8fff70"/><path d="M152 24.2h0M155 34.6h0M158 34.6h0M167 34.6h0M156.5 37.2h0M159.5 37.2h0M162.5 37.2h0M165.5 37.2h0M168.5 37.2h0M171.5 37.2h0M158 39.8h0M170 39.8h0M170 45h0M230 45h0M123.5 47.6h0M126.5 47.6h0M225.5 47.6h0M228.5 47.6h0M231.5 47.6h0M125 50.2h0M227 50.2h0M230 50.2h0M125 55.4h0" stroke="#9fff60"/><path d="M161 39.8h0M164 39.8h0M167 39.8h0M159.5 42.4h0M162.5 42.4h0M165.5 42.4h0M168.5 42.4h0M164 45h0M167 45h0M153.5 47.6h0M156.5 47.6h0M152 50.2h0M155 50.2h0M158 50.2h0M126.5 52.8h0M126.5 57.9h0" stroke="#afff50"/><path d="M158 45h0M161 45h0M159.5 47.6h0M162.5 47.6h0M165.5 47.6h0M168.5 47.6h0M161 50.2h0M164 50.2h0M167 50.2h0M170 50.2h0M153.5 52.8h0M162.5 52.8h0M165.5 52.8h0M168.5 52.8h0M164 55.4h0M117.5 63.1h0M107 65.7h0M110 65.7h0M113 65.7h0M116 65.7h0M89 70.9h0M92 70.9h0M95 70.9h0M98 70.9h0" stroke="#bfff40"/><path d="M152 55.4h0M119 65.7h0M105.5 68.3h0M108.5 68.3h0M111.5 68.3h0M114.5 68.3h0M117.5 68.3h0M129.5 68.3h0M101 70.9h0M84.5 73.5h0M87.5 73.5h0M90.5 73.5h0M93.5 73.5h0M96.5 73.5h0" stroke="#cfff30"/><path d="M120.5 68.3h0M123.5 68.3h0M126.5 68.3h0M132.5 68.3h0M135.5 68.3h0M138.5 68.3h0M144.5 68.3h0M147.5 68.3h0M159.5 68.3h0M104 70.9h0M107 70.9h0M110 70.9h0M113 70.9h0M116 70.9h0M119 70.9h0M122 70.9h0M125 70.9h0M128 70.9h0M131 70.9h0M99.5 73.5h0M102.5 73.5h0M83 76.1h0M86 76.1h0M89 76.1h0M92 76.1h0M95 76.1h0M98 76.1h0M219.5 78.7h0M197 81.3h0M200 81.3h0M215 81.3h0M201.5 83.9h0" stroke="#dfff20"/><path d="M141.5 68.3h0M150.5 68.3h0M153.5 68.3h0M156.5 68.3h0M134 70.9h0M137 70.9h0M143 70.9h0M146 70.9h0M155 70.9h0M158 70.9h0M161 70.9h0M105.5 73.5h0M108.5 73.5h0M111.5 73.5h0M114.5 73.5h0M117.5 73.5h0M120.5 73.5h0M123.5 73.5h0M101 76.1h0M104 76.1h0M107 76.1h0M110 76.1h0M119 76.1h0M81.5 78.7h0M87.5 78.7h0M90.5 78.7h0M93.5 78.7h0M96.5 78.7h0M99.5 78.7h0M102.5 78.7h0M105.5 78.7h0M108.5 78.7h0M101 81.3h0M212 81.3h0M218 81.3h0M221 81.3h0M207.5 83.9h0M210.5 83.9h0M213.5 83.9h0" stroke="#efff10"/><path d="M140 70.9h0M149 70.9h0M152 70.9h0M126.5 73.5h0M129.5 73.5h0M132.5 73.5h0M135.5 73.5h0M138.5 73.5h0M141.5 73.5h0M144.5 73.5h0M147.5 73.5h0M150.5 73.5h0M153.5 73.5h0M156.5 73.5h0M159.5 73.5h0M113 76.1h0M116 76.1h0M122 76.1h0M125 76.1h0M134 76.1h0M137 76.1h0M143 76.1h0M146 76.1h0M149 76.1h0M155 76.1h0M158 76.1h0M161 76.1h0M84.5 78.7h0M111.5 78.7h0M114.5 78.7h0M117.5 78.7h0M120.5 78.7h0M123.5 78.7h0M83 81.3h0M86 81.3h0M89 81.3h0M92 81.3h0M95 81.3h0M98 81.3h0M104 81.3h0M107 81.3h0M110 81.3h0M113 81.3h0M84.5 83.9h0M87.5 83.9h0M90.5 83.9h0M93.5 83.9h0M96.5 83.9h0M99.5 83.9h0M102.5 83.9h0M216.5 83.9h0M219.5 83.9h0M222.5 83.9h0M83 86.5h0M86 86.5h0M89 86.5h0M92 86.5h0M95 86.5h0M104 86.5h0M206 86.5h0M209 86.5h0M221 86.5h0M84.5 89.1h0M87.5 89.1h0M90.5 89.1h0M93.5 89.1h0M204.5 89.1h0M207.5 89.1h0" stroke="#ffff00"/><path d="M128 76.1h0M131 76.1h0M140 76.1h0M152 76.1h0M126.5 78.7h0M129.5 78.7h0M132.5 78.7h0M135.5 78.7h0M138.5 78.7h0M141.5 78.7h0M144.5 78.7h0M147.5 78.7h0M150.5 78.7h0M153.5 78.7h0M156.5 78.7h0M159.5 78.7h0M116 81.3h0M119 81.3h0M122 81.3h0M125 81.3h0M128 81.3h0M131 81.3h0M134 81.3h0M137 81.3h0M140 81.3h0M143 81.3h0M146 81.3h0M149 81.3h0M152 81.3h0M155 81.3h0M158 81.3h0M105.5 83.9h0M108.5 83.9h0M111.5 83.9h0M114.5 83.9h0M117.5 83.9h0M129.5 83.9h0M132.5 83.9h0M138.5 83.9h0M141.5 83.9h0M150.5 83.9h0M153.5 83.9h0M98 86.5h0M101 86.5h0M107 86.5h0M110 86.5h0M113 86.5h0M116 86.5h0M119 86.5h0M140 86.5h0M149 86.5h0M152 86.5h0M212 86.5h0M215 86.5h0M218 86.5h0M96.5 89.1h0M99.5 89.1h0M102.5 89.1h0M105.5 89.1h0M108.5 89.1h0M111.5 89.1h0M114.5 89.1h0M117.5 89.1h0M120.5 89.1h0M147.5 89.1h0M150.5 89.1h0M210.5 89.1h0M213.5 89.1h0M219.5 89.1h0M89 91.7h0M92 91.7h0M95 91.7h0M98 91.7h0M101 91.7h0M104 91.7h0M107 91.7h0M110 91.7h0M149 91.7h0M203 91.7h0M206 91.7h0M209 91.7h0M212 91.7h0M215 91.7h0M102.5 94.3h0M105.5 94.3h0M108.5 94.3h0M204.5 94.3h0M201.5 104.7h0M204.5 104.7h0M203 107.3h0M101 143.7h0M104 143.7h0M107 143.7h0M110 143.7h0M113 143.7h0M116 143.7h0" stroke="#ffef00"/><path d="M120.5 83.9h0M123.5 83.9h0M126.5 83.9h0M135.5 83.9h0M144.5 83.9h0M147.5 83.9h0M122 86.5h0M125 86.5h0M128 86.5h0M131 86.5h0M137 86.5h0M143 86.5h0M146 86.5h0M123.5 89.1h0M126.5 89.1h0M129.5 89.1h0M138.5 89.1h0M141.5 89.1h0M144.5 89.1h0M165.5 89.1h0M168.5 89.1h0M171.5 89.1h0M186.5 89.1h0M216.5 89.1h0M113 91.7h0M116 91.7h0M119 91.7h0M122 91.7h0M125 91.7h0M128 91.7h0M131 91.7h0M134 91.7h0M137 91.7h0M140 91.7h0M143 91.7h0M146 91.7h0M161 91.7h0M167 91.7h0M111.5 94.3h0M114.5 94.3h0M117.5 94.3h0M120.5 94.3h0M123.5 94.3h0M126.5 94.3h0M129.5 94.3h0M132.5 94.3h0M135.5 94.3h0M138.5 94.3h0M144.5 94.3h0M147.5 94.3h0M159.5 94.3h0M162.5 94.3h0M165.5 94.3h0M207.5 94.3h0M210.5 94.3h0M213.5 94.3h0M104 96.9h0M107 96.9h0M110 96.9h0M113 96.9h0M116 96.9h0M119 96.9h0M122 96.9h0M125 96.9h0M128 96.9h0M131 96.9h0M137 96.9h0M146 96.9h0M149 96.9h0M161 96.9h0M164 96.9h0M203 96.9h0M206 96.9h0M209 96.9h0M212 96.9h0M215 96.9h0M105.5 99.5h0M108.5 99.5h0M117.5 99.5h0M147.5 99.5h0M150.5 99.5h0M159.5 99.5h0M201.5 99.5h0M204.5 99.5h0M207.5 99.5h0M210.5 99.5h0M107 102.1h0M161 102.1h0M203 102.1h0M206 102.1h0M209 102.1h0M129.5 104.7h0M207.5 104.7h0M95 143.7h0M98 143.7h0" stroke="#ffdf00"/><path d="M134 86.5h0M132.5 89.1h0M135.5 89.1h0M174.5 89.1h0M177.5 89.1h0M180.5 89.1h0M183.5 89.1h0M164 91.7h0M170 91.7h0M173 91.7h0M185 91.7h0M141.5 94.3h0M168.5 94.3h0M171.5 94.3h0M186.5 94.3h0M134 96.9h0M140 96.9h0M143 96.9h0M167 96.9h0M170 96.9h0M185 96.9h0M111.5 99.5h0M114.5 99.5h0M120.5 99.5h0M123.5 99.5h0M126.5 99.5h0M129.5 99.5h0M132.5 99.5h0M135.5 99.5h0M138.5 99.5h0M144.5 99.5h0M162.5 99.5h0M165.5 99.5h0M168.5 99.5h0M186.5 99.5h0M213.5 99.5h0M110 102.1h0M113 102.1h0M116 102.1h0M119 102.1h0M122 102.1h0M125 102.1h0M128 102.1h0M131 102.1h0M134 102.1h0M137 102.1h0M146 102.1h0M149 102.1h0M152 102.1h0M164 102.1h0M167 102.1h0M170 102.1h0M212 102.1h0M114.5 104.7h0M117.5 104.7h0M120.5 104.7h0M123.5 104.7h0M126.5 104.7h0M132.5 104.7h0M135.5 104.7h0M138.5 104.7h0M141.5 104.7h0M144.5 104.7h0M147.5 104.7h0M150.5 104.7h0M159.5 104.7h0M162.5 104.7h0M165.5 104.7h0M210.5 104.7h0M161 107.3h0M164 107.3h0M188 107.3h0M159.5 109.9h0M165.5 109.9h0M168.5 109.9h0M180.5 109.9h0M183.5 109.9h0M155 112.5h0M179 112.5h0M182 112.5h0M185 112.5h0M188 112.5h0M177.5 115.1h0M180.5 115.1h0M186.5 115.1h0M78.5 135.9h0M89 143.7h0M92 143.7h0M146 143.7h0M149 143.7h0M93.5 146.3h0M96.5 146.3h0M77 154.1h0M75.5 156.7h0M78.5 156.7h0M77 159.3h0M74 164.5h0M75.5 167.1h0" stroke="#ffcf00"/><path d="M176 91.7h0M179 91.7h0M182 91.7h0M174.5 94.3h0M183.5 94.3h0M173 96.9h0M182 96.9h0M141.5 99.5h0M171.5 99.5h0M183.5 99.5h0M216.5 99.5h0M140 102.1h0M143 102.1h0M173 102.1h0M182 102.1h0M185 102.1h0M215 102.1h0M168.5 104.7h0M171.5 104.7h0M180.5 104.7h0M183.5 104.7h0M186.5 104.7h0M167 107.3h0M170 107.3h0M173 107.3h0M179 107.3h0M182 107.3h0M185 107.3h0M162.5 109.9h0M171.5 109.9h0M174.5 109.9h0M177.5 109.9h0M186.5 109.9h0M158 112.5h0M161 112.5h0M164 112.5h0M167 112.5h0M176 112.5h0M183.5 115.1h0M74 138.5h0M77 138.5h0M80 138.5h0M75.5 141.1h0M81.5 141.1h0M84.5 141.1h0M74 143.7h0M83 143.7h0M86 143.7h0M75.5 146.3h0M81.5 146.3h0M84.5 146.3h0M74 148.9h0M77 148.9h0M83 148.9h0M72.5 151.5h0M75.5 151.5h0M78.5 151.5h0M71 154.1h0M74 154.1h0M80 154.1h0M80 159.3h0M143 159.3h0M75.5 161.9h0M78.5 161.9h0M81.5 161.9h0M84.5 161.9h0M87.5 161.9h0M129.5 161.9h0M132.5 161.9h0M141.5 161.9h0M144.5 161.9h0M77 164.5h0M80 164.5h0M95 164.5h0M98 164.5h0M101 164.5h0M122 164.5h0M125 164.5h0M128 164.5h0M131 164.5h0M134 164.5h0M143 164.5h0M146 164.5h0M72.5 167.1h0M78.5 167.1h0M96.5 167.1h0M108.5 167.1h0M120.5 167.1h0M129.5 167.1h0M132.5 167.1h0M135.5 167.1h0M177.5 167.1h0M180.5 167.1h0M183.5 167.1h0M189.5 167.1h0M192.5 167.1h0M195.5 167.1h0M198.5 167.1h0M71 169.7h0M74 169.7h0M77 169.7h0M176 169.7h0M179 169.7h0M182 169.7h0M185 169.7h0M188 169.7h0M191 169.7h0M194 169.7h0M197 169.7h0M69.5 172.3h0M72.5 172.3h0M177.5 172.3h0M180.5 172.3h0M183.5 172.3h0M192.5 172.3h0M71 174.9h0M74 174.9h0M179 174.9h0M182 174.9h0M191 174.9h0M69.5 177.5h0M72.5 177.5h0M189.5 177.5h0M192.5 177.5h0M71 180.1h0M185 180.1h0M188 180.1h0M191 180.1h0M194 180.1h0M186.5 182.7h0M195.5 182.7h0M198.5 182.7h0M197 185.3h0M200 185.3h0M195.5 187.9h0M198.5 187.9h0M201.5 187.9h0M68 190.4h0M197 190.4h0M200 190.4h0M198.5 193h0" stroke="#ffbf00"/><path d="M177.5 94.3h0M180.5 94.3h0M176 96.9h0M179 96.9h0M174.5 99.5h0M177.5 99.5h0M180.5 99.5h0M176 102.1h0M179 102.1h0M174.5 104.7h0M177.5 104.7h0M176 107.3h0M170 112.5h0M173 112.5h0M78.5 141.1h0M77 143.7h0M80 143.7h0M78.5 146.3h0M80 148.9h0M81.5 151.5h0M90.5 161.9h0M135.5 161.9h0M138.5 161.9h0M147.5 161.9h0M83 164.5h0M86 164.5h0M89 164.5h0M92 164.5h0M137 164.5h0M140 164.5h0M149 164.5h0M158 164.5h0M161 164.5h0M81.5 167.1h0M87.5 167.1h0M90.5 167.1h0M93.5 167.1h0M99.5 167.1h0M102.5 167.1h0M105.5 167.1h0M111.5 167.1h0M114.5 167.1h0M117.5 167.1h0M123.5 167.1h0M126.5 167.1h0M138.5 167.1h0M141.5 167.1h0M159.5 167.1h0M171.5 167.1h0M174.5 167.1h0M80 169.7h0M89 169.7h0M92 169.7h0M95 169.7h0M98 169.7h0M101 169.7h0M104 169.7h0M107 169.7h0M110 169.7h0M113 169.7h0M116 169.7h0M119 169.7h0M122 169.7h0M125 169.7h0M128 169.7h0M131 169.7h0M134 169.7h0M137 169.7h0M140 169.7h0M161 169.7h0M173 169.7h0M75.5 172.3h0M78.5 172.3h0M93.5 172.3h0M96.5 172.3h0M99.5 172.3h0M102.5 172.3h0M111.5 172.3h0M114.5 172.3h0M117.5 172.3h0M120.5 172.3h0M123.5 172.3h0M126.5 172.3h0M129.5 172.3h0M132.5 172.3h0M135.5 172.3h0M138.5 172.3h0M171.5 172.3h0M174.5 172.3h0M186.5 172.3h0M189.5 172.3h0M77 174.9h0M80 174.9h0M92 174.9h0M95 174.9h0M98 174.9h0M101 174.9h0M116 174.9h0M119 174.9h0M122 174.9h0M125 174.9h0M128 174.9h0M131 174.9h0M134 174.9h0M137 174.9h0M140 174.9h0M176 174.9h0M185 174.9h0M188 174.9h0M75.5 177.5h0M78.5 177.5h0M90.5 177.5h0M93.5 177.5h0M96.5 177.5h0M99.5 177.5h0M102.5 177.5h0M117.5 177.5h0M120.5 177.5h0M123.5 177.5h0M126.5 177.5h0M129.5 177.5h0M132.5 177.5h0M135.5 177.5h0M177.5 177.5h0M180.5 177.5h0M183.5 177.5h0M186.5 177.5h0M74 180.1h0M77 180.1h0M92 180.1h0M95 180.1h0M98 180.1h0M101 180.1h0M116 180.1h0M125 180.1h0M131 180.1h0M134 180.1h0M176 180.1h0M179 180.1h0M182 180.1h0M69.5 182.7h0M72.5 182.7h0M75.5 182.7h0M78.5 182.7h0M81.5 182.7h0M84.5 182.7h0M87.5 182.7h0M96.5 182.7h0M180.5 182.7h0M183.5 182.7h0M189.5 182.7h0M192.5 182.7h0M68 185.3h0M71 185.3h0M74 185.3h0M77 185.3h0M80 185.3h0M83 185.3h0M110 185.3h0M125 185.3h0M137 185.3h0M185 185.3h0M188 185.3h0M191 185.3h0M194 185.3h0M69.5 187.9h0M72.5 187.9h0M75.5 187.9h0M78.5 187.9h0M81.5 187.9h0M114.5 187.9h0M117.5 187.9h0M120.5 187.9h0M123.5 187.9h0M126.5 187.9h0M135.5 187.9h0M138.5 187.9h0M189.5 187.9h0M192.5 187.9h0M71 190.4h0M119 190.4h0M191 190.4h0M194 190.4h0M203 190.4h0M69.5 193h0M72.5 193h0M114.5 193h0M117.5 193h0M120.5 193h0M189.5 193h0M192.5 193h0M195.5 193h0M201.5 193h0M68 195.6h0M71 195.6h0M116 195.6h0M188 195.6h0M191 195.6h0M194 195.6h0M197 195.6h0M203 195.6h0M66.5 198.2h0M69.5 198.2h0M189.5 198.2h0M192.5 198.2h0M195.5 198.2h0M198.5 198.2h0M201.5 198.2h0M65 200.8h0M68 200.8h0M71 200.8h0M194 200.8h0M197 200.8h0M200 200.8h0M66.5 203.4h0M69.5 203.4h0M75.5 203.4h0M78.5 203.4h0M81.5 203.4h0M84.5 203.4h0M65 206h0M77 206h0M80 206h0M83 206h0M63.5 208.6h0M66.5 208.6h0M69.5 208.6h0M75.5 208.6h0M78.5 208.6h0M65 211.2h0M68 211.2h0M77 211.2h0" stroke="#ffaf00"/><path d="M155 164.5h0M84.5 167.1h0M144.5 167.1h0M147.5 167.1h0M150.5 167.1h0M162.5 167.1h0M83 169.7h0M86 169.7h0M143 169.7h0M146 169.7h0M149 169.7h0M158 169.7h0M81.5 172.3h0M84.5 172.3h0M87.5 172.3h0M90.5 172.3h0M105.5 172.3h0M108.5 172.3h0M141.5 172.3h0M144.5 172.3h0M147.5 172.3h0M150.5 172.3h0M156.5 172.3h0M159.5 172.3h0M162.5 172.3h0M83 174.9h0M86 174.9h0M89 174.9h0M104 174.9h0M107 174.9h0M110 174.9h0M113 174.9h0M143 174.9h0M152 174.9h0M155 174.9h0M173 174.9h0M81.5 177.5h0M84.5 177.5h0M87.5 177.5h0M105.5 177.5h0M108.5 177.5h0M111.5 177.5h0M114.5 177.5h0M138.5 177.5h0M141.5 177.5h0M144.5 177.5h0M174.5 177.5h0M80 180.1h0M83 180.1h0M86 180.1h0M89 180.1h0M104 180.1h0M107 180.1h0M110 180.1h0M113 180.1h0M119 180.1h0M122 180.1h0M128 180.1h0M137 180.1h0M140 180.1h0M143 180.1h0M158 180.1h0M90.5 182.7h0M93.5 182.7h0M99.5 182.7h0M102.5 182.7h0M105.5 182.7h0M108.5 182.7h0M111.5 182.7h0M114.5 182.7h0M117.5 182.7h0M120.5 182.7h0M123.5 182.7h0M126.5 182.7h0M129.5 182.7h0M132.5 182.7h0M135.5 182.7h0M138.5 182.7h0M141.5 182.7h0M144.5 182.7h0M159.5 182.7h0M162.5 182.7h0M165.5 182.7h0M177.5 182.7h0M86 185.3h0M89 185.3h0M92 185.3h0M95 185.3h0M98 185.3h0M101 185.3h0M104 185.3h0M107 185.3h0M113 185.3h0M116 185.3h0M119 185.3h0M122 185.3h0M128 185.3h0M131 185.3h0M134 185.3h0M140 185.3h0M143 185.3h0M146 185.3h0M149 185.3h0M152 185.3h0M161 185.3h0M164 185.3h0M167 185.3h0M176 185.3h0M179 185.3h0M182 185.3h0M84.5 187.9h0M87.5 187.9h0M90.5 187.9h0M93.5 187.9h0M96.5 187.9h0M99.5 187.9h0M102.5 187.9h0M105.5 187.9h0M108.5 187.9h0M111.5 187.9h0M129.5 187.9h0M132.5 187.9h0M141.5 187.9h0M144.5 187.9h0M147.5 187.9h0M150.5 187.9h0M162.5 187.9h0M174.5 187.9h0M177.5 187.9h0M180.5 187.9h0M183.5 187.9h0M186.5 187.9h0M74 190.4h0M77 190.4h0M80 190.4h0M83 190.4h0M86 190.4h0M89 190.4h0M95 190.4h0M98 190.4h0M101 190.4h0M110 190.4h0M113 190.4h0M116 190.4h0M122 190.4h0M125 190.4h0M128 190.4h0M131 190.4h0M134 190.4h0M137 190.4h0M140 190.4h0M143 190.4h0M146 190.4h0M149 190.4h0M152 190.4h0M179 190.4h0M182 190.4h0M185 190.4h0M188 190.4h0M75.5 193h0M78.5 193h0M81.5 193h0M84.5 193h0M87.5 193h0M102.5 193h0M108.5 193h0M111.5 193h0M123.5 193h0M126.5 193h0M135.5 193h0M138.5 193h0M141.5 193h0M144.5 193h0M180.5 193h0M183.5 193h0M186.5 193h0M74 195.6h0M77 195.6h0M80 195.6h0M83 195.6h0M86 195.6h0M98 195.6h0M101 195.6h0M104 195.6h0M107 195.6h0M113 195.6h0M119 195.6h0M134 195.6h0M140 195.6h0M179 195.6h0M182 195.6h0M185 195.6h0M200 195.6h0M72.5 198.2h0M75.5 198.2h0M78.5 198.2h0M81.5 198.2h0M84.5 198.2h0M87.5 198.2h0M96.5 198.2h0M99.5 198.2h0M102.5 198.2h0M105.5 198.2h0M108.5 198.2h0M111.5 198.2h0M114.5 198.2h0M117.5 198.2h0M120.5 198.2h0M132.5 198.2h0M147.5 198.2h0M186.5 198.2h0M74 200.8h0M77 200.8h0M80 200.8h0M83 200.8h0M86 200.8h0M89 200.8h0M92 200.8h0M95 200.8h0M98 200.8h0M101 200.8h0M110 200.8h0M113 200.8h0M116 200.8h0M125 200.8h0M128 200.8h0M131 200.8h0M188 200.8h0M191 200.8h0M72.5 203.4h0M87.5 203.4h0M90.5 203.4h0M93.5 203.4h0M96.5 203.4h0M99.5 203.4h0M102.5 203.4h0M108.5 203.4h0M111.5 203.4h0M114.5 203.4h0M117.5 203.4h0M123.5 203.4h0M126.5 203.4h0M129.5 203.4h0M132.5 203.4h0M189.5 203.4h0M192.5 203.4h0M195.5 203.4h0M198.5 203.4h0M68 206h0M71 206h0M74 206h0M86 206h0M89 206h0M92 206h0M95 206h0M98 206h0M101 206h0M110 206h0M113 206h0M116 206h0M119 206h0M125 206h0M128 206h0M131 206h0M72.5 208.6h0M81.5 208.6h0M84.5 208.6h0M87.5 208.6h0M90.5 208.6h0M93.5 208.6h0M96.5 208.6h0M99.5 208.6h0M102.5 208.6h0M108.5 208.6h0M111.5 208.6h0M114.5 208.6h0M117.5 208.6h0M120.5 208.6h0M123.5 208.6h0M126.5 208.6h0M129.5 208.6h0M71 211.2h0M74 211.2h0M80 211.2h0M83 211.2h0M89 211.2h0M92 211.2h0M95 211.2h0M107 211.2h0M110 211.2h0M113 211.2h0M116 211.2h0M119 211.2h0M122 211.2h0M128 211.2h0M131 211.2h0" stroke="#ff9f00"/><path d="M153.5 167.1h0M156.5 167.1h0M152 169.7h0M155 169.7h0M153.5 172.3h0M146 174.9h0M149 174.9h0M158 174.9h0M161 174.9h0M164 174.9h0M147.5 177.5h0M150.5 177.5h0M153.5 177.5h0M156.5 177.5h0M159.5 177.5h0M162.5 177.5h0M165.5 177.5h0M146 180.1h0M149 180.1h0M152 180.1h0M155 180.1h0M161 180.1h0M164 180.1h0M147.5 182.7h0M150.5 182.7h0M153.5 182.7h0M156.5 182.7h0M155 185.3h0M158 185.3h0M153.5 187.9h0M156.5 187.9h0M159.5 187.9h0M165.5 187.9h0M92 190.4h0M104 190.4h0M107 190.4h0M155 190.4h0M158 190.4h0M161 190.4h0M164 190.4h0M176 190.4h0M90.5 193h0M93.5 193h0M96.5 193h0M99.5 193h0M105.5 193h0M129.5 193h0M132.5 193h0M147.5 193h0M150.5 193h0M153.5 193h0M156.5 193h0M159.5 193h0M162.5 193h0M174.5 193h0M177.5 193h0M89 195.6h0M92 195.6h0M95 195.6h0M110 195.6h0M122 195.6h0M125 195.6h0M128 195.6h0M131 195.6h0M137 195.6h0M143 195.6h0M146 195.6h0M149 195.6h0M158 195.6h0M173 195.6h0M176 195.6h0M90.5 198.2h0M93.5 198.2h0M123.5 198.2h0M126.5 198.2h0M129.5 198.2h0M135.5 198.2h0M138.5 198.2h0M141.5 198.2h0M144.5 198.2h0M150.5 198.2h0M156.5 198.2h0M171.5 198.2h0M174.5 198.2h0M177.5 198.2h0M180.5 198.2h0M183.5 198.2h0M104 200.8h0M107 200.8h0M119 200.8h0M122 200.8h0M134 200.8h0M137 200.8h0M140 200.8h0M143 200.8h0M146 200.8h0M149 200.8h0M155 200.8h0M170 200.8h0M173 200.8h0M176 200.8h0M179 200.8h0M182 200.8h0M185 200.8h0M105.5 203.4h0M120.5 203.4h0M135.5 203.4h0M138.5 203.4h0M141.5 203.4h0M144.5 203.4h0M147.5 203.4h0M156.5 203.4h0M171.5 203.4h0M174.5 203.4h0M177.5 203.4h0M180.5 203.4h0M183.5 203.4h0M186.5 203.4h0M104 206h0M107 206h0M122 206h0M134 206h0M137 206h0M140 206h0M143 206h0M173 206h0M176 206h0M179 206h0M182 206h0M185 206h0M188 206h0M105.5 208.6h0M132.5 208.6h0M135.5 208.6h0M138.5 208.6h0M141.5 208.6h0M144.5 208.6h0M171.5 208.6h0M180.5 208.6h0M183.5 208.6h0M86 211.2h0M98 211.2h0M101 211.2h0M104 211.2h0M125 211.2h0M134 211.2h0M137 211.2h0M140 211.2h0M143 211.2h0M146 211.2h0M179 211.2h0M182 211.2h0" stroke="#ff8f00"/><path d="M152 195.6h0M155 195.6h0M161 195.6h0M164 195.6h0M153.5 198.2h0M159.5 198.2h0M162.5 198.2h0M165.5 198.2h0M168.5 198.2h0M152 200.8h0M158 200.8h0M161 200.8h0M164 200.8h0M167 200.8h0M150.5 203.4h0M153.5 203.4h0M159.5 203.4h0M162.5 203.4h0M165.5 203.4h0M168.5 203.4h0M146 206h0M149 206h0M152 206h0M155 206h0M158 206h0M161 206h0M164 206h0M167 206h0M170 206h0M147.5 208.6h0M150.5 208.6h0M153.5 208.6h0M156.5 208.6h0M159.5 208.6h0M162.5 208.6h0M165.5 208.6h0M168.5 208.6h0M174.5 208.6h0M177.5 208.6h0M149 211.2h0M152 211.2h0M155 211.2h0M164 211.2h0M167 211.2h0M170 211.2h0M173 211.2h0M176 211.2h0" stroke="#ff8000"/><path d="M158 211.2h0M161 211.2h0" stroke="#ff7000"/></g><g fill="none" stroke-width="8" stroke-linecap="round"><path d="M114.2 46.5h0M110.8 45.1h0" stroke="#80ff80"/><path d="M115.9 54.2h0M90.1 58.0h0M235.7 47.2h0" stroke="#8fff70"/><path d="M95.2 62.1h0M100.0 63.7h0" stroke="#9fff60"/><path d="M185.5 59.1h0" stroke="#afff50"/><path d="M203.8 73.0h0" stroke="#bfff40"/><path d="M193.0 73.0h0M196.4 75.9h0M190.3 67.5h0" stroke="#cfff30"/><path d="M188.9 70.2h0" stroke="#dfff20"/><path d="M118.3 134.0h0" stroke="#ffdf00"/><path d="M127.8 109.6h0M145.5 108.9h0M155.0 109.2h0M95.2 155.1h0M99.3 155.8h0M207.9 177.5h0" stroke="#ffcf00"/><path d="M123.7 123.5h0M129.8 122.1h0M157.7 121.8h0M154.3 119.8h0M145.7 146.7h0M90.1 154.0h0M207.2 165.9h0M209.3 171.0h0M191.6 167.3h0" stroke="#ffbf00"/><path d="M184.8 212.1h0M179.4 206.7h0" stroke="#ff8f00"/></g>
<g clip-path="url(#mapclip)"><use href="#states"/></g>
</g>
<rect x="1285.5" y="485.5" width="23.0" height="214.5" fill="url(#jet)" stroke="#262626" stroke-width="1"/>
<path d="M1308.5 541.3h-2.6" stroke="#262626" stroke-width="1" fill="none"/>
<text class="b s6" x="1316.6" y="548.9" font-size="22.2" textLength="44.1" lengthAdjust="spacingAndGlyphs">300</text>
<path d="M1308.5 617.3h-2.6" stroke="#262626" stroke-width="1" fill="none"/>
<text class="b s6" x="1316.6" y="624.9" font-size="22.2" textLength="44.1" lengthAdjust="spacingAndGlyphs">250</text>
<path d="M1308.5 693.3h-2.6" stroke="#262626" stroke-width="1" fill="none"/>
<text class="b s6" x="1316.6" y="700.9" font-size="22.2" textLength="44.1" lengthAdjust="spacingAndGlyphs">200</text>
<text class="b" x="988.3" y="501.8" font-size="12.2" textLength="17.2" lengthAdjust="spacingAndGlyphs">48</text>
<ellipse cx="1009.9" cy="488.3" rx="1.55" ry="1.1" fill="none" stroke="#262626" stroke-width="0.85"/>
<text class="b" x="1018.0" y="501.8" font-size="12.2" textLength="9.3" lengthAdjust="spacingAndGlyphs">N</text>
<text class="b" x="988.3" y="520.4" font-size="12.2" textLength="17.2" lengthAdjust="spacingAndGlyphs">46</text>
<ellipse cx="1009.9" cy="506.9" rx="1.55" ry="1.1" fill="none" stroke="#262626" stroke-width="0.85"/>
<text class="b" x="1018.0" y="520.4" font-size="12.2" textLength="9.3" lengthAdjust="spacingAndGlyphs">N</text>
<text class="b" x="988.3" y="537.5" font-size="12.2" textLength="17.2" lengthAdjust="spacingAndGlyphs">44</text>
<ellipse cx="1009.9" cy="524.0" rx="1.55" ry="1.1" fill="none" stroke="#262626" stroke-width="0.85"/>
<text class="b" x="1018.0" y="537.5" font-size="12.2" textLength="9.3" lengthAdjust="spacingAndGlyphs">N</text>
<text class="b" x="988.3" y="556.0" font-size="12.2" textLength="17.2" lengthAdjust="spacingAndGlyphs">42</text>
<ellipse cx="1009.9" cy="542.5" rx="1.55" ry="1.1" fill="none" stroke="#262626" stroke-width="0.85"/>
<text class="b" x="1018.0" y="556.0" font-size="12.2" textLength="9.3" lengthAdjust="spacingAndGlyphs">N</text>
<text class="b" x="988.3" y="572.7" font-size="12.2" textLength="17.2" lengthAdjust="spacingAndGlyphs">40</text>
<ellipse cx="1009.9" cy="559.2" rx="1.55" ry="1.1" fill="none" stroke="#262626" stroke-width="0.85"/>
<text class="b" x="1018.0" y="572.7" font-size="12.2" textLength="9.3" lengthAdjust="spacingAndGlyphs">N</text>
<text class="b" x="988.3" y="587.6" font-size="12.2" textLength="17.2" lengthAdjust="spacingAndGlyphs">38</text>
<ellipse cx="1009.9" cy="574.1" rx="1.55" ry="1.1" fill="none" stroke="#262626" stroke-width="0.85"/>
<text class="b" x="1018.0" y="587.6" font-size="12.2" textLength="9.3" lengthAdjust="spacingAndGlyphs">N</text>
<text class="b" x="988.3" y="603.7" font-size="12.2" textLength="17.2" lengthAdjust="spacingAndGlyphs">36</text>
<ellipse cx="1009.9" cy="590.2" rx="1.55" ry="1.1" fill="none" stroke="#262626" stroke-width="0.85"/>
<text class="b" x="1018.0" y="603.7" font-size="12.2" textLength="9.3" lengthAdjust="spacingAndGlyphs">N</text>
<text class="b" x="988.3" y="618.7" font-size="12.2" textLength="17.2" lengthAdjust="spacingAndGlyphs">34</text>
<ellipse cx="1009.9" cy="605.2" rx="1.55" ry="1.1" fill="none" stroke="#262626" stroke-width="0.85"/>
<text class="b" x="1018.0" y="618.7" font-size="12.2" textLength="9.3" lengthAdjust="spacingAndGlyphs">N</text>
<text class="b" x="988.3" y="634.8" font-size="12.2" textLength="17.2" lengthAdjust="spacingAndGlyphs">32</text>
<ellipse cx="1009.9" cy="621.3" rx="1.55" ry="1.1" fill="none" stroke="#262626" stroke-width="0.85"/>
<text class="b" x="1018.0" y="634.8" font-size="12.2" textLength="9.3" lengthAdjust="spacingAndGlyphs">N</text>
<text class="b" x="988.3" y="649.8" font-size="12.2" textLength="17.2" lengthAdjust="spacingAndGlyphs">30</text>
<ellipse cx="1009.9" cy="636.3" rx="1.55" ry="1.1" fill="none" stroke="#262626" stroke-width="0.85"/>
<text class="b" x="1018.0" y="649.8" font-size="12.2" textLength="9.3" lengthAdjust="spacingAndGlyphs">N</text>
<text class="b" x="988.3" y="664.5" font-size="12.2" textLength="17.2" lengthAdjust="spacingAndGlyphs">28</text>
<ellipse cx="1009.9" cy="651.0" rx="1.55" ry="1.1" fill="none" stroke="#262626" stroke-width="0.85"/>
<text class="b" x="1018.0" y="664.5" font-size="12.2" textLength="9.3" lengthAdjust="spacingAndGlyphs">N</text>
<text class="b" x="988.3" y="678.4" font-size="12.2" textLength="17.2" lengthAdjust="spacingAndGlyphs">26</text>
<ellipse cx="1009.9" cy="664.9" rx="1.55" ry="1.1" fill="none" stroke="#262626" stroke-width="0.85"/>
<text class="b" x="1018.0" y="678.4" font-size="12.2" textLength="9.3" lengthAdjust="spacingAndGlyphs">N</text>
<text class="b" x="988.3" y="692.0" font-size="12.2" textLength="17.2" lengthAdjust="spacingAndGlyphs">24</text>
<ellipse cx="1009.9" cy="678.5" rx="1.55" ry="1.1" fill="none" stroke="#262626" stroke-width="0.85"/>
<text class="b" x="1018.0" y="692.0" font-size="12.2" textLength="9.3" lengthAdjust="spacingAndGlyphs">N</text>
<text class="b" x="988.3" y="706.2" font-size="12.2" textLength="17.2" lengthAdjust="spacingAndGlyphs">22</text>
<ellipse cx="1009.9" cy="692.7" rx="1.55" ry="1.1" fill="none" stroke="#262626" stroke-width="0.85"/>
<text class="b" x="1018.0" y="706.2" font-size="12.2" textLength="9.3" lengthAdjust="spacingAndGlyphs">N</text>
<text class="b" x="1059.8" y="464.6" font-size="12.2" textLength="24.3" lengthAdjust="spacingAndGlyphs">100</text>
<ellipse cx="1088.5" cy="452.0" rx="1.55" ry="1.1" fill="none" stroke="#262626" stroke-width="0.85"/>
<text class="b" x="1096.7" y="464.6" font-size="12.2" textLength="13" lengthAdjust="spacingAndGlyphs">W</text>
<text class="b" x="1127.8" y="464.6" font-size="12.2" textLength="16.2" lengthAdjust="spacingAndGlyphs">90</text>
<ellipse cx="1148.4" cy="452.0" rx="1.55" ry="1.1" fill="none" stroke="#262626" stroke-width="0.85"/>
<text class="b" x="1156.6" y="464.6" font-size="12.2" textLength="13" lengthAdjust="spacingAndGlyphs">W</text>
<text class="b" x="1190.8" y="464.6" font-size="12.2" textLength="16.2" lengthAdjust="spacingAndGlyphs">80</text>
<ellipse cx="1211.4" cy="452.0" rx="1.55" ry="1.1" fill="none" stroke="#262626" stroke-width="0.85"/>
<text class="b" x="1219.6" y="464.6" font-size="12.2" textLength="13" lengthAdjust="spacingAndGlyphs">W</text>
<text class="b" x="1256.0" y="464.6" font-size="12.2" textLength="15.5" lengthAdjust="spacingAndGlyphs">70</text>
<ellipse cx="1275.9" cy="452.0" rx="1.55" ry="1.1" fill="none" stroke="#262626" stroke-width="0.85"/>
<text class="b" x="1284.1" y="464.6" font-size="12.2" textLength="13" lengthAdjust="spacingAndGlyphs">W</text>
<text class="b s5" x="104.60" y="341.4" font-size="24" textLength="117.80" lengthAdjust="spacingAndGlyphs">SAT+RAP</text>
<text class="b s5" x="232.80" y="341.4" font-size="24" textLength="116.28" lengthAdjust="spacingAndGlyphs">Negative</text>
<text class="b s5" x="356.68" y="341.4" font-size="24" textLength="75.08" lengthAdjust="spacingAndGlyphs">Lifted</text>
<text class="b s5" x="438.90" y="341.4" font-size="24" textLength="72.28" lengthAdjust="spacingAndGlyphs">Index</text>
<text class="b s5" x="631.16" y="341.2" font-size="24" textLength="120.14" lengthAdjust="spacingAndGlyphs">SAT+RAP</text>
<text class="b s5" x="759.14" y="341.2" font-size="24" textLength="67.28" lengthAdjust="spacingAndGlyphs">CAPE</text>
<text class="b s5" x="1034.92" y="341.9" font-size="24" textLength="73.28" lengthAdjust="spacingAndGlyphs">Cloud</text>
<text class="b s5" x="1115.90" y="341.9" font-size="24" textLength="71.28" lengthAdjust="spacingAndGlyphs">Press</text>
<text class="b s5" x="1196.70" y="341.9" font-size="24" textLength="67.50" lengthAdjust="spacingAndGlyphs">(hPa)</text>
<text class="b s5" x="107.92" y="731.4" font-size="24" textLength="110.26" lengthAdjust="spacingAndGlyphs">SAT-RAP</text>
<text class="b s5" x="227.68" y="731.4" font-size="24" textLength="115.72" lengthAdjust="spacingAndGlyphs">Negative</text>
<text class="b s5" x="351.80" y="731.4" font-size="24" textLength="75.42" lengthAdjust="spacingAndGlyphs">Lifted</text>
<text class="b s5" x="434.24" y="731.4" font-size="24" textLength="71.48" lengthAdjust="spacingAndGlyphs">Index</text>
<text class="b s5" x="635.14" y="730.8" font-size="24" textLength="111.60" lengthAdjust="spacingAndGlyphs">SAT-RAP</text>
<text class="b s5" x="755.38" y="730.8" font-size="24" textLength="65.46" lengthAdjust="spacingAndGlyphs">CAPE</text>
<text class="b s5" x="958.82" y="731.9" font-size="24" textLength="96.80" lengthAdjust="spacingAndGlyphs">Surface</text>
<text class="b s5" x="1065.60" y="731.9" font-size="24" textLength="55.94" lengthAdjust="spacingAndGlyphs">Skin</text>
<text class="b s5" x="1129.28" y="731.9" font-size="24" textLength="165.12" lengthAdjust="spacingAndGlyphs">Temperature</text>
<text class="b s5" x="1305.92" y="731.9" font-size="24" textLength="37.28" lengthAdjust="spacingAndGlyphs">(K)</text>
</svg></body></html>
